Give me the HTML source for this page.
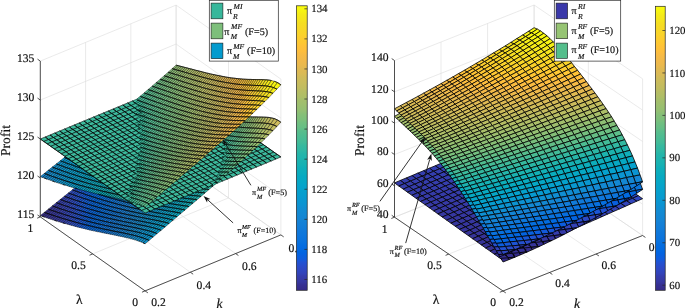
<!DOCTYPE html>
<html><head><meta charset="utf-8"><title>Profit surfaces</title>
<style>html,body{margin:0;padding:0;background:#fff}svg{display:block}text{stroke:#111;stroke-width:.18px;text-rendering:geometricPrecision}</style></head>
<body>
<svg width="685" height="308" viewBox="0 0 685 308" font-family="'Liberation Serif', serif" fill="#111">
<rect width="685" height="308" fill="#fff"/>
<g id="left">
<line x1="40.3" y1="216.9" x2="145.1" y2="290.9" stroke="#dcdcdc" stroke-width="0.6"/>
<line x1="85.57" y1="198.23" x2="190.37" y2="272.23" stroke="#dcdcdc" stroke-width="0.6"/>
<line x1="130.83" y1="179.57" x2="235.63" y2="253.57" stroke="#dcdcdc" stroke-width="0.6"/>
<line x1="176.1" y1="160.9" x2="280.9" y2="234.9" stroke="#dcdcdc" stroke-width="0.6"/>
<line x1="40.3" y1="216.9" x2="176.1" y2="160.9" stroke="#dcdcdc" stroke-width="0.6"/>
<line x1="92.7" y1="253.9" x2="228.5" y2="197.9" stroke="#dcdcdc" stroke-width="0.6"/>
<line x1="145.1" y1="290.9" x2="280.9" y2="234.9" stroke="#dcdcdc" stroke-width="0.6"/>
<line x1="40.3" y1="216.9" x2="40.3" y2="61.1" stroke="#dcdcdc" stroke-width="0.6"/>
<line x1="85.57" y1="198.23" x2="85.57" y2="42.43" stroke="#dcdcdc" stroke-width="0.6"/>
<line x1="130.83" y1="179.57" x2="130.83" y2="23.77" stroke="#dcdcdc" stroke-width="0.6"/>
<line x1="176.1" y1="160.9" x2="176.1" y2="5.1" stroke="#dcdcdc" stroke-width="0.6"/>
<line x1="40.3" y1="216.9" x2="176.1" y2="160.9" stroke="#dcdcdc" stroke-width="0.6"/>
<line x1="40.3" y1="177.95" x2="176.1" y2="121.95" stroke="#dcdcdc" stroke-width="0.6"/>
<line x1="40.3" y1="139" x2="176.1" y2="83" stroke="#dcdcdc" stroke-width="0.6"/>
<line x1="40.3" y1="100.05" x2="176.1" y2="44.05" stroke="#dcdcdc" stroke-width="0.6"/>
<line x1="40.3" y1="61.1" x2="176.1" y2="5.1" stroke="#dcdcdc" stroke-width="0.6"/>
<line x1="176.1" y1="160.9" x2="176.1" y2="5.1" stroke="#dcdcdc" stroke-width="0.6"/>
<line x1="228.5" y1="197.9" x2="228.5" y2="42.1" stroke="#dcdcdc" stroke-width="0.6"/>
<line x1="280.9" y1="234.9" x2="280.9" y2="79.1" stroke="#dcdcdc" stroke-width="0.6"/>
<line x1="176.1" y1="160.9" x2="280.9" y2="234.9" stroke="#dcdcdc" stroke-width="0.6"/>
<line x1="176.1" y1="121.95" x2="280.9" y2="195.95" stroke="#dcdcdc" stroke-width="0.6"/>
<line x1="176.1" y1="83" x2="280.9" y2="157" stroke="#dcdcdc" stroke-width="0.6"/>
<line x1="176.1" y1="44.05" x2="280.9" y2="118.05" stroke="#dcdcdc" stroke-width="0.6"/>
<line x1="176.1" y1="5.1" x2="280.9" y2="79.1" stroke="#dcdcdc" stroke-width="0.6"/>
<g stroke="#000" stroke-width="0.42" stroke-linejoin="round">
<path d="M172.1 68.7l1.9 .5 4-3.6-1.9-.5z" fill="#8fbf74"/>
<path d="M168.1 72.3l1.9 .5 4-3.6-1.9-.5z" fill="#87bf77"/>
<path d="M174 69.2l1.9 .6 4-3.7-1.9-.5z" fill="#93bf72"/>
<path d="M164.1 75.8l1.9 .6 4-3.6-1.9-.5z" fill="#7ebf7b"/>
<path d="M170 72.8l1.9 .6 4-3.6-1.9-.6z" fill="#8abf76"/>
<path d="M160.1 79.3l1.9 .6 4-3.5-1.9-.6z" fill="#74bf7f"/>
<path d="M175.9 69.8l1.9 .5 4-3.7-1.9-.5z" fill="#97bf71"/>
<path d="M166 76.4l2 .6 3.9-3.6-1.9-.6z" fill="#81bf79"/>
<path d="M156.1 82.7l2 .7 3.9-3.5-1.9-.6z" fill="#6bbf83"/>
<path d="M171.9 73.4l2 .6 3.9-3.7-1.9-.5z" fill="#8ebf74"/>
<path d="M162 79.9l2 .6 4-3.5-2-.6z" fill="#78bf7d"/>
<path d="M177.8 70.3l2 .5 3.9-3.7-1.9-.5z" fill="#9abf6f"/>
<path d="M152.1 86.2l2 .6 4-3.4-2-.7z" fill="#62be87"/>
<path d="M168 77l1.9 .6 4-3.6-2-.6z" fill="#85bf78"/>
<path d="M158.1 83.4l1.9 .6 4-3.5-2-.6z" fill="#6fbf81"/>
<path d="M173.9 74l1.9 .6 4-3.8-2-.5z" fill="#91bf73"/>
<path d="M148.1 89.6l2 .7 4-3.5-2-.6z" fill="#59bd8c"/>
<path d="M164 80.5l1.9 .7 4-3.6-1.9-.6z" fill="#7cbf7c"/>
<path d="M179.8 70.8l1.9 .6 3.9-3.8-1.9-.5z" fill="#9dbe6e"/>
<path d="M154.1 86.8l1.9 .7 4-3.5-1.9-.6z" fill="#66be85"/>
<path d="M169.9 77.6l1.9 .6 4-3.6-1.9-.6z" fill="#88bf76"/>
<path d="M144.1 93l2 .7 4-3.4-2-.7z" fill="#50bc90"/>
<path d="M160 84l1.9 .7 4-3.5-1.9-.7z" fill="#73bf80"/>
<path d="M175.8 74.6l1.9 .5 4-3.7-1.9-.6z" fill="#95bf71"/>
<path d="M150.1 90.3l1.9 .6 4-3.4-1.9-.7z" fill="#5cbe8a"/>
<path d="M165.9 81.2l1.9 .6 4-3.6-1.9-.6z" fill="#7fbf7a"/>
<path d="M181.7 71.4l1.9 .5 3.9-3.8-1.9-.5z" fill="#a1be6c"/>
<path d="M140.2 96.3l1.9 .7 4-3.3-2-.7z" fill="#48bb95"/>
<path d="M156 87.5l1.9 .7 4-3.5-1.9-.7z" fill="#69be84"/>
<path d="M171.8 78.2l1.9 .6 4-3.7-1.9-.5z" fill="#8cbf75"/>
<path d="M146.1 93.7l1.9 .6 4-3.4-1.9-.6z" fill="#53bd8e"/>
<path d="M161.9 84.7l1.9 .6 4-3.5-1.9-.6z" fill="#76bf7e"/>
<path d="M177.7 75.1l1.9 .6 4-3.8-1.9-.5z" fill="#98bf70"/>
<path d="M152 90.9l2 .7 3.9-3.4-1.9-.7z" fill="#60be88"/>
<path d="M136.7 99.9l1.4 .5 4-3.4-1.9-.7-3.6 3z" fill="#40ba99" stroke="#40ba99" stroke-width=".3"/>
<path d="M136.7 99.9l1.4 .5M138.1 100.4l4-3.4M142.1 97l-1.9-.7M140.2 96.3l-3.6 3" fill="none"/>
<path d="M167.8 81.8l1.9 .6 4-3.6-1.9-.6z" fill="#83bf79"/>
<path d="M183.6 71.9l1.9 .6 3.9-3.9-1.9-.5z" fill="#a4be6b"/>
<path d="M142.1 97l1.9 .7 4-3.4-1.9-.6z" fill="#4bbc93"/>
<path d="M157.9 88.2l2 .6 3.9-3.5-1.9-.6z" fill="#6dbf82"/>
<path d="M173.7 78.8l1.9 .6 4-3.7-1.9-.6z" fill="#8fbf74"/>
<path d="M137.3 102.9l3.5-1.4-3.5-2.5-.7 .3z" fill="#3bb99c" stroke="#3bb99c" stroke-width=".3"/>
<path d="M137.3 102.9l3.5-1.4M140.8 101.5l-3.5-2.5M137.3 99l-.7 .3" fill="none"/>
<path d="M148 94.3l2 .7 4-3.4-2-.7z" fill="#57bd8d"/>
<path d="M137 101.3l1.1-.9-1.4-.5z" fill="#38b99e" stroke="#38b99e" stroke-width=".3"/>
<path d="M137 101.3l1.1-.9M138.1 100.4l-1.4-.5" fill="none"/>
<path d="M163.8 85.3l2 .7 3.9-3.6-1.9-.6z" fill="#7abf7d"/>
<path d="M179.6 75.7l1.9 .6 4-3.8-1.9-.6z" fill="#9bbf6f"/>
<path d="M154 91.6l1.9 .7 4-3.5-2-.6z" fill="#64be86"/>
<path d="M138.1 100.4l2 .7 3.9-3.4-1.9-.7z" fill="#43bb97"/>
<path d="M169.7 82.4l2 .7 3.9-3.7-1.9-.6z" fill="#86bf77"/>
<path d="M185.5 72.5l1.9 .5 4-3.9-2-.5z" fill="#a7be6a"/>
<path d="M132.4 101l3.5 2.5 1.4-.6-.7-3.6z" fill="#3bb99c" stroke="#3bb99c" stroke-width=".3"/>
<path d="M132.4 101l3.5 2.5M135.9 103.5l1.4-.6M136.6 99.3l-4.2 1.7" fill="none"/>
<path d="M144 97.7l2 .7 4-3.4-2-.7z" fill="#4ebc91"/>
<path d="M159.9 88.8l1.9 .7 4-3.5-2-.7z" fill="#70bf80"/>
<path d="M175.6 79.4l2 .6 3.9-3.7-1.9-.6z" fill="#92bf72"/>
<path d="M137.3 103.4l2.8-2.3-2-.7-1.1 .9z" fill="#3bb99c" stroke="#3bb99c" stroke-width=".3"/>
<path d="M137.3 103.4l2.8-2.3M140.1 101.1l-2-.7M138.1 100.4l-1.1 .9" fill="none"/>
<path d="M150 95l1.9 .7 4-3.4-1.9-.7z" fill="#5abd8b"/>
<path d="M165.8 86l1.9 .6 4-3.5-2-.7z" fill="#7dbf7b"/>
<path d="M181.5 76.3l1.9 .6 4-3.9-1.9-.5z" fill="#9ebe6d"/>
<path d="M134.1 103.7l2 .7 1.2-1-.3-2.1z" fill="#3bb99c" stroke="#3bb99c" stroke-width=".3"/>
<path d="M134.1 103.7l2 .7M136.1 104.4l1.2-1M137 101.3l-2.9 2.4" fill="none"/>
<path d="M155.9 92.3l1.9 .7 4-3.5-1.9-.7z" fill="#67be85"/>
<path d="M140.1 101.1l1.9 .7 4-3.4-2-.7z" fill="#46bb96"/>
<path d="M171.7 83.1l1.9 .6 4-3.7-2-.6z" fill="#89bf76"/>
<path d="M127.6 103l3.5 2.5 4.8-2-3.5-2.5z" fill="#3bb99c" stroke-width=".56"/>
<path d="M187.4 73l1.9 .6 4-4-1.9-.5z" fill="#abbe69"/>
<path d="M146 98.4l1.9 .7 4-3.4-1.9-.7z" fill="#52bd8f"/>
<path d="M161.8 89.5l1.9 .7 4-3.6-1.9-.6z" fill="#74bf7f"/>
<path d="M130.1 107l2 .7 4-3.3-2-.7z" fill="#34b8a0"/>
<path d="M177.6 80l1.9 .6 3.9-3.7-1.9-.6z" fill="#96bf71"/>
<path d="M135.9 103.5l1.7 1.1-.3-1.7z" fill="#3bb99c" stroke="#3bb99c" stroke-width=".3"/>
<path d="M135.9 103.5l1.7 1.1M137.3 102.9l-1.4 .6" fill="none"/>
<path d="M137.6 104.6l1.8 1.3 4.9-2-3.5-2.4-3.5 1.4z" fill="#3bb99c" stroke="#3bb99c" stroke-width=".3"/>
<path d="M137.6 104.6l1.8 1.3M139.4 105.9l4.9-2M144.3 103.9l-3.5-2.4M140.8 101.5l-3.5 1.4" fill="none"/>
<path d="M151.9 95.7l2 .7 3.9-3.4-1.9-.7z" fill="#5ebe89"/>
<path d="M167.7 86.6l1.9 .7 4-3.6-1.9-.6z" fill="#80bf7a"/>
<path d="M136.1 104.4l1.5 .6-.3-1.6z" fill="#3eba9a" stroke="#3eba9a" stroke-width=".3"/>
<path d="M136.1 104.4l1.5 .6M137.3 103.4l-1.2 1" fill="none"/>
<path d="M137.6 105l.4 .1 4-3.3-1.9-.7-2.8 2.3z" fill="#3eba9a" stroke="#3eba9a" stroke-width=".3"/>
<path d="M137.6 105l.4 .1M138 105.1l4-3.3M142 101.8l-1.9-.7M140.1 101.1l-2.8 2.3" fill="none"/>
<path d="M183.4 76.9l2 .6 3.9-3.9-1.9-.6z" fill="#a2be6c"/>
<path d="M157.8 93l2 .6 3.9-3.4-1.9-.7z" fill="#6bbe83"/>
<path d="M142 101.8l2 .7 3.9-3.4-1.9-.7z" fill="#49bc94"/>
<path d="M173.6 83.7l1.9 .6 4-3.7-1.9-.6z" fill="#8dbf75"/>
<path d="M72.3 189.9l2 .7 4-3.2-2.1-.8z" fill="#264ecd"/>
<path d="M189.3 73.6l1.9 .5 4-4-1.9-.5z" fill="#aebe67"/>
<path d="M147.9 99.1l2 .7 4-3.4-2-.7z" fill="#55bd8e"/>
<path d="M163.7 90.2l2 .6 3.9-3.5-1.9-.7z" fill="#77bf7d"/>
<path d="M179.5 80.6l1.9 .7 4-3.8-2-.6z" fill="#99bf70"/>
<path d="M122.8 105l3.4 2.5 4.9-2-3.5-2.5z" fill="#3bb99c" stroke-width=".56"/>
<path d="M153.9 96.4l1.9 .7 4-3.5-2-.6z" fill="#61be87"/>
<path d="M169.6 87.3l2 .6 3.9-3.6-1.9-.6z" fill="#84bf78"/>
<path d="M138 105.1l2 .7 4-3.3-2-.7z" fill="#41ba98"/>
<path d="M131.1 105.5l3.5 2.4 3.3-1.3-.3-2-1.7-1.1z" fill="#3bb99c" stroke="#3bb99c" stroke-width=".3"/>
<path d="M131.1 105.5l3.5 2.4M134.6 107.9l3.3-1.3M137.6 104.6l-1.7-1.1M135.9 103.5l-4.8 2" fill="none"/>
<path d="M137.9 106.6l1.5-.7-1.8-1.3z" fill="#3bb99c" stroke="#3bb99c" stroke-width=".3"/>
<path d="M137.9 106.6l1.5-.7M139.4 105.9l-1.8-1.3" fill="none"/>
<path d="M185.4 77.5l1.9 .5 3.9-3.9-1.9-.5z" fill="#a5be6b"/>
<path d="M68.3 193.1l2 .7 4-3.2-2-.7z" fill="#2d49c4"/>
<path d="M159.8 93.6l1.9 .7 4-3.5-2-.6z" fill="#6ebf81"/>
<path d="M144 102.5l1.9 .7 4-3.4-2-.7z" fill="#4cbc92"/>
<path d="M175.5 84.3l1.9 .6 4-3.6-1.9-.7z" fill="#90bf73"/>
<path d="M138 107.4l2-1.6-2-.7-.3 .3z" fill="#3ab99d" stroke="#3ab99d" stroke-width=".3"/>
<path d="M138 107.4l2-1.6M140 105.8l-2-.7M138 105.1l-.3 .3" fill="none"/>
<path d="M74.3 190.6l2 .7 4-3.2-2-.7z" fill="#2351d1"/>
<path d="M191.2 74.1l1.9 .6 4-4.1-1.9-.5z" fill="#b1bd66"/>
<path d="M149.9 99.8l1.9 .7 4-3.4-1.9-.7z" fill="#58bd8c"/>
<path d="M165.7 90.8l1.9 .7 4-3.6-2-.6z" fill="#7bbf7c"/>
<path d="M181.4 81.3l1.9 .6 4-3.9-1.9-.5z" fill="#9cbf6e"/>
<path d="M134 108.4l2 .8 2-1.8-.3-2z" fill="#3ab99d" stroke="#3ab99d" stroke-width=".3"/>
<path d="M134 108.4l2 .8M136 109.2l2-1.8M137.7 105.4l-3.7 3" fill="none"/>
<path d="M64.3 196.3l2 .7 4-3.2-2-.7z" fill="#3144bb"/>
<path d="M155.8 97.1l1.9 .7 4-3.5-1.9-.7z" fill="#65be86"/>
<path d="M171.6 87.9l1.9 .7 3.9-3.7-1.9-.6z" fill="#87bf77"/>
<path d="M140 105.8l1.9 .7 4-3.3-1.9-.7z" fill="#44bb96"/>
<path d="M117.9 107l3.5 2.5 4.8-2-3.4-2.5z" fill="#3bb99c" stroke-width=".56"/>
<path d="M187.3 78l1.9 .6 3.9-3.9-1.9-.6z" fill="#a8be6a"/>
<path d="M70.3 193.8l2 .7 4-3.2-2-.7z" fill="#2a4bc8"/>
<path d="M161.7 94.3l1.9 .7 4-3.5-1.9-.7z" fill="#72bf80"/>
<path d="M145.9 103.2l2 .7 3.9-3.4-1.9-.7z" fill="#50bc90"/>
<path d="M126.2 107.5l3.5 2.4 4.9-2-3.5-2.4z" fill="#3bb99c" stroke-width=".56"/>
<path d="M177.4 84.9l2 .7 3.9-3.7-1.9-.6z" fill="#93bf72"/>
<path d="M138.5 110.2l4.4-1.8-3.5-2.5-1.5 .7z" fill="#3bb99c" stroke="#3bb99c" stroke-width=".3"/>
<path d="M138.5 110.2l4.4-1.8M142.9 108.4l-3.5-2.5M139.4 105.9l-1.5 .7" fill="none"/>
<path d="M76.3 191.3l2 .7 4-3.2-2-.7z" fill="#1f53d4"/>
<path d="M138.4 109.5l3.5-3-1.9-.7-2 1.6z" fill="#3dba9b" stroke="#3dba9b" stroke-width=".3"/>
<path d="M138.4 109.5l3.5-3M141.9 106.5l-1.9-.7M140 105.8l-2 1.6" fill="none"/>
<path d="M60.3 199.5l2 .7 4-3.2-2-.7z" fill="#3440b3"/>
<path d="M193.1 74.7l1.9 .5 4-4.2-1.9-.4z" fill="#b4bd65"/>
<path d="M151.8 100.5l2 .7 3.9-3.4-1.9-.7z" fill="#5cbe8a"/>
<path d="M167.6 91.5l1.9 .6 4-3.5-1.9-.7z" fill="#7ebf7b"/>
<path d="M183.3 81.9l1.9 .6 4-3.9-1.9-.6z" fill="#9fbe6d"/>
<path d="M66.3 197l2 .7 4-3.2-2-.7z" fill="#2f47bf"/>
<path d="M157.7 97.8l2 .6 3.9-3.4-1.9-.7z" fill="#69be84"/>
<path d="M173.5 88.6l1.9 .6 4-3.6-2-.7z" fill="#8abf76"/>
<path d="M141.9 106.5l2 .7 4-3.3-2-.7z" fill="#48bb95"/>
<path d="M134.6 107.9l3.5 2.5 .4-.2-.6-3.6z" fill="#3bb99c" stroke="#3bb99c" stroke-width=".3"/>
<path d="M134.6 107.9l3.5 2.5M138.1 110.4l.4-.2M137.9 106.6l-3.3 1.3" fill="none"/>
<path d="M189.2 78.6l1.9 .6 3.9-4-1.9-.5z" fill="#abbe68"/>
<path d="M72.3 194.5l2 .7 4-3.2-2-.7z" fill="#274ecc"/>
<path d="M113 109l3.5 2.5 4.9-2-3.5-2.5z" fill="#3bb99c" stroke-width=".56"/>
<path d="M163.6 95l2 .7 3.9-3.6-1.9-.6z" fill="#75bf7e"/>
<path d="M56.3 202.7l2 .8 4-3.3-2-.7z" fill="#353caa"/>
<path d="M147.9 103.9l1.9 .7 4-3.4-2-.7z" fill="#53bd8e"/>
<path d="M179.4 85.6l1.9 .6 3.9-3.7-1.9-.6z" fill="#96bf71"/>
<path d="M132 112.5l2 .7 4-3.3-2-.7z" fill="#36b89f"/>
<path d="M121.4 109.5l3.5 2.4 4.8-2-3.5-2.4z" fill="#3bb99c" stroke-width=".56"/>
<path d="M138 109.9l.5 .2-.1-.6z" fill="#40ba99" stroke="#40ba99" stroke-width=".3"/>
<path d="M138 109.9l.5 .2M138.4 109.5l-.4 .4" fill="none"/>
<path d="M78.3 192l2 .7 4-3.2-2-.7z" fill="#1956d7"/>
<path d="M195 75.2l2 .5 3.9-4.2-1.9-.5z" fill="#b7bd63"/>
<path d="M153.8 101.2l1.9 .7 4-3.5-2-.6z" fill="#60be88"/>
<path d="M169.5 92.1l2 .7 3.9-3.6-1.9-.6z" fill="#82bf79"/>
<path d="M62.3 200.2l2 .8 4-3.3-2-.7z" fill="#3342b7"/>
<path d="M138.5 110.1l1.4 .5 4-3.4-2-.7-3.5 3z" fill="#40ba99" stroke="#40ba99" stroke-width=".3"/>
<path d="M138.5 110.1l1.4 .5M139.9 110.6l4-3.4M143.9 107.2l-2-.7M141.9 106.5l-3.5 3" fill="none"/>
<path d="M185.2 82.5l2 .6 3.9-3.9-1.9-.6z" fill="#a2be6c"/>
<path d="M129.7 109.9l3.5 2.5 4.9-2-3.5-2.5z" fill="#3bb99c" stroke-width=".56"/>
<path d="M159.7 98.4l1.9 .7 4-3.4-2-.7z" fill="#6cbf82"/>
<path d="M68.3 197.7l2.1 .8 3.9-3.3-2-.7z" fill="#2d49c3"/>
<path d="M175.4 89.2l1.9 .6 4-3.6-1.9-.6z" fill="#8ebf74"/>
<path d="M143.9 107.2l1.9 .7 4-3.3-1.9-.7z" fill="#4bbc93"/>
<path d="M52.3 205.9l2 .8 4-3.2-2-.8z" fill="#3637a2"/>
<path d="M138.6 110.8l3 2.1 4.8-2-3.5-2.5-4.4 1.8z" fill="#3bb99c" stroke="#3bb99c" stroke-width=".3"/>
<path d="M138.6 110.8l3 2.1M141.6 112.9l4.8-2M146.4 110.9l-3.5-2.5M142.9 108.4l-4.4 1.8" fill="none"/>
<path d="M191.1 79.2l1.9 .6 4-4.1-2-.5z" fill="#aebe67"/>
<path d="M165.6 95.7l1.9 .6 4-3.5-2-.7z" fill="#79bf7d"/>
<path d="M74.3 195.2l2.1 .7 3.9-3.2-2-.7z" fill="#2350d0"/>
<path d="M134 113.2l2 .7 2.7-2.3-.2-1.5-.5-.2z" fill="#38b99d" stroke="#38b99d" stroke-width=".3"/>
<path d="M134 113.2l2 .7M136 113.9l2.7-2.3M138.5 110.1l-.5-.2M138 109.9l-4 3.3" fill="none"/>
<path d="M149.8 104.6l2 .7 3.9-3.4-1.9-.7z" fill="#57bd8d"/>
<path d="M58.3 203.5l2.1 .7 3.9-3.2-2-.8z" fill="#353eae"/>
<path d="M138.7 111.6l1.2-1-1.4-.5z" fill="#38b99d" stroke="#38b99d" stroke-width=".3"/>
<path d="M138.7 111.6l1.2-1M139.9 110.6l-1.4-.5" fill="none"/>
<path d="M181.3 86.2l1.9 .6 4-3.7-2-.6z" fill="#9abf6f"/>
<path d="M108.2 111l3.5 2.5 4.8-2-3.5-2.5z" fill="#3bb99c" stroke-width=".56"/>
<path d="M155.7 101.9l2 .7 3.9-3.5-1.9-.7z" fill="#63be87"/>
<path d="M80.3 192.7l2.1 .7 3.9-3.2-2-.7z" fill="#1459da"/>
<path d="M171.5 92.8l1.9 .6 3.9-3.6-1.9-.6z" fill="#85bf78"/>
<path d="M197 75.7l1.9 .6 3.9-4.3-1.9-.5z" fill="#bbbd62"/>
<path d="M64.3 201l2.1 .7 4-3.2-2.1-.8z" fill="#3144bb"/>
<path d="M139.9 110.6l2 .7 3.9-3.4-1.9-.7z" fill="#43bb97"/>
<path d="M48.3 209.2l2 .7 4-3.2-2-.8z" fill="#363399"/>
<path d="M187.2 83.1l1.9 .5 3.9-3.8-1.9-.6z" fill="#a5be6b"/>
<path d="M116.5 111.5l3.5 2.4 4.9-2-3.5-2.4z" fill="#3bb99c" stroke-width=".56"/>
<path d="M161.6 99.1l2 .7 3.9-3.5-1.9-.6z" fill="#70bf81"/>
<path d="M177.3 89.8l2 .7 3.9-3.7-1.9-.6z" fill="#91bf73"/>
<path d="M145.8 107.9l2 .7 4-3.3-2-.7z" fill="#4ebc91"/>
<path d="M70.4 198.5l2 .7 4-3.3-2.1-.7z" fill="#2b4bc7"/>
<path d="M54.3 206.7l2.1 .7 4-3.2-2.1-.7z" fill="#3639a5"/>
<path d="M124.9 111.9l3.5 2.5 4.8-2-3.5-2.5z" fill="#3bb99c" stroke-width=".56"/>
<path d="M193 79.8l1.9 .5 4-4-1.9-.6z" fill="#b1bd66"/>
<path d="M139.1 113.6l2.8-2.3-2-.7-1.2 1z" fill="#3bba9c" stroke="#3bba9c" stroke-width=".3"/>
<path d="M139.1 113.6l2.8-2.3M141.9 111.3l-2-.7M139.9 110.6l-1.2 1" fill="none"/>
<path d="M167.5 96.3l2 .7 3.9-3.6-1.9-.6z" fill="#7cbf7b"/>
<path d="M133.2 112.4l3.5 2.5 2.4-1-.5-3.1-.5-.4z" fill="#3bb99c" stroke="#3bb99c" stroke-width=".3"/>
<path d="M133.2 112.4l3.5 2.5M136.7 114.9l2.4-1M138.6 110.8l-.5-.4M138.1 110.4l-4.9 2" fill="none"/>
<path d="M151.8 105.3l1.9 .7 4-3.4-2-.7z" fill="#5abd8b"/>
<path d="M139.1 113.9l2.5-1-3-2.1z" fill="#3bb99c" stroke="#3bb99c" stroke-width=".3"/>
<path d="M139.1 113.9l2.5-1M141.6 112.9l-3-2.1" fill="none"/>
<path d="M76.4 195.9l2 .7 4-3.2-2.1-.7z" fill="#1f53d4"/>
<path d="M183.2 86.8l1.9 .6 4-3.8-1.9-.5z" fill="#9dbf6e"/>
<path d="M60.4 204.2l2 .7 4-3.2-2.1-.7z" fill="#3440b2"/>
<path d="M44.3 212.4l2 .7 4-3.2-2-.7z" fill="#362f91"/>
<path d="M136 113.9l1.9 .7 1.2-1-.4-2z" fill="#3bba9c" stroke="#3bba9c" stroke-width=".3"/>
<path d="M136 113.9l1.9 .7M137.9 114.6l1.2-1M138.7 111.6l-2.7 2.3" fill="none"/>
<path d="M157.7 102.6l1.9 .6 4-3.4-2-.7z" fill="#67be85"/>
<path d="M173.4 93.4l1.9 .7 4-3.6-2-.7z" fill="#88bf76"/>
<path d="M198.9 76.3l1.9 .5 3.9-4.3-1.9-.5z" fill="#bebc61"/>
<path d="M82.4 193.4l2 .7 3.9-3.2-2-.7z" fill="#0f5cdd"/>
<path d="M141.9 111.3l1.9 .7 4-3.4-2-.7z" fill="#46bb96"/>
<path d="M66.4 201.7l2 .7 4-3.2-2-.7z" fill="#2f46bf"/>
<path d="M50.3 209.9l2.1 .7 4-3.2-2.1-.7z" fill="#36359d"/>
<path d="M189.1 83.6l1.9 .6 3.9-3.9-1.9-.5z" fill="#a9be69"/>
<path d="M103.4 113l3.4 2.5 4.9-2-3.5-2.5z" fill="#3bb99c" stroke-width=".56"/>
<path d="M163.6 99.8l1.9 .7 4-3.5-2-.7z" fill="#73bf7f"/>
<path d="M179.3 90.5l1.9 .6 3.9-3.7-1.9-.6z" fill="#94bf72"/>
<path d="M147.8 108.6l2 .7 3.9-3.3-1.9-.7z" fill="#52bd8f"/>
<path d="M72.4 199.2l2 .7 4-3.3-2-.7z" fill="#274dcb"/>
<path d="M111.7 113.5l3.5 2.4 4.8-2-3.5-2.4z" fill="#3bb99c" stroke-width=".56"/>
<path d="M132 117.2l2 .7 3.9-3.3-1.9-.7z" fill="#34b8a0"/>
<path d="M56.4 207.4l2 .7 4-3.2-2-.7z" fill="#353ba9"/>
<path d="M40.3 215.6l2.1 .7 3.9-3.2-2-.7z" fill="#352b88"/>
<path d="M194.9 80.3l1.9 .6 4-4.1-1.9-.5z" fill="#b4bd65"/>
<path d="M169.5 97l1.9 .6 3.9-3.5-1.9-.7z" fill="#80bf7a"/>
<path d="M153.7 106l2 .6 3.9-3.4-1.9-.6z" fill="#5ebe89"/>
<path d="M120 113.9l3.5 2.5 4.9-2-3.5-2.5z" fill="#3bb99c" stroke-width=".56"/>
<path d="M185.1 87.4l2 .6 3.9-3.8-1.9-.6z" fill="#a0be6d"/>
<path d="M78.4 196.6l2 .7 4-3.2-2-.7z" fill="#1a56d7"/>
<path d="M137.9 114.6l1.4 .5-.2-1.5z" fill="#3eba9a" stroke="#3eba9a" stroke-width=".3"/>
<path d="M137.9 114.6l1.4 .5M139.1 113.6l-1.2 1" fill="none"/>
<path d="M62.4 204.9l2 .7 4-3.2-2-.7z" fill="#3342b6"/>
<path d="M139.3 115.1l.6 .2 3.9-3.3-1.9-.7-2.8 2.3z" fill="#3eba9a" stroke="#3eba9a" stroke-width=".3"/>
<path d="M139.3 115.1l.6 .2M139.9 115.3l3.9-3.3M143.8 112l-1.9-.7M141.9 111.3l-2.8 2.3" fill="none"/>
<path d="M46.3 213.1l2.1 .7 4-3.2-2.1-.7z" fill="#363195"/>
<path d="M159.6 103.2l2 .7 3.9-3.4-1.9-.7z" fill="#6abe83"/>
<path d="M175.3 94.1l2 .6 3.9-3.6-1.9-.6z" fill="#8cbf75"/>
<path d="M128.4 114.4l3.5 2.5 4.8-2-3.5-2.5z" fill="#3bb99c" stroke-width=".56"/>
<path d="M200.8 76.8l1.9 .5 3.9-4.3-1.9-.5z" fill="#c1bc60"/>
<path d="M143.8 112l2 .7 4-3.4-2-.7z" fill="#49bc94"/>
<path d="M84.4 194.1l2 .7 4-3.2-2.1-.7z" fill="#0b5edf"/>
<path d="M191 84.2l1.9 .6 3.9-3.9-1.9-.6z" fill="#acbe68"/>
<path d="M68.4 202.4l2 .7 4-3.2-2-.7z" fill="#2d48c3"/>
<path d="M52.4 210.6l2 .7 4-3.2-2-.7z" fill="#3637a1"/>
<path d="M165.5 100.5l1.9 .6 4-3.5-1.9-.6z" fill="#77bf7e"/>
<path d="M181.2 91.1l1.9 .6 4-3.7-2-.6z" fill="#97bf70"/>
<path d="M149.8 109.3l1.9 .7 4-3.4-2-.6z" fill="#55bd8e"/>
<path d="M136.7 114.9l2.8 2-.4-3z" fill="#3bb99c" stroke="#3bb99c" stroke-width=".3"/>
<path d="M136.7 114.9l2.8 2M139.1 113.9l-2.4 1" fill="none"/>
<path d="M98.5 115l3.5 2.5 4.8-2-3.4-2.5z" fill="#3bb99c" stroke-width=".56"/>
<path d="M139.5 116.9l.7 .4 4.9-2-3.5-2.4-2.5 1z" fill="#3bb99c" stroke="#3bb99c" stroke-width=".3"/>
<path d="M139.5 116.9l.7 .4M140.2 117.3l4.9-2M145.1 115.3l-3.5-2.4M141.6 112.9l-2.5 1" fill="none"/>
<path d="M134 117.9l1.9 .7 3.5-2.9-.1-.6-1.4-.5z" fill="#37b99e" stroke="#37b99e" stroke-width=".3"/>
<path d="M134 117.9l1.9 .7M135.9 118.6l3.5-2.9M139.3 115.1l-1.4-.5M137.9 114.6l-3.9 3.3" fill="none"/>
<path d="M74.4 199.9l2 .6 4-3.2-2-.7z" fill="#2450d0"/>
<path d="M58.4 208.1l2 .7 4-3.2-2-.7z" fill="#353dad"/>
<path d="M42.4 216.3l2 .7 4-3.2-2.1-.7z" fill="#352d8c"/>
<path d="M139.4 115.7l.5-.4-.6-.2z" fill="#37b99e" stroke="#37b99e" stroke-width=".3"/>
<path d="M139.4 115.7l.5-.4M139.9 115.3l-.6-.2" fill="none"/>
<path d="M196.8 80.9l2 .5 3.9-4.1-1.9-.5z" fill="#b8bd63"/>
<path d="M171.4 97.6l1.9 .7 4-3.6-2-.6z" fill="#83bf79"/>
<path d="M155.7 106.6l1.9 .7 4-3.4-2-.7z" fill="#61be87"/>
<path d="M106.8 115.5l3.5 2.4 4.9-2-3.5-2.4z" fill="#3bb99c" stroke-width=".56"/>
<path d="M187.1 88l1.9 .6 3.9-3.8-1.9-.6z" fill="#a3be6c"/>
<path d="M139.9 115.3l1.9 .7 4-3.3-2-.7z" fill="#41bb98"/>
<path d="M80.4 197.3l2 .7 4-3.2-2-.7z" fill="#1559da"/>
<path d="M64.4 205.6l2.1 .7 3.9-3.2-2-.7z" fill="#3244ba"/>
<path d="M48.4 213.8l2 .7 4-3.2-2-.7z" fill="#363399"/>
<path d="M115.2 115.9l3.5 2.5 4.8-2-3.5-2.5z" fill="#3bb99c" stroke-width=".56"/>
<path d="M161.6 103.9l1.9 .7 3.9-3.5-1.9-.6z" fill="#6ebf82"/>
<path d="M177.3 94.7l1.9 .7 3.9-3.7-1.9-.6z" fill="#8fbf74"/>
<path d="M202.7 77.3l1.9 .5 3.9-4.4-1.9-.4z" fill="#c4bc5e"/>
<path d="M145.8 112.7l2 .7 3.9-3.4-1.9-.7z" fill="#4dbc92"/>
<path d="M86.4 194.8l2 .7 4-3.2-2-.7z" fill="#0760e0"/>
<path d="M192.9 84.8l1.9 .6 4-4-2-.5z" fill="#afbe67"/>
<path d="M70.4 203.1l2.1 .6 3.9-3.2-2-.6z" fill="#2b4bc7"/>
<path d="M54.4 211.3l2.1 .7 3.9-3.2-2-.7z" fill="#3639a5"/>
<path d="M139.7 117.8l2.1-1.8-1.9-.7-.5 .4z" fill="#3ab99c" stroke="#3ab99c" stroke-width=".3"/>
<path d="M139.7 117.8l2.1-1.8M141.8 116l-1.9-.7M139.9 115.3l-.5 .4" fill="none"/>
<path d="M123.5 116.4l3.5 2.5 4.9-2-3.5-2.5z" fill="#3bb99c" stroke-width=".56"/>
<path d="M167.4 101.1l2 .7 3.9-3.5-1.9-.7z" fill="#7abf7c"/>
<path d="M183.1 91.7l2 .6 3.9-3.7-1.9-.6z" fill="#9bbf6f"/>
<path d="M151.7 110l2 .7 3.9-3.4-1.9-.7z" fill="#58bd8c"/>
<path d="M76.4 200.5l2.1 .7 3.9-3.2-2-.7z" fill="#2053d4"/>
<path d="M131.9 116.9l3.5 2.4 4.2-1.7-.1-.7-2.8-2z" fill="#3bb99c" stroke="#3bb99c" stroke-width=".3"/>
<path d="M131.9 116.9l3.5 2.4M135.4 119.3l4.2-1.7M139.5 116.9l-2.8-2M136.7 114.9l-4.8 2" fill="none"/>
<path d="M60.4 208.8l2.1 .7 4-3.2-2.1-.7z" fill="#343fb2"/>
<path d="M135.9 118.6l2 .7 1.8-1.5-.3-2.1z" fill="#3ab99c" stroke="#3ab99c" stroke-width=".3"/>
<path d="M135.9 118.6l2 .7M137.9 119.3l1.8-1.5M139.4 115.7l-3.5 2.9" fill="none"/>
<path d="M198.8 81.4l1.9 .5 3.9-4.1-1.9-.5z" fill="#bbbd62"/>
<path d="M44.4 217l2.1 .7 3.9-3.2-2-.7z" fill="#362f90"/>
<path d="M93.6 117l3.5 2.5 4.9-2-3.5-2.5z" fill="#3bb99c" stroke-width=".56"/>
<path d="M139.6 117.6l.6-.3-.7-.4z" fill="#3bb99c" stroke="#3bb99c" stroke-width=".3"/>
<path d="M139.6 117.6l.6-.3M140.2 117.3l-.7-.4" fill="none"/>
<path d="M173.3 98.3l2 .6 3.9-3.5-1.9-.7z" fill="#86bf77"/>
<path d="M157.6 107.3l2 .7 3.9-3.4-1.9-.7z" fill="#65be86"/>
<path d="M189 88.6l1.9 .6 3.9-3.8-1.9-.6z" fill="#a6be6a"/>
<path d="M141.8 116l2 .7 4-3.3-2-.7z" fill="#45bb96"/>
<path d="M82.4 198l2.1 .7 3.9-3.2-2-.7z" fill="#0f5cdd"/>
<path d="M140.2 117.3l3.5 2.5 4.9-2-3.5-2.5z" fill="#3bb99c" stroke-width=".56"/>
<path d="M66.5 206.3l2 .6 4-3.2-2.1-.6z" fill="#3046be"/>
<path d="M102 117.5l3.5 2.4 4.8-2-3.5-2.4z" fill="#3bb99c" stroke-width=".56"/>
<path d="M50.4 214.5l2.1 .7 4-3.2-2.1-.7z" fill="#36359d"/>
<path d="M163.5 104.6l2 .6 3.9-3.4-2-.7z" fill="#71bf80"/>
<path d="M179.2 95.4l1.9 .6 4-3.7-2-.6z" fill="#92bf72"/>
<path d="M147.8 113.4l1.9 .6 4-3.3-2-.7z" fill="#50bc90"/>
<path d="M204.6 77.8l1.9 .5 3.9-4.4-1.9-.5z" fill="#c7bc5d"/>
<path d="M194.8 85.4l2 .5 3.9-4-1.9-.5z" fill="#b2bd66"/>
<path d="M88.4 195.5l2 .6 4-3.2-2-.6z" fill="#0363e1"/>
<path d="M132 121.9l1.9 .7 4-3.3-2-.7z" fill="#33b8a0"/>
<path d="M110.3 117.9l3.5 2.5 4.9-2-3.5-2.5z" fill="#3bb99c" stroke-width=".56"/>
<path d="M72.5 203.7l2 .7 4-3.2-2.1-.7z" fill="#284dcb"/>
<path d="M56.5 212l2 .7 4-3.2-2.1-.7z" fill="#353ba9"/>
<path d="M169.4 101.8l1.9 .6 4-3.5-2-.6z" fill="#7ebf7b"/>
<path d="M185.1 92.3l1.9 .6 3.9-3.7-1.9-.6z" fill="#9ebe6e"/>
<path d="M153.7 110.7l1.9 .7 4-3.4-2-.7z" fill="#5cbe8a"/>
<path d="M139.9 119.9l3.9-3.2-2-.7-2.1 1.8z" fill="#3dba9b" stroke="#3dba9b" stroke-width=".3"/>
<path d="M139.9 119.9l3.9-3.2M143.8 116.7l-2-.7M141.8 116l-2.1 1.8" fill="none"/>
<path d="M118.7 118.4l3.5 2.5 4.8-2-3.5-2.5z" fill="#3bb99c" stroke-width=".56"/>
<path d="M78.5 201.2l2 .7 4-3.2-2.1-.7z" fill="#1a56d7"/>
<path d="M200.7 81.9l1.9 .6 3.9-4.2-1.9-.5z" fill="#bebc61"/>
<path d="M62.5 209.5l2 .6 4-3.2-2-.6z" fill="#3342b6"/>
<path d="M46.5 217.7l2 .7 4-3.2-2.1-.7z" fill="#363194"/>
<path d="M175.3 98.9l1.9 .7 3.9-3.6-1.9-.6z" fill="#8abf76"/>
<path d="M159.6 108l1.9 .7 4-3.5-2-.6z" fill="#68be84"/>
<path d="M140.1 121.3l3.6-1.5-3.5-2.5-.6 .3z" fill="#3bb99c" stroke="#3bb99c" stroke-width=".3"/>
<path d="M140.1 121.3l3.6-1.5M143.7 119.8l-3.5-2.5M140.2 117.3l-.6 .3" fill="none"/>
<path d="M190.9 89.2l1.9 .6 4-3.9-2-.5z" fill="#a9be69"/>
<path d="M143.8 116.7l2 .7 3.9-3.4-1.9-.6z" fill="#48bb94"/>
<path d="M127 118.9l3.5 2.4 4.9-2-3.5-2.4z" fill="#3bb99c" stroke-width=".56"/>
<path d="M88.8 119l3.5 2.5 4.8-2-3.5-2.5z" fill="#3bb99c" stroke-width=".56"/>
<path d="M84.5 198.7l2 .6 3.9-3.2-2-.6z" fill="#0b5ede"/>
<path d="M68.5 206.9l2 .7 4-3.2-2-.7z" fill="#2e48c3"/>
<path d="M52.5 215.2l2 .7 4-3.2-2-.7z" fill="#3637a1"/>
<path d="M165.5 105.2l1.9 .7 3.9-3.5-1.9-.6z" fill="#75bf7f"/>
<path d="M181.1 96l2 .6 3.9-3.7-1.9-.6z" fill="#95bf71"/>
<path d="M149.7 114l2 .7 3.9-3.3-1.9-.7z" fill="#54bd8e"/>
<path d="M206.5 78.3l1.9 .5 3.9-4.5-1.9-.4z" fill="#cabb5c"/>
<path d="M196.8 85.9l1.9 .6 3.9-4-1.9-.6z" fill="#b5bd65"/>
<path d="M97.1 119.5l3.5 2.4 4.9-2-3.5-2.4z" fill="#3bb99c" stroke-width=".56"/>
<path d="M90.4 196.1l2.1 .7 3.9-3.2-2-.7z" fill="#0364e1"/>
<path d="M64.3 157.6l2 .8 4-3.2-2-.7z" fill="#079bd0"/>
<path d="M74.5 204.4l2 .7 4-3.2-2-.7z" fill="#2450cf"/>
<path d="M171.3 102.4l2 .7 3.9-3.5-1.9-.7z" fill="#81bf79"/>
<path d="M58.5 212.7l2.1 .6 3.9-3.2-2-.6z" fill="#353dad"/>
<path d="M135.4 119.3l3.5 2.5 1.2-.5-.5-3.7z" fill="#3bb99c" stroke="#3bb99c" stroke-width=".3"/>
<path d="M135.4 119.3l3.5 2.5M138.9 121.8l1.2-.5M139.6 117.6l-4.2 1.7" fill="none"/>
<path d="M187 92.9l1.9 .6 3.9-3.7-1.9-.6z" fill="#a1be6d"/>
<path d="M155.6 111.4l2 .6 3.9-3.3-1.9-.7z" fill="#60be88"/>
<path d="M140 120l1.8 .7 4-3.3-2-.7-3.9 3.2z" fill="#40ba99" stroke="#40ba99" stroke-width=".3"/>
<path d="M140 120l1.8 .7M141.8 120.7l4-3.3M145.8 117.4l-2-.7M143.8 116.7l-3.9 3.2" fill="none"/>
<path d="M105.5 119.9l3.5 2.5 4.8-2-3.5-2.5z" fill="#3bb99c" stroke-width=".56"/>
<path d="M80.5 201.9l2 .6 4-3.2-2-.6z" fill="#1559da"/>
<path d="M202.6 82.5l1.9 .5 3.9-4.2-1.9-.5z" fill="#c1bc60"/>
<path d="M177.2 99.6l1.9 .6 4-3.6-2-.6z" fill="#8dbf75"/>
<path d="M64.5 210.1l2.1 .7 3.9-3.2-2-.7z" fill="#3244ba"/>
<path d="M161.5 108.7l2 .6 3.9-3.4-1.9-.7z" fill="#6cbf82"/>
<path d="M48.5 218.4l2.1 .7 3.9-3.2-2-.7z" fill="#363398"/>
<path d="M113.8 120.4l3.5 2.5 4.9-2-3.5-2.5z" fill="#3bb99c" stroke-width=".56"/>
<path d="M192.8 89.8l2 .6 3.9-3.9-1.9-.6z" fill="#acbe68"/>
<path d="M145.8 117.4l1.9 .7 4-3.4-2-.7z" fill="#4bbc93"/>
<path d="M86.5 199.3l2 .7 4-3.2-2.1-.7z" fill="#0760e0"/>
<path d="M60.3 160.8l2 .8 4-3.2-2-.8z" fill="#0998d1"/>
<path d="M70.5 207.6l2.1 .7 3.9-3.2-2-.7z" fill="#2b4bc7"/>
<path d="M167.4 105.9l1.9 .6 4-3.4-2-.7z" fill="#78bf7d"/>
<path d="M183.1 96.6l1.9 .6 3.9-3.7-1.9-.6z" fill="#98bf70"/>
<path d="M122.2 120.9l3.5 2.4 4.8-2-3.5-2.4z" fill="#3bb99c" stroke-width=".56"/>
<path d="M54.5 215.9l2.1 .6 4-3.2-2.1-.6z" fill="#3639a5"/>
<path d="M151.7 114.7l1.9 .7 4-3.4-2-.6z" fill="#57bd8c"/>
<path d="M135.9 123.3l2 .7 2.3-2-.2-2-.1 0z" fill="#39b99d" stroke="#39b99d" stroke-width=".3"/>
<path d="M135.9 123.3l2 .7M137.9 124l2.3-2M140 120l-.1 0M139.9 120l-4 3.3" fill="none"/>
<path d="M140.2 122l1.6-1.3-1.8-.7z" fill="#39b99d" stroke="#39b99d" stroke-width=".3"/>
<path d="M140.2 122l1.6-1.3M141.8 120.7l-1.8-.7" fill="none"/>
<path d="M208.4 78.8l1.9 .4 3.9-4.5-1.9-.4z" fill="#cebb5a"/>
<path d="M83.9 121l3.5 2.5 4.9-2-3.5-2.5z" fill="#3bb99c" stroke-width=".56"/>
<path d="M198.7 86.5l1.9 .5 3.9-4-1.9-.5z" fill="#b8bd63"/>
<path d="M92.5 196.8l2 .6 3.9-3.1-2-.7z" fill="#0266e1"/>
<path d="M66.3 158.4l2 .7 4-3.1-2-.8z" fill="#079cd0"/>
<path d="M173.3 103.1l1.9 .6 3.9-3.5-1.9-.6z" fill="#85bf78"/>
<path d="M130.5 121.3l3.5 2.5 4.9-2-3.5-2.5z" fill="#3bb99c" stroke-width=".56"/>
<path d="M76.5 205.1l2.1 .6 3.9-3.2-2-.6z" fill="#2053d4"/>
<path d="M188.9 93.5l1.9 .6 4-3.7-2-.6z" fill="#a4be6b"/>
<path d="M157.6 112l1.9 .7 4-3.4-2-.6z" fill="#63be86"/>
<path d="M60.6 213.3l2 .7 4-3.2-2.1-.7z" fill="#343fb2"/>
<path d="M92.3 121.5l3.5 2.4 4.8-2-3.5-2.4z" fill="#3bb99c" stroke-width=".56"/>
<path d="M141.8 120.7l2 .7 3.9-3.3-1.9-.7z" fill="#44bb97"/>
<path d="M98.4 194.3l2 .6 4-3.2-2-.7z" fill="#036be0"/>
<path d="M138.9 121.8l1.4 1-.2-1.5z" fill="#3bb99c" stroke="#3bb99c" stroke-width=".3"/>
<path d="M138.9 121.8l1.4 1M140.1 121.3l-1.2 .5" fill="none"/>
<path d="M204.5 83l1.9 .5 3.9-4.3-1.9-.4z" fill="#c4bc5e"/>
<path d="M140.3 122.8l2.1 1.5 4.8-2-3.5-2.5-3.6 1.5z" fill="#3bb99c" stroke="#3bb99c" stroke-width=".3"/>
<path d="M140.3 122.8l2.1 1.5M142.4 124.3l4.8-2M147.2 122.3l-3.5-2.5M143.7 119.8l-3.6 1.5" fill="none"/>
<path d="M82.5 202.5l2.1 .7 3.9-3.2-2-.7z" fill="#0f5cdd"/>
<path d="M179.1 100.2l2 .6 3.9-3.6-1.9-.6z" fill="#90bf73"/>
<path d="M163.5 109.3l1.9 .7 3.9-3.5-1.9-.6z" fill="#70bf81"/>
<path d="M56.3 164l2 .7 4-3.1-2-.8z" fill="#0b95d2"/>
<path d="M100.6 121.9l3.5 2.5 4.9-2-3.5-2.5z" fill="#3bb99c" stroke-width=".56"/>
<path d="M66.6 210.8l2 .7 4-3.2-2.1-.7z" fill="#3046be"/>
<path d="M50.6 219.1l2 .6 4-3.2-2.1-.6z" fill="#36359d"/>
<path d="M194.8 90.4l1.9 .5 3.9-3.9-1.9-.5z" fill="#afbe67"/>
<path d="M147.7 118.1l2 .6 3.9-3.3-1.9-.7z" fill="#4fbc91"/>
<path d="M88.5 200l2 .6 4-3.2-2-.6z" fill="#0363e1"/>
<path d="M109 122.4l3.5 2.5 4.8-2-3.5-2.5z" fill="#3bb99c" stroke-width=".56"/>
<path d="M169.3 106.5l2 .7 3.9-3.5-1.9-.6z" fill="#7cbf7b"/>
<path d="M185 97.2l1.9 .6 3.9-3.7-1.9-.6z" fill="#9cbf6f"/>
<path d="M62.3 161.6l2 .7 4-3.2-2-.7z" fill="#0899d1"/>
<path d="M72.6 208.3l2 .6 4-3.2-2.1-.6z" fill="#274dcb"/>
<path d="M140.4 124.2l3.4-2.8-2-.7-1.6 1.3z" fill="#3cba9b" stroke="#3cba9b" stroke-width=".3"/>
<path d="M140.4 124.2l3.4-2.8M143.8 121.4l-2-.7M141.8 120.7l-1.6 1.3" fill="none"/>
<path d="M153.6 115.4l2 .7 3.9-3.4-1.9-.7z" fill="#5bbd8b"/>
<path d="M56.6 216.5l2 .7 4-3.2-2-.7z" fill="#353ba9"/>
<path d="M210.3 79.2l1.9 .5 3.9-4.6-1.9-.4z" fill="#d1bb59"/>
<path d="M200.6 87l1.9 .6 3.9-4.1-1.9-.5z" fill="#bbbd62"/>
<path d="M117.3 122.9l3.5 2.4 4.9-2-3.5-2.4z" fill="#3bb99c" stroke-width=".56"/>
<path d="M94.5 197.4l2 .7 3.9-3.2-2-.6z" fill="#0268e1"/>
<path d="M175.2 103.7l2 .6 3.9-3.5-2-.6z" fill="#88bf77"/>
<path d="M68.3 159.1l2.1 .8 3.9-3.2-2-.7z" fill="#079dcf"/>
<path d="M79.1 123l3.5 2.5 4.8-2-3.5-2.5z" fill="#3bb99c" stroke-width=".56"/>
<path d="M190.8 94.1l2 .6 3.9-3.8-1.9-.5z" fill="#a7be6a"/>
<path d="M78.6 205.7l2 .7 4-3.2-2.1-.7z" fill="#1a56d7"/>
<path d="M159.5 112.7l2 .7 3.9-3.4-1.9-.7z" fill="#67be85"/>
<path d="M52.3 167.1l2 .8 4-3.2-2-.7z" fill="#0e92d2"/>
<path d="M137.9 124l2 .6 .5-.4-.2-2.2z" fill="#3cba9b" stroke="#3cba9b" stroke-width=".3"/>
<path d="M137.9 124l2 .6M139.9 124.6l.5-.4M140.2 122l-2.3 2" fill="none"/>
<path d="M62.6 214l2.1 .7 3.9-3.2-2-.7z" fill="#3342b6"/>
<path d="M143.8 121.4l2 .6 3.9-3.3-2-.6z" fill="#47bb95"/>
<path d="M125.7 123.3l3.5 2.5 4.8-2-3.5-2.5z" fill="#3bb99c" stroke-width=".56"/>
<path d="M100.4 194.9l2.1 .6 3.9-3.2-2-.6z" fill="#046ce0"/>
<path d="M206.4 83.5l1.9 .5 3.9-4.3-1.9-.5z" fill="#c7bc5d"/>
<path d="M87.4 123.5l3.5 2.4 4.9-2-3.5-2.4z" fill="#3bb99c" stroke-width=".56"/>
<path d="M181.1 100.8l1.9 .6 3.9-3.6-1.9-.6z" fill="#94bf72"/>
<path d="M165.4 110l2 .6 3.9-3.4-2-.7z" fill="#73bf7f"/>
<path d="M84.6 203.2l2 .6 3.9-3.2-2-.6z" fill="#0b5edf"/>
<path d="M58.3 164.7l2.1 .8 3.9-3.2-2-.7z" fill="#0a96d1"/>
<path d="M196.7 90.9l1.9 .6 3.9-3.9-1.9-.6z" fill="#b2bd65"/>
<path d="M68.6 211.5l2.1 .6 3.9-3.2-2-.6z" fill="#2d48c3"/>
<path d="M149.7 118.7l2 .7 3.9-3.3-2-.7z" fill="#52bd8f"/>
<path d="M134 123.8l3.5 2.5 3-1.3-.2-2.2-1.4-1z" fill="#3bb99c" stroke="#3bb99c" stroke-width=".3"/>
<path d="M134 123.8l3.5 2.5M137.5 126.3l3-1.3M140.3 122.8l-1.4-1M138.9 121.8l-4.9 2" fill="none"/>
<path d="M52.6 219.7l2.1 .7 3.9-3.2-2-.7z" fill="#3637a1"/>
<path d="M140.5 125l1.9-.7-2.1-1.5z" fill="#3bb99c" stroke="#3bb99c" stroke-width=".3"/>
<path d="M140.5 125l1.9-.7M142.4 124.3l-2.1-1.5" fill="none"/>
<path d="M133.9 127.2l2 .7 4-3.3-2-.6z" fill="#35b89f"/>
<path d="M95.8 123.9l3.5 2.5 4.8-2-3.5-2.5z" fill="#3bb99c" stroke-width=".56"/>
<path d="M171.3 107.2l1.9 .6 4-3.5-2-.6z" fill="#80bf7a"/>
<path d="M186.9 97.8l2 .6 3.9-3.7-2-.6z" fill="#9fbe6d"/>
<path d="M90.5 200.6l2.1 .7 3.9-3.2-2-.7z" fill="#0364e1"/>
<path d="M64.3 162.3l2.1 .8 4-3.2-2.1-.8z" fill="#089bd0"/>
<path d="M155.6 116.1l2 .6 3.9-3.3-2-.7z" fill="#5ebe89"/>
<path d="M74.6 208.9l2.1 .7 3.9-3.2-2-.7z" fill="#2450d0"/>
<path d="M48.3 170.3l2 .8 4-3.2-2-.8z" fill="#108ed2"/>
<path d="M139.9 124.6l.6 .3-.1-.7z" fill="#3fba99" stroke="#3fba99" stroke-width=".3"/>
<path d="M139.9 124.6l.6 .3M140.4 124.2l-.5 .4" fill="none"/>
<path d="M58.6 217.2l2.1 .6 4-3.1-2.1-.7z" fill="#353dae"/>
<path d="M212.2 79.7l2 .4 3.9-4.6-2-.4z" fill="#d4bb58"/>
<path d="M202.5 87.6l1.9 .5 3.9-4.1-1.9-.5z" fill="#bebc61"/>
<path d="M140.5 124.9l1.3 .4 4-3.3-2-.6-3.4 2.8z" fill="#3fba99" stroke="#3fba99" stroke-width=".3"/>
<path d="M140.5 124.9l1.3 .4M141.8 125.3l4-3.3M145.8 122l-2-.6M143.8 121.4l-3.4 2.8" fill="none"/>
<path d="M104.1 124.4l3.5 2.5 4.9-2-3.5-2.5z" fill="#3bb99c" stroke-width=".56"/>
<path d="M177.2 104.3l1.9 .6 3.9-3.5-1.9-.6z" fill="#8bbf75"/>
<path d="M96.5 198.1l2 .6 4-3.2-2.1-.6z" fill="#026ae1"/>
<path d="M192.8 94.7l1.9 .6 3.9-3.8-1.9-.6z" fill="#aabe69"/>
<path d="M161.5 113.4l1.9 .6 4-3.4-2-.6z" fill="#6bbe83"/>
<path d="M80.6 206.4l2 .6 4-3.2-2-.6z" fill="#1559da"/>
<path d="M54.3 167.9l2.1 .7 4-3.1-2.1-.8z" fill="#0c93d2"/>
<path d="M145.8 122l1.9 .7 4-3.3-2-.7z" fill="#4abc93"/>
<path d="M64.7 214.7l2 .6 4-3.2-2.1-.6z" fill="#3244ba"/>
<path d="M112.5 124.9l3.5 2.4 4.8-2-3.5-2.4z" fill="#3bb99c" stroke-width=".56"/>
<path d="M74.2 125l3.5 2.5 4.9-2-3.5-2.5z" fill="#3bb99c" stroke-width=".56"/>
<path d="M102.5 195.5l2 .7 3.9-3.2-2-.7z" fill="#056ee0"/>
<path d="M208.3 84l2 .5 3.9-4.4-2-.4z" fill="#cabb5c"/>
<path d="M183 101.4l2 .6 3.9-3.6-2-.6z" fill="#97bf71"/>
<path d="M167.4 110.6l1.9 .7 3.9-3.5-1.9-.6z" fill="#77bf7e"/>
<path d="M86.6 203.8l2 .7 4-3.2-2.1-.7z" fill="#0760e0"/>
<path d="M60.4 165.5l2 .7 4-3.1-2.1-.8z" fill="#0998d1"/>
<path d="M198.6 91.5l1.9 .5 3.9-3.9-1.9-.5z" fill="#b6bd64"/>
<path d="M151.7 119.4l1.9 .7 4-3.4-2-.6z" fill="#56bd8d"/>
<path d="M120.8 125.3l3.5 2.5 4.9-2-3.5-2.5z" fill="#3bb99c" stroke-width=".56"/>
<path d="M44.3 173.5l2 .7 4-3.1-2-.8z" fill="#128bd2"/>
<path d="M70.7 212.1l2 .6 4-3.1-2.1-.7z" fill="#2b4bc7"/>
<path d="M135.9 127.9l2 .7 2.7-2.3-.1-1.4-.6-.3z" fill="#38b99d" stroke="#38b99d" stroke-width=".3"/>
<path d="M135.9 127.9l2 .7M137.9 128.6l2.7-2.3M140.5 124.9l-.6-.3M139.9 124.6l-4 3.3" fill="none"/>
<path d="M54.7 220.4l2 .6 4-3.2-2.1-.6z" fill="#3639a5"/>
<path d="M82.6 125.5l3.5 2.4 4.8-2-3.5-2.4z" fill="#3bb99c" stroke-width=".56"/>
<path d="M140.6 126.3l1.2-1-1.3-.4z" fill="#38b99d" stroke="#38b99d" stroke-width=".3"/>
<path d="M140.6 126.3l1.2-1M141.8 125.3l-1.3-.4" fill="none"/>
<path d="M173.2 107.8l2 .6 3.9-3.5-1.9-.6z" fill="#83bf79"/>
<path d="M188.9 98.4l1.9 .6 3.9-3.7-1.9-.6z" fill="#a2be6c"/>
<path d="M92.6 201.3l2 .6 3.9-3.2-2-.6z" fill="#0266e1"/>
<path d="M66.4 163.1l2 .7 4-3.2-2-.7z" fill="#079cd0"/>
<path d="M157.6 116.7l1.9 .7 3.9-3.4-1.9-.6z" fill="#62be87"/>
<path d="M129.2 125.8l3.5 2.5 4.8-2-3.5-2.5z" fill="#3bb99c" stroke-width=".56"/>
<path d="M50.3 171.1l2.1 .7 4-3.2-2.1-.7z" fill="#0f90d2"/>
<path d="M76.7 209.6l2 .6 3.9-3.2-2-.6z" fill="#1f53d4"/>
<path d="M90.9 125.9l3.5 2.5 4.9-2-3.5-2.5z" fill="#3bb99c" stroke-width=".56"/>
<path d="M214.2 80.1l1.9 .5 3.9-4.7-1.9-.4z" fill="#d7ba56"/>
<path d="M141.8 125.3l2 .7 3.9-3.3-1.9-.7z" fill="#43bb97"/>
<path d="M204.4 88.1l2 .5 3.9-4.1-2-.5z" fill="#c1bc60"/>
<path d="M60.7 217.8l2 .7 4-3.2-2-.6z" fill="#3440b2"/>
<path d="M179.1 104.9l1.9 .7 4-3.6-2-.6z" fill="#8fbf74"/>
<path d="M98.5 198.7l2 .6 4-3.1-2-.7z" fill="#036be0"/>
<path d="M194.7 95.3l1.9 .5 3.9-3.8-1.9-.5z" fill="#adbe67"/>
<path d="M163.4 114l2 .7 3.9-3.4-1.9-.7z" fill="#6fbf81"/>
<path d="M137.5 126.3l3.3 2.3-.3-3.6z" fill="#3bb99c" stroke="#3bb99c" stroke-width=".3"/>
<path d="M137.5 126.3l3.3 2.3M140.5 125l-3 1.3" fill="none"/>
<path d="M99.3 126.4l3.5 2.5 4.8-2-3.5-2.5z" fill="#3bb99c" stroke-width=".56"/>
<path d="M56.4 168.6l2 .8 4-3.2-2-.7z" fill="#0b95d2"/>
<path d="M82.6 207l2.1 .6 3.9-3.1-2-.7z" fill="#0f5cdd"/>
<path d="M140.8 128.6l.2 .1 4.8-2-3.4-2.4-1.9 .7z" fill="#3bb99c" stroke="#3bb99c" stroke-width=".3"/>
<path d="M140.8 128.6l.2 .1M141 128.7l4.8-2M145.8 126.7l-3.4-2.4M142.4 124.3l-1.9 .7" fill="none"/>
<path d="M147.7 122.7l2 .7 3.9-3.3-1.9-.7z" fill="#4ebc91"/>
<path d="M40.3 176.6l2.1 .8 3.9-3.2-2-.7z" fill="#1388d3"/>
<path d="M66.7 215.3l2.1 .6 3.9-3.2-2-.6z" fill="#2f46bf"/>
<path d="M185 102l1.9 .6 3.9-3.6-1.9-.6z" fill="#9abf6f"/>
<path d="M210.3 84.5l1.9 .4 3.9-4.3-1.9-.5z" fill="#cebb5b"/>
<path d="M104.5 196.2l2 .6 3.9-3.2-2-.6z" fill="#076fdf"/>
<path d="M169.3 111.3l2 .6 3.9-3.5-2-.6z" fill="#7bbf7c"/>
<path d="M140.8 128.5l3-2.5-2-.7-1.2 1z" fill="#3cba9c" stroke="#3cba9c" stroke-width=".3"/>
<path d="M140.8 128.5l3-2.5M143.8 126l-2-.7M141.8 125.3l-1.2 1" fill="none"/>
<path d="M107.6 126.9l3.5 2.4 4.9-2-3.5-2.4z" fill="#3bb99c" stroke-width=".56"/>
<path d="M62.4 166.2l2 .8 4-3.2-2-.7z" fill="#0899d1"/>
<path d="M200.5 92l2 .6 3.9-4-2-.5z" fill="#b9bd63"/>
<path d="M153.6 120.1l2 .6 3.9-3.3-1.9-.7z" fill="#5abd8b"/>
<path d="M88.6 204.5l2 .6 4-3.2-2-.6z" fill="#0363e1"/>
<path d="M69.4 127l3.5 2.5 4.8-2-3.5-2.5z" fill="#3bb99c" stroke-width=".56"/>
<path d="M46.3 174.2l2.1 .8 4-3.2-2.1-.7z" fill="#118dd2"/>
<path d="M72.7 212.7l2 .7 4-3.2-2-.6z" fill="#274ecc"/>
<path d="M56.7 221l2.1 .7 3.9-3.2-2-.7z" fill="#353baa"/>
<path d="M175.2 108.4l1.9 .7 3.9-3.5-1.9-.7z" fill="#87bf77"/>
<path d="M190.8 99l1.9 .6 3.9-3.8-1.9-.5z" fill="#a5be6b"/>
<path d="M116 127.3l3.5 2.5 4.8-2-3.5-2.5z" fill="#3bb99c" stroke-width=".56"/>
<path d="M159.5 117.4l2 .6 3.9-3.3-2-.7z" fill="#66be85"/>
<path d="M68.4 163.8l2 .7 4-3.1-2-.8z" fill="#079dcf"/>
<path d="M137.9 128.6l2 .7 .9-.8-.2-2.2z" fill="#3cba9c" stroke="#3cba9c" stroke-width=".3"/>
<path d="M137.9 128.6l2 .7M139.9 129.3l.9-.8M140.6 126.3l-2.7 2.3" fill="none"/>
<path d="M94.6 201.9l2 .6 3.9-3.2-2-.6z" fill="#0268e1"/>
<path d="M77.7 127.5l3.5 2.4 4.9-2-3.5-2.4z" fill="#3bb99c" stroke-width=".56"/>
<path d="M52.4 171.8l2 .8 4-3.2-2-.8z" fill="#0e91d2"/>
<path d="M143.8 126l2 .7 3.9-3.3-2-.7z" fill="#46bb95"/>
<path d="M78.7 210.2l2 .6 4-3.2-2.1-.6z" fill="#1a56d7"/>
<path d="M206.4 88.6l1.9 .5 3.9-4.2-1.9-.4z" fill="#c4bc5e"/>
<path d="M216.1 80.6l1.9 .4 3.9-4.7-1.9-.4z" fill="#dbba55"/>
<path d="M62.7 218.5l2.1 .6 4-3.2-2.1-.6z" fill="#3342b6"/>
<path d="M124.3 127.8l3.5 2.5 4.9-2-3.5-2.5z" fill="#3bb99c" stroke-width=".56"/>
<path d="M181 105.6l2 .6 3.9-3.6-1.9-.6z" fill="#92bf72"/>
<path d="M165.4 114.7l2 .6 3.9-3.4-2-.6z" fill="#72bf80"/>
<path d="M196.6 95.8l2 .6 3.9-3.8-2-.6z" fill="#b0bd66"/>
<path d="M86.1 127.9l3.5 2.5 4.8-2-3.5-2.5z" fill="#3bb99c" stroke-width=".56"/>
<path d="M100.5 199.3l2.1 .7 3.9-3.2-2-.6z" fill="#046de0"/>
<path d="M58.4 169.4l2 .7 4-3.1-2-.8z" fill="#0a96d1"/>
<path d="M149.7 123.4l2 .6 3.9-3.3-2-.6z" fill="#51bd8f"/>
<path d="M84.7 207.6l2 .7 3.9-3.2-2-.6z" fill="#0b5edf"/>
<path d="M42.4 177.4l2 .7 4-3.1-2.1-.8z" fill="#1389d3"/>
<path d="M68.8 215.9l2 .7 3.9-3.2-2-.7z" fill="#2d49c3"/>
<path d="M132.7 128.3l3.4 2.4 4.7-1.9 0-.2-3.3-2.3z" fill="#3bb99c" stroke="#3bb99c" stroke-width=".3"/>
<path d="M132.7 128.3l3.4 2.4M136.1 130.7l4.7-1.9M140.8 128.6l-3.3-2.3M137.5 126.3l-4.8 2" fill="none"/>
<path d="M134 131.8l1.9 .7 4-3.2-2-.7z" fill="#35b8a0"/>
<path d="M186.9 102.6l1.9 .6 3.9-3.6-1.9-.6z" fill="#9dbe6e"/>
<path d="M94.4 128.4l3.5 2.5 4.9-2-3.5-2.5z" fill="#3bb99c" stroke-width=".56"/>
<path d="M212.2 84.9l1.9 .5 3.9-4.4-1.9-.4z" fill="#d1bb59"/>
<path d="M171.3 111.9l1.9 .6 3.9-3.4-1.9-.7z" fill="#7ebf7b"/>
<path d="M106.5 196.8l2 .6 3.9-3.2-2-.6z" fill="#0871de"/>
<path d="M202.5 92.6l1.9 .5 3.9-4-1.9-.5z" fill="#bcbd62"/>
<path d="M155.6 120.7l2 .7 3.9-3.4-2-.6z" fill="#5dbe89"/>
<path d="M64.4 167l2.1 .7 3.9-3.2-2-.7z" fill="#089ad0"/>
<path d="M90.6 205.1l2.1 .6 3.9-3.2-2-.6z" fill="#0265e1"/>
<path d="M48.4 175l2 .7 4-3.1-2-.8z" fill="#108ed2"/>
<path d="M139.9 129.3l1 .3-.1-1.1z" fill="#3fba9a" stroke="#3fba9a" stroke-width=".3"/>
<path d="M139.9 129.3l1 .3M140.8 128.5l-.9 .8" fill="none"/>
<path d="M74.7 213.4l2.1 .6 3.9-3.2-2-.6z" fill="#2351d0"/>
<path d="M140.9 129.6l.9 .3 4-3.2-2-.7-3 2.5z" fill="#3fba9a" stroke="#3fba9a" stroke-width=".3"/>
<path d="M140.9 129.6l.9 .3M141.8 129.9l4-3.2M145.8 126.7l-2-.7M143.8 126l-3 2.5" fill="none"/>
<path d="M102.8 128.9l3.5 2.4 4.8-2-3.5-2.4z" fill="#3bb99c" stroke-width=".56"/>
<path d="M58.8 221.7l2 .6 4-3.2-2.1-.6z" fill="#353eae"/>
<path d="M177.1 109.1l2 .6 3.9-3.5-2-.6z" fill="#8abf76"/>
<path d="M192.7 99.6l2 .5 3.9-3.7-2-.6z" fill="#a8be69"/>
<path d="M64.6 129l3.4 2.5 4.9-2-3.5-2.5z" fill="#3bb99c" stroke-width=".56"/>
<path d="M161.5 118l1.9 .7 4-3.4-2-.6z" fill="#6abe83"/>
<path d="M70.4 164.5l2.1 .7 3.9-3.1-2-.7z" fill="#069ece"/>
<path d="M96.6 202.5l2 .6 4-3.1-2.1-.7z" fill="#026ae1"/>
<path d="M54.4 172.6l2.1 .7 3.9-3.2-2-.7z" fill="#0d93d2"/>
<path d="M145.8 126.7l1.9 .6 4-3.3-2-.6z" fill="#4abc94"/>
<path d="M208.3 89.1l1.9 .5 3.9-4.2-1.9-.5z" fill="#c8bc5d"/>
<path d="M218 81l1.9 .4 3.9-4.8-1.9-.3z" fill="#deba53"/>
<path d="M80.7 210.8l2.1 .6 3.9-3.1-2-.7z" fill="#1459db"/>
<path d="M111.1 129.3l3.5 2.5 4.9-2-3.5-2.5z" fill="#3bb99c" stroke-width=".56"/>
<path d="M64.8 219.1l2.1 .6 3.9-3.1-2-.7z" fill="#3144bb"/>
<path d="M183 106.2l1.9 .5 3.9-3.5-1.9-.6z" fill="#95bf71"/>
<path d="M72.9 129.5l3.5 2.4 4.8-2-3.5-2.4z" fill="#3bb99c" stroke-width=".56"/>
<path d="M167.4 115.3l1.9 .6 3.9-3.4-1.9-.6z" fill="#76bf7e"/>
<path d="M198.6 96.4l1.9 .5 3.9-3.8-1.9-.5z" fill="#b4bd65"/>
<path d="M102.6 200l2 .6 3.9-3.2-2-.6z" fill="#066ee0"/>
<path d="M151.7 124l1.9 .7 4-3.3-2-.7z" fill="#55bd8d"/>
<path d="M60.4 170.1l2.1 .8 4-3.2-2.1-.7z" fill="#0998d1"/>
<path d="M119.5 129.8l3.5 2.5 4.8-2-3.5-2.5z" fill="#3bb99c" stroke-width=".56"/>
<path d="M86.7 208.3l2 .6 4-3.2-2.1-.6z" fill="#0661e0"/>
<path d="M44.4 178.1l2.1 .8 3.9-3.2-2-.7z" fill="#128bd3"/>
<path d="M81.2 129.9l3.5 2.5 4.9-2-3.5-2.5z" fill="#3bb99c" stroke-width=".56"/>
<path d="M70.8 216.6l2 .6 4-3.2-2.1-.6z" fill="#2a4bc8"/>
<path d="M188.8 103.2l2 .6 3.9-3.7-2-.5z" fill="#a1be6d"/>
<path d="M173.2 112.5l2 .6 3.9-3.4-2-.6z" fill="#82bf79"/>
<path d="M214.1 85.4l1.9 .4 3.9-4.4-1.9-.4z" fill="#d4bb58"/>
<path d="M141 132.6l3.5-1.4-3.5-2.5-.2 .1z" fill="#3bb99c" stroke="#3bb99c" stroke-width=".3"/>
<path d="M141 132.6l3.5-1.4M144.5 131.2l-3.5-2.5M141 128.7l-.2 .1" fill="none"/>
<path d="M108.5 197.4l2 .6 3.9-3.2-2-.6z" fill="#0a72de"/>
<path d="M157.6 121.4l1.9 .6 3.9-3.3-1.9-.7z" fill="#61be87"/>
<path d="M204.4 93.1l1.9 .5 3.9-4-1.9-.5z" fill="#bfbc60"/>
<path d="M66.5 167.7l2 .7 4-3.2-2.1-.7z" fill="#079cd0"/>
<path d="M127.8 130.3l3.5 2.4 4.8-2-3.4-2.4z" fill="#3bb99c" stroke-width=".56"/>
<path d="M92.7 205.7l2 .6 3.9-3.2-2-.6z" fill="#0267e1"/>
<path d="M50.4 175.7l2.1 .8 4-3.2-2.1-.7z" fill="#0f90d2"/>
<path d="M89.6 130.4l3.5 2.5 4.8-2-3.5-2.5z" fill="#3bb99c" stroke-width=".56"/>
<path d="M141.8 129.9l2 .7 3.9-3.3-1.9-.6z" fill="#42bb98"/>
<path d="M76.8 214l2 .6 4-3.2-2.1-.6z" fill="#1e53d5"/>
<path d="M179.1 109.7l1.9 .6 3.9-3.6-1.9-.5z" fill="#8dbf74"/>
<path d="M194.7 100.1l1.9 .6 3.9-3.8-1.9-.5z" fill="#acbe68"/>
<path d="M60.8 222.3l2.1 .6 4-3.2-2.1-.6z" fill="#3440b3"/>
<path d="M163.4 118.7l2 .6 3.9-3.4-1.9-.6z" fill="#6ebf82"/>
<path d="M72.5 165.2l2 .8 4-3.2-2.1-.7z" fill="#069fce"/>
<path d="M98.6 203.1l2 .6 4-3.1-2-.6z" fill="#036be0"/>
<path d="M97.9 130.9l3.5 2.4 4.9-2-3.5-2.4z" fill="#3bb99c" stroke-width=".56"/>
<path d="M147.7 127.3l2 .7 3.9-3.3-1.9-.7z" fill="#4dbc92"/>
<path d="M56.5 173.3l2 .7 4-3.1-2.1-.8z" fill="#0c94d2"/>
<path d="M210.2 89.6l1.9 .4 3.9-4.2-1.9-.4z" fill="#cbbb5c"/>
<path d="M219.9 81.4l1.9 .4 3.9-4.8-1.9-.4z" fill="#e1b952"/>
<path d="M59.7 131l3.5 2.5 4.8-2-3.4-2.5z" fill="#3bb99c" stroke-width=".56"/>
<path d="M82.8 211.4l2 .6 3.9-3.1-2-.6z" fill="#0e5cde"/>
<path d="M184.9 106.7l2 .6 3.9-3.5-2-.6z" fill="#99bf70"/>
<path d="M136.1 130.7l3.5 2.5 1.4-.6-.2-3.8z" fill="#3bb99c" stroke="#3bb99c" stroke-width=".3"/>
<path d="M136.1 130.7l3.5 2.5M139.6 133.2l1.4-.6M140.8 128.8l-4.7 1.9" fill="none"/>
<path d="M66.9 219.7l2 .6 3.9-3.1-2-.6z" fill="#2f47c0"/>
<path d="M169.3 115.9l2 .6 3.9-3.4-2-.6z" fill="#7abf7c"/>
<path d="M200.5 96.9l1.9 .5 3.9-3.8-1.9-.5z" fill="#b7bd64"/>
<path d="M141 132.9l2.8-2.3-2-.7-.9 .8z" fill="#3bb99c" stroke="#3bb99c" stroke-width=".3"/>
<path d="M141 132.9l2.8-2.3M143.8 130.6l-2-.7M141.8 129.9l-.9 .8" fill="none"/>
<path d="M106.3 131.3l3.5 2.5 4.8-2-3.5-2.5z" fill="#3bb99c" stroke-width=".56"/>
<path d="M153.6 124.7l2 .6 3.9-3.3-1.9-.6z" fill="#59bd8b"/>
<path d="M104.6 200.6l2 .5 3.9-3.1-2-.6z" fill="#0770df"/>
<path d="M62.5 170.9l2 .7 4-3.2-2-.7z" fill="#0899d1"/>
<path d="M68 131.5l3.5 2.4 4.9-2-3.5-2.4z" fill="#3bb99c" stroke-width=".56"/>
<path d="M46.5 178.9l2 .7 4-3.1-2.1-.8z" fill="#118cd2"/>
<path d="M88.7 208.9l2.1 .6 3.9-3.2-2-.6z" fill="#0363e1"/>
<path d="M190.8 103.8l1.9 .5 3.9-3.6-1.9-.6z" fill="#a4be6b"/>
<path d="M175.2 113.1l1.9 .6 3.9-3.4-1.9-.6z" fill="#86bf78"/>
<path d="M72.8 217.2l2.1 .6 3.9-3.2-2-.6z" fill="#264ecd"/>
<path d="M216 85.8l1.9 .5 3.9-4.5-1.9-.4z" fill="#d7ba56"/>
<path d="M114.6 131.8l3.5 2.5 4.9-2-3.5-2.5z" fill="#3bb99c" stroke-width=".56"/>
<path d="M159.5 122l2 .6 3.9-3.3-2-.6z" fill="#65be86"/>
<path d="M206.3 93.6l1.9 .5 3.9-4.1-1.9-.4z" fill="#c2bc5f"/>
<path d="M110.5 198l2 .6 3.9-3.2-2-.6z" fill="#0b74dd"/>
<path d="M137.9 133.2l2 .6 1.1-.9-.1-2.2z" fill="#3bb99c" stroke="#3bb99c" stroke-width=".3"/>
<path d="M137.9 133.2l2 .6M139.9 133.8l1.1-.9M140.9 130.7l-3 2.5" fill="none"/>
<path d="M76.4 131.9l3.5 2.5 4.8-2-3.5-2.5z" fill="#3bb99c" stroke-width=".56"/>
<path d="M68.5 168.4l2 .7 4-3.1-2-.8z" fill="#079dcf"/>
<path d="M143.8 130.6l2 .6 3.9-3.2-2-.7z" fill="#46bb96"/>
<path d="M94.7 206.3l2 .6 3.9-3.2-2-.6z" fill="#0268e1"/>
<path d="M52.5 176.5l2 .7 4-3.2-2-.7z" fill="#0e91d2"/>
<path d="M181 110.3l2 .5 3.9-3.5-2-.6z" fill="#91bf73"/>
<path d="M196.6 100.7l1.9 .5 3.9-3.8-1.9-.5z" fill="#afbe67"/>
<path d="M78.8 214.6l2.1 .6 3.9-3.2-2-.6z" fill="#1857d8"/>
<path d="M123 132.3l3.4 2.4 4.9-2-3.5-2.4z" fill="#3bb99c" stroke-width=".56"/>
<path d="M165.4 119.3l2 .6 3.9-3.4-2-.6z" fill="#71bf80"/>
<path d="M62.9 222.9l2.1 .6 3.9-3.2-2-.6z" fill="#3342b7"/>
<path d="M84.7 132.4l3.5 2.5 4.9-2-3.5-2.5z" fill="#3bb99c" stroke-width=".56"/>
<path d="M74.5 166l2 .7 4-3.2-2-.7z" fill="#06a1cd"/>
<path d="M149.7 128l2 .6 3.9-3.3-2-.6z" fill="#51bc90"/>
<path d="M100.6 203.7l2.1 .6 3.9-3.2-2-.5z" fill="#046de0"/>
<path d="M212.1 90l1.9 .5 3.9-4.2-1.9-.5z" fill="#cebb5a"/>
<path d="M58.5 174l2.1 .7 3.9-3.1-2-.7z" fill="#0a96d1"/>
<path d="M221.8 81.8l1.9 .3 3.9-4.8-1.9-.3z" fill="#e5b950"/>
<path d="M186.9 107.3l1.9 .6 3.9-3.6-1.9-.5z" fill="#9cbf6e"/>
<path d="M131.3 132.7l3.5 2.5 4.8-2-3.5-2.5z" fill="#3bb99c" stroke-width=".56"/>
<path d="M84.8 212l2 .6 4-3.1-2.1-.6z" fill="#0a5fdf"/>
<path d="M134 136.4l2 .7 3.9-3.3-2-.6z" fill="#35b8a0"/>
<path d="M171.3 116.5l1.9 .6 3.9-3.4-1.9-.6z" fill="#7dbf7b"/>
<path d="M202.4 97.4l1.9 .6 3.9-3.9-1.9-.5z" fill="#babd62"/>
<path d="M93.1 132.9l3.5 2.4 4.8-2-3.5-2.4z" fill="#3bb99c" stroke-width=".56"/>
<path d="M68.9 220.3l2.1 .6 3.9-3.1-2.1-.6z" fill="#2d49c4"/>
<path d="M155.6 125.3l2 .6 3.9-3.3-2-.6z" fill="#5dbe8a"/>
<path d="M54.8 133l3.5 2.5 4.9-2-3.5-2.5z" fill="#3bb99c" stroke-width=".56"/>
<path d="M106.6 201.1l2 .6 3.9-3.1-2-.6z" fill="#0971de"/>
<path d="M64.5 171.6l2.1 .7 3.9-3.2-2-.7z" fill="#089ad0"/>
<path d="M139.6 133.2l1.5 1-.1-1.6z" fill="#3bb99c" stroke="#3bb99c" stroke-width=".3"/>
<path d="M139.6 133.2l1.5 1M141 132.6l-1.4 .6" fill="none"/>
<path d="M139.9 133.8l1.2 .4-.1-1.3z" fill="#3eba9a" stroke="#3eba9a" stroke-width=".3"/>
<path d="M139.9 133.8l1.2 .4M141 132.9l-1.1 .9" fill="none"/>
<path d="M48.5 179.6l2.1 .7 3.9-3.1-2-.7z" fill="#108ed2"/>
<path d="M141.1 134.2l2 1.5 4.9-2-3.5-2.5-3.5 1.4z" fill="#3bb99c" stroke="#3bb99c" stroke-width=".3"/>
<path d="M141.1 134.2l2 1.5M143.1 135.7l4.9-2M148 133.7l-3.5-2.5M144.5 131.2l-3.5 1.4" fill="none"/>
<path d="M90.8 209.5l2 .5 3.9-3.1-2-.6z" fill="#0265e1"/>
<path d="M192.7 104.3l1.9 .6 3.9-3.7-1.9-.5z" fill="#a7be6a"/>
<path d="M177.1 113.7l2 .6 3.9-3.5-2-.5z" fill="#89bf76"/>
<path d="M141.1 134.2l.8 .3 3.9-3.3-2-.6-2.8 2.3z" fill="#3eba9a" stroke="#3eba9a" stroke-width=".3"/>
<path d="M141.1 134.2l.8 .3M141.9 134.5l3.9-3.3M145.8 131.2l-2-.6M143.8 130.6l-2.8 2.3" fill="none"/>
<path d="M101.4 133.3l3.5 2.5 4.9-2-3.5-2.5z" fill="#3bb99c" stroke-width=".56"/>
<path d="M217.9 86.3l1.9 .4 3.9-4.6-1.9-.3z" fill="#dbba55"/>
<path d="M74.9 217.8l2 .6 4-3.2-2.1-.6z" fill="#2251d1"/>
<path d="M63.2 133.5l3.5 2.4 4.8-2-3.5-2.4z" fill="#3bb99c" stroke-width=".56"/>
<path d="M161.5 122.6l1.9 .6 4-3.3-2-.6z" fill="#69be84"/>
<path d="M208.2 94.1l2 .5 3.8-4.1-1.9-.5z" fill="#c5bc5e"/>
<path d="M112.5 198.6l2 .5 4-3.1-2.1-.6z" fill="#0d75dc"/>
<path d="M70.5 169.1l2.1 .7 3.9-3.1-2-.7z" fill="#069ece"/>
<path d="M145.8 131.2l2 .7 3.9-3.3-2-.6z" fill="#49bc94"/>
<path d="M54.5 177.2l2.1 .7 4-3.2-2.1-.7z" fill="#0d93d2"/>
<path d="M96.7 206.9l2.1 .6 3.9-3.2-2.1-.6z" fill="#036ae1"/>
<path d="M109.8 133.8l3.5 2.5 4.8-2-3.5-2.5z" fill="#3bb99c" stroke-width=".56"/>
<path d="M183 110.8l1.9 .6 3.9-3.5-1.9-.6z" fill="#94bf71"/>
<path d="M198.5 101.2l2 .5 3.8-3.7-1.9-.6z" fill="#b2bd66"/>
<path d="M71.5 133.9l3.5 2.5 4.9-2-3.5-2.5z" fill="#3bb99c" stroke-width=".56"/>
<path d="M80.9 215.2l2 .6 3.9-3.2-2-.6z" fill="#125adc"/>
<path d="M167.4 119.9l1.9 .6 3.9-3.4-1.9-.6z" fill="#75bf7e"/>
<path d="M65 223.5l2 .6 4-3.2-2.1-.6z" fill="#3145bc"/>
<path d="M76.5 166.7l2.1 .7 3.9-3.2-2-.7z" fill="#06a2cc"/>
<path d="M151.7 128.6l2 .6 3.9-3.3-2-.6z" fill="#55bd8e"/>
<path d="M214 90.5l2 .4 3.8-4.2-1.9-.4z" fill="#d1bb59"/>
<path d="M118.1 134.3l3.5 2.4 4.8-2-3.4-2.4z" fill="#3bb99c" stroke-width=".56"/>
<path d="M102.7 204.3l2 .6 3.9-3.2-2-.6z" fill="#066edf"/>
<path d="M60.6 174.7l2 .7 4-3.1-2.1-.7z" fill="#0997d1"/>
<path d="M223.7 82.1l1.9 .4 3.9-4.9-1.9-.3z" fill="#e8b94f"/>
<path d="M188.8 107.9l1.9 .5 3.9-3.5-1.9-.6z" fill="#9fbe6d"/>
<path d="M79.9 134.4l3.5 2.5 4.8-2-3.5-2.5z" fill="#3bb99c" stroke-width=".56"/>
<path d="M173.2 117.1l2 .6 3.9-3.4-2-.6z" fill="#81bf79"/>
<path d="M86.8 212.6l2.1 .6 3.9-3.2-2-.5z" fill="#0561e0"/>
<path d="M204.3 98l2 .5 3.9-3.9-2-.5z" fill="#bdbd61"/>
<path d="M141.1 135.1l.8-.6-.8-.3z" fill="#38b99e" stroke="#38b99e" stroke-width=".3"/>
<path d="M141.1 135.1l.8-.6M141.9 134.5l-.8-.3" fill="none"/>
<path d="M71 220.9l2 .6 3.9-3.1-2-.6z" fill="#294cc9"/>
<path d="M157.6 125.9l1.9 .7 3.9-3.4-1.9-.6z" fill="#61be88"/>
<path d="M126.4 134.7l3.5 2.5 4.9-2-3.5-2.5z" fill="#3bb99c" stroke-width=".56"/>
<path d="M108.6 201.7l2 .6 3.9-3.2-2-.5z" fill="#0a73de"/>
<path d="M66.6 172.3l2 .7 4-3.2-2.1-.7z" fill="#079cd0"/>
<path d="M88.2 134.9l3.5 2.4 4.9-2-3.5-2.4z" fill="#3bb99c" stroke-width=".56"/>
<path d="M141.9 134.5l2 .6 3.9-3.2-2-.7z" fill="#42bb98"/>
<path d="M194.6 104.9l2 .5 3.9-3.7-2-.5z" fill="#aabe69"/>
<path d="M50.6 180.3l2 .8 4-3.2-2.1-.7z" fill="#0f8fd2"/>
<path d="M179.1 114.3l1.9 .6 3.9-3.5-1.9-.6z" fill="#8dbf75"/>
<path d="M92.8 210l2 .6 4-3.1-2.1-.6z" fill="#0267e1"/>
<path d="M50 135l3.5 2.5 4.8-2-3.5-2.5z" fill="#3bb99c" stroke-width=".56"/>
<path d="M219.8 86.7l2 .4 3.8-4.6-1.9-.4z" fill="#deba53"/>
<path d="M163.4 123.2l2 .6 3.9-3.3-1.9-.6z" fill="#6dbf82"/>
<path d="M134.8 135.2l3.5 2.5 2.8-1.2 0-2.3-1.5-1z" fill="#3bb99c" stroke="#3bb99c" stroke-width=".3"/>
<path d="M134.8 135.2l3.5 2.5M138.3 137.7l2.8-1.2M141.1 134.2l-1.5-1M139.6 133.2l-4.8 2" fill="none"/>
<path d="M76.9 218.4l2.1 .5 3.9-3.1-2-.6z" fill="#1d54d5"/>
<path d="M210.2 94.6l1.9 .4 3.9-4.1-2-.4z" fill="#c9bc5d"/>
<path d="M141.1 136.5l2-.8-2-1.5z" fill="#3bb99c" stroke="#3bb99c" stroke-width=".3"/>
<path d="M141.1 136.5l2-.8M143.1 135.7l-2-1.5" fill="none"/>
<path d="M114.5 199.1l2.1 .6 3.9-3.2-2-.5z" fill="#0e76dc"/>
<path d="M72.6 169.8l2 .7 4-3.1-2.1-.7z" fill="#069fce"/>
<path d="M96.6 135.3l3.5 2.5 4.8-2-3.5-2.5z" fill="#3bb99c" stroke-width=".56"/>
<path d="M147.8 131.9l1.9 .6 4-3.3-2-.6z" fill="#4dbc92"/>
<path d="M56.6 177.9l2 .7 4-3.2-2-.7z" fill="#0c94d2"/>
<path d="M184.9 111.4l2 .6 3.8-3.6-1.9-.5z" fill="#98bf70"/>
<path d="M58.3 135.5l3.5 2.4 4.9-2-3.5-2.4z" fill="#3bb99c" stroke-width=".56"/>
<path d="M98.8 207.5l2 .5 3.9-3.1-2-.6z" fill="#046ce0"/>
<path d="M200.5 101.7l1.9 .5 3.9-3.7-2-.5z" fill="#b5bd64"/>
<path d="M169.3 120.5l2 .6 3.9-3.4-2-.6z" fill="#79bf7d"/>
<path d="M82.9 215.8l2.1 .6 3.9-3.2-2.1-.6z" fill="#0d5dde"/>
<path d="M141.1 137.4l2.8-2.3-2-.6-.8 .6z" fill="#3bb99c" stroke="#3bb99c" stroke-width=".3"/>
<path d="M141.1 137.4l2.8-2.3M143.9 135.1l-2-.6M141.9 134.5l-.8 .6" fill="none"/>
<path d="M104.9 135.8l3.5 2.5 4.9-2-3.5-2.5z" fill="#3bb99c" stroke-width=".56"/>
<path d="M78.6 167.4l2 .6 4-3.1-2.1-.7z" fill="#06a3cb"/>
<path d="M153.7 129.2l1.9 .6 3.9-3.2-1.9-.7z" fill="#59bd8c"/>
<path d="M67 224.1l2.1 .6 3.9-3.2-2-.6z" fill="#2e47c1"/>
<path d="M216 90.9l1.9 .5 3.9-4.3-2-.4z" fill="#d5ba58"/>
<path d="M66.7 135.9l3.5 2.5 4.8-2-3.5-2.5z" fill="#3bb99c" stroke-width=".56"/>
<path d="M62.6 175.4l2.1 .7 3.9-3.1-2-.7z" fill="#0899d1"/>
<path d="M104.7 204.9l2 .6 3.9-3.2-2-.6z" fill="#0770df"/>
<path d="M190.7 108.4l2 .6 3.9-3.6-2-.5z" fill="#a3be6c"/>
<path d="M225.6 82.5l1.9 .3 3.9-4.9-1.9-.3z" fill="#ecb94d"/>
<path d="M175.2 117.7l1.9 .6 3.9-3.4-1.9-.6z" fill="#85bf78"/>
<path d="M206.3 98.5l1.9 .4 3.9-3.9-1.9-.4z" fill="#c0bc60"/>
<path d="M88.9 213.2l2 .6 3.9-3.2-2-.6z" fill="#0364e1"/>
<path d="M113.3 136.3l3.4 2.4 4.9-2-3.5-2.4z" fill="#3bb99c" stroke-width=".56"/>
<path d="M159.5 126.6l2 .6 3.9-3.4-2-.6z" fill="#65be86"/>
<path d="M138 137.7l1.9 .6 1.2-.9 0-2.3z" fill="#3bb99c" stroke="#3bb99c" stroke-width=".3"/>
<path d="M138 137.7l1.9 .6M139.9 138.3l1.2-.9M141.1 135.1l-3.1 2.6" fill="none"/>
<path d="M73 221.5l2.1 .6 3.9-3.2-2.1-.5z" fill="#254fce"/>
<path d="M75 136.4l3.5 2.5 4.9-2-3.5-2.5z" fill="#3bb99c" stroke-width=".56"/>
<path d="M110.6 202.3l2.1 .6 3.9-3.2-2.1-.6z" fill="#0c74dd"/>
<path d="M68.6 173l2.1 .7 3.9-3.2-2-.7z" fill="#079dcf"/>
<path d="M143.9 135.1l1.9 .6 3.9-3.2-1.9-.6z" fill="#45bb96"/>
<path d="M196.6 105.4l1.9 .5 3.9-3.7-1.9-.5z" fill="#aebe67"/>
<path d="M181 114.9l2 .5 3.9-3.4-2-.6z" fill="#90bf73"/>
<path d="M52.6 181.1l2.1 .7 3.9-3.2-2-.7z" fill="#0e91d2"/>
<path d="M94.8 210.6l2.1 .6 3.9-3.2-2-.5z" fill="#0269e1"/>
<path d="M121.6 136.7l3.5 2.5 4.8-2-3.5-2.5z" fill="#3bb99c" stroke-width=".56"/>
<path d="M221.8 87.1l1.9 .3 3.8-4.6-1.9-.3z" fill="#e1b952"/>
<path d="M165.4 123.8l2 .6 3.9-3.3-2-.6z" fill="#71bf80"/>
<path d="M212.1 95l1.9 .5 3.9-4.1-1.9-.5z" fill="#ccbb5b"/>
<path d="M83.4 136.9l3.5 2.4 4.8-2-3.5-2.4z" fill="#3bb99c" stroke-width=".56"/>
<path d="M79 218.9l2 .6 4-3.1-2.1-.6z" fill="#1758d9"/>
<path d="M116.6 199.7l2 .6 3.9-3.2-2-.6z" fill="#0f78db"/>
<path d="M74.6 170.5l2.1 .7 3.9-3.2-2-.6z" fill="#06a1cd"/>
<path d="M149.7 132.5l2 .6 3.9-3.3-1.9-.6z" fill="#51bc90"/>
<path d="M45.2 137l3.4 2.5 4.9-2-3.5-2.5z" fill="#3bb99c" stroke-width=".56"/>
<path d="M186.9 112l1.9 .5 3.9-3.5-2-.6z" fill="#9bbf6f"/>
<path d="M58.6 178.6l2.1 .7 4-3.2-2.1-.7z" fill="#0a96d1"/>
<path d="M202.4 102.2l1.9 .5 3.9-3.8-1.9-.4z" fill="#b9bd63"/>
<path d="M129.9 137.2l3.5 2.5 4.9-2-3.5-2.5z" fill="#3bb99c" stroke-width=".56"/>
<path d="M100.8 208l2 .6 3.9-3.1-2-.6z" fill="#056de0"/>
<path d="M171.3 121.1l1.9 .6 3.9-3.4-1.9-.6z" fill="#7dbf7b"/>
<path d="M134 140.9l2 .7 3.9-3.3-1.9-.6z" fill="#34b8a0"/>
<path d="M91.7 137.3l3.5 2.5 4.9-2-3.5-2.5z" fill="#3bb99c" stroke-width=".56"/>
<path d="M85 216.4l2 .5 3.9-3.1-2-.6z" fill="#0860df"/>
<path d="M155.6 129.8l2 .6 3.9-3.2-2-.6z" fill="#5dbe8a"/>
<path d="M53.5 137.5l3.5 2.4 4.8-2-3.5-2.4z" fill="#3bb99c" stroke-width=".56"/>
<path d="M80.6 168l2 .7 4-3.1-2-.7z" fill="#06a4ca"/>
<path d="M69.1 224.7l2 .6 4-3.2-2.1-.6z" fill="#2c4ac6"/>
<path d="M217.9 91.4l1.9 .4 3.9-4.4-1.9-.3z" fill="#d8ba56"/>
<path d="M192.7 109l1.9 .5 3.9-3.6-1.9-.5z" fill="#a6be6a"/>
<path d="M64.7 176.1l2 .7 4-3.1-2.1-.7z" fill="#089ad0"/>
<path d="M106.7 205.5l2 .5 4-3.1-2.1-.6z" fill="#0972de"/>
<path d="M138.3 137.7l2.8 2 0-3.2z" fill="#3bb99c" stroke="#3bb99c" stroke-width=".3"/>
<path d="M138.3 137.7l2.8 2M141.1 136.5l-2.8 1.2" fill="none"/>
<path d="M227.5 82.8l1.9 .3 3.9-5-1.9-.2z" fill="#efb94b"/>
<path d="M177.1 118.3l2 .6 3.9-3.5-2-.5z" fill="#89bf76"/>
<path d="M141.1 139.7l.7 .4 4.8-2-3.5-2.4-2 .8z" fill="#3bb99c" stroke="#3bb99c" stroke-width=".3"/>
<path d="M141.1 139.7l.7 .4M141.8 140.1l4.8-2M146.6 138.1l-3.5-2.4M143.1 135.7l-2 .8" fill="none"/>
<path d="M208.2 98.9l1.9 .5 3.9-3.9-1.9-.5z" fill="#c4bc5f"/>
<path d="M100.1 137.8l3.5 2.5 4.8-2-3.5-2.5z" fill="#3bb99c" stroke-width=".56"/>
<path d="M141.1 138.7l.8 .3 3.9-3.3-1.9-.6-2.8 2.3z" fill="#3eba9a" stroke="#3eba9a" stroke-width=".3"/>
<path d="M141.1 138.7l.8 .3M141.9 139l3.9-3.3M145.8 135.7l-1.9-.6M143.9 135.1l-2.8 2.3" fill="none"/>
<path d="M227.5 135.5l1.9 .3 3.8-4.3-1.9-.3z" fill="#4bbc93"/>
<path d="M90.9 213.8l2.1 .5 3.9-3.1-2.1-.6z" fill="#0266e1"/>
<path d="M61.8 137.9l3.5 2.5 4.9-2-3.5-2.5z" fill="#3bb99c" stroke-width=".56"/>
<path d="M161.5 127.2l2 .6 3.9-3.4-2-.6z" fill="#69be84"/>
<path d="M237.1 126.9l1.9 .2 3.8-5-1.9-.1z" fill="#6ebf82"/>
<path d="M75.1 222.1l2 .6 3.9-3.2-2-.6z" fill="#2152d3"/>
<path d="M70.7 173.7l2 .7 4-3.2-2.1-.7z" fill="#069ece"/>
<path d="M145.8 135.7l2 .7 3.9-3.3-2-.6z" fill="#49bc94"/>
<path d="M112.7 202.9l2 .5 3.9-3.1-2-.6z" fill="#0d75dc"/>
<path d="M198.5 105.9l2 .5 3.8-3.7-1.9-.5z" fill="#b1bd66"/>
<path d="M183 115.4l1.9 .6 3.9-3.5-1.9-.5z" fill="#94bf72"/>
<path d="M108.4 138.3l3.5 2.4 4.8-2-3.4-2.4z" fill="#3bb99c" stroke-width=".56"/>
<path d="M54.7 181.8l2 .7 4-3.2-2.1-.7z" fill="#0d93d2"/>
<path d="M70.2 138.4l3.5 2.5 4.8-2-3.5-2.5z" fill="#3bb99c" stroke-width=".56"/>
<path d="M167.4 124.4l1.9 .6 3.9-3.3-1.9-.6z" fill="#75bf7f"/>
<path d="M96.9 211.2l2 .5 3.9-3.1-2-.6z" fill="#036be1"/>
<path d="M223.7 87.4l1.9 .4 3.8-4.7-1.9-.3z" fill="#e5b950"/>
<path d="M214 95.5l1.9 .4 3.9-4.1-1.9-.4z" fill="#cfbb5a"/>
<path d="M81 219.5l2.1 .6 3.9-3.2-2-.5z" fill="#105bdd"/>
<path d="M151.7 133.1l2 .6 3.9-3.3-2-.6z" fill="#55bd8e"/>
<path d="M118.6 200.3l2 .5 3.9-3.1-2-.6z" fill="#1079da"/>
<path d="M76.7 171.2l2 .7 3.9-3.2-2-.7z" fill="#06a2cc"/>
<path d="M233.2 131.5l2 .2 3.8-4.6-1.9-.2z" fill="#5ebe89"/>
<path d="M116.7 138.7l3.5 2.5 4.9-2-3.5-2.5z" fill="#3bb99c" stroke-width=".56"/>
<path d="M188.8 112.5l2 .6 3.8-3.6-1.9-.5z" fill="#9fbe6d"/>
<path d="M204.3 102.7l2 .5 3.8-3.8-1.9-.5z" fill="#bcbd62"/>
<path d="M60.7 179.3l2 .7 4-3.2-2-.7z" fill="#0997d1"/>
<path d="M78.5 138.9l3.5 2.4 4.9-2-3.5-2.4z" fill="#3bb99c" stroke-width=".56"/>
<path d="M136 141.6l2 .6 3.1-2.6 0-.9-1.2-.4z" fill="#38b99e" stroke="#38b99e" stroke-width=".3"/>
<path d="M136 141.6l2 .6M138 142.2l3.1-2.6M141.1 138.7l-1.2-.4M139.9 138.3l-3.9 3.3" fill="none"/>
<path d="M173.2 121.7l2 .5 3.9-3.3-2-.6z" fill="#81bf7a"/>
<path d="M224.9 139.8l.7 .1 3.8-4.1-1.9-.3-2.7 2.9z" fill="#40ba99" stroke="#40ba99" stroke-width=".3"/>
<path d="M224.9 139.8l.7 .1M225.6 139.9l3.8-4.1M229.4 135.8l-1.9-.3M227.5 135.5l-2.7 2.9" fill="none"/>
<path d="M102.8 208.6l2 .6 3.9-3.2-2-.5z" fill="#066fdf"/>
<path d="M40.3 139l3.5 2.5 4.8-2-3.4-2.5z" fill="#3bb99c" stroke-width=".56"/>
<path d="M141.1 139.6l.8-.6-.8-.3z" fill="#38b99e" stroke="#38b99e" stroke-width=".3"/>
<path d="M141.1 139.6l.8-.6M141.9 139l-.8-.3" fill="none"/>
<path d="M242.8 122.1l1.9 .2 3.9-5.5-1.9-.1z" fill="#84bf78"/>
<path d="M157.6 130.4l2 .6 3.9-3.2-2-.6z" fill="#61be88"/>
<path d="M87 216.9l2 .6 4-3.2-2.1-.5z" fill="#0462e1"/>
<path d="M125.1 139.2l3.5 2.5 4.8-2-3.5-2.5z" fill="#3bb99c" stroke-width=".56"/>
<path d="M219.8 91.8l1.9 .4 3.9-4.4-1.9-.4z" fill="#dbba55"/>
<path d="M194.6 109.5l2 .5 3.9-3.6-2-.5z" fill="#aabe69"/>
<path d="M71.1 225.3l2.1 .5 3.9-3.1-2-.6z" fill="#284dcb"/>
<path d="M86.9 139.3l3.5 2.5 4.8-2-3.5-2.5z" fill="#3bb99c" stroke-width=".56"/>
<path d="M66.7 176.8l2.1 .7 3.9-3.1-2-.7z" fill="#079cd0"/>
<path d="M141.9 139l2 .6 3.9-3.2-2-.7z" fill="#42bb98"/>
<path d="M179.1 118.9l1.9 .5 3.9-3.4-1.9-.6z" fill="#8cbf75"/>
<path d="M108.7 206l2.1 .6 3.9-3.2-2-.5z" fill="#0b73dd"/>
<path d="M229.4 83.1l2 .3 3.8-5.1-1.9-.2z" fill="#f3b948"/>
<path d="M210.1 99.4l2 .4 3.8-3.9-1.9-.4z" fill="#c7bc5d"/>
<path d="M48.6 139.5l3.5 2.4 4.9-2-3.5-2.4z" fill="#3bb99c" stroke-width=".56"/>
<path d="M229.4 135.8l1.9 .3 3.9-4.4-2-.2z" fill="#51bc90"/>
<path d="M163.5 127.8l1.9 .5 3.9-3.3-1.9-.6z" fill="#6dbf82"/>
<path d="M93 214.3l2 .6 3.9-3.2-2-.5z" fill="#0268e1"/>
<path d="M133.4 139.7l3.5 2.4 4.2-1.7 0-.7-2.8-2z" fill="#3bb99c" stroke="#3bb99c" stroke-width=".3"/>
<path d="M133.4 139.7l3.5 2.4M136.9 142.1l4.2-1.7M141.1 139.7l-2.8-2M138.3 137.7l-4.9 2" fill="none"/>
<path d="M239 127.1l1.9 .2 3.8-5-1.9-.2z" fill="#74bf7f"/>
<path d="M95.2 139.8l3.5 2.5 4.9-2-3.5-2.5z" fill="#3bb99c" stroke-width=".56"/>
<path d="M218.2 139.9l3.5 2.4 3.2-1.3-.1-1.9-1.7-1.2z" fill="#3bb99c" stroke="#3bb99c" stroke-width=".3"/>
<path d="M218.2 139.9l3.5 2.4M221.7 142.3l3.2-1.3M224.8 139.1l-1.7-1.2M223.1 137.9l-4.9 2" fill="none"/>
<path d="M77.1 222.7l2.1 .5 3.9-3.1-2.1-.6z" fill="#1b55d7"/>
<path d="M147.8 136.4l2 .6 3.9-3.3-2-.6z" fill="#4dbc92"/>
<path d="M72.7 174.4l2 .6 4-3.1-2-.7z" fill="#06a0cd"/>
<path d="M200.5 106.4l1.9 .5 3.9-3.7-2-.5z" fill="#b4bd65"/>
<path d="M184.9 116l2 .5 3.9-3.4-2-.6z" fill="#97bf70"/>
<path d="M114.7 203.4l2 .6 3.9-3.2-2-.5z" fill="#0e77db"/>
<path d="M224.9 141l1.7-.7-1.8-1.2z" fill="#3bb99c" stroke="#3bb99c" stroke-width=".3"/>
<path d="M224.9 141l1.7-.7M226.6 140.3l-1.8-1.2" fill="none"/>
<path d="M57 139.9l3.5 2.5 4.8-2-3.5-2.5z" fill="#3bb99c" stroke-width=".56"/>
<path d="M224.9 140.6l.7-.7-.7-.1z" fill="#36b99f" stroke="#36b99f" stroke-width=".3"/>
<path d="M224.9 140.6l.7-.7M225.6 139.9l-.7-.1" fill="none"/>
<path d="M56.7 182.5l2.1 .6 3.9-3.1-2-.7z" fill="#0c94d2"/>
<path d="M169.3 125l2 .6 3.9-3.4-2-.5z" fill="#79bf7d"/>
<path d="M132.1 144.8l2 .6 3.9-3.2-2-.6z" fill="#31b8a2"/>
<path d="M225.6 87.8l1.9 .3 3.9-4.7-2-.3z" fill="#e8b94e"/>
<path d="M141.8 140.1l3.5 2.5 4.8-2-3.5-2.5z" fill="#3bb99c" stroke-width=".56"/>
<path d="M98.9 211.7l2 .6 3.9-3.1-2-.6z" fill="#046ce0"/>
<path d="M215.9 95.9l2 .4 3.8-4.1-1.9-.4z" fill="#d3bb58"/>
<path d="M141.1 141.9l2.8-2.3-2-.6-.8 .6z" fill="#3bb99c" stroke="#3bb99c" stroke-width=".3"/>
<path d="M141.1 141.9l2.8-2.3M143.9 139.6l-2-.6M141.9 139l-.8 .6" fill="none"/>
<path d="M103.6 140.3l3.4 2.4 4.9-2-3.5-2.4z" fill="#3bb99c" stroke-width=".56"/>
<path d="M153.7 133.7l2 .6 3.9-3.3-2-.6z" fill="#59bd8c"/>
<path d="M83.1 220.1l2 .5 3.9-3.1-2-.6z" fill="#0b5ede"/>
<path d="M78.7 171.9l2 .6 4-3.1-2.1-.7z" fill="#06a3cb"/>
<path d="M120.6 200.8l2 .5 3.9-3.1-2-.5z" fill="#117bd9"/>
<path d="M65.3 140.4l3.5 2.5 4.9-2-3.5-2.5z" fill="#3bb99c" stroke-width=".56"/>
<path d="M190.8 113.1l1.9 .5 3.9-3.6-2-.5z" fill="#a2be6c"/>
<path d="M235.2 131.7l1.9 .3 3.8-4.7-1.9-.2z" fill="#64be86"/>
<path d="M206.3 103.2l1.9 .5 3.9-3.9-2-.4z" fill="#bfbc60"/>
<path d="M225.6 139.9l1.9 .3 3.8-4.1-1.9-.3z" fill="#45bb96"/>
<path d="M62.7 180l2.1 .7 4-3.2-2.1-.7z" fill="#0899d1"/>
<path d="M175.2 122.2l1.9 .6 3.9-3.4-1.9-.5z" fill="#85bf78"/>
<path d="M104.8 209.2l2.1 .5 3.9-3.1-2.1-.6z" fill="#0871df"/>
<path d="M111.9 140.7l3.5 2.5 4.8-2-3.5-2.5z" fill="#3bb99c" stroke-width=".56"/>
<path d="M159.6 131l1.9 .6 3.9-3.3-1.9-.5z" fill="#65be86"/>
<path d="M138 142.2l2 .6 1.1-.9 0-2.3z" fill="#3bb99c" stroke="#3bb99c" stroke-width=".3"/>
<path d="M138 142.2l2 .6M140 142.8l1.1-.9M141.1 139.6l-3.1 2.6" fill="none"/>
<path d="M73.7 140.9l3.5 2.4 4.8-2-3.5-2.4z" fill="#3bb99c" stroke-width=".56"/>
<path d="M244.7 122.3l1.9 .1 3.9-5.6-1.9 0z" fill="#8abf76"/>
<path d="M89 217.5l2.1 .5 3.9-3.1-2-.6z" fill="#0364e1"/>
<path d="M221.7 92.2l1.9 .3 3.9-4.4-1.9-.3z" fill="#dfba53"/>
<path d="M196.6 110l1.9 .5 3.9-3.6-1.9-.5z" fill="#adbe68"/>
<path d="M181 119.4l2 .6 3.9-3.5-2-.5z" fill="#90bf73"/>
<path d="M143.9 139.6l2 .6 3.9-3.2-2-.6z" fill="#46bb96"/>
<path d="M73.2 225.8l2 .6 4-3.2-2.1-.5z" fill="#2450d0"/>
<path d="M68.8 177.5l2 .7 3.9-3.2-2-.6z" fill="#079dcf"/>
<path d="M212.1 99.8l1.9 .5 3.9-4-2-.4z" fill="#cabb5c"/>
<path d="M231.4 83.4l1.9 .3 3.8-5.1-1.9-.3z" fill="#f6ba46"/>
<path d="M110.8 206.6l2 .5 3.9-3.1-2-.6z" fill="#0c74dd"/>
<path d="M120.2 141.2l3.5 2.5 4.9-2-3.5-2.5z" fill="#3bb99c" stroke-width=".56"/>
<path d="M225 142.8l2.5-2.6-1.9-.3-.7 .7z" fill="#3ab99c" stroke="#3ab99c" stroke-width=".3"/>
<path d="M225 142.8l2.5-2.6M227.5 140.2l-1.9-.3M225.6 139.9l-.7 .7" fill="none"/>
<path d="M165.4 128.3l2 .6 3.9-3.3-2-.6z" fill="#71bf80"/>
<path d="M231.3 136.1l1.9 .2 3.9-4.3-1.9-.3z" fill="#56bd8d"/>
<path d="M82 141.3l3.5 2.5 4.9-2-3.5-2.5z" fill="#3bb99c" stroke-width=".56"/>
<path d="M95 214.9l2 .5 3.9-3.1-2-.6z" fill="#026ae1"/>
<path d="M240.9 127.3l1.9 .2 3.8-5.1-1.9-.1z" fill="#79bf7d"/>
<path d="M43.8 141.5l3.5 2.4 4.8-2-3.5-2.4z" fill="#3bb99c" stroke-width=".56"/>
<path d="M149.8 137l2 .6 3.9-3.3-2-.6z" fill="#51bc90"/>
<path d="M202.4 106.9l1.9 .5 3.9-3.7-1.9-.5z" fill="#b8bd63"/>
<path d="M186.9 116.5l1.9 .6 3.9-3.5-1.9-.5z" fill="#9bbf6f"/>
<path d="M74.7 175l2.1 .7 3.9-3.2-2-.6z" fill="#06a1cd"/>
<path d="M79.2 223.2l2 .6 3.9-3.2-2-.5z" fill="#1459da"/>
<path d="M116.7 204l2 .5 3.9-3.2-2-.5z" fill="#1078da"/>
<path d="M141 144.4l4.3-1.8-3.5-2.5-.7 .3z" fill="#3bb99c" stroke="#3bb99c" stroke-width=".3"/>
<path d="M141 144.4l4.3-1.8M145.3 142.6l-3.5-2.5M141.8 140.1l-.7 .3" fill="none"/>
<path d="M128.6 141.7l3.5 2.4 4.8-2-3.5-2.4z" fill="#3bb99c" stroke-width=".56"/>
<path d="M171.3 125.6l2 .6 3.8-3.4-1.9-.6z" fill="#7dbf7b"/>
<path d="M58.8 183.1l2 .7 4-3.1-2.1-.7z" fill="#0a96d1"/>
<path d="M221.7 143.8l2 .4 1.3-1.4-.1-2.2z" fill="#3ab99c" stroke="#3ab99c" stroke-width=".3"/>
<path d="M221.7 143.8l2 .4M223.7 144.2l1.3-1.4M224.9 140.6l-3.2 3.2" fill="none"/>
<path d="M90.4 141.8l3.5 2.5 4.8-2-3.5-2.5z" fill="#3bb99c" stroke-width=".56"/>
<path d="M227.5 88.1l1.9 .3 3.9-4.7-1.9-.3z" fill="#ecb94c"/>
<path d="M217.9 96.3l1.9 .4 3.8-4.2-1.9-.3z" fill="#d6ba57"/>
<path d="M213.4 141.9l3.5 2.4 4.8-2-3.5-2.4z" fill="#3bb99c" stroke-width=".56"/>
<path d="M100.9 212.3l2.1 .5 3.9-3.1-2.1-.5z" fill="#056ee0"/>
<path d="M52.1 141.9l3.5 2.5 4.9-2-3.5-2.5z" fill="#3bb99c" stroke-width=".56"/>
<path d="M155.7 134.3l2 .6 3.8-3.3-1.9-.6z" fill="#5dbe8a"/>
<path d="M80.7 172.5l2.1 .7 3.9-3.2-2-.6z" fill="#06a4c9"/>
<path d="M192.7 113.6l1.9 .5 3.9-3.6-1.9-.5z" fill="#a6be6b"/>
<path d="M85.1 220.6l2.1 .6 3.9-3.2-2.1-.5z" fill="#0761e0"/>
<path d="M122.6 201.3l2 .6 3.9-3.2-2-.5z" fill="#127cd8"/>
<path d="M208.2 103.7l1.9 .4 3.9-3.8-1.9-.5z" fill="#c3bc5f"/>
<path d="M237.1 132l1.9 .2 3.8-4.7-1.9-.2z" fill="#6abe83"/>
<path d="M177.1 122.8l2 .6 3.9-3.4-2-.6z" fill="#88bf76"/>
<path d="M227.5 140.2l1.9 .3 3.8-4.2-1.9-.2z" fill="#4abc93"/>
<path d="M64.8 180.7l2.1 .6 3.9-3.1-2-.7z" fill="#089ad0"/>
<path d="M98.7 142.3l3.5 2.4 4.8-2-3.4-2.4z" fill="#3bb99c" stroke-width=".56"/>
<path d="M141 143.1l1 .3 3.9-3.2-2-.6-2.8 2.3z" fill="#3fba9a" stroke="#3fba9a" stroke-width=".3"/>
<path d="M141 143.1l1 .3M142 143.4l3.9-3.2M145.9 140.2l-2-.6M143.9 139.6l-2.8 2.3" fill="none"/>
<path d="M106.9 209.7l2 .5 3.9-3.1-2-.5z" fill="#0a72de"/>
<path d="M60.5 142.4l3.5 2.5 4.8-2-3.5-2.5z" fill="#3bb99c" stroke-width=".56"/>
<path d="M161.5 131.6l2 .6 3.9-3.3-2-.6z" fill="#69be84"/>
<path d="M221.7 142.3l3.4 2.4-.2-3.7z" fill="#3bb99c" stroke="#3bb99c" stroke-width=".3"/>
<path d="M221.7 142.3l3.4 2.4M224.9 141l-3.2 1.3" fill="none"/>
<path d="M225.1 144.7l.1 .1 4.9-2-3.5-2.5-1.7 .7z" fill="#3bb99c" stroke="#3bb99c" stroke-width=".3"/>
<path d="M225.1 144.7l.1 .1M225.2 144.8l4.9-2M230.1 142.8l-3.5-2.5M226.6 140.3l-1.7 .7" fill="none"/>
<path d="M91.1 218l2 .6 3.9-3.2-2-.5z" fill="#0266e1"/>
<path d="M198.5 110.5l2 .5 3.8-3.6-1.9-.5z" fill="#b0bd66"/>
<path d="M223.6 92.5l2 .4 3.8-4.5-1.9-.3z" fill="#e2b951"/>
<path d="M246.6 122.4l2 .1 3.8-5.6-1.9-.1z" fill="#90bf73"/>
<path d="M136.9 142.1l3.5 2.5 .6-.2 .1-4z" fill="#3bb99c" stroke="#3bb99c" stroke-width=".3"/>
<path d="M136.9 142.1l3.5 2.5M140.4 144.6l.6-.2M141.1 140.4l-4.2 1.7" fill="none"/>
<path d="M183 120l1.9 .5 3.9-3.4-1.9-.6z" fill="#94bf72"/>
<path d="M145.9 140.2l2 .6 3.9-3.2-2-.6z" fill="#49bc94"/>
<path d="M107 142.7l3.5 2.5 4.9-2-3.5-2.5z" fill="#3bb99c" stroke-width=".56"/>
<path d="M70.8 178.2l2 .6 4-3.1-2.1-.7z" fill="#069ece"/>
<path d="M75.2 226.4l2.1 .5 3.9-3.1-2-.6z" fill="#1f53d4"/>
<path d="M214 100.3l1.9 .4 3.9-4-1.9-.4z" fill="#cebb5a"/>
<path d="M233.3 83.7l1.9 .3 3.8-5.2-1.9-.2z" fill="#f9bb43"/>
<path d="M68.8 142.9l3.5 2.4 4.9-2-3.5-2.4z" fill="#3bb99c" stroke-width=".56"/>
<path d="M112.8 207.1l2 .5 3.9-3.1-2-.5z" fill="#0e76dc"/>
<path d="M167.4 128.9l2 .6 3.9-3.3-2-.6z" fill="#75bf7f"/>
<path d="M233.2 136.3l2 .3 3.8-4.4-1.9-.2z" fill="#5cbe8a"/>
<path d="M97 215.4l2.1 .6 3.9-3.2-2.1-.5z" fill="#036be0"/>
<path d="M151.8 137.6l2 .5 3.9-3.2-2-.6z" fill="#55bd8e"/>
<path d="M223.7 144.2l1.4 .2-.1-1.6z" fill="#3fba99" stroke="#3fba99" stroke-width=".3"/>
<path d="M223.7 144.2l1.4 .2M225 142.8l-1.3 1.4" fill="none"/>
<path d="M115.4 143.2l3.5 2.5 4.8-2-3.5-2.5z" fill="#3bb99c" stroke-width=".56"/>
<path d="M204.3 107.4l2 .4 3.8-3.7-1.9-.4z" fill="#bbbd62"/>
<path d="M188.8 117.1l2 .5 3.8-3.5-1.9-.5z" fill="#9ebe6d"/>
<path d="M242.8 127.5l1.9 .1 3.9-5.1-2-.1z" fill="#7fbf7a"/>
<path d="M76.8 175.7l2 .6 4-3.1-2.1-.7z" fill="#06a2cc"/>
<path d="M81.2 223.8l2.1 .5 3.9-3.1-2.1-.6z" fill="#0e5cde"/>
<path d="M77.2 143.3l3.5 2.5 4.8-2-3.5-2.5z" fill="#3bb99c" stroke-width=".56"/>
<path d="M225.1 144.4l.5 .1 3.8-4-1.9-.3-2.5 2.6z" fill="#3fba99" stroke="#3fba99" stroke-width=".3"/>
<path d="M225.1 144.4l.5 .1M225.6 144.5l3.8-4M229.4 140.5l-1.9-.3M227.5 140.2l-2.5 2.6" fill="none"/>
<path d="M118.7 204.5l2 .5 3.9-3.1-2-.6z" fill="#117ada"/>
<path d="M173.3 126.2l1.9 .5 3.9-3.3-2-.6z" fill="#81bf7a"/>
<path d="M136.1 146l2 .6 2.9-2.4 0-1.1-1-.3z" fill="#38b99e" stroke="#38b99e" stroke-width=".3"/>
<path d="M136.1 146l2 .6M138.1 146.6l2.9-2.4M141 143.1l-1-.3M140 142.8l-3.9 3.2" fill="none"/>
<path d="M60.8 183.8l2.1 .7 4-3.2-2.1-.6z" fill="#0998d1"/>
<path d="M219.8 96.7l1.9 .4 3.9-4.2-2-.4z" fill="#d9ba55"/>
<path d="M141 144.2l1-.8-1-.3z" fill="#38b99e" stroke="#38b99e" stroke-width=".3"/>
<path d="M141 144.2l1-.8M142 143.4l-1-.3" fill="none"/>
<path d="M229.4 88.4l1.9 .3 3.9-4.7-1.9-.3z" fill="#f0b94a"/>
<path d="M103 212.8l2 .6 3.9-3.2-2-.5z" fill="#0770df"/>
<path d="M157.7 134.9l1.9 .6 3.9-3.3-2-.6z" fill="#61be88"/>
<path d="M123.7 143.7l3.5 2.4 4.9-2-3.5-2.4z" fill="#3bb99c" stroke-width=".56"/>
<path d="M194.6 114.1l2 .5 3.9-3.6-2-.5z" fill="#a9be69"/>
<path d="M82.8 173.2l2 .6 3.9-3.1-2-.7z" fill="#06a5c8"/>
<path d="M85.5 143.8l3.5 2.5 4.9-2-3.5-2.5z" fill="#3bb99c" stroke-width=".56"/>
<path d="M210.1 104.1l2 .4 3.8-3.8-1.9-.4z" fill="#c6bc5e"/>
<path d="M124.6 201.9l2 .5 3.9-3.2-2-.5z" fill="#137ed7"/>
<path d="M87.2 221.2l2 .5 3.9-3.1-2-.6z" fill="#0363e1"/>
<path d="M179.1 123.4l2 .5 3.8-3.4-1.9-.5z" fill="#8cbf75"/>
<path d="M142 143.4l2 .6 3.9-3.2-2-.6z" fill="#42bb98"/>
<path d="M47.3 143.9l3.5 2.5 4.8-2-3.5-2.5z" fill="#3bb99c" stroke-width=".56"/>
<path d="M239 132.2l1.9 .2 3.8-4.8-1.9-.1z" fill="#70bf81"/>
<path d="M66.9 181.3l2 .7 3.9-3.2-2-.6z" fill="#079cd0"/>
<path d="M229.4 140.5l1.9 .2 3.9-4.1-2-.3z" fill="#4fbc91"/>
<path d="M163.5 132.2l2 .6 3.9-3.3-2-.6z" fill="#6dbf82"/>
<path d="M108.9 210.2l2 .5 3.9-3.1-2-.5z" fill="#0b74dd"/>
<path d="M132.1 144.1l3.5 2.5 4.8-2-3.5-2.5z" fill="#3bb99c" stroke-width=".56"/>
<path d="M255.1 144.2l3.5 2.5 4.8-2-3.5-2.5z" fill="#3bb99c" stroke-width=".56"/>
<path d="M93.9 144.3l3.4 2.4 4.9-2-3.5-2.4z" fill="#3bb99c" stroke-width=".56"/>
<path d="M219.8 148l2 .3 3.3-3.3 0-.6-1.4-.2z" fill="#36b99f" stroke="#36b99f" stroke-width=".3"/>
<path d="M219.8 148l2 .3M221.8 148.3l3.3-3.3M225.1 144.4l-1.4-.2M223.7 144.2l-3.9 3.8" fill="none"/>
<path d="M200.5 111l1.9 .5 3.9-3.7-2-.4z" fill="#b4bd65"/>
<path d="M225.6 92.9l1.9 .3 3.8-4.5-1.9-.3z" fill="#e6b950"/>
<path d="M93.1 218.6l2.1 .5 3.9-3.1-2.1-.6z" fill="#0269e1"/>
<path d="M184.9 120.5l2 .5 3.9-3.4-2-.5z" fill="#97bf70"/>
<path d="M216.9 144.3l3.5 2.5 4.7-1.9 0-.2-3.4-2.4z" fill="#3bb99c" stroke="#3bb99c" stroke-width=".3"/>
<path d="M216.9 144.3l3.5 2.5M220.4 146.8l4.7-1.9M225.1 144.7l-3.4-2.4M221.7 142.3l-4.8 2" fill="none"/>
<path d="M147.9 140.8l2 .6 3.9-3.3-2-.5z" fill="#4dbc92"/>
<path d="M55.6 144.4l3.5 2.5 4.9-2-3.5-2.5z" fill="#3bb99c" stroke-width=".56"/>
<path d="M248.6 122.5l1.9 .1 3.8-5.7-1.9 0z" fill="#95bf71"/>
<path d="M72.8 178.8l2.1 .7 3.9-3.2-2-.6z" fill="#06a0cd"/>
<path d="M215.9 100.7l1.9 .4 3.9-4-1.9-.4z" fill="#d1bb59"/>
<path d="M225.1 145l.5-.5-.5-.1z" fill="#36b99f" stroke="#36b99f" stroke-width=".3"/>
<path d="M225.1 145l.5-.5M225.6 144.5l-.5-.1" fill="none"/>
<path d="M225.1 144.9l.1-.1-.1-.1z" fill="#3bb99c" stroke="#3bb99c" stroke-width=".3"/>
<path d="M225.1 144.9l.1-.1M225.2 144.8l-.1-.1" fill="none"/>
<path d="M77.3 226.9l2 .5 4-3.1-2.1-.5z" fill="#1857d8"/>
<path d="M169.4 129.5l1.9 .5 3.9-3.3-1.9-.5z" fill="#79bf7d"/>
<path d="M140.9 145l3 2.1 4.9-2-3.5-2.5-4.3 1.8z" fill="#3bb99c" stroke="#3bb99c" stroke-width=".3"/>
<path d="M140.9 145l3 2.1M143.9 147.1l4.9-2M148.8 145.1l-3.5-2.5M145.3 142.6l-4.3 1.8" fill="none"/>
<path d="M235.2 84l1.9 .2 3.8-5.3-1.9-.1z" fill="#fcbd3f"/>
<path d="M114.8 207.6l2 .5 3.9-3.1-2-.5z" fill="#0f77db"/>
<path d="M132.2 149.2l2 .6 3.9-3.2-2-.6z" fill="#32b8a1"/>
<path d="M102.2 144.7l3.5 2.5 4.8-2-3.5-2.5z" fill="#3bb99c" stroke-width=".56"/>
<path d="M235.2 136.6l1.9 .2 3.8-4.4-1.9-.2z" fill="#62be87"/>
<path d="M153.8 138.1l1.9 .6 3.9-3.2-1.9-.6z" fill="#59bd8b"/>
<path d="M140.8 146.6l3.2-2.6-2-.6-1 .8z" fill="#3cba9c" stroke="#3cba9c" stroke-width=".3"/>
<path d="M140.8 146.6l3.2-2.6M144 144l-2-.6M142 143.4l-1 .8" fill="none"/>
<path d="M99.1 216l2 .5 3.9-3.1-2-.6z" fill="#046de0"/>
<path d="M64 144.9l3.5 2.4 4.8-2-3.5-2.4z" fill="#3bb99c" stroke-width=".56"/>
<path d="M206.3 107.8l1.9 .5 3.9-3.8-2-.4z" fill="#bebc61"/>
<path d="M190.8 117.6l1.9 .5 3.9-3.5-2-.5z" fill="#a2be6c"/>
<path d="M225.6 144.5l1.9 .2 3.8-4-1.9-.2z" fill="#44bb97"/>
<path d="M244.7 127.6l2 .2 3.8-5.2-1.9-.1z" fill="#85bf78"/>
<path d="M78.8 176.3l2.1 .7 3.9-3.2-2-.6z" fill="#06a3ca"/>
<path d="M175.2 126.7l2 .5 3.9-3.3-2-.5z" fill="#85bf78"/>
<path d="M120.7 205l2.1 .5 3.8-3.1-2-.5z" fill="#127bd9"/>
<path d="M83.3 224.3l2 .5 3.9-3.1-2-.5z" fill="#095fdf"/>
<path d="M62.9 184.5l2.1 .6 3.9-3.1-2-.7z" fill="#0899d1"/>
<path d="M110.5 145.2l3.5 2.5 4.9-2-3.5-2.5z" fill="#3bb99c" stroke-width=".56"/>
<path d="M221.7 97.1l1.9 .3 3.9-4.2-1.9-.3z" fill="#ddba54"/>
<path d="M231.3 88.7l1.9 .3 3.9-4.8-1.9-.2z" fill="#f3ba48"/>
<path d="M159.6 135.5l2 .5 3.9-3.2-2-.6z" fill="#65be86"/>
<path d="M72.3 145.3l3.5 2.5 4.9-2-3.5-2.5z" fill="#3bb99c" stroke-width=".56"/>
<path d="M105 213.4l2 .5 3.9-3.2-2-.5z" fill="#0971de"/>
<path d="M196.6 114.6l1.9 .5 3.9-3.6-1.9-.5z" fill="#adbe68"/>
<path d="M138.1 146.6l2 .6 .7-.6 .2-2.4z" fill="#3cba9c" stroke="#3cba9c" stroke-width=".3"/>
<path d="M138.1 146.6l2 .6M140.1 147.2l.7-.6M141 144.2l-2.9 2.4" fill="none"/>
<path d="M84.8 173.8l2 .7 4-3.2-2.1-.6z" fill="#06a6c7"/>
<path d="M212.1 104.5l1.9 .5 3.8-3.9-1.9-.4z" fill="#c9bb5c"/>
<path d="M181.1 123.9l1.9 .5 3.9-3.4-2-.5z" fill="#90bf73"/>
<path d="M126.6 202.4l2.1 .5 3.8-3.1-2-.6z" fill="#137fd7"/>
<path d="M144 144l2 .6 3.9-3.2-2-.6z" fill="#46bb96"/>
<path d="M89.2 221.7l2.1 .5 3.9-3.1-2.1-.5z" fill="#0265e1"/>
<path d="M118.9 145.7l3.5 2.4 4.8-2-3.5-2.4z" fill="#3bb99c" stroke-width=".56"/>
<path d="M68.9 182l2.1 .6 3.9-3.1-2.1-.7z" fill="#079dcf"/>
<path d="M225 147.3l2.5-2.6-1.9-.2-.5 .5z" fill="#3ab99c" stroke="#3ab99c" stroke-width=".3"/>
<path d="M225 147.3l2.5-2.6M227.5 144.7l-1.9-.2M225.6 144.5l-.5 .5" fill="none"/>
<path d="M240.9 132.4l1.9 .1 3.9-4.7-2-.2z" fill="#76bf7e"/>
<path d="M231.3 140.7l2 .3 3.8-4.2-1.9-.2z" fill="#55bd8e"/>
<path d="M165.5 132.8l2 .5 3.8-3.3-1.9-.5z" fill="#71bf80"/>
<path d="M80.7 145.8l3.5 2.5 4.8-2-3.5-2.5z" fill="#3bb99c" stroke-width=".56"/>
<path d="M110.9 210.7l2.1 .6 3.8-3.2-2-.5z" fill="#0d75dc"/>
<path d="M202.4 111.5l1.9 .4 3.9-3.6-1.9-.5z" fill="#b7bd64"/>
<path d="M227.5 93.2l1.9 .3 3.8-4.5-1.9-.3z" fill="#e9b94e"/>
<path d="M186.9 121l2 .5 3.8-3.4-1.9-.5z" fill="#9bbf6f"/>
<path d="M149.9 141.4l2 .6 3.8-3.3-1.9-.6z" fill="#51bd8f"/>
<path d="M95.2 219.1l2 .5 3.9-3.1-2-.5z" fill="#036ae1"/>
<path d="M127.2 146.1l3.5 2.5 4.9-2-3.5-2.5z" fill="#3bb99c" stroke-width=".56"/>
<path d="M217.8 101.1l2 .4 3.8-4.1-1.9-.3z" fill="#d5ba58"/>
<path d="M74.9 179.5l2 .6 4-3.1-2.1-.7z" fill="#06a1cc"/>
<path d="M250.2 146.2l3.5 2.5 4.9-2-3.5-2.5z" fill="#3bb99c" stroke-width=".56"/>
<path d="M225 148.8l3.7-1.5-3.5-2.5-.1 .1z" fill="#3bb99c" stroke="#3bb99c" stroke-width=".3"/>
<path d="M225 148.8l3.7-1.5M228.7 147.3l-3.5-2.5M225.2 144.8l-.1 .1" fill="none"/>
<path d="M221.8 148.3l1.9 .3 1.3-1.3 .1-2.3z" fill="#3ab99c" stroke="#3ab99c" stroke-width=".3"/>
<path d="M221.8 148.3l1.9 .3M223.7 148.6l1.3-1.3M225.1 145l-3.3 3.3" fill="none"/>
<path d="M250.5 122.6l2 .1 3.8-5.8-2 0z" fill="#9bbf6f"/>
<path d="M171.3 130l2 .6 3.9-3.4-2-.5z" fill="#7dbf7b"/>
<path d="M89 146.3l3.5 2.4 4.8-2-3.4-2.4z" fill="#3bb99c" stroke-width=".56"/>
<path d="M79.3 227.4l2.1 .5 3.9-3.1-2-.5z" fill="#115adc"/>
<path d="M237.1 84.2l1.9 .2 3.8-5.3-1.9-.2z" fill="#febf3c"/>
<path d="M116.8 208.1l2.1 .5 3.9-3.1-2.1-.5z" fill="#1079da"/>
<path d="M212 146.3l3.5 2.5 4.9-2-3.5-2.5z" fill="#3bb99c" stroke-width=".56"/>
<path d="M50.8 146.4l3.5 2.5 4.8-2-3.5-2.5z" fill="#3bb99c" stroke-width=".56"/>
<path d="M135.6 146.6l3.5 2.5 1.6-.7 .2-3.4-.5-.4z" fill="#3bb99c" stroke="#3bb99c" stroke-width=".3"/>
<path d="M135.6 146.6l3.5 2.5M139.1 149.1l1.6-.7M140.9 145l-.5-.4M140.4 144.6l-4.8 2" fill="none"/>
<path d="M155.7 138.7l2 .6 3.9-3.3-2-.5z" fill="#5dbe89"/>
<path d="M237.1 136.8l1.9 .2 3.8-4.5-1.9-.1z" fill="#68be84"/>
<path d="M192.7 118.1l2 .5 3.8-3.5-1.9-.5z" fill="#a6be6b"/>
<path d="M208.2 108.3l1.9 .4 3.9-3.7-1.9-.5z" fill="#c2bc5f"/>
<path d="M140.7 148.4l3.2-1.3-3-2.1z" fill="#3bb99c" stroke="#3bb99c" stroke-width=".3"/>
<path d="M140.7 148.4l3.2-1.3M143.9 147.1l-3-2.1" fill="none"/>
<path d="M101.1 216.5l2 .5 3.9-3.1-2-.5z" fill="#066fdf"/>
<path d="M258.6 146.7l3.5 2.4 4.8-2-3.5-2.4z" fill="#3bb99c" stroke-width=".56"/>
<path d="M80.9 177l2 .6 3.9-3.1-2-.7z" fill="#06a4c9"/>
<path d="M227.5 144.7l2 .3 3.8-4-2-.3z" fill="#49bc94"/>
<path d="M140.1 147.2l.7 .2 0-.8z" fill="#3fba99" stroke="#3fba99" stroke-width=".3"/>
<path d="M140.1 147.2l.7 .2M140.8 146.6l-.7 .6" fill="none"/>
<path d="M177.2 127.2l2 .6 3.8-3.4-1.9-.5z" fill="#89bf76"/>
<path d="M97.3 146.7l3.5 2.5 4.9-2-3.5-2.5z" fill="#3bb99c" stroke-width=".56"/>
<path d="M246.7 127.8l2 .1 3.8-5.2-2-.1z" fill="#8bbf75"/>
<path d="M122.8 205.5l2 .5 3.9-3.1-2.1-.5z" fill="#127dd8"/>
<path d="M85.3 224.8l2.1 .5 3.9-3.1-2.1-.5z" fill="#0562e0"/>
<path d="M140.8 147.4l1.3 .4 3.9-3.2-2-.6-3.2 2.6z" fill="#3fba99" stroke="#3fba99" stroke-width=".3"/>
<path d="M140.8 147.4l1.3 .4M142.1 147.8l3.9-3.2M146 144.6l-2-.6M144 144l-3.2 2.6" fill="none"/>
<path d="M59.1 146.9l3.5 2.4 4.9-2-3.5-2.4z" fill="#3bb99c" stroke-width=".56"/>
<path d="M65 185.1l2 .6 4-3.1-2.1-.6z" fill="#089bd0"/>
<path d="M223.6 97.4l2 .4 3.8-4.3-1.9-.3z" fill="#e0ba52"/>
<path d="M233.2 89l2 .3 3.8-4.9-1.9-.2z" fill="#f7ba45"/>
<path d="M161.6 136l2 .6 3.9-3.3-2-.5z" fill="#69be84"/>
<path d="M198.5 115.1l2 .4 3.8-3.6-1.9-.4z" fill="#b0bd66"/>
<path d="M107 213.9l2.1 .5 3.9-3.1-2.1-.6z" fill="#0a73dd"/>
<path d="M214 105l1.9 .4 3.9-3.9-2-.4z" fill="#cdbb5b"/>
<path d="M86.8 174.5l2.1 .6 3.9-3.2-2-.6z" fill="#06a7c6"/>
<path d="M105.7 147.2l3.5 2.5 4.8-2-3.5-2.5z" fill="#3bb99c" stroke-width=".56"/>
<path d="M220.4 146.8l3.5 2.5 1.1-.5 .1-3.9z" fill="#3bb99c" stroke="#3bb99c" stroke-width=".3"/>
<path d="M220.4 146.8l3.5 2.5M223.9 149.3l1.1-.5M225.1 144.9l-4.7 1.9" fill="none"/>
<path d="M183 124.4l2 .5 3.9-3.4-2-.5z" fill="#94bf72"/>
<path d="M146 144.6l2 .6 3.9-3.2-2-.6z" fill="#4abc93"/>
<path d="M128.7 202.9l2 .5 3.8-3.1-2-.5z" fill="#1481d6"/>
<path d="M67.5 147.3l3.5 2.5 4.8-2-3.5-2.5z" fill="#3bb99c" stroke-width=".56"/>
<path d="M91.3 222.2l2 .5 3.9-3.1-2-.5z" fill="#0267e1"/>
<path d="M71 182.6l2 .6 3.9-3.1-2-.6z" fill="#069fce"/>
<path d="M167.5 133.3l1.9 .6 3.9-3.3-2-.6z" fill="#75bf7e"/>
<path d="M233.3 141l1.9 .2 3.8-4.2-1.9-.2z" fill="#5bbd8b"/>
<path d="M242.8 132.5l2.1 .2 3.8-4.8-2-.1z" fill="#7cbf7c"/>
<path d="M113 211.3l2 .5 3.9-3.2-2.1-.5z" fill="#0e77db"/>
<path d="M204.3 111.9l2 .5 3.8-3.7-1.9-.4z" fill="#bbbd62"/>
<path d="M114 147.7l3.5 2.4 4.9-2-3.5-2.4z" fill="#3bb99c" stroke-width=".56"/>
<path d="M223.7 148.6l1.3 .2 0-1.5z" fill="#3fba99" stroke="#3fba99" stroke-width=".3"/>
<path d="M223.7 148.6l1.3 .2M225 147.3l-1.3 1.3" fill="none"/>
<path d="M188.9 121.5l1.9 .5 3.9-3.4-2-.5z" fill="#9fbe6d"/>
<path d="M151.9 142l1.9 .5 3.9-3.2-2-.6z" fill="#56bd8d"/>
<path d="M229.4 93.5l1.9 .3 3.9-4.5-2-.3z" fill="#edb94c"/>
<path d="M75.8 147.8l3.5 2.5 4.9-2-3.5-2.5z" fill="#3bb99c" stroke-width=".56"/>
<path d="M225 148.8l.6 .1 3.9-3.9-2-.3-2.5 2.6z" fill="#3fba99" stroke="#3fba99" stroke-width=".3"/>
<path d="M225 148.8l.6 .1M225.6 148.9l3.9-3.9M229.5 145l-2-.3M227.5 144.7l-2.5 2.6" fill="none"/>
<path d="M97.2 219.6l2 .5 3.9-3.1-2-.5z" fill="#046ce0"/>
<path d="M219.8 101.5l1.9 .3 3.9-4-2-.4z" fill="#d8ba56"/>
<path d="M76.9 180.1l2.1 .6 3.9-3.1-2-.6z" fill="#06a2cb"/>
<path d="M173.3 130.6l2 .5 3.9-3.3-2-.6z" fill="#81bf79"/>
<path d="M136.2 150.4l2 .6 2.4-2 .2-1.6-.7-.2z" fill="#39b99d" stroke="#39b99d" stroke-width=".3"/>
<path d="M136.2 150.4l2 .6M138.2 151l2.4-2M140.8 147.4l-.7-.2M140.1 147.2l-3.9 3.2" fill="none"/>
<path d="M140.6 149l1.5-1.2-1.3-.4z" fill="#39b99d" stroke="#39b99d" stroke-width=".3"/>
<path d="M140.6 149l1.5-1.2M142.1 147.8l-1.3-.4" fill="none"/>
<path d="M239 84.4l1.9 .2 3.9-5.4-2-.1z" fill="#fec239"/>
<path d="M118.9 208.6l2 .5 3.9-3.1-2-.5z" fill="#117ad9"/>
<path d="M81.4 227.9l2.1 .5 3.9-3.1-2.1-.5z" fill="#0c5ede"/>
<path d="M122.4 148.1l3.5 2.5 4.8-2-3.5-2.5z" fill="#3bb99c" stroke-width=".56"/>
<path d="M252.5 122.7l2.1 .1 3.8-5.8-2.1-.1z" fill="#a1be6d"/>
<path d="M157.7 139.3l2 .5 3.9-3.2-2-.6z" fill="#62be87"/>
<path d="M194.7 118.6l1.9 .4 3.9-3.5-2-.4z" fill="#a9be69"/>
<path d="M210.1 108.7l2 .4 3.8-3.7-1.9-.4z" fill="#c5bc5e"/>
<path d="M84.2 148.3l3.4 2.4 4.9-2-3.5-2.4z" fill="#3bb99c" stroke-width=".56"/>
<path d="M239 137l2 .2 3.9-4.5-2.1-.2z" fill="#6ebf82"/>
<path d="M207.2 148.3l3.5 2.5 4.8-2-3.5-2.5z" fill="#3bb99c" stroke-width=".56"/>
<path d="M103.1 217l2.1 .5 3.9-3.1-2.1-.5z" fill="#0870df"/>
<path d="M179.2 127.8l1.9 .5 3.9-3.4-2-.5z" fill="#8cbf75"/>
<path d="M82.9 177.6l2.1 .6 3.9-3.1-2.1-.6z" fill="#06a5c8"/>
<path d="M229.5 145l1.9 .2 3.8-4-1.9-.2z" fill="#4fbc91"/>
<path d="M142.1 147.8l2 .6 3.9-3.2-2-.6z" fill="#43bb97"/>
<path d="M124.8 206l2 .5 3.9-3.1-2-.5z" fill="#137ed7"/>
<path d="M67 185.7l2.1 .7 3.9-3.2-2-.6z" fill="#079cd0"/>
<path d="M87.4 225.3l2 .5 3.9-3.1-2-.5z" fill="#0364e1"/>
<path d="M130.7 148.6l3.5 2.5 4.9-2-3.5-2.5z" fill="#3bb99c" stroke-width=".56"/>
<path d="M225.6 97.8l1.9 .3 3.8-4.3-1.9-.3z" fill="#e4b951"/>
<path d="M163.6 136.6l2 .5 3.8-3.2-1.9-.6z" fill="#6ebf82"/>
<path d="M253.7 148.7l3.5 2.4 4.9-2-3.5-2.4z" fill="#3bb99c" stroke-width=".56"/>
<path d="M235.2 89.3l1.9 .2 3.8-4.9-1.9-.2z" fill="#fabb42"/>
<path d="M248.7 127.9l2.1 .1 3.8-5.2-2.1-.1z" fill="#91bf73"/>
<path d="M92.5 148.7l3.5 2.5 4.8-2-3.5-2.5z" fill="#3bb99c" stroke-width=".56"/>
<path d="M200.5 115.5l1.9 .5 3.9-3.6-2-.5z" fill="#b4bd65"/>
<path d="M215.5 148.8l3.5 2.5 4.9-2-3.5-2.5z" fill="#3bb99c" stroke-width=".56"/>
<path d="M219.9 152.4l1.9 .2 3.1-3 .1-.8-1.3-.2z" fill="#36b99f" stroke="#36b99f" stroke-width=".3"/>
<path d="M219.9 152.4l1.9 .2M221.8 152.6l3.1-3M225 148.8l-1.3-.2M223.7 148.6l-3.8 3.8" fill="none"/>
<path d="M109.1 214.4l2 .5 3.9-3.1-2-.5z" fill="#0c74dd"/>
<path d="M54.3 148.9l3.5 2.4 4.8-2-3.5-2.4z" fill="#3bb99c" stroke-width=".56"/>
<path d="M215.9 105.4l2 .3 3.8-3.9-1.9-.3z" fill="#d0bb59"/>
<path d="M185 124.9l1.9 .5 3.9-3.4-1.9-.5z" fill="#97bf70"/>
<path d="M88.9 175.1l2 .6 3.9-3.1-2-.7z" fill="#06a8c4"/>
<path d="M139.1 149.1l1.4 1 .2-1.7z" fill="#3bb99c" stroke="#3bb99c" stroke-width=".3"/>
<path d="M139.1 149.1l1.4 1M140.7 148.4l-1.6 .7" fill="none"/>
<path d="M148 145.2l2 .5 3.8-3.2-1.9-.5z" fill="#4ebc91"/>
<path d="M130.7 203.4l2 .5 3.9-3.2-2.1-.4z" fill="#1482d5"/>
<path d="M140.5 150.1l2.1 1.4 4.8-2-3.5-2.4-3.2 1.3z" fill="#3bb99c" stroke="#3bb99c" stroke-width=".3"/>
<path d="M140.5 150.1l2.1 1.4M142.6 151.5l4.8-2M147.4 149.5l-3.5-2.4M143.9 147.1l-3.2 1.3" fill="none"/>
<path d="M93.3 222.7l2.1 .5 3.8-3.1-2-.5z" fill="#0269e1"/>
<path d="M73 183.2l2.1 .7 3.9-3.2-2.1-.6z" fill="#06a0cd"/>
<path d="M169.4 133.9l2 .5 3.9-3.3-2-.5z" fill="#7abf7d"/>
<path d="M223.9 149.3l1 .7 .1-1.2z" fill="#3bb99c" stroke="#3bb99c" stroke-width=".3"/>
<path d="M223.9 149.3l1 .7M225 148.8l-1.1 .5" fill="none"/>
<path d="M262.1 149.1l3.5 2.5 4.8-2-3.5-2.5z" fill="#3bb99c" stroke-width=".56"/>
<path d="M100.8 149.2l3.5 2.5 4.9-2-3.5-2.5z" fill="#3bb99c" stroke-width=".56"/>
<path d="M235.2 141.2l2 .2 3.8-4.2-2-.2z" fill="#61be88"/>
<path d="M224.9 150l2.4 1.7 4.9-2-3.5-2.4-3.7 1.5z" fill="#3bb99c" stroke="#3bb99c" stroke-width=".3"/>
<path d="M224.9 150l2.4 1.7M227.3 151.7l4.9-2M232.2 149.7l-3.5-2.4M228.7 147.3l-3.7 1.5" fill="none"/>
<path d="M115 211.8l2 .5 3.9-3.2-2-.5z" fill="#1078da"/>
<path d="M206.3 112.4l1.9 .4 3.9-3.7-2-.4z" fill="#bebc61"/>
<path d="M62.6 149.3l3.5 2.5 4.9-2-3.5-2.5z" fill="#3bb99c" stroke-width=".56"/>
<path d="M190.8 122l2 .5 3.8-3.5-1.9-.4z" fill="#a2be6c"/>
<path d="M244.9 132.7l2.1 .1 3.8-4.8-2.1-.1z" fill="#82bf79"/>
<path d="M153.8 142.5l2 .6 3.9-3.3-2-.5z" fill="#5abd8b"/>
<path d="M231.3 93.8l1.9 .3 3.9-4.6-1.9-.2z" fill="#f1b94a"/>
<path d="M225.6 148.9l2 .2 3.8-3.9-1.9-.2z" fill="#44bb96"/>
<path d="M140.4 151.4l3.7-3-2-.6-1.5 1.2z" fill="#3cba9b" stroke="#3cba9b" stroke-width=".3"/>
<path d="M140.4 151.4l3.7-3M144.1 148.4l-2-.6M142.1 147.8l-1.5 1.2" fill="none"/>
<path d="M221.7 101.8l1.9 .4 3.9-4.1-1.9-.3z" fill="#dcba54"/>
<path d="M175.3 131.1l2 .5 3.8-3.3-1.9-.5z" fill="#85bf78"/>
<path d="M99.2 220.1l2.1 .5 3.9-3.1-2.1-.5z" fill="#056ee0"/>
<path d="M79 180.7l2 .6 4-3.1-2.1-.6z" fill="#06a3ca"/>
<path d="M109.2 149.7l3.5 2.4 4.8-2-3.5-2.4z" fill="#3bb99c" stroke-width=".56"/>
<path d="M71 149.8l3.5 2.5 4.8-2-3.5-2.5z" fill="#3bb99c" stroke-width=".56"/>
<path d="M120.9 209.1l2 .5 3.9-3.1-2-.5z" fill="#127cd8"/>
<path d="M240.9 84.6l1.9 .2 3.9-5.5-1.9-.1z" fill="#ffc436"/>
<path d="M83.5 228.4l2 .5 3.9-3.1-2-.5z" fill="#0760e0"/>
<path d="M159.7 139.8l2 .6 3.9-3.3-2-.5z" fill="#66be85"/>
<path d="M196.6 119l2 .5 3.8-3.5-1.9-.5z" fill="#adbe68"/>
<path d="M212.1 109.1l1.9 .4 3.9-3.8-2-.3z" fill="#c9bc5c"/>
<path d="M181.1 128.3l2 .5 3.8-3.4-1.9-.5z" fill="#90bf73"/>
<path d="M105.2 217.5l2 .5 3.9-3.1-2-.5z" fill="#0a72de"/>
<path d="M85 178.2l2 .6 3.9-3.1-2-.6z" fill="#06a6c7"/>
<path d="M117.5 150.1l3.5 2.5 4.9-2-3.5-2.5z" fill="#3bb99c" stroke-width=".56"/>
<path d="M138.2 151l2 .5 .2-.1 .2-2.4z" fill="#3cba9b" stroke="#3cba9b" stroke-width=".3"/>
<path d="M138.2 151l2 .5M140.2 151.5l.2-.1M140.6 149l-2.4 2" fill="none"/>
<path d="M144.1 148.4l2 .5 3.9-3.2-2-.5z" fill="#47bb95"/>
<path d="M231.4 145.2l2 .3 3.8-4.1-2-.2z" fill="#55bd8e"/>
<path d="M241 137.2l2.2 .1 3.8-4.5-2.1-.1z" fill="#74bf7f"/>
<path d="M254.6 122.8l2.3 0 3.8-5.8-2.3 0z" fill="#a7be6a"/>
<path d="M79.3 150.3l3.5 2.4 4.8-2-3.4-2.4z" fill="#3bb99c" stroke-width=".56"/>
<path d="M224.7 151.9l2.9-2.8-2-.2-.7 .7z" fill="#3bb99c" stroke="#3bb99c" stroke-width=".3"/>
<path d="M224.7 151.9l2.9-2.8M227.6 149.1l-2-.2M225.6 148.9l-.7 .7" fill="none"/>
<path d="M126.8 206.5l2 .5 3.9-3.1-2-.5z" fill="#1480d6"/>
<path d="M69.1 186.4l2 .6 4-3.1-2.1-.7z" fill="#079ecf"/>
<path d="M227.5 98.1l1.9 .3 3.8-4.3-1.9-.3z" fill="#e8b94f"/>
<path d="M165.6 137.1l1.9 .6 3.9-3.3-2-.5z" fill="#72bf80"/>
<path d="M89.4 225.8l2.1 .5 3.9-3.1-2.1-.5z" fill="#0266e1"/>
<path d="M237.1 89.5l1.9 .2 3.8-4.9-1.9-.2z" fill="#fcbd3f"/>
<path d="M202.4 116l2 .4 3.8-3.6-1.9-.4z" fill="#b7bd64"/>
<path d="M186.9 125.4l2 .5 3.9-3.4-2-.5z" fill="#9bbf6f"/>
<path d="M217.9 105.7l1.9 .4 3.8-3.9-1.9-.4z" fill="#d4bb58"/>
<path d="M111.1 214.9l2 .5 3.9-3.1-2-.5z" fill="#0e76dc"/>
<path d="M125.9 150.6l3.5 2.5 4.8-2-3.5-2.5z" fill="#3bb99c" stroke-width=".56"/>
<path d="M90.9 175.7l2.1 .6 3.9-3.1-2.1-.6z" fill="#07a9c3"/>
<path d="M150 145.7l1.9 .6 3.9-3.2-2-.6z" fill="#52bd8f"/>
<path d="M248.9 150.7l3.5 2.4 4.8-2-3.5-2.4z" fill="#3bb99c" stroke-width=".56"/>
<path d="M87.6 150.7l3.5 2.5 4.9-2-3.5-2.5z" fill="#3bb99c" stroke-width=".56"/>
<path d="M250.8 128l2.3 .1 3.8-5.3-2.3 0z" fill="#97bf70"/>
<path d="M210.7 150.8l3.5 2.5 4.8-2-3.5-2.5z" fill="#3bb99c" stroke-width=".56"/>
<path d="M171.4 134.4l2 .5 3.9-3.3-2-.5z" fill="#7ebf7b"/>
<path d="M221.8 152.6l2 .3 .9-1 .2-2.3z" fill="#3bb99c" stroke="#3bb99c" stroke-width=".3"/>
<path d="M221.8 152.6l2 .3M223.8 152.9l.9-1M224.9 149.6l-3.1 3" fill="none"/>
<path d="M75.1 183.9l2 .6 3.9-3.2-2-.6z" fill="#06a1cc"/>
<path d="M95.4 223.2l2 .5 3.9-3.1-2.1-.5z" fill="#036be0"/>
<path d="M134.2 151.1l3.5 2.4 2.6-1 .2-2.4-1.4-1z" fill="#3bb99c" stroke="#3bb99c" stroke-width=".3"/>
<path d="M134.2 151.1l3.5 2.4M137.7 153.5l2.6-1M140.5 150.1l-1.4-1M139.1 149.1l-4.9 2" fill="none"/>
<path d="M208.2 112.8l2 .4 3.8-3.7-1.9-.4z" fill="#c2bc5f"/>
<path d="M192.8 122.5l1.9 .4 3.9-3.4-2-.5z" fill="#a6be6a"/>
<path d="M117 212.3l2 .4 3.9-3.1-2-.5z" fill="#117ada"/>
<path d="M155.8 143.1l2 .5 3.9-3.2-2-.6z" fill="#5ebe89"/>
<path d="M237.2 141.4l2.2 .2 3.8-4.3-2.2-.1z" fill="#67be85"/>
<path d="M257.2 151.1l3.5 2.5 4.9-2-3.5-2.5z" fill="#3bb99c" stroke-width=".56"/>
<path d="M140.3 152.5l2.3-1-2.1-1.4z" fill="#3bb99c" stroke="#3bb99c" stroke-width=".3"/>
<path d="M140.3 152.5l2.3-1M142.6 151.5l-2.1-1.4" fill="none"/>
<path d="M233.2 94.1l2 .2 3.8-4.6-1.9-.2z" fill="#f4ba47"/>
<path d="M219 151.3l3.5 2.4 2.1-.8 .3-2.9-1-.7z" fill="#3bb99c" stroke="#3bb99c" stroke-width=".3"/>
<path d="M219 151.3l3.5 2.4M222.5 153.7l2.1-.8M224.9 150l-1-.7M223.9 149.3l-4.9 2" fill="none"/>
<path d="M96 151.2l3.5 2.5 4.8-2-3.5-2.5z" fill="#3bb99c" stroke-width=".56"/>
<path d="M227.6 149.1l2 .3 3.8-3.9-2-.3z" fill="#4abc93"/>
<path d="M223.6 102.2l2 .3 3.8-4.1-1.9-.3z" fill="#dfba53"/>
<path d="M177.3 131.6l1.9 .5 3.9-3.3-2-.5z" fill="#89bf76"/>
<path d="M224.6 152.9l2.7-1.2-2.4-1.7z" fill="#3bb99c" stroke="#3bb99c" stroke-width=".3"/>
<path d="M224.6 152.9l2.7-1.2M227.3 151.7l-2.4-1.7" fill="none"/>
<path d="M57.8 151.3l3.5 2.5 4.8-2-3.5-2.5z" fill="#3bb99c" stroke-width=".56"/>
<path d="M81 181.3l2.1 .6 3.9-3.1-2-.6z" fill="#06a4c9"/>
<path d="M101.3 220.6l2 .5 3.9-3.1-2-.5z" fill="#0770df"/>
<path d="M140.4 151.6l1.8 .5 3.9-3.2-2-.5-3.7 3z" fill="#40ba99" stroke="#40ba99" stroke-width=".3"/>
<path d="M140.4 151.6l1.8 .5M142.2 152.1l3.9-3.2M146.1 148.9l-2-.5M144.1 148.4l-3.7 3" fill="none"/>
<path d="M247 132.8l2.3 .1 3.8-4.8-2.3-.1z" fill="#89bf76"/>
<path d="M122.9 209.6l2 .5 3.9-3.1-2-.5z" fill="#137ed7"/>
<path d="M161.7 140.4l2 .5 3.8-3.2-1.9-.6z" fill="#6abe83"/>
<path d="M242.8 84.8l1.9 .1 3.9-5.5-1.9-.1z" fill="#fec734"/>
<path d="M198.6 119.5l1.9 .4 3.9-3.5-2-.4z" fill="#b0bd66"/>
<path d="M265.6 151.6l3.5 2.5 4.8-2-3.5-2.5z" fill="#3bb99c" stroke-width=".56"/>
<path d="M85.5 228.9l2.1 .5 3.9-3.1-2.1-.5z" fill="#0363e1"/>
<path d="M214 109.5l2 .4 3.8-3.8-1.9-.4z" fill="#ccbb5b"/>
<path d="M104.3 151.7l3.5 2.4 4.9-2-3.5-2.4z" fill="#3bb99c" stroke-width=".56"/>
<path d="M218 156.3l1.9 .3 3.9-3.7-2-.3z" fill="#33b8a1"/>
<path d="M183.1 128.8l1.9 .5 3.9-3.4-2-.5z" fill="#94bf72"/>
<path d="M66.1 151.8l3.5 2.5 4.9-2-3.5-2.5z" fill="#3bb99c" stroke-width=".56"/>
<path d="M87 178.8l2 .6 4-3.1-2.1-.6z" fill="#06a7c5"/>
<path d="M107.2 218l2.1 .5 3.8-3.1-2-.5z" fill="#0b74dd"/>
<path d="M146.1 148.9l2 .6 3.8-3.2-1.9-.6z" fill="#4bbc93"/>
<path d="M167.5 137.7l2 .5 3.9-3.3-2-.5z" fill="#76bf7e"/>
<path d="M128.8 207l2 .5 3.9-3.2-2-.4z" fill="#1482d5"/>
<path d="M229.4 98.4l1.9 .3 3.9-4.4-2-.2z" fill="#ebb94d"/>
<path d="M71.1 187l2.1 .6 3.9-3.1-2-.6z" fill="#069fce"/>
<path d="M233.4 145.5l2.1 .2 3.9-4.1-2.2-.2z" fill="#5bbd8a"/>
<path d="M91.5 226.3l2 .5 3.9-3.1-2-.5z" fill="#0269e1"/>
<path d="M112.7 152.1l3.5 2.5 4.8-2-3.5-2.5z" fill="#3bb99c" stroke-width=".56"/>
<path d="M204.4 116.4l1.9 .4 3.9-3.6-2-.4z" fill="#bbbd62"/>
<path d="M223.8 152.9l.8 .1 .1-1.1z" fill="#40ba99" stroke="#40ba99" stroke-width=".3"/>
<path d="M223.8 152.9l.8 .1M224.7 151.9l-.9 1" fill="none"/>
<path d="M239 89.7l1.9 .2 3.8-5-1.9-.1z" fill="#febf3c"/>
<path d="M188.9 125.9l2 .5 3.8-3.5-1.9-.4z" fill="#9fbe6d"/>
<path d="M243.2 137.3l2.3 .2 3.8-4.6-2.3-.1z" fill="#7bbf7c"/>
<path d="M74.5 152.3l3.4 2.4 4.9-2-3.5-2.4z" fill="#3bb99c" stroke-width=".56"/>
<path d="M219.8 106.1l1.9 .3 3.9-3.9-2-.3z" fill="#d7ba56"/>
<path d="M151.9 146.3l2 .5 3.9-3.2-2-.5z" fill="#57bd8d"/>
<path d="M113.1 215.4l2.1 .4 3.8-3.1-2-.4z" fill="#0f77db"/>
<path d="M224.6 153l1.2 .1 3.8-3.7-2-.3-2.9 2.8z" fill="#40ba99" stroke="#40ba99" stroke-width=".3"/>
<path d="M224.6 153l1.2 .1M225.8 153.1l3.8-3.7M229.6 149.4l-2-.3M227.6 149.1l-2.9 2.8" fill="none"/>
<path d="M256.9 122.8l2.5 .1 3.8-5.8-2.5-.1z" fill="#adbe68"/>
<path d="M173.4 134.9l2 .5 3.8-3.3-1.9-.5z" fill="#82bf79"/>
<path d="M136.3 154.7l2 .6 1.8-1.5 .3-2.2-.2-.1z" fill="#3ab99d" stroke="#3ab99d" stroke-width=".3"/>
<path d="M136.3 154.7l2 .6M138.3 155.3l1.8-1.5M140.4 151.6l-.2-.1M140.2 151.5l-3.9 3.2" fill="none"/>
<path d="M77.1 184.5l2.1 .6 3.9-3.2-2.1-.6z" fill="#06a2cb"/>
<path d="M140.1 153.8l2.1-1.7-1.8-.5z" fill="#3ab99d" stroke="#3ab99d" stroke-width=".3"/>
<path d="M140.1 153.8l2.1-1.7M142.2 152.1l-1.8-.5" fill="none"/>
<path d="M121 152.6l3.5 2.5 4.9-2-3.5-2.5z" fill="#3bb99c" stroke-width=".56"/>
<path d="M97.4 223.7l2 .5 3.9-3.1-2-.5z" fill="#056de0"/>
<path d="M244 152.7l3.5 2.4 4.9-2-3.5-2.4z" fill="#3bb99c" stroke-width=".56"/>
<path d="M210.2 113.2l1.9 .4 3.9-3.7-2-.4z" fill="#c5bc5e"/>
<path d="M82.8 152.7l3.5 2.5 4.8-2-3.5-2.5z" fill="#3bb99c" stroke-width=".56"/>
<path d="M194.7 122.9l2 .5 3.8-3.5-1.9-.4z" fill="#aabe69"/>
<path d="M157.8 143.6l2 .5 3.9-3.2-2-.5z" fill="#63be87"/>
<path d="M205.8 152.8l3.5 2.5 4.9-2-3.5-2.5z" fill="#3bb99c" stroke-width=".56"/>
<path d="M119 212.7l2.1 .5 3.8-3.1-2-.5z" fill="#127bd9"/>
<path d="M235.2 94.3l1.9 .3 3.8-4.7-1.9-.2z" fill="#f8ba44"/>
<path d="M179.2 132.1l2 .5 3.8-3.3-1.9-.5z" fill="#8dbf74"/>
<path d="M253.1 128.1l2.4 .1 3.9-5.3-2.5-.1z" fill="#9ebe6e"/>
<path d="M225.6 102.5l1.9 .3 3.8-4.1-1.9-.3z" fill="#e3b951"/>
<path d="M83.1 181.9l2 .6 3.9-3.1-2-.6z" fill="#06a5c8"/>
<path d="M129.4 153.1l3.5 2.4 4.8-2-3.5-2.4z" fill="#3bb99c" stroke-width=".56"/>
<path d="M142.2 152.1l2 .5 3.9-3.1-2-.6z" fill="#44bb97"/>
<path d="M103.3 221.1l2.1 .5 3.9-3.1-2.1-.5z" fill="#0971de"/>
<path d="M252.4 153.1l3.5 2.5 4.8-2-3.5-2.5z" fill="#3bb99c" stroke-width=".56"/>
<path d="M229.6 149.4l2.1 .2 3.8-3.9-2.1-.2z" fill="#50bc90"/>
<path d="M239.4 141.6l2.2 .1 3.9-4.2-2.3-.2z" fill="#6ebf81"/>
<path d="M91.1 153.2l3.5 2.5 4.9-2-3.5-2.5z" fill="#3bb99c" stroke-width=".56"/>
<path d="M163.7 140.9l1.9 .5 3.9-3.2-2-.5z" fill="#6fbf81"/>
<path d="M214.2 153.3l3.4 2.4 4.9-2-3.5-2.4z" fill="#3bb99c" stroke-width=".56"/>
<path d="M200.5 119.9l2 .4 3.8-3.5-1.9-.4z" fill="#b4bd65"/>
<path d="M124.9 210.1l2.1 .5 3.8-3.1-2-.5z" fill="#137fd7"/>
<path d="M216 109.9l1.9 .4 3.8-3.9-1.9-.3z" fill="#d0bb59"/>
<path d="M244.7 84.9l1.9 .1 3.9-5.6-1.9 0z" fill="#fdca31"/>
<path d="M87.6 229.4l2 .5 3.9-3.1-2-.5z" fill="#0265e1"/>
<path d="M219.9 156.6l2.1 .2 2.4-2.4 .2-1.4-.8-.1z" fill="#37b99e" stroke="#37b99e" stroke-width=".3"/>
<path d="M219.9 156.6l2.1 .2M222 156.8l2.4-2.4M224.6 153l-.8-.1M223.8 152.9l-3.9 3.7" fill="none"/>
<path d="M185 129.3l2 .4 3.9-3.3-2-.5z" fill="#98bf70"/>
<path d="M137.7 153.5l2.2 1.6 .4-2.6z" fill="#3bb99c" stroke="#3bb99c" stroke-width=".3"/>
<path d="M137.7 153.5l2.2 1.6M140.3 152.5l-2.6 1" fill="none"/>
<path d="M89 179.4l2.1 .6 3.9-3.1-2-.6z" fill="#06a8c4"/>
<path d="M148.1 149.5l2 .5 3.8-3.2-2-.5z" fill="#4fbc91"/>
<path d="M139.9 155.1l1.3 .9 4.8-2-3.4-2.5-2.3 1z" fill="#3bb99c" stroke="#3bb99c" stroke-width=".3"/>
<path d="M139.9 155.1l1.3 .9M141.2 156l4.8-2M146 154l-3.4-2.5M142.6 151.5l-2.3 1" fill="none"/>
<path d="M260.7 153.6l3.5 2.5 4.9-2-3.5-2.5z" fill="#3bb99c" stroke-width=".56"/>
<path d="M109.3 218.5l2 .4 3.9-3.1-2.1-.4z" fill="#0d75dc"/>
<path d="M249.3 132.9l2.4 .2 3.8-4.9-2.4-.1z" fill="#90bf73"/>
<path d="M222.5 153.7l1.9 1.3 .2-2.1z" fill="#3bb99c" stroke="#3bb99c" stroke-width=".3"/>
<path d="M222.5 153.7l1.9 1.3M224.6 152.9l-2.1 .8" fill="none"/>
<path d="M99.5 153.7l3.5 2.4 4.8-2-3.5-2.4z" fill="#3bb99c" stroke-width=".56"/>
<path d="M169.5 138.2l2 .5 3.9-3.3-2-.5z" fill="#7bbf7c"/>
<path d="M130.8 207.5l2.1 .4 3.8-3.1-2-.5z" fill="#1483d5"/>
<path d="M231.3 98.7l1.9 .2 3.9-4.3-1.9-.3z" fill="#efb94b"/>
<path d="M224.4 155l1.6 1.2 4.8-2-3.5-2.5-2.7 1.2z" fill="#3bb99c" stroke="#3bb99c" stroke-width=".3"/>
<path d="M224.4 155l1.6 1.2M226 156.2l4.8-2M230.8 154.2l-3.5-2.5M227.3 151.7l-2.7 1.2" fill="none"/>
<path d="M73.2 187.6l2 .6 4-3.1-2.1-.6z" fill="#06a0cd"/>
<path d="M61.3 153.8l3.5 2.5 4.8-2-3.5-2.5z" fill="#3bb99c" stroke-width=".56"/>
<path d="M206.3 116.8l2 .4 3.8-3.6-1.9-.4z" fill="#bebc61"/>
<path d="M93.5 226.8l2.1 .5 3.8-3.1-2-.5z" fill="#036ae1"/>
<path d="M240.9 89.9l1.9 .2 3.8-5.1-1.9-.1z" fill="#fec239"/>
<path d="M190.9 126.4l1.9 .4 3.9-3.4-2-.5z" fill="#a3be6c"/>
<path d="M221.7 106.4l2 .4 3.8-4-1.9-.3z" fill="#dbba55"/>
<path d="M153.9 146.8l2 .5 3.9-3.2-2-.5z" fill="#5bbd8a"/>
<path d="M269.1 154.1l3.5 2.4 4.8-2-3.5-2.4z" fill="#3bb99c" stroke-width=".56"/>
<path d="M115.2 215.8l2 .5 3.9-3.1-2.1-.5z" fill="#1079da"/>
<path d="M235.5 145.7l2.3 .1 3.8-4.1-2.2-.1z" fill="#62be87"/>
<path d="M107.8 154.1l3.5 2.5 4.9-2-3.5-2.5z" fill="#3bb99c" stroke-width=".56"/>
<path d="M175.4 135.4l1.9 .5 3.9-3.3-2-.5z" fill="#86bf77"/>
<path d="M225.8 153.1l2.1 .3 3.8-3.8-2.1-.2z" fill="#46bb96"/>
<path d="M69.6 154.3l3.5 2.4 4.8-2-3.4-2.4z" fill="#3bb99c" stroke-width=".56"/>
<path d="M79.2 185.1l2 .6 3.9-3.2-2-.6z" fill="#06a4ca"/>
<path d="M138.3 155.3l1.5 .4 .3-1.9z" fill="#3eba9a" stroke="#3eba9a" stroke-width=".3"/>
<path d="M138.3 155.3l1.5 .4M140.1 153.8l-1.8 1.5" fill="none"/>
<path d="M99.4 224.2l2.1 .4 3.9-3-2.1-.5z" fill="#066fdf"/>
<path d="M245.5 137.5l2.3 .1 3.9-4.5-2.4-.2z" fill="#83bf79"/>
<path d="M212.1 113.6l2 .4 3.8-3.7-1.9-.4z" fill="#c9bc5c"/>
<path d="M196.7 123.4l1.9 .4 3.9-3.5-2-.4z" fill="#adbe68"/>
<path d="M139.8 155.7l.5 .1 3.9-3.2-2-.5-2.1 1.7z" fill="#3eba9a" stroke="#3eba9a" stroke-width=".3"/>
<path d="M139.8 155.7l.5 .1M140.3 155.8l3.9-3.2M144.2 152.6l-2-.5M142.2 152.1l-2.1 1.7" fill="none"/>
<path d="M159.8 144.1l2 .6 3.8-3.3-1.9-.5z" fill="#67be85"/>
<path d="M121.1 213.2l2 .5 3.9-3.1-2.1-.5z" fill="#137dd8"/>
<path d="M116.2 154.6l3.5 2.5 4.8-2-3.5-2.5z" fill="#3bb99c" stroke-width=".56"/>
<path d="M181.2 132.6l2 .5 3.8-3.4-2-.4z" fill="#91bf73"/>
<path d="M237.1 94.6l1.9 .2 3.8-4.7-1.9-.2z" fill="#fabc41"/>
<path d="M227.5 102.8l1.9 .3 3.8-4.2-1.9-.2z" fill="#e7b94f"/>
<path d="M77.9 154.7l3.5 2.5 4.9-2-3.5-2.5z" fill="#3bb99c" stroke-width=".56"/>
<path d="M85.1 182.5l2.1 .6 3.9-3.1-2.1-.6z" fill="#06a7c6"/>
<path d="M259.4 122.9l2.5 .1 3.9-5.8-2.6-.1z" fill="#b3bd65"/>
<path d="M201 154.8l3.5 2.5 4.8-2-3.5-2.5z" fill="#3bb99c" stroke-width=".56"/>
<path d="M144.2 152.6l2 .6 3.9-3.2-2-.5z" fill="#48bb94"/>
<path d="M105.4 221.6l2 .4 3.9-3.1-2-.4z" fill="#0b73dd"/>
<path d="M165.6 141.4l2 .5 3.9-3.2-2-.5z" fill="#73bf7f"/>
<path d="M202.5 120.3l1.9 .5 3.9-3.6-2-.4z" fill="#b8bd63"/>
<path d="M217.9 110.3l1.9 .3 3.9-3.8-2-.4z" fill="#d4bb58"/>
<path d="M127 210.6l2 .4 3.9-3.1-2.1-.4z" fill="#1481d6"/>
<path d="M124.5 155.1l3.5 2.4 4.9-2-3.5-2.4z" fill="#3bb99c" stroke-width=".56"/>
<path d="M246.6 85l2 .1 3.8-5.6-1.9-.1z" fill="#fccd2f"/>
<path d="M247.5 155.1l3.5 2.5 4.9-2-3.5-2.5z" fill="#3bb99c" stroke-width=".56"/>
<path d="M187 129.7l2 .5 3.8-3.4-1.9-.4z" fill="#9cbf6e"/>
<path d="M231.7 149.6l2.3 .2 3.8-4-2.3-.1z" fill="#57bd8d"/>
<path d="M89.6 229.9l2.1 .5 3.9-3.1-2.1-.5z" fill="#0268e1"/>
<path d="M86.3 155.2l3.5 2.5 4.8-2-3.5-2.5z" fill="#3bb99c" stroke-width=".56"/>
<path d="M209.3 155.3l3.5 2.4 4.8-2-3.4-2.4z" fill="#3bb99c" stroke-width=".56"/>
<path d="M150.1 150l1.9 .5 3.9-3.2-2-.5z" fill="#54bd8e"/>
<path d="M255.5 128.2l2.6 .1 3.8-5.3-2.5-.1z" fill="#a5be6b"/>
<path d="M91.1 180l2 .6 3.9-3.1-2-.6z" fill="#07a9c2"/>
<path d="M241.6 141.7l2.4 .2 3.8-4.3-2.3-.1z" fill="#76bf7e"/>
<path d="M222 156.8l2.1 .3 .3-2.7z" fill="#3dba9b" stroke="#3dba9b" stroke-width=".3"/>
<path d="M222 156.8l2.1 .3M224.4 154.4l-2.4 2.4" fill="none"/>
<path d="M111.3 218.9l2 .5 3.9-3.1-2-.5z" fill="#0e77db"/>
<path d="M171.5 138.7l2 .5 3.8-3.3-1.9-.5z" fill="#7fbf7a"/>
<path d="M224.1 157.1l0 0 3.8-3.7-2.1-.3-1.4 1.3z" fill="#3dba9b" stroke="#3dba9b" stroke-width=".3"/>
<path d="M224.1 157.1l0 0M224.1 157.1l3.8-3.7M227.9 153.4l-2.1-.3M225.8 153.1l-1.4 1.3" fill="none"/>
<path d="M233.2 98.9l2 .3 3.8-4.4-1.9-.2z" fill="#f3b948"/>
<path d="M132.9 207.9l2 .5 3.8-3.1-2-.5z" fill="#1485d4"/>
<path d="M75.2 188.2l2.1 .6 3.9-3.1-2-.6z" fill="#06a2cc"/>
<path d="M132.9 155.5l3.5 2.5 3.3-1.4 .2-1.5-2.2-1.6z" fill="#3bb99c" stroke="#3bb99c" stroke-width=".3"/>
<path d="M132.9 155.5l3.5 2.5M136.4 158l3.3-1.4M139.9 155.1l-2.2-1.6M137.7 153.5l-4.8 2" fill="none"/>
<path d="M208.3 117.2l1.9 .4 3.9-3.6-2-.4z" fill="#c2bc5f"/>
<path d="M255.9 155.6l3.5 2.5 4.8-2-3.5-2.5z" fill="#3bb99c" stroke-width=".56"/>
<path d="M134.4 158.4l2 .5 3.3-2.7 .1-.5-1.5-.4z" fill="#37b99e" stroke="#37b99e" stroke-width=".3"/>
<path d="M134.4 158.4l2 .5M136.4 158.9l3.3-2.7M139.8 155.7l-1.5-.4M138.3 155.3l-3.9 3.1" fill="none"/>
<path d="M192.8 126.8l2 .4 3.8-3.4-1.9-.4z" fill="#a7be6a"/>
<path d="M95.6 227.3l2 .4 3.9-3.1-2.1-.4z" fill="#046ce0"/>
<path d="M94.6 155.7l3.5 2.4 4.9-2-3.5-2.4z" fill="#3bb99c" stroke-width=".56"/>
<path d="M139.7 156.6l1.5-.6-1.3-.9z" fill="#3bb99c" stroke="#3bb99c" stroke-width=".3"/>
<path d="M139.7 156.6l1.5-.6M141.2 156l-1.3-.9" fill="none"/>
<path d="M242.8 90.1l1.9 .1 3.9-5.1-2-.1z" fill="#ffc536"/>
<path d="M223.7 106.8l1.9 .3 3.8-4-1.9-.3z" fill="#dfba53"/>
<path d="M217.6 155.7l3.5 2.5 2.9-1.2 .4-2-1.9-1.3z" fill="#3bb99c" stroke="#3bb99c" stroke-width=".3"/>
<path d="M217.6 155.7l3.5 2.5M221.1 158.2l2.9-1.2M224.4 155l-1.9-1.3M222.5 153.7l-4.9 2" fill="none"/>
<path d="M155.9 147.3l2 .6 3.9-3.2-2-.6z" fill="#60be88"/>
<path d="M139.7 156.2l.6-.4-.5-.1z" fill="#37b99e" stroke="#37b99e" stroke-width=".3"/>
<path d="M139.7 156.2l.6-.4M140.3 155.8l-.5-.1" fill="none"/>
<path d="M224 157l2-.8-1.6-1.2z" fill="#3bb99c" stroke="#3bb99c" stroke-width=".3"/>
<path d="M224 157l2-.8M226 156.2l-1.6-1.2" fill="none"/>
<path d="M117.2 216.3l2 .5 3.9-3.1-2-.5z" fill="#117bd9"/>
<path d="M177.3 135.9l2 .5 3.9-3.3-2-.5z" fill="#8abf76"/>
<path d="M251.7 133.1l2.5 .1 3.9-4.9-2.6-.1z" fill="#97bf70"/>
<path d="M81.2 185.7l2.1 .5 3.9-3.1-2.1-.6z" fill="#06a5c8"/>
<path d="M140.3 155.8l2 .5 3.9-3.1-2-.6z" fill="#41ba98"/>
<path d="M264.2 156.1l3.5 2.4 4.9-2-3.5-2.4z" fill="#3bb99c" stroke-width=".56"/>
<path d="M214.1 114l1.9 .3 3.8-3.7-1.9-.3z" fill="#ccbb5b"/>
<path d="M103 156.1l3.5 2.5 4.8-2-3.5-2.5z" fill="#3bb99c" stroke-width=".56"/>
<path d="M198.6 123.8l2 .4 3.8-3.4-1.9-.5z" fill="#b1bd66"/>
<path d="M101.5 224.6l2 .5 3.9-3.1-2-.4z" fill="#0871df"/>
<path d="M161.8 144.7l2 .5 3.8-3.3-2-.5z" fill="#6cbf83"/>
<path d="M227.9 153.4l2.3 .2 3.8-3.8-2.3-.2z" fill="#4cbc92"/>
<path d="M237.8 145.8l2.4 .2 3.8-4.1-2.4-.2z" fill="#6abe84"/>
<path d="M64.8 156.3l3.4 2.4 4.9-2-3.5-2.4z" fill="#3bb99c" stroke-width=".56"/>
<path d="M123.1 213.7l2 .4 3.9-3.1-2-.4z" fill="#137fd7"/>
<path d="M183.2 133.1l1.9 .4 3.9-3.3-2-.5z" fill="#95bf71"/>
<path d="M239 94.8l1.9 .2 3.8-4.8-1.9-.1z" fill="#fdbe3e"/>
<path d="M229.4 103.1l1.9 .3 3.9-4.2-2-.3z" fill="#eab94d"/>
<path d="M146.2 153.2l2 .5 3.8-3.2-1.9-.5z" fill="#4cbc92"/>
<path d="M87.2 183.1l2 .6 3.9-3.1-2-.6z" fill="#06a8c5"/>
<path d="M272.6 156.5l3.4 2.5 4.9-2-3.5-2.5z" fill="#3bb99c" stroke-width=".56"/>
<path d="M218.2 160.4l2.1 .3 3.7-3.6 .1 0-2.1-.3z" fill="#35b8a0" stroke="#35b8a0" stroke-width=".3"/>
<path d="M218.2 160.4l2.1 .3M220.3 160.7l3.7-3.6M224.1 157.1l-2.1-.3M222 156.8l-3.8 3.6" fill="none"/>
<path d="M111.3 156.6l3.5 2.5 4.9-2-3.5-2.5z" fill="#3bb99c" stroke-width=".56"/>
<path d="M167.6 141.9l2 .5 3.9-3.2-2-.5z" fill="#78bf7d"/>
<path d="M107.4 222l2.1 .5 3.8-3.1-2-.5z" fill="#0c75dd"/>
<path d="M204.4 120.8l2 .3 3.8-3.5-1.9-.4z" fill="#bbbd62"/>
<path d="M247.8 137.6l2.6 .1 3.8-4.5-2.5-.1z" fill="#8abf76"/>
<path d="M73.1 156.7l3.5 2.5 4.8-2-3.5-2.5z" fill="#3bb99c" stroke-width=".56"/>
<path d="M219.8 110.6l2 .3 3.8-3.8-1.9-.3z" fill="#d7ba56"/>
<path d="M196.1 156.8l3.5 2.5 4.9-2-3.5-2.5z" fill="#3bb99c" stroke-width=".56"/>
<path d="M129 211l2 .5 3.9-3.1-2-.5z" fill="#1482d5"/>
<path d="M189 130.2l1.9 .4 3.9-3.4-2-.4z" fill="#a0be6d"/>
<path d="M248.6 85.1l1.9 .1 3.8-5.7-1.9 0z" fill="#fbcf2c"/>
<path d="M91.7 230.4l2 .4 3.9-3.1-2-.4z" fill="#026ae1"/>
<path d="M152 150.5l2 .5 3.9-3.1-2-.6z" fill="#58bd8c"/>
<path d="M139.3 158.7l3-2.4-2-.5-.6 .4z" fill="#3bb99c" stroke="#3bb99c" stroke-width=".3"/>
<path d="M139.3 158.7l3-2.4M142.3 156.3l-2-.5M140.3 155.8l-.6 .4" fill="none"/>
<path d="M93.1 180.6l2.1 .5 3.9-3.1-2.1-.5z" fill="#08aac1"/>
<path d="M119.7 157.1l3.5 2.4 4.8-2-3.5-2.4z" fill="#3bb99c" stroke-width=".56"/>
<path d="M173.5 139.2l1.9 .4 3.9-3.2-2-.5z" fill="#83bf79"/>
<path d="M242.7 157.1l3.5 2.5 4.8-2-3.5-2.5z" fill="#3bb99c" stroke-width=".56"/>
<path d="M113.3 219.4l2.1 .4 3.8-3-2-.5z" fill="#1078da"/>
<path d="M81.4 157.2l3.5 2.5 4.9-2-3.5-2.5z" fill="#3bb99c" stroke-width=".56"/>
<path d="M261.9 123l2.7 .2 3.9-5.8-2.7-.2z" fill="#babd62"/>
<path d="M235.2 99.2l1.9 .2 3.8-4.4-1.9-.2z" fill="#f6ba46"/>
<path d="M210.2 117.6l2 .4 3.8-3.7-1.9-.3z" fill="#c6bc5e"/>
<path d="M77.3 188.8l2 .5 4-3.1-2.1-.5z" fill="#06a3cb"/>
<path d="M234 149.8l2.3 .1 3.9-3.9-2.4-.2z" fill="#5ebe89"/>
<path d="M134.9 208.4l2 .4 3.9-3.1-2.1-.4z" fill="#1487d3"/>
<path d="M204.5 157.3l3.4 2.4 4.9-2-3.5-2.4z" fill="#3bb99c" stroke-width=".56"/>
<path d="M224.1 157.1l2.2 .2 3.9-3.7-2.3-.2z" fill="#43bb97"/>
<path d="M194.8 127.2l1.9 .5 3.9-3.5-2-.4z" fill="#aabe69"/>
<path d="M225.6 107.1l1.9 .3 3.8-4-1.9-.3z" fill="#e2b951"/>
<path d="M157.9 147.9l2 .5 3.9-3.2-2-.5z" fill="#64be86"/>
<path d="M97.6 227.7l2.1 .5 3.8-3.1-2-.5z" fill="#066edf"/>
<path d="M244.7 90.2l2 .2 3.8-5.2-1.9-.1z" fill="#fec733"/>
<path d="M128 157.5l3.5 2.5 4.9-2-3.5-2.5z" fill="#3bb99c" stroke-width=".56"/>
<path d="M244 141.9l2.5 .1 3.9-4.3-2.6-.1z" fill="#7ebf7b"/>
<path d="M179.3 136.4l2 .4 3.8-3.3-1.9-.4z" fill="#8ebf74"/>
<path d="M251 157.6l3.5 2.5 4.9-2-3.5-2.5z" fill="#3bb99c" stroke-width=".56"/>
<path d="M136.4 158.9l2 .6 .9-.8 .4-2.5z" fill="#3bb99c" stroke="#3bb99c" stroke-width=".3"/>
<path d="M136.4 158.9l2 .6M138.4 159.5l.9-.8M139.7 156.2l-3.3 2.7" fill="none"/>
<path d="M119.2 216.8l2.1 .4 3.8-3.1-2-.4z" fill="#127cd8"/>
<path d="M89.8 157.7l3.5 2.4 4.8-2-3.5-2.4z" fill="#3bb99c" stroke-width=".56"/>
<path d="M258.1 128.3l2.7 .2 3.8-5.3-2.7-.2z" fill="#abbe68"/>
<path d="M212.8 157.7l3.5 2.5 4.8-2-3.5-2.5z" fill="#3bb99c" stroke-width=".56"/>
<path d="M83.3 186.2l2 .6 3.9-3.1-2-.6z" fill="#06a6c7"/>
<path d="M142.3 156.3l2 .6 3.9-3.2-2-.5z" fill="#46bb96"/>
<path d="M216 114.3l1.9 .4 3.9-3.8-2-.3z" fill="#d0bb59"/>
<path d="M200.6 124.2l1.9 .4 3.9-3.5-2-.3z" fill="#b5bd65"/>
<path d="M163.8 145.2l1.9 .4 3.9-3.2-2-.5z" fill="#70bf81"/>
<path d="M103.5 225.1l2.1 .5 3.9-3.1-2.1-.5z" fill="#0a72de"/>
<path d="M136.4 158l2.7 2 .6-3.4z" fill="#3bb99c" stroke="#3bb99c" stroke-width=".3"/>
<path d="M136.4 158l2.7 2M139.7 156.6l-3.3 1.4" fill="none"/>
<path d="M185.1 133.5l2 .5 3.8-3.4-1.9-.4z" fill="#99bf70"/>
<path d="M259.4 158.1l3.5 2.4 4.8-2-3.5-2.4z" fill="#3bb99c" stroke-width=".56"/>
<path d="M139.1 160l.7 .5 4.9-2-3.5-2.5-1.5 .6z" fill="#3bb99c" stroke="#3bb99c" stroke-width=".3"/>
<path d="M139.1 160l.7 .5M139.8 160.5l4.9-2M144.7 158.5l-3.5-2.5M141.2 156l-1.5 .6" fill="none"/>
<path d="M125.1 214.1l2.1 .5 3.8-3.1-2-.5z" fill="#1480d6"/>
<path d="M221.1 158.2l2.4 1.7 .5-2.9z" fill="#3bb99c" stroke="#3bb99c" stroke-width=".3"/>
<path d="M221.1 158.2l2.4 1.7M224 157l-2.9 1.2" fill="none"/>
<path d="M98.1 158.1l3.5 2.5 4.9-2-3.5-2.5z" fill="#3bb99c" stroke-width=".56"/>
<path d="M240.9 95l1.9 .1 3.9-4.7-2-.2z" fill="#fec03b"/>
<path d="M231.3 103.4l2 .2 3.8-4.2-1.9-.2z" fill="#eeb94b"/>
<path d="M148.2 153.7l2 .5 3.8-3.2-2-.5z" fill="#51bc90"/>
<path d="M223.5 159.9l1.1 .8 4.9-2-3.5-2.5-2 .8z" fill="#3bb99c" stroke="#3bb99c" stroke-width=".3"/>
<path d="M223.5 159.9l1.1 .8M224.6 160.7l4.9-2M229.5 158.7l-3.5-2.5M226 156.2l-2 .8" fill="none"/>
<path d="M89.2 183.7l2.1 .5 3.9-3.1-2.1-.5z" fill="#07a9c3"/>
<path d="M230.2 153.6l2.3 .1 3.8-3.8-2.3-.1z" fill="#53bd8e"/>
<path d="M169.6 142.4l2 .5 3.8-3.3-1.9-.4z" fill="#7cbf7b"/>
<path d="M254.2 133.2l2.7 .1 3.9-4.8-2.7-.2z" fill="#9ebe6e"/>
<path d="M206.4 121.1l1.9 .4 3.9-3.5-2-.4z" fill="#bfbc60"/>
<path d="M109.5 222.5l2 .4 3.9-3.1-2.1-.4z" fill="#0e76dc"/>
<path d="M221.8 110.9l1.9 .3 3.8-3.8-1.9-.3z" fill="#dbba55"/>
<path d="M240.2 146l2.5 .1 3.8-4.1-2.5-.1z" fill="#72bf80"/>
<path d="M267.7 158.5l3.5 2.5 4.8-2-3.4-2.5z" fill="#3bb99c" stroke-width=".56"/>
<path d="M190.9 130.6l2 .5 3.8-3.4-1.9-.5z" fill="#a4be6b"/>
<path d="M131 211.5l2 .4 3.9-3.1-2-.4z" fill="#1484d4"/>
<path d="M106.5 158.6l3.5 2.5 4.8-2-3.5-2.5z" fill="#3bb99c" stroke-width=".56"/>
<path d="M154 151l2 .5 3.9-3.1-2-.5z" fill="#5dbe8a"/>
<path d="M220.3 160.7l2.2 .2 1-.9 .5-2.9z" fill="#3ab99c" stroke="#3ab99c" stroke-width=".3"/>
<path d="M220.3 160.7l2.2 .2M222.5 160.9l1-.9M224 157.1l-3.7 3.6" fill="none"/>
<path d="M250.5 85.2l2 .1 3.8-5.7-2-.1z" fill="#fad22a"/>
<path d="M93.7 230.8l2.1 .5 3.9-3.1-2.1-.5z" fill="#046ce0"/>
<path d="M68.2 158.7l3.5 2.5 4.9-2-3.5-2.5z" fill="#3bb99c" stroke-width=".56"/>
<path d="M95.2 181.1l2 .6 3.9-3.1-2-.6z" fill="#09abbf"/>
<path d="M175.4 139.6l2 .5 3.9-3.3-2-.4z" fill="#87bf77"/>
<path d="M115.4 219.8l2 .5 3.9-3.1-2.1-.4z" fill="#117ad9"/>
<path d="M138.4 159.5l.8 .2 .1-1z" fill="#3fba9a" stroke="#3fba9a" stroke-width=".3"/>
<path d="M138.4 159.5l.8 .2M139.3 158.7l-.9 .8" fill="none"/>
<path d="M212.2 118l1.9 .3 3.8-3.6-1.9-.4z" fill="#c9bb5c"/>
<path d="M237.1 99.4l1.9 .2 3.8-4.5-1.9-.1z" fill="#f9bb42"/>
<path d="M79.3 189.3l2.1 .6 3.9-3.1-2-.6z" fill="#06a4c9"/>
<path d="M136.9 208.8l2 .4 3.9-3.1-2-.4z" fill="#1389d3"/>
<path d="M196.7 127.7l2 .4 3.8-3.5-1.9-.4z" fill="#aebe67"/>
<path d="M139.2 159.7l1.2 .3 3.9-3.1-2-.6-3 2.4z" fill="#3fba9a" stroke="#3fba9a" stroke-width=".3"/>
<path d="M139.2 159.7l1.2 .3M140.4 160l3.9-3.1M144.3 156.9l-2-.6M142.3 156.3l-3 2.4" fill="none"/>
<path d="M114.8 159.1l3.5 2.4 4.9-2-3.5-2.4z" fill="#3bb99c" stroke-width=".56"/>
<path d="M250.4 137.7l2.6 .1 3.9-4.5-2.7-.1z" fill="#92bf73"/>
<path d="M159.9 148.4l2 .5 3.8-3.3-1.9-.4z" fill="#69be84"/>
<path d="M237.8 159.1l3.5 2.5 4.9-2-3.5-2.5z" fill="#3bb99c" stroke-width=".56"/>
<path d="M227.5 107.4l2 .2 3.8-4-2-.2z" fill="#e6b950"/>
<path d="M76.6 159.2l3.5 2.5 4.8-2-3.5-2.5z" fill="#3bb99c" stroke-width=".56"/>
<path d="M99.7 228.2l2 .4 3.9-3-2.1-.5z" fill="#0770df"/>
<path d="M246.7 90.4l2 .1 3.8-5.2-2-.1z" fill="#fdca31"/>
<path d="M199.6 159.3l3.5 2.4 4.8-2-3.4-2.4z" fill="#3bb99c" stroke-width=".56"/>
<path d="M181.3 136.8l1.9 .5 3.9-3.3-2-.5z" fill="#92bf72"/>
<path d="M121.3 217.2l2 .4 3.9-3-2.1-.5z" fill="#137ed7"/>
<path d="M226.3 157.3l2.4 .2 3.8-3.8-2.3-.1z" fill="#4abc94"/>
<path d="M144.3 156.9l2 .5 3.9-3.2-2-.5z" fill="#4abc93"/>
<path d="M85.3 186.8l2.1 .6 3.9-3.2-2.1-.5z" fill="#06a7c6"/>
<path d="M236.3 149.9l2.5 .2 3.9-4-2.5-.1z" fill="#66be85"/>
<path d="M123.2 159.5l3.4 2.5 4.9-2-3.5-2.5z" fill="#3bb99c" stroke-width=".56"/>
<path d="M217.9 114.7l2 .3 3.8-3.8-1.9-.3z" fill="#d4bb58"/>
<path d="M202.5 124.6l2 .4 3.8-3.5-1.9-.4z" fill="#b8bd63"/>
<path d="M165.7 145.6l2 .5 3.9-3.2-2-.5z" fill="#75bf7f"/>
<path d="M246.2 159.6l3.5 2.5 4.8-2-3.5-2.5z" fill="#3bb99c" stroke-width=".56"/>
<path d="M84.9 159.7l3.5 2.4 4.9-2-3.5-2.4z" fill="#3bb99c" stroke-width=".56"/>
<path d="M105.6 225.6l2 .4 3.9-3.1-2-.4z" fill="#0c74dd"/>
<path d="M207.9 159.7l3.5 2.5 4.9-2-3.5-2.5z" fill="#3bb99c" stroke-width=".56"/>
<path d="M187.1 134l2 .4 3.8-3.3-2-.5z" fill="#9dbe6e"/>
<path d="M264.6 123.2l2.9 .3 3.9-5.6-2.9-.5z" fill="#c0bc60"/>
<path d="M127.2 214.6l2 .4 3.8-3.1-2-.4z" fill="#1482d5"/>
<path d="M233.3 103.6l1.9 .2 3.8-4.2-1.9-.2z" fill="#f2b949"/>
<path d="M150.2 154.2l2 .5 3.8-3.2-2-.5z" fill="#55bd8d"/>
<path d="M246.5 142l2.7 .1 3.8-4.3-2.6-.1z" fill="#86bf77"/>
<path d="M242.8 95.1l2.1 .2 3.8-4.8-2-.1z" fill="#ffc337"/>
<path d="M91.3 184.2l2 .6 3.9-3.1-2-.6z" fill="#07aac2"/>
<path d="M131.5 160l3.5 2.5 4-1.7 .1-.8-2.7-2z" fill="#3bb99c" stroke="#3bb99c" stroke-width=".3"/>
<path d="M131.5 160l3.5 2.5M135 162.5l4-1.7M139.1 160l-2.7-2M136.4 158l-4.9 2" fill="none"/>
<path d="M171.6 142.9l2 .5 3.8-3.3-2-.5z" fill="#80bf7a"/>
<path d="M254.5 160.1l3.5 2.4 4.9-2-3.5-2.4z" fill="#3bb99c" stroke-width=".56"/>
<path d="M208.3 121.5l2 .4 3.8-3.6-1.9-.3z" fill="#c3bc5f"/>
<path d="M93.3 160.1l3.5 2.5 4.8-2-3.5-2.5z" fill="#3bb99c" stroke-width=".56"/>
<path d="M223.7 111.2l1.9 .3 3.9-3.9-2-.2z" fill="#dfba53"/>
<path d="M111.5 222.9l2 .5 3.9-3.1-2-.5z" fill="#0f78db"/>
<path d="M216.3 160.2l3.5 2.5 3.3-1.4 .4-1.4-2.4-1.7z" fill="#3bb99c" stroke="#3bb99c" stroke-width=".3"/>
<path d="M216.3 160.2l3.5 2.5M219.8 162.7l3.3-1.4M223.5 159.9l-2.4-1.7M221.1 158.2l-4.8 2" fill="none"/>
<path d="M134.5 162.6l2.1 .5 2.3-1.8 .3-1.6-.8-.2z" fill="#39b99d" stroke="#39b99d" stroke-width=".3"/>
<path d="M134.5 162.6l2.1 .5M136.6 163.1l2.3-1.8M139.2 159.7l-.8-.2M138.4 159.5l-3.9 3.1" fill="none"/>
<path d="M192.9 131.1l2 .4 3.8-3.4-2-.4z" fill="#a8be6a"/>
<path d="M260.8 128.5l2.8 .2 3.9-5.2-2.9-.3z" fill="#b2bd66"/>
<path d="M133 211.9l2.1 .4 3.8-3.1-2-.4z" fill="#1486d4"/>
<path d="M138.9 161.3l1.5-1.3-1.2-.3z" fill="#39b99d" stroke="#39b99d" stroke-width=".3"/>
<path d="M138.9 161.3l1.5-1.3M140.4 160l-1.2-.3" fill="none"/>
<path d="M223.1 161.3l1.5-.6-1.1-.8z" fill="#3bb99c" stroke="#3bb99c" stroke-width=".3"/>
<path d="M223.1 161.3l1.5-.6M224.6 160.7l-1.1-.8" fill="none"/>
<path d="M156 151.5l2 .5 3.9-3.1-2-.5z" fill="#61be87"/>
<path d="M97.2 181.7l2 .5 3.9-3.1-2-.5z" fill="#0aacbd"/>
<path d="M95.8 231.3l2 .4 3.9-3.1-2-.4z" fill="#056ee0"/>
<path d="M177.4 140.1l2 .5 3.8-3.3-1.9-.5z" fill="#8cbf75"/>
<path d="M223.2 161l1.6 .1 3.9-3.6-2.4-.2-2.8 2.7z" fill="#41ba99" stroke="#41ba99" stroke-width=".3"/>
<path d="M223.2 161l1.6 .1M224.8 161.1l3.9-3.6M228.7 157.5l-2.4-.2M226.3 157.3l-2.8 2.7" fill="none"/>
<path d="M262.9 160.5l3.5 2.5 4.8-2-3.5-2.5z" fill="#3bb99c" stroke-width=".56"/>
<path d="M232.5 153.7l2.5 .2 3.8-3.8-2.5-.2z" fill="#5bbe8a"/>
<path d="M101.6 160.6l3.5 2.5 4.9-2-3.5-2.5z" fill="#3bb99c" stroke-width=".56"/>
<path d="M252.5 85.3l2.1 .1 3.8-5.8-2.1 0z" fill="#f8d628"/>
<path d="M224.6 160.7l3.5 2.4 4.9-2-3.5-2.4z" fill="#3bb99c" stroke-width=".56"/>
<path d="M117.4 220.3l2 .4 3.9-3.1-2-.4z" fill="#127cd8"/>
<path d="M214.1 118.3l2 .4 3.8-3.7-2-.3z" fill="#cdbb5b"/>
<path d="M140.4 160l2 .5 3.9-3.1-2-.5z" fill="#43bb97"/>
<path d="M81.4 189.9l2.1 .6 3.9-3.1-2.1-.6z" fill="#06a5c8"/>
<path d="M198.7 128.1l2 .4 3.8-3.5-2-.4z" fill="#b2bd66"/>
<path d="M138.9 209.2l2 .5 3.9-3.1-2-.5z" fill="#128bd3"/>
<path d="M239 99.6l2 .2 3.9-4.5-2.1-.2z" fill="#fcbd3f"/>
<path d="M161.9 148.9l2 .4 3.8-3.2-2-.5z" fill="#6dbf82"/>
<path d="M242.7 146.1l2.6 .1 3.9-4.1-2.7-.1z" fill="#7abf7c"/>
<path d="M256.9 133.3l2.8 .2 3.9-4.8-2.8-.2z" fill="#a5be6b"/>
<path d="M229.5 107.6l1.9 .3 3.8-4.1-1.9-.2z" fill="#eab94e"/>
<path d="M183.2 137.3l2 .4 3.9-3.3-2-.4z" fill="#97bf71"/>
<path d="M101.7 228.6l2.1 .5 3.8-3.1-2-.4z" fill="#0972de"/>
<path d="M110 161.1l3.5 2.4 4.8-2-3.5-2.4z" fill="#3bb99c" stroke-width=".56"/>
<path d="M233 161.1l3.5 2.5 4.8-2-3.5-2.5z" fill="#3bb99c" stroke-width=".56"/>
<path d="M123.3 217.6l2 .5 3.9-3.1-2-.4z" fill="#1480d6"/>
<path d="M248.7 90.5l2.1 .1 3.8-5.2-2.1-.1z" fill="#fccd2e"/>
<path d="M146.3 157.4l2 .5 3.9-3.2-2-.5z" fill="#4ebc91"/>
<path d="M71.7 161.2l3.5 2.5 4.9-2-3.5-2.5z" fill="#3bb99c" stroke-width=".56"/>
<path d="M87.4 187.4l2 .5 3.9-3.1-2-.6z" fill="#06a8c4"/>
<path d="M194.8 161.3l3.4 2.4 4.9-2-3.5-2.4z" fill="#3bb99c" stroke-width=".56"/>
<path d="M204.5 125l1.9 .4 3.9-3.5-2-.4z" fill="#bcbd62"/>
<path d="M219.9 115l1.9 .3 3.8-3.8-1.9-.3z" fill="#d8ba56"/>
<path d="M167.7 146.1l2 .5 3.9-3.2-2-.5z" fill="#79bf7d"/>
<path d="M189.1 134.4l1.9 .4 3.9-3.3-2-.4z" fill="#a1be6c"/>
<path d="M107.6 226l2.1 .4 3.8-3-2-.5z" fill="#0d76dc"/>
<path d="M118.3 161.5l3.5 2.5 4.8-2-3.4-2.5z" fill="#3bb99c" stroke-width=".56"/>
<path d="M241.3 161.6l3.5 2.5 4.9-2-3.5-2.5z" fill="#3bb99c" stroke-width=".56"/>
<path d="M129.2 215l2 .4 3.9-3.1-2.1-.4z" fill="#1484d4"/>
<path d="M228.7 157.5l2.4 .1 3.9-3.7-2.5-.2z" fill="#51bd90"/>
<path d="M253 137.8l2.8 .2 3.9-4.5-2.8-.2z" fill="#99bf70"/>
<path d="M218.7 164.5l2.3 .1 1.7-1.5 .5-2.1-.7-.1z" fill="#39b99d" stroke="#39b99d" stroke-width=".3"/>
<path d="M218.7 164.5l2.3 .1M221 164.6l1.7-1.5M223.2 161l-.7-.1M222.5 160.9l-3.8 3.6" fill="none"/>
<path d="M152.2 154.7l2 .5 3.8-3.2-2-.5z" fill="#5abd8b"/>
<path d="M80.1 161.7l3.5 2.4 4.8-2-3.5-2.4z" fill="#3bb99c" stroke-width=".56"/>
<path d="M235.2 103.8l2 .2 3.8-4.2-2-.2z" fill="#f6ba46"/>
<path d="M203.1 161.7l3.5 2.5 4.8-2-3.5-2.5z" fill="#3bb99c" stroke-width=".56"/>
<path d="M93.3 184.8l2.1 .5 3.8-3.1-2-.5z" fill="#08abc0"/>
<path d="M173.6 143.4l2 .4 3.8-3.2-2-.5z" fill="#85bf78"/>
<path d="M210.3 121.9l1.9 .3 3.9-3.5-2-.4z" fill="#c6bc5d"/>
<path d="M238.8 150.1l2.6 .1 3.9-4-2.6-.1z" fill="#6fbf81"/>
<path d="M244.9 95.3l2.1 .1 3.8-4.8-2.1-.1z" fill="#fec635"/>
<path d="M222.7 163.1l2.1-2-1.6-.1z" fill="#39b99d" stroke="#39b99d" stroke-width=".3"/>
<path d="M222.7 163.1l2.1-2M224.8 161.1l-1.6-.1" fill="none"/>
<path d="M225.6 111.5l2 .3 3.8-3.9-1.9-.3z" fill="#e2b951"/>
<path d="M194.9 131.5l1.9 .4 3.9-3.4-2-.4z" fill="#abbe68"/>
<path d="M113.5 223.4l2.1 .4 3.8-3.1-2-.4z" fill="#1079da"/>
<path d="M126.6 162l3.5 2.5 4.9-2-3.5-2.5z" fill="#3bb99c" stroke-width=".56"/>
<path d="M249.7 162.1l3.5 2.4 4.8-2-3.5-2.4z" fill="#3bb99c" stroke-width=".56"/>
<path d="M135.1 212.3l2 .5 3.8-3.1-2-.5z" fill="#1388d3"/>
<path d="M158 152l2 .5 3.9-3.2-2-.4z" fill="#66be85"/>
<path d="M138.4 163.6l.2 0 3.8-3.1-2-.5-1.5 1.3z" fill="#3dba9b" stroke="#3dba9b" stroke-width=".3"/>
<path d="M138.4 163.6l.2 0M138.6 163.6l3.8-3.1M142.4 160.5l-2-.5M140.4 160l-1.5 1.3" fill="none"/>
<path d="M88.4 162.1l3.5 2.5 4.9-2-3.5-2.5z" fill="#3bb99c" stroke-width=".56"/>
<path d="M211.4 162.2l3.5 2.5 4.9-2-3.5-2.5z" fill="#3bb99c" stroke-width=".56"/>
<path d="M99.2 182.2l2.1 .6 3.9-3.1-2.1-.6z" fill="#0cadbc"/>
<path d="M179.4 140.6l2 .4 3.8-3.3-2-.4z" fill="#90bf73"/>
<path d="M97.8 231.7l2.1 .4 3.9-3-2.1-.5z" fill="#076fdf"/>
<path d="M267.5 123.5l3 .6 3.9-5.5-3-.7z" fill="#c6bc5e"/>
<path d="M216.1 118.7l1.9 .3 3.8-3.7-1.9-.3z" fill="#d1bb59"/>
<path d="M135 162.5l3.2 2.2 .8-3.9z" fill="#3bb99c" stroke="#3bb99c" stroke-width=".3"/>
<path d="M135 162.5l3.2 2.2M139 160.8l-4 1.7" fill="none"/>
<path d="M119.4 220.7l2.1 .4 3.8-3-2-.5z" fill="#137dd8"/>
<path d="M142.4 160.5l2 .5 3.9-3.1-2-.5z" fill="#47bb95"/>
<path d="M200.7 128.5l1.9 .4 3.8-3.5-1.9-.4z" fill="#b6bd64"/>
<path d="M249.2 142.1l2.7 .1 3.9-4.2-2.8-.2z" fill="#8ebf74"/>
<path d="M83.5 190.5l2 .5 3.9-3.1-2-.5z" fill="#06a6c7"/>
<path d="M258 162.5l3.5 2.5 4.9-2-3.5-2.5z" fill="#3bb99c" stroke-width=".56"/>
<path d="M138.2 164.7l.3 .2 4.8-2-3.5-2.4-.8 .3z" fill="#3bb99c" stroke="#3bb99c" stroke-width=".3"/>
<path d="M138.2 164.7l.3 .2M138.5 164.9l4.8-2M143.3 162.9l-3.5-2.4M139.8 160.5l-.8 .3" fill="none"/>
<path d="M163.9 149.3l2 .5 3.8-3.2-2-.5z" fill="#72bf80"/>
<path d="M219.8 162.7l2.5 1.8 .8-3.2z" fill="#3bb99c" stroke="#3bb99c" stroke-width=".3"/>
<path d="M219.8 162.7l2.5 1.8M223.1 161.3l-3.3 1.4" fill="none"/>
<path d="M96.8 162.6l3.5 2.5 4.8-2-3.5-2.5z" fill="#3bb99c" stroke-width=".56"/>
<path d="M231.4 107.9l2 .2 3.8-4.1-2-.2z" fill="#eeb94b"/>
<path d="M241 99.8l2.2 .2 3.8-4.6-2.1-.1z" fill="#fec03b"/>
<path d="M185.2 137.7l2 .4 3.8-3.3-1.9-.4z" fill="#9bbf6f"/>
<path d="M222.3 164.5l1 .6 4.8-2-3.5-2.4-1.5 .6z" fill="#3bb99c" stroke="#3bb99c" stroke-width=".3"/>
<path d="M222.3 164.5l1 .6M223.3 165.1l4.8-2M228.1 163.1l-3.5-2.4M224.6 160.7l-1.5 .6" fill="none"/>
<path d="M254.6 85.4l2.3 .1 3.8-5.9-2.3 0z" fill="#f7d925"/>
<path d="M224.8 161.1l2.5 .1 3.8-3.6-2.4-.1z" fill="#48bb95"/>
<path d="M103.8 229.1l2 .4 3.9-3.1-2.1-.4z" fill="#0b73dd"/>
<path d="M263.6 128.7l3 .4 3.9-5-3-.6z" fill="#b9bd63"/>
<path d="M235 153.9l2.5 .1 3.9-3.8-2.6-.1z" fill="#64be86"/>
<path d="M148.3 157.9l2 .5 3.9-3.2-2-.5z" fill="#53bd8f"/>
<path d="M125.3 218.1l2.1 .4 3.8-3.1-2-.4z" fill="#1481d5"/>
<path d="M89.4 187.9l2.1 .5 3.9-3.1-2.1-.5z" fill="#07a9c3"/>
<path d="M206.4 125.4l2 .4 3.8-3.6-1.9-.3z" fill="#c0bc60"/>
<path d="M169.7 146.6l2 .5 3.9-3.3-2-.4z" fill="#7ebf7b"/>
<path d="M221.8 115.3l2 .3 3.8-3.8-2-.3z" fill="#dbba55"/>
<path d="M105.1 163.1l3.5 2.4 4.9-2-3.5-2.4z" fill="#3bb99c" stroke-width=".56"/>
<path d="M191 134.8l2 .4 3.8-3.3-1.9-.4z" fill="#a5be6b"/>
<path d="M250.8 90.6l2.3 .1 3.8-5.2-2.3-.1z" fill="#fbd12c"/>
<path d="M109.7 226.4l2 .5 3.9-3.1-2.1-.4z" fill="#0f77db"/>
<path d="M189.9 163.3l3.5 2.4 4.8-2-3.4-2.4z" fill="#3bb99c" stroke-width=".56"/>
<path d="M132.7 166.3l2 .5 3.7-3 0-.2-1.8-.5z" fill="#37b99e" stroke="#37b99e" stroke-width=".3"/>
<path d="M132.7 166.3l2 .5M134.7 166.8l3.7-3M138.4 163.6l-1.8-.5M136.6 163.1l-3.9 3.2" fill="none"/>
<path d="M154.2 155.2l2 .5 3.8-3.2-2-.5z" fill="#5fbe89"/>
<path d="M245.3 146.2l2.7 .1 3.9-4.1-2.7-.1z" fill="#83bf79"/>
<path d="M131.2 215.4l2 .4 3.9-3-2-.5z" fill="#1485d4"/>
<path d="M175.6 143.8l1.9 .5 3.9-3.3-2-.4z" fill="#89bf76"/>
<path d="M95.4 185.3l2 .6 3.9-3.1-2.1-.6z" fill="#09acbe"/>
<path d="M138.4 163.8l.2-.2-.2 0z" fill="#37b99e" stroke="#37b99e" stroke-width=".3"/>
<path d="M138.4 163.8l.2-.2M138.6 163.6l-.2 0" fill="none"/>
<path d="M259.7 133.5l2.9 .2 4-4.6-3-.4z" fill="#acbe68"/>
<path d="M113.5 163.5l3.5 2.5 4.8-2-3.5-2.5z" fill="#3bb99c" stroke-width=".56"/>
<path d="M212.2 122.2l2 .4 3.8-3.6-1.9-.3z" fill="#cabb5c"/>
<path d="M221 164.6l1.2 .1 .5-1.6z" fill="#3fba99" stroke="#3fba99" stroke-width=".3"/>
<path d="M221 164.6l1.2 .1M222.7 163.1l-1.7 1.5" fill="none"/>
<path d="M237.2 104l2.2 .2 3.8-4.2-2.2-.2z" fill="#f9bb43"/>
<path d="M236.5 163.6l3.5 2.5 4.8-2-3.5-2.5z" fill="#3bb99c" stroke-width=".56"/>
<path d="M75.2 163.7l3.5 2.4 4.9-2-3.5-2.4z" fill="#3bb99c" stroke-width=".56"/>
<path d="M196.8 131.9l2 .4 3.8-3.4-1.9-.4z" fill="#afbe67"/>
<path d="M227.6 111.8l2 .2 3.8-3.9-2-.2z" fill="#e6b94f"/>
<path d="M198.2 163.7l3.5 2.5 4.9-2-3.5-2.5z" fill="#3bb99c" stroke-width=".56"/>
<path d="M138.6 163.6l2 .5 3.8-3.1-2-.5z" fill="#41ba98"/>
<path d="M115.6 223.8l2 .4 3.9-3.1-2.1-.4z" fill="#127bd9"/>
<path d="M160 152.5l2 .5 3.9-3.2-2-.5z" fill="#6bbe83"/>
<path d="M137.1 212.8l2 .4 3.9-3.1-2.1-.4z" fill="#138ad3"/>
<path d="M222.2 164.7l1.2 .1 3.9-3.6-2.5-.1-2.1 2z" fill="#3fba99" stroke="#3fba99" stroke-width=".3"/>
<path d="M222.2 164.7l1.2 .1M223.4 164.8l3.9-3.6M227.3 161.2l-2.5-.1M224.8 161.1l-2.1 2" fill="none"/>
<path d="M247 95.4l2.3 .2 3.8-4.9-2.3-.1z" fill="#fec932"/>
<path d="M181.4 141l2 .4 3.8-3.3-2-.4z" fill="#94bf72"/>
<path d="M231.1 157.6l2.6 .1 3.8-3.7-2.5-.1z" fill="#59bd8b"/>
<path d="M101.3 182.8l2 .5 3.9-3.1-2-.5z" fill="#0eaeba"/>
<path d="M121.8 164l3.5 2.5 4.8-2-3.5-2.5z" fill="#3bb99c" stroke-width=".56"/>
<path d="M244.8 164.1l3.5 2.4 4.9-2-3.5-2.4z" fill="#3bb99c" stroke-width=".56"/>
<path d="M99.9 232.1l2 .5 3.9-3.1-2-.4z" fill="#0971de"/>
<path d="M83.6 164.1l3.5 2.5 4.8-2-3.5-2.5z" fill="#3bb99c" stroke-width=".56"/>
<path d="M218 119l1.9 .2 3.9-3.6-2-.3z" fill="#d5bb58"/>
<path d="M144.4 161l2.1 .5 3.8-3.1-2-.5z" fill="#4cbc92"/>
<path d="M202.6 128.9l2 .3 3.8-3.4-2-.4z" fill="#b9bd63"/>
<path d="M206.6 164.2l3.5 2.5 4.8-2-3.5-2.5z" fill="#3bb99c" stroke-width=".56"/>
<path d="M121.5 221.1l2 .5 3.9-3.1-2.1-.4z" fill="#137fd7"/>
<path d="M85.5 191l2.1 .5 3.9-3.1-2.1-.5z" fill="#06a7c5"/>
<path d="M255.8 138l2.9 .1 3.9-4.4-2.9-.2z" fill="#a1be6c"/>
<path d="M165.9 149.8l2 .5 3.8-3.2-2-.5z" fill="#77bf7e"/>
<path d="M241.4 150.2l2.7 0 3.9-3.9-2.7-.1z" fill="#78bf7d"/>
<path d="M187.2 138.1l2 .5 3.8-3.4-2-.4z" fill="#9fbe6d"/>
<path d="M130.1 164.5l3.5 2.4 4.5-1.8 .1-.4-3.2-2.2z" fill="#3bb99c" stroke="#3bb99c" stroke-width=".3"/>
<path d="M130.1 164.5l3.5 2.4M133.6 166.9l4.5-1.8M138.2 164.7l-3.2-2.2M135 162.5l-4.9 2" fill="none"/>
<path d="M253.2 164.5l3.4 2.5 4.9-2-3.5-2.5z" fill="#3bb99c" stroke-width=".56"/>
<path d="M128.8 169.4l2 .5 3.9-3.1-2-.5z" fill="#31b8a2"/>
<path d="M233.4 108.1l2.1 .2 3.9-4.1-2.2-.2z" fill="#f2b949"/>
<path d="M105.8 229.5l2.1 .4 3.8-3-2-.5z" fill="#0d75dc"/>
<path d="M91.9 164.6l3.5 2.5 4.9-2-3.5-2.5z" fill="#3bb99c" stroke-width=".56"/>
<path d="M137.8 166.4l2.8-2.3-2-.5-.2 .2z" fill="#3bb99c" stroke="#3bb99c" stroke-width=".3"/>
<path d="M137.8 166.4l2.8-2.3M140.6 164.1l-2-.5M138.6 163.6l-.2 .2" fill="none"/>
<path d="M150.3 158.4l2 .4 3.9-3.1-2-.5z" fill="#57bd8c"/>
<path d="M127.4 218.5l2 .4 3.8-3.1-2-.4z" fill="#1483d5"/>
<path d="M214.9 164.7l3.5 2.4 3.6-1.4 .3-1.2-2.5-1.8z" fill="#3bb99c" stroke="#3bb99c" stroke-width=".3"/>
<path d="M214.9 164.7l3.5 2.4M218.4 167.1l3.6-1.4M222.3 164.5l-2.5-1.8M219.8 162.7l-4.9 2" fill="none"/>
<path d="M243.2 100l2.3 .1 3.8-4.5-2.3-.2z" fill="#ffc338"/>
<path d="M208.4 125.8l2 .3 3.8-3.5-2-.4z" fill="#c4bc5f"/>
<path d="M171.7 147.1l2 .4 3.8-3.2-1.9-.5z" fill="#82bf79"/>
<path d="M91.5 188.4l2 .6 3.9-3.1-2-.6z" fill="#08aac1"/>
<path d="M223.8 115.6l2 .2 3.8-3.8-2-.2z" fill="#dfba53"/>
<path d="M222 165.7l1.3-.6-1-.6z" fill="#3bb99c" stroke="#3bb99c" stroke-width=".3"/>
<path d="M222 165.7l1.3-.6M223.3 165.1l-1-.6" fill="none"/>
<path d="M193 135.2l2 .4 3.8-3.3-2-.4z" fill="#a9be69"/>
<path d="M256.9 85.5l2.5 0 3.8-5.8-2.5-.1z" fill="#f6dd22"/>
<path d="M138.5 164.9l3.5 2.5 4.8-2-3.5-2.5z" fill="#3bb99c" stroke-width=".56"/>
<path d="M270.5 124.1l3.1 .9 4-5-3.2-1.4z" fill="#cabb5c"/>
<path d="M217.2 168.1l2.4 .2 2.2-2 .4-1.6-1.2-.1z" fill="#37b99e" stroke="#37b99e" stroke-width=".3"/>
<path d="M217.2 168.1l2.4 .2M219.6 168.3l2.2-2M222.2 164.7l-1.2-.1M221 164.6l-3.8 3.5" fill="none"/>
<path d="M227.3 161.2l2.5 .1 3.9-3.6-2.6-.1z" fill="#50bc90"/>
<path d="M111.7 226.9l2.1 .4 3.8-3.1-2-.4z" fill="#1079da"/>
<path d="M100.3 165.1l3.5 2.4 4.8-2-3.5-2.4z" fill="#3bb99c" stroke-width=".56"/>
<path d="M156.2 155.7l2 .5 3.8-3.2-2-.5z" fill="#63be86"/>
<path d="M251.9 142.2l2.9 .1 3.9-4.2-2.9-.1z" fill="#96bf71"/>
<path d="M133.2 215.8l2.1 .5 3.8-3.1-2-.4z" fill="#1487d3"/>
<path d="M177.5 144.3l2 .4 3.9-3.3-2-.4z" fill="#8dbf74"/>
<path d="M97.4 185.9l2 .5 3.9-3.1-2-.5z" fill="#0badbd"/>
<path d="M134.7 166.8l2 .5 1.1-.9 .6-2.6z" fill="#3bb99c" stroke="#3bb99c" stroke-width=".3"/>
<path d="M134.7 166.8l2 .5M136.7 167.3l1.1-.9M138.4 163.8l-3.7 3" fill="none"/>
<path d="M214.2 122.6l1.9 .3 3.8-3.7-1.9-.2z" fill="#cebb5a"/>
<path d="M237.5 154l2.7 0 3.9-3.8-2.7 0z" fill="#6dbf82"/>
<path d="M221.8 166.3l1.6-1.5-1.2-.1z" fill="#37b99e" stroke="#37b99e" stroke-width=".3"/>
<path d="M221.8 166.3l1.6-1.5M223.4 164.8l-1.2-.1" fill="none"/>
<path d="M198.8 132.3l2 .3 3.8-3.4-2-.3z" fill="#b3bd65"/>
<path d="M253.1 90.7l2.4 .1 3.9-5.3-2.5 0z" fill="#f9d429"/>
<path d="M140.6 164.1l2 .5 3.9-3.1-2.1-.5z" fill="#45bb96"/>
<path d="M117.6 224.2l2.1 .4 3.8-3-2-.5z" fill="#137dd8"/>
<path d="M108.6 165.5l3.5 2.5 4.9-2-3.5-2.5z" fill="#3bb99c" stroke-width=".56"/>
<path d="M162 153l2 .5 3.9-3.2-2-.5z" fill="#6fbf81"/>
<path d="M266.6 129.1l3.1 .6 3.9-4.7-3.1-.9z" fill="#bebc61"/>
<path d="M229.6 112l2.1 .2 3.8-3.9-2.1-.2z" fill="#ebb94d"/>
<path d="M231.6 165.6l3.5 2.5 4.9-2-3.5-2.5z" fill="#3bb99c" stroke-width=".56"/>
<path d="M239.4 104.2l2.2 .2 3.9-4.3-2.3-.1z" fill="#fcbd3f"/>
<path d="M139.1 213.2l2 .4 3.9-3.1-2-.4z" fill="#118cd2"/>
<path d="M183.4 141.4l1.9 .5 3.9-3.3-2-.5z" fill="#98bf70"/>
<path d="M193.4 165.7l3.5 2.5 4.8-2-3.5-2.5z" fill="#3bb99c" stroke-width=".56"/>
<path d="M101.9 232.6l2.1 .4 3.9-3.1-2.1-.4z" fill="#0a73dd"/>
<path d="M146.5 161.5l2 .5 3.8-3.2-2-.4z" fill="#50bc90"/>
<path d="M219.9 119.2l2.1 .3 3.8-3.7-2-.2z" fill="#d9ba56"/>
<path d="M204.6 129.2l1.9 .4 3.9-3.5-2-.3z" fill="#bdbc61"/>
<path d="M167.9 150.3l1.9 .4 3.9-3.2-2-.4z" fill="#7bbf7c"/>
<path d="M248 146.3l2.9 .1 3.9-4.1-2.9-.1z" fill="#8bbf75"/>
<path d="M123.5 221.6l2.1 .4 3.8-3.1-2-.4z" fill="#1481d6"/>
<path d="M117 166l3.4 2.5 4.9-2-3.5-2.5z" fill="#3bb99c" stroke-width=".56"/>
<path d="M87.6 191.5l2 .6 3.9-3.1-2-.6z" fill="#06a8c3"/>
<path d="M240 166.1l3.5 2.4 4.8-2-3.5-2.4z" fill="#3bb99c" stroke-width=".56"/>
<path d="M249.3 95.6l2.4 .1 3.8-4.9-2.4-.1z" fill="#fccd2f"/>
<path d="M189.2 138.6l1.9 .4 3.9-3.4-2-.4z" fill="#a3be6c"/>
<path d="M78.7 166.1l3.5 2.5 4.9-2-3.5-2.5z" fill="#3bb99c" stroke-width=".56"/>
<path d="M223.4 164.8l2.5 .1 3.9-3.6-2.5-.1z" fill="#47bb95"/>
<path d="M201.7 166.2l3.5 2.5 4.9-2-3.5-2.5z" fill="#3bb99c" stroke-width=".56"/>
<path d="M262.6 133.7l3.1 .4 4-4.4-3.1-.6z" fill="#b3bd65"/>
<path d="M107.9 229.9l2 .4 3.9-3-2.1-.4z" fill="#0e77db"/>
<path d="M152.3 158.8l2 .5 3.9-3.1-2-.5z" fill="#5cbe8a"/>
<path d="M233.7 157.7l2.6 .1 3.9-3.8-2.7 0z" fill="#63be87"/>
<path d="M173.7 147.5l2 .4 3.8-3.2-2-.4z" fill="#87bf77"/>
<path d="M210.4 126.1l1.9 .3 3.8-3.5-1.9-.3z" fill="#c8bc5d"/>
<path d="M129.4 218.9l2 .4 3.9-3-2.1-.5z" fill="#1485d4"/>
<path d="M125.3 166.5l3.5 2.4 4.8-2-3.5-2.4z" fill="#3bb99c" stroke-width=".56"/>
<path d="M93.5 189l2.1 .5 3.8-3.1-2-.5z" fill="#09abbf"/>
<path d="M248.3 166.5l3.5 2.5 4.8-2-3.4-2.5z" fill="#3bb99c" stroke-width=".56"/>
<path d="M235.5 108.3l2.3 .2 3.8-4.1-2.2-.2z" fill="#f6ba45"/>
<path d="M87.1 166.6l3.5 2.5 4.8-2-3.5-2.5z" fill="#3bb99c" stroke-width=".56"/>
<path d="M195 135.6l1.9 .4 3.9-3.4-2-.3z" fill="#adbe68"/>
<path d="M210.1 166.7l3.5 2.4 4.8-2-3.5-2.4z" fill="#3bb99c" stroke-width=".56"/>
<path d="M225.8 115.8l2.1 .3 3.8-3.9-2.1-.2z" fill="#e4b951"/>
<path d="M137.6 167.5l1.1 .2 3.9-3.1-2-.5-2.8 2.3z" fill="#3fba9a" stroke="#3fba9a" stroke-width=".3"/>
<path d="M137.6 167.5l1.1 .2M138.7 167.7l3.9-3.1M142.6 164.6l-2-.5M140.6 164.1l-2.8 2.3" fill="none"/>
<path d="M158.2 156.2l2 .4 3.8-3.1-2-.5z" fill="#68be84"/>
<path d="M113.8 227.3l2 .4 3.9-3.1-2.1-.4z" fill="#117bd9"/>
<path d="M245.5 100.1l2.3 .2 3.9-4.6-2.4-.1z" fill="#fec634"/>
<path d="M133.6 166.9l3.5 2.5 1-4.3z" fill="#3bb99c" stroke="#3bb99c" stroke-width=".3"/>
<path d="M133.6 166.9l3.5 2.5M138.1 165.1l-4.5 1.8" fill="none"/>
<path d="M179.5 144.7l2 .4 3.8-3.2-1.9-.5z" fill="#92bf73"/>
<path d="M135.3 216.3l2 .4 3.8-3.1-2-.4z" fill="#1389d3"/>
<path d="M244.1 150.2l2.8 .1 4-3.9-2.9-.1z" fill="#81bf7a"/>
<path d="M99.4 186.4l2.1 .5 3.9-3.1-2.1-.5z" fill="#0dadbb"/>
<path d="M258.7 138.1l3.1 .3 3.9-4.3-3.1-.4z" fill="#a8be6a"/>
<path d="M218.4 167.1l2.5 1.8 1.1-3.2z" fill="#3bb99c" stroke="#3bb99c" stroke-width=".3"/>
<path d="M218.4 167.1l2.5 1.8M222 165.7l-3.6 1.4" fill="none"/>
<path d="M137.1 169.4l0 0 4.9-2-3.5-2.5-.4 .2z" fill="#3bb99c" stroke="#3bb99c" stroke-width=".3"/>
<path d="M137.1 169.4l0 0M137.1 169.4l4.9-2M142 167.4l-3.5-2.5M138.5 164.9l-.4 .2" fill="none"/>
<path d="M216.1 122.9l2.1 .2 3.8-3.6-2.1-.3z" fill="#d2bb59"/>
<path d="M95.4 167.1l3.5 2.4 4.9-2-3.5-2.4z" fill="#3bb99c" stroke-width=".56"/>
<path d="M200.8 132.6l1.9 .4 3.8-3.4-1.9-.4z" fill="#b7bd64"/>
<path d="M220.9 168.9l1 .7 4.9-2-3.5-2.5-1.3 .6z" fill="#3bb99c" stroke="#3bb99c" stroke-width=".3"/>
<path d="M220.9 168.9l1 .7M221.9 169.6l4.9-2M226.8 167.6l-3.5-2.5M223.3 165.1l-1.3 .6" fill="none"/>
<path d="M142.6 164.6l2 .5 3.9-3.1-2-.5z" fill="#4abc94"/>
<path d="M164 153.5l2 .4 3.8-3.2-1.9-.4z" fill="#74bf7f"/>
<path d="M259.4 85.5l2.5 .2 3.9-5.9-2.6-.1z" fill="#f5e11f"/>
<path d="M119.7 224.6l2 .5 3.9-3.1-2.1-.4z" fill="#137fd7"/>
<path d="M221.1 168.4l1 0 3.8-3.5-2.5-.1-1.6 1.5z" fill="#3eba9a" stroke="#3eba9a" stroke-width=".3"/>
<path d="M221.1 168.4l1 0M222.1 168.4l3.8-3.5M225.9 164.9l-2.5-.1M223.4 164.8l-1.6 1.5" fill="none"/>
<path d="M141.1 213.6l2.1 .4 3.8-3.1-2-.4z" fill="#108ed2"/>
<path d="M185.3 141.9l2 .4 3.8-3.3-1.9-.4z" fill="#9cbf6e"/>
<path d="M229.8 161.3l2.6 .1 3.9-3.6-2.6-.1z" fill="#58bd8c"/>
<path d="M273.6 125l3.3 1.5 4-4.3-3.3-2.2z" fill="#cdbb5b"/>
<path d="M103.8 167.5l3.4 2.5 4.9-2-3.5-2.5z" fill="#3bb99c" stroke-width=".56"/>
<path d="M231.7 112.2l2.3 .2 3.8-3.9-2.3-.2z" fill="#efb94b"/>
<path d="M226.8 167.6l3.5 2.5 4.8-2-3.5-2.5z" fill="#3bb99c" stroke-width=".56"/>
<path d="M148.5 162l2 .5 3.8-3.2-2-.5z" fill="#55bd8e"/>
<path d="M206.5 129.6l2 .3 3.8-3.5-1.9-.3z" fill="#c1bc60"/>
<path d="M104 233l2.1 .4 3.8-3.1-2-.4z" fill="#0c75dd"/>
<path d="M169.8 150.7l2 .5 3.9-3.3-2-.4z" fill="#80bf7a"/>
<path d="M188.5 167.7l3.5 2.5 4.9-2-3.5-2.5z" fill="#3bb99c" stroke-width=".56"/>
<path d="M255.5 90.8l2.6 .2 3.8-5.3-2.5-.2z" fill="#f7d826"/>
<path d="M241.6 104.4l2.4 .2 3.8-4.3-2.3-.2z" fill="#fec03b"/>
<path d="M89.6 192.1l2.1 .5 3.9-3.1-2.1-.5z" fill="#07aac2"/>
<path d="M125.6 222l2 .4 3.8-3.1-2-.4z" fill="#1482d5"/>
<path d="M222 119.5l2.1 .3 3.8-3.7-2.1-.3z" fill="#ddba54"/>
<path d="M254.8 142.3l3 .2 4-4.1-3.1-.3z" fill="#9ebe6e"/>
<path d="M191.1 139l2 .3 3.8-3.3-1.9-.4z" fill="#a7be6a"/>
<path d="M240.2 154l2.8 .1 3.9-3.8-2.8-.1z" fill="#76bf7e"/>
<path d="M132.9 170.4l2 .5 2.3-1.9 .4-1.5-.9-.2z" fill="#39b99d" stroke="#39b99d" stroke-width=".3"/>
<path d="M132.9 170.4l2 .5M134.9 170.9l2.3-1.9M137.6 167.5l-.9-.2M136.7 167.3l-3.8 3.1" fill="none"/>
<path d="M112.1 168l3.5 2.5 4.8-2-3.4-2.5z" fill="#3bb99c" stroke-width=".56"/>
<path d="M235.1 168.1l3.5 2.4 4.9-2-3.5-2.4z" fill="#3bb99c" stroke-width=".56"/>
<path d="M137.2 169l1.5-1.3-1.1-.2z" fill="#39b99d" stroke="#39b99d" stroke-width=".3"/>
<path d="M137.2 169l1.5-1.3M138.7 167.7l-1.1-.2" fill="none"/>
<path d="M154.3 159.3l2 .5 3.9-3.2-2-.4z" fill="#61be88"/>
<path d="M109.9 230.3l2.1 .5 3.8-3.1-2-.4z" fill="#1078da"/>
<path d="M175.7 147.9l2 .5 3.8-3.3-2-.4z" fill="#8bbf75"/>
<path d="M196.9 168.2l3.5 2.5 4.8-2-3.5-2.5z" fill="#3bb99c" stroke-width=".56"/>
<path d="M269.7 129.7l3.2 1 4-4.2-3.3-1.5z" fill="#c3bc5f"/>
<path d="M212.3 126.4l2 .3 3.9-3.6-2.1-.2z" fill="#ccbb5b"/>
<path d="M131.4 219.3l2.1 .5 3.8-3.1-2-.4z" fill="#1487d3"/>
<path d="M95.6 189.5l2 .5 3.9-3.1-2.1-.5z" fill="#0aacbd"/>
<path d="M196.9 136l2 .4 3.8-3.4-1.9-.4z" fill="#b1bd66"/>
<path d="M251.7 95.7l2.5 .1 3.9-4.8-2.6-.2z" fill="#fbd02c"/>
<path d="M120.4 168.5l3.5 2.4 4.9-2-3.5-2.4z" fill="#3bb99c" stroke-width=".56"/>
<path d="M138.7 167.7l2.1 .5 3.8-3.1-2-.5z" fill="#43bb97"/>
<path d="M215.7 171.8l2.5 .1 2.5-2.2 .4-1.3-1.5-.1z" fill="#37b99e" stroke="#37b99e" stroke-width=".3"/>
<path d="M215.7 171.8l2.5 .1M218.2 171.9l2.5-2.2M221.1 168.4l-1.5-.1M219.6 168.3l-3.9 3.5" fill="none"/>
<path d="M243.5 168.5l3.5 2.5 4.8-2-3.5-2.5z" fill="#3bb99c" stroke-width=".56"/>
<path d="M160.2 156.6l2 .5 3.8-3.2-2-.4z" fill="#6dbf82"/>
<path d="M225.9 164.9l2.6 .1 3.9-3.6-2.6-.1z" fill="#4fbc91"/>
<path d="M82.2 168.6l3.5 2.5 4.9-2-3.5-2.5z" fill="#3bb99c" stroke-width=".56"/>
<path d="M115.8 227.7l2.1 .4 3.8-3-2-.5z" fill="#127cd8"/>
<path d="M181.5 145.1l2 .4 3.8-3.2-2-.4z" fill="#96bf71"/>
<path d="M227.9 116.1l2.3 .2 3.8-3.9-2.3-.2z" fill="#e8b94f"/>
<path d="M205.2 168.7l3.5 2.4 4.9-2-3.5-2.4z" fill="#3bb99c" stroke-width=".56"/>
<path d="M137.3 216.7l2 .4 3.9-3.1-2.1-.4z" fill="#128bd2"/>
<path d="M237.8 108.5l2.4 .2 3.8-4.1-2.4-.2z" fill="#fabc42"/>
<path d="M250.9 146.4l2.9 0 4-3.9-3-.2z" fill="#94bf72"/>
<path d="M101.5 186.9l2 .5 3.9-3.1-2-.5z" fill="#0faeb9"/>
<path d="M202.7 133l2 .3 3.8-3.4-2-.3z" fill="#bbbd62"/>
<path d="M220.7 169.7l1.4-1.3-1 0z" fill="#37b99e" stroke="#37b99e" stroke-width=".3"/>
<path d="M220.7 169.7l1.4-1.3M222.1 168.4l-1 0" fill="none"/>
<path d="M144.6 165.1l2 .5 3.9-3.1-2-.5z" fill="#4ebc91"/>
<path d="M218.2 123.1l2.1 .3 3.8-3.6-2.1-.3z" fill="#d6ba57"/>
<path d="M236.3 157.8l2.8 0 3.9-3.7-2.8-.1z" fill="#6cbf82"/>
<path d="M265.7 134.1l3.2 .7 4-4.1-3.2-1z" fill="#b9bd63"/>
<path d="M128.8 168.9l3.5 2.5 4.8-2 0 0-3.5-2.5z" fill="#3bb99c" stroke="#3bb99c" stroke-width=".3"/>
<path d="M128.8 168.9l3.5 2.5M132.3 171.4l4.8-2M137.1 169.4l-3.5-2.5M133.6 166.9l-4.8 2" fill="none"/>
<path d="M166 153.9l2 .4 3.8-3.1-2-.5z" fill="#79bf7d"/>
<path d="M90.6 169.1l3.5 2.4 4.8-2-3.5-2.4z" fill="#3bb99c" stroke-width=".56"/>
<path d="M121.7 225.1l2 .4 3.9-3.1-2-.4z" fill="#1480d6"/>
<path d="M187.3 142.3l2 .4 3.8-3.4-2-.3z" fill="#a0be6d"/>
<path d="M143.2 214l2 .4 3.8-3.1-2-.4z" fill="#0e91d2"/>
<path d="M247.8 100.3l2.6 .1 3.8-4.6-2.5-.1z" fill="#fdca31"/>
<path d="M213.6 169.1l3.5 2.5 3.4-1.4 .4-1.3-2.5-1.8z" fill="#3bb99c" stroke="#3bb99c" stroke-width=".3"/>
<path d="M213.6 169.1l3.5 2.5M217.1 171.6l3.4-1.4M220.9 168.9l-2.5-1.8M218.4 167.1l-4.8 2" fill="none"/>
<path d="M129 173.5l2 .5 3.9-3.1-2-.5z" fill="#33b8a1"/>
<path d="M220.5 170.2l1.4-.6-1-.7z" fill="#3bb99c" stroke="#3bb99c" stroke-width=".3"/>
<path d="M220.5 170.2l1.4-.6M221.9 169.6l-1-.7" fill="none"/>
<path d="M150.5 162.5l2 .4 3.8-3.1-2-.5z" fill="#5abd8b"/>
<path d="M137.1 169.4l3.5 2.5 4.9-2-3.5-2.5z" fill="#3bb99c" stroke-width=".56"/>
<path d="M208.5 129.9l2 .3 3.8-3.5-2-.3z" fill="#c5bc5e"/>
<path d="M171.8 151.2l2 .4 3.9-3.2-2-.5z" fill="#84bf78"/>
<path d="M106.1 233.4l2 .4 3.9-3-2.1-.5z" fill="#0e76dc"/>
<path d="M91.7 192.6l2 .5 3.9-3.1-2-.5z" fill="#08abc0"/>
<path d="M98.9 169.5l3.5 2.5 4.8-2-3.4-2.5z" fill="#3bb99c" stroke-width=".56"/>
<path d="M127.6 222.4l2 .4 3.9-3-2.1-.5z" fill="#1484d4"/>
<path d="M149 211.3l2 .4 3.9-3.1-2.1-.4z" fill="#0b96d1"/>
<path d="M193.1 139.3l2 .4 3.8-3.3-2-.4z" fill="#abbe69"/>
<path d="M246.9 150.3l3 0 3.9-3.9-2.9 0z" fill="#8abf76"/>
<path d="M222.1 168.4l2.5 .1 3.9-3.5-2.6-.1z" fill="#46bb95"/>
<path d="M261.9 85.7l2.7 .1 3.9-5.8-2.7-.2z" fill="#f5e61c"/>
<path d="M234 112.4l2.3 .2 3.9-3.9-2.4-.2z" fill="#f4ba47"/>
<path d="M183.7 169.7l3.5 2.5 4.8-2-3.5-2.5z" fill="#3bb99c" stroke-width=".56"/>
<path d="M224.1 119.8l2.2 .2 3.9-3.7-2.3-.2z" fill="#e1b952"/>
<path d="M134.9 170.9l1.7 .4 .6-2.3z" fill="#3dba9b" stroke="#3dba9b" stroke-width=".3"/>
<path d="M134.9 170.9l1.7 .4M137.2 169l-2.3 1.9" fill="none"/>
<path d="M261.8 138.4l3.1 .4 4-4-3.2-.7z" fill="#afbe67"/>
<path d="M156.3 159.8l2 .4 3.9-3.1-2-.5z" fill="#66be85"/>
<path d="M136.6 171.3l.3 0 3.9-3.1-2.1-.5-1.5 1.3z" fill="#3dba9b" stroke="#3dba9b" stroke-width=".3"/>
<path d="M136.6 171.3l.3 0M136.9 171.3l3.9-3.1M140.8 168.2l-2.1-.5M138.7 167.7l-1.5 1.3" fill="none"/>
<path d="M177.7 148.4l1.9 .4 3.9-3.3-2-.4z" fill="#8fbf73"/>
<path d="M112 230.8l2 .4 3.9-3.1-2.1-.4z" fill="#117ad9"/>
<path d="M232.4 161.4l2.8 .1 3.9-3.7-2.8 0z" fill="#62be87"/>
<path d="M107.2 170l3.5 2.5 4.9-2-3.5-2.5z" fill="#3bb99c" stroke-width=".56"/>
<path d="M133.5 219.8l2 .4 3.8-3.1-2-.4z" fill="#1389d3"/>
<path d="M244 104.6l2.5 .1 3.9-4.3-2.6-.1z" fill="#ffc437"/>
<path d="M97.6 190l2.1 .5 3.8-3.1-2-.5z" fill="#0cadbc"/>
<path d="M154.9 208.6l2 .4 3.8-3.1-2-.4z" fill="#089ad0"/>
<path d="M230.3 170.1l3.5 2.4 4.8-2-3.5-2.4z" fill="#3bb99c" stroke-width=".56"/>
<path d="M198.9 136.4l2 .3 3.8-3.4-2-.3z" fill="#b5bd64"/>
<path d="M214.3 126.7l2.2 .2 3.8-3.5-2.1-.3z" fill="#d0bb5a"/>
<path d="M258.1 91l2.7 .1 3.8-5.3-2.7-.1z" fill="#f6dc23"/>
<path d="M192 170.2l3.5 2.5 4.9-2-3.5-2.5z" fill="#3bb99c" stroke-width=".56"/>
<path d="M140.8 168.2l2 .5 3.8-3.1-2-.5z" fill="#48bb95"/>
<path d="M162.2 157.1l2 .4 3.8-3.2-2-.4z" fill="#72bf80"/>
<path d="M183.5 145.5l2 .4 3.8-3.2-2-.4z" fill="#9abf6f"/>
<path d="M117.9 228.1l2 .4 3.8-3-2-.4z" fill="#137ed7"/>
<path d="M139.3 217.1l2.1 .4 3.8-3.1-2-.4z" fill="#118ed2"/>
<path d="M218.2 171.9l1.7 .1 .8-2.3z" fill="#3eba9a" stroke="#3eba9a" stroke-width=".3"/>
<path d="M218.2 171.9l1.7 .1M220.7 169.7l-2.5 2.2" fill="none"/>
<path d="M115.6 170.5l3.5 2.4 4.8-2-3.5-2.4z" fill="#3bb99c" stroke-width=".56"/>
<path d="M160.7 205.9l2 .3 3.8-3.1-2-.3z" fill="#069fce"/>
<path d="M103.5 187.4l2.1 .5 3.9-3.1-2.1-.5z" fill="#12afb7"/>
<path d="M238.6 170.5l3.5 2.5 4.9-2-3.5-2.5z" fill="#3bb99c" stroke-width=".56"/>
<path d="M243 154.1l2.9 0 4-3.8-3 0z" fill="#80bf7a"/>
<path d="M204.7 133.3l2 .3 3.8-3.4-2-.3z" fill="#bfbc60"/>
<path d="M257.8 142.5l3.1 .2 4-3.9-3.1-.4z" fill="#a6be6b"/>
<path d="M146.6 165.6l2 .4 3.9-3.1-2-.4z" fill="#53bd8f"/>
<path d="M200.4 170.7l3.5 2.4 4.8-2-3.5-2.4z" fill="#3bb99c" stroke-width=".56"/>
<path d="M168 154.3l2 .5 3.8-3.2-2-.4z" fill="#7ebf7b"/>
<path d="M230.2 116.3l2.3 .1 3.8-3.8-2.3-.2z" fill="#edb94c"/>
<path d="M254.2 95.8l2.7 .2 3.9-4.9-2.7-.1z" fill="#f9d429"/>
<path d="M189.3 142.7l2 .3 3.8-3.3-2-.4z" fill="#a5be6b"/>
<path d="M219.9 172l.8 0 3.9-3.5-2.5-.1-1.4 1.3z" fill="#3eba9a" stroke="#3eba9a" stroke-width=".3"/>
<path d="M219.9 172l.8 0M220.7 172l3.9-3.5M224.6 168.5l-2.5-.1M222.1 168.4l-1.4 1.3" fill="none"/>
<path d="M123.7 225.5l2.1 .4 3.8-3.1-2-.4z" fill="#1482d5"/>
<path d="M135.9 173.8l4.7-1.9-3.5-2.5 0 0z" fill="#3bb99c" stroke="#3bb99c" stroke-width=".3"/>
<path d="M135.9 173.8l4.7-1.9M140.6 171.9l-3.5-2.5M137.1 169.4l0 0" fill="none"/>
<path d="M220.3 123.4l2.2 .2 3.8-3.6-2.2-.2z" fill="#dbba55"/>
<path d="M145.2 214.4l2 .4 3.8-3.1-2-.4z" fill="#0d93d2"/>
<path d="M123.9 170.9l3.5 2.5 4.9-2-3.5-2.5z" fill="#3bb99c" stroke-width=".56"/>
<path d="M240.2 108.7l2.5 .1 3.8-4.1-2.5-.1z" fill="#fdbe3d"/>
<path d="M228.5 165l2.7 .1 4-3.6-2.8-.1z" fill="#58bd8c"/>
<path d="M85.7 171.1l3.5 2.4 4.9-2-3.5-2.4z" fill="#3bb99c" stroke-width=".56"/>
<path d="M152.5 162.9l2 .5 3.8-3.2-2-.4z" fill="#5fbe89"/>
<path d="M208.7 171.1l3.5 2.5 4.9-2-3.5-2.5z" fill="#3bb99c" stroke-width=".56"/>
<path d="M173.8 151.6l2 .4 3.8-3.2-1.9-.4z" fill="#89bf76"/>
<path d="M108.1 233.8l2.1 .4 3.8-3-2-.4z" fill="#0f78db"/>
<path d="M210.5 130.2l2.1 .2 3.9-3.5-2.2-.2z" fill="#cabb5c"/>
<path d="M93.7 193.1l2.1 .5 3.9-3.1-2.1-.5z" fill="#09acbe"/>
<path d="M195.1 139.7l2 .3 3.8-3.3-2-.3z" fill="#afbe67"/>
<path d="M129.6 222.8l2.1 .4 3.8-3-2-.4z" fill="#1486d4"/>
<path d="M151 211.7l2.1 .4 3.8-3.1-2-.4z" fill="#0998d1"/>
<path d="M217.1 171.6l2.3 1.6 1.1-3z" fill="#3bb99c" stroke="#3bb99c" stroke-width=".3"/>
<path d="M217.1 171.6l2.3 1.6M220.5 170.2l-3.4 1.4" fill="none"/>
<path d="M136.9 171.3l2 .5 3.9-3.1-2-.5z" fill="#41ba98"/>
<path d="M253.8 146.4l3.1 .2 4-3.9-3.1-.2z" fill="#9cbf6e"/>
<path d="M94.1 171.5l3.4 2.5 4.9-2-3.5-2.5z" fill="#3bb99c" stroke-width=".56"/>
<path d="M158.3 160.2l2 .5 3.9-3.2-2-.4z" fill="#6bbe83"/>
<path d="M250.4 100.4l2.6 .1 3.9-4.5-2.7-.2z" fill="#fcce2e"/>
<path d="M239.1 157.8l2.9 0 3.9-3.7-2.9 0z" fill="#76bf7e"/>
<path d="M219.4 173.2l1.2 .9 4.8-2-3.5-2.5-1.4 .6z" fill="#3bb99c" stroke="#3bb99c" stroke-width=".3"/>
<path d="M219.4 173.2l1.2 .9M220.6 174.1l4.8-2M225.4 172.1l-3.5-2.5M221.9 169.6l-1.4 .6" fill="none"/>
<path d="M179.6 148.8l2 .4 3.9-3.3-2-.4z" fill="#94bf72"/>
<path d="M114 231.2l2.1 .4 3.8-3.1-2-.4z" fill="#127cd8"/>
<path d="M178.8 171.7l3.5 2.5 4.9-2-3.5-2.5z" fill="#3bb99c" stroke-width=".56"/>
<path d="M99.7 190.5l2 .5 3.9-3.1-2.1-.5z" fill="#0eaeba"/>
<path d="M135.5 220.2l2 .4 3.9-3.1-2.1-.4z" fill="#128bd2"/>
<path d="M156.9 209l2 .4 3.8-3.2-2-.3z" fill="#079cd0"/>
<path d="M226.3 120l2.4 .2 3.8-3.8-2.3-.1z" fill="#e6b950"/>
<path d="M200.9 136.7l2 .3 3.8-3.4-2-.3z" fill="#b9bd63"/>
<path d="M132.3 171.4l3.5 2.5 .1-.1 1.2-4.4z" fill="#3bb99c" stroke="#3bb99c" stroke-width=".3"/>
<path d="M132.3 171.4l3.5 2.5M135.8 173.9l.1-.1M137.1 169.4l-4.8 2" fill="none"/>
<path d="M236.3 112.6l2.5 .2 3.9-4-2.5-.1z" fill="#f9bb44"/>
<path d="M142.8 168.7l2 .5 3.8-3.2-2-.4z" fill="#4cbc92"/>
<path d="M214.3 175.3l2.6 .2 2.5-2.3 .5-1.2-1.7-.1z" fill="#36b99f" stroke="#36b99f" stroke-width=".3"/>
<path d="M214.3 175.3l2.6 .2M216.9 175.5l2.5-2.3M219.9 172l-1.7-.1M218.2 171.9l-3.9 3.4" fill="none"/>
<path d="M164.2 157.5l2 .5 3.8-3.2-2-.5z" fill="#77bf7e"/>
<path d="M102.4 172l3.5 2.5 4.8-2-3.5-2.5z" fill="#3bb99c" stroke-width=".56"/>
<path d="M216.5 126.9l2.2 .3 3.8-3.6-2.2-.2z" fill="#d4bb58"/>
<path d="M225.4 172.1l3.5 2.4 4.9-2-3.5-2.4z" fill="#3bb99c" stroke-width=".56"/>
<path d="M185.5 145.9l1.9 .4 3.9-3.3-2-.3z" fill="#9ebe6d"/>
<path d="M224.6 168.5l2.7 .1 3.9-3.5-2.7-.1z" fill="#4fbc91"/>
<path d="M119.9 228.5l2.1 .4 3.8-3-2.1-.4z" fill="#1480d6"/>
<path d="M187.2 172.2l3.5 2.5 4.8-2-3.5-2.5z" fill="#3bb99c" stroke-width=".56"/>
<path d="M141.4 217.5l2 .4 3.8-3.1-2-.4z" fill="#0f90d2"/>
<path d="M264.6 85.8l2.9 .4 3.9-5.7-2.9-.5z" fill="#f5eb18"/>
<path d="M105.6 187.9l2 .5 3.9-3.1-2-.5z" fill="#14b0b5"/>
<path d="M162.7 206.2l2.1 .4 3.8-3.1-2.1-.4z" fill="#06a0cd"/>
<path d="M148.6 166l2 .5 3.9-3.1-2-.5z" fill="#58bd8c"/>
<path d="M246.5 104.7l2.7 .1 3.8-4.3-2.6-.1z" fill="#fec833"/>
<path d="M219.4 173.2l1.3-1.2-.8 0z" fill="#36b99f" stroke="#36b99f" stroke-width=".3"/>
<path d="M219.4 173.2l1.3-1.2M220.7 172l-.8 0" fill="none"/>
<path d="M170 154.8l2 .4 3.8-3.2-2-.4z" fill="#82bf79"/>
<path d="M249.9 150.3l3 .1 4-3.8-3.1-.2z" fill="#93bf72"/>
<path d="M135.8 174.3l3.1-2.5-2-.5-.4 .3z" fill="#3bb99c" stroke="#3bb99c" stroke-width=".3"/>
<path d="M135.8 174.3l3.1-2.5M138.9 171.8l-2-.5M136.9 171.3l-.4 .3" fill="none"/>
<path d="M110.7 172.5l3.5 2.4 4.9-2-3.5-2.4z" fill="#3bb99c" stroke-width=".56"/>
<path d="M206.7 133.6l2.1 .3 3.8-3.5-2.1-.2z" fill="#c3bc5f"/>
<path d="M233.8 172.5l3.4 2.5 4.9-2-3.5-2.5z" fill="#3bb99c" stroke-width=".56"/>
<path d="M191.3 143l1.9 .4 3.9-3.4-2-.3z" fill="#a9be69"/>
<path d="M235.2 161.5l2.8 0 4-3.7-2.9 0z" fill="#6cbf82"/>
<path d="M125.8 225.9l2 .4 3.9-3.1-2.1-.4z" fill="#1484d4"/>
<path d="M195.5 172.7l3.5 2.4 4.9-2-3.5-2.4z" fill="#3bb99c" stroke-width=".56"/>
<path d="M147.2 214.8l2 .4 3.9-3.1-2.1-.4z" fill="#0b95d2"/>
<path d="M260.8 91.1l2.8 .2 3.9-5.1-2.9-.4z" fill="#f5e020"/>
<path d="M168.6 203.5l2.1 .3 3.8-3.2-2.1-.3z" fill="#06a4ca"/>
<path d="M154.5 163.4l2 .4 3.8-3.1-2-.5z" fill="#64be86"/>
<path d="M175.8 152l2 .4 3.8-3.2-2-.4z" fill="#8dbf74"/>
<path d="M119.1 172.9l3.5 2.5 4.8-2-3.5-2.5z" fill="#3bb99c" stroke-width=".56"/>
<path d="M222.5 123.6l2.3 .2 3.9-3.6-2.4-.2z" fill="#e0ba53"/>
<path d="M232.5 116.4l2.5 .2 3.8-3.8-2.5-.2z" fill="#f2b949"/>
<path d="M110.2 234.2l2 .4 3.9-3-2.1-.4z" fill="#117ada"/>
<path d="M95.8 193.6l2 .4 3.9-3-2-.5z" fill="#0badbc"/>
<path d="M133 174.4l2.1 .5 .7-.6 .7-2.7z" fill="#3bb99c" stroke="#3bb99c" stroke-width=".3"/>
<path d="M133 174.4l2.1 .5M135.1 174.9l.7-.6M136.5 171.6l-3.5 2.8" fill="none"/>
<path d="M197.1 140l2 .4 3.8-3.4-2-.3z" fill="#b3bd65"/>
<path d="M131.7 223.2l2 .4 3.8-3-2-.4z" fill="#1388d3"/>
<path d="M153.1 212.1l2 .4 3.8-3.1-2-.4z" fill="#089ad0"/>
<path d="M203.9 173.1l3.5 2.5 4.8-2-3.5-2.5z" fill="#3bb99c" stroke-width=".56"/>
<path d="M212.6 130.4l2.3 .3 3.8-3.5-2.2-.3z" fill="#cebb5a"/>
<path d="M220.7 172l2.7 .1 3.9-3.5-2.7-.1z" fill="#46bb95"/>
<path d="M138.9 171.8l2 .5 3.9-3.1-2-.5z" fill="#46bb96"/>
<path d="M160.3 160.7l2 .4 3.9-3.1-2-.5z" fill="#70bf81"/>
<path d="M242.7 108.8l2.6 .1 3.9-4.1-2.7-.1z" fill="#fec239"/>
<path d="M256.9 96l2.8 .1 3.9-4.8-2.8-.2z" fill="#f7d826"/>
<path d="M181.6 149.2l2 .4 3.8-3.3-1.9-.4z" fill="#98bf70"/>
<path d="M174.5 200.6l2.1 .3 3.8-3.2-2.1-.3z" fill="#06a7c5"/>
<path d="M245.9 154.1l3 0 4-3.7-3-.1z" fill="#89bf76"/>
<path d="M127.4 173.4l3.5 2.5 4.9-2-3.5-2.5z" fill="#3bb99c" stroke-width=".56"/>
<path d="M116.1 231.6l2 .4 3.9-3.1-2.1-.4z" fill="#137ed7"/>
<path d="M89.2 173.5l3.5 2.5 4.8-2-3.4-2.5z" fill="#3bb99c" stroke-width=".56"/>
<path d="M101.7 191l2.1 .5 3.8-3.1-2-.5z" fill="#11afb8"/>
<path d="M137.5 220.6l2.1 .4 3.8-3.1-2-.4z" fill="#118dd2"/>
<path d="M158.9 209.4l2 .3 3.9-3.1-2.1-.4z" fill="#069ece"/>
<path d="M212.2 173.6l3.5 2.5 3.1-1.3 .6-1.6-2.3-1.6z" fill="#3bb99c" stroke="#3bb99c" stroke-width=".3"/>
<path d="M212.2 173.6l3.5 2.5M215.7 176.1l3.1-1.3M219.4 173.2l-2.3-1.6M217.1 171.6l-4.9 2" fill="none"/>
<path d="M231.2 165.1l2.9 0 3.9-3.6-2.8 0z" fill="#62be87"/>
<path d="M144.8 169.2l2 .4 3.8-3.1-2-.5z" fill="#51bc90"/>
<path d="M202.9 137l2.1 .3 3.8-3.4-2.1-.3z" fill="#bdbc61"/>
<path d="M166.2 158l2 .4 3.8-3.2-2-.4z" fill="#7cbf7c"/>
<path d="M135.9 173.9l3.4 2.4 4.8-2-3.5-2.4-4.7 1.9z" fill="#3bb99c" stroke="#3bb99c" stroke-width=".3"/>
<path d="M135.9 173.9l3.4 2.4M139.3 176.3l4.8-2M144.1 174.3l-3.5-2.4M140.6 171.9l-4.7 1.9" fill="none"/>
<path d="M187.4 146.3l2 .3 3.8-3.2-1.9-.4z" fill="#a3be6c"/>
<path d="M216.9 175.5l1.7 0 .8-2.3z" fill="#3eba9a" stroke="#3eba9a" stroke-width=".3"/>
<path d="M216.9 175.5l1.7 0M219.4 173.2l-2.5 2.3" fill="none"/>
<path d="M122 228.9l2 .4 3.8-3-2-.4z" fill="#1482d5"/>
<path d="M97.5 174l3.5 2.5 4.9-2-3.5-2.5z" fill="#3bb99c" stroke-width=".56"/>
<path d="M143.4 217.9l2 .4 3.8-3.1-2-.4z" fill="#0d92d2"/>
<path d="M107.6 188.4l2.1 .5 3.8-3.1-2-.5z" fill="#17b1b3"/>
<path d="M180.4 197.7l2.2 .3 3.9-3.2-2.2-.3z" fill="#08aac1"/>
<path d="M228.7 120.2l2.4 .1 3.9-3.7-2.5-.2z" fill="#ebb94d"/>
<path d="M220.6 174.1l3.5 2.4 4.8-2-3.5-2.4z" fill="#3bb99c" stroke-width=".56"/>
<path d="M253 100.5l2.8 .1 3.9-4.5-2.8-.1z" fill="#fad22b"/>
<path d="M129.2 177.5l2 .5 3.9-3.1-2.1-.5z" fill="#35b89f"/>
<path d="M164.8 206.6l2 .3 3.9-3.1-2.1-.3z" fill="#06a2cb"/>
<path d="M218.7 127.2l2.3 .2 3.8-3.6-2.3-.2z" fill="#d9ba56"/>
<path d="M150.6 166.5l2.1 .4 3.8-3.1-2-.4z" fill="#5dbe8a"/>
<path d="M172 155.2l2 .4 3.8-3.2-2-.4z" fill="#87bf77"/>
<path d="M182.3 174.2l3.5 2.5 4.9-2-3.5-2.5z" fill="#3bb99c" stroke-width=".56"/>
<path d="M238.8 112.8l2.6 .1 3.9-4-2.6-.1z" fill="#fcbd3f"/>
<path d="M193.2 143.4l2.1 .3 3.8-3.3-2-.4z" fill="#adbe68"/>
<path d="M242 157.8l3 0 3.9-3.7-3 0z" fill="#80bf7a"/>
<path d="M218.6 175.5l.9 .1 3.9-3.5-2.7-.1-1.3 1.2z" fill="#3eba9a" stroke="#3eba9a" stroke-width=".3"/>
<path d="M218.6 175.5l.9 .1M219.5 175.6l3.9-3.5M223.4 172.1l-2.7-.1M220.7 172l-1.3 1.2" fill="none"/>
<path d="M127.8 226.3l2.1 .4 3.8-3.1-2-.4z" fill="#1486d4"/>
<path d="M208.8 133.9l2.2 .2 3.9-3.4-2.3-.3z" fill="#c8bc5d"/>
<path d="M149.2 215.2l2.1 .4 3.8-3.1-2-.4z" fill="#0997d1"/>
<path d="M105.9 174.5l3.5 2.4 4.8-2-3.5-2.4z" fill="#3bb99c" stroke-width=".56"/>
<path d="M228.9 174.5l3.5 2.5 4.8-2-3.4-2.5z" fill="#3bb99c" stroke-width=".56"/>
<path d="M135.6 175l1.5 .4 3.8-3.1-2-.5-3.1 2.5z" fill="#3fba99" stroke="#3fba99" stroke-width=".3"/>
<path d="M135.6 175l1.5 .4M137.1 175.4l3.8-3.1M140.9 172.3l-2-.5M138.9 171.8l-3.1 2.5" fill="none"/>
<path d="M156.5 163.8l2 .5 3.8-3.2-2-.4z" fill="#69be84"/>
<path d="M177.8 152.4l2 .4 3.8-3.2-2-.4z" fill="#92bf72"/>
<path d="M190.7 174.7l3.5 2.4 4.8-2-3.5-2.4z" fill="#3bb99c" stroke-width=".56"/>
<path d="M170.7 203.8l2.1 .3 3.8-3.2-2.1-.3z" fill="#06a5c8"/>
<path d="M227.3 168.6l2.8 0 4-3.5-2.9 0z" fill="#58bd8c"/>
<path d="M267.5 86.2l3 .5 3.9-5.4-3-.8z" fill="#f6f015"/>
<path d="M97.8 194l2.1 .5 3.9-3-2.1-.5z" fill="#0daeba"/>
<path d="M112.2 234.6l2.1 .4 3.8-3-2-.4z" fill="#127bd9"/>
<path d="M133.7 223.6l2 .4 3.9-3-2.1-.4z" fill="#128ad3"/>
<path d="M249.2 104.8l2.7 .1 3.9-4.3-2.8-.1z" fill="#fdcc30"/>
<path d="M155.1 212.5l2 .4 3.8-3.2-2-.3z" fill="#079cd0"/>
<path d="M114.2 174.9l3.5 2.5 4.9-2-3.5-2.5z" fill="#3bb99c" stroke-width=".56"/>
<path d="M199.1 140.4l2.1 .3 3.8-3.4-2.1-.3z" fill="#b7bd63"/>
<path d="M140.9 172.3l2.1 .4 3.8-3.1-2-.4z" fill="#4abc93"/>
<path d="M162.3 161.1l2 .4 3.9-3.1-2-.4z" fill="#75bf7f"/>
<path d="M183.6 149.6l2 .3 3.8-3.3-2-.3z" fill="#9cbf6e"/>
<path d="M199 175.1l3.5 2.5 4.9-2-3.5-2.5z" fill="#3bb99c" stroke-width=".56"/>
<path d="M224.8 123.8l2.5 .2 3.8-3.7-2.4-.1z" fill="#e5b950"/>
<path d="M214.9 130.7l2.3 .2 3.8-3.5-2.3-.2z" fill="#d3bb58"/>
<path d="M118.1 232l2.1 .4 3.8-3.1-2-.4z" fill="#137fd6"/>
<path d="M103.8 191.5l2 .4 3.9-3-2.1-.5z" fill="#13b0b6"/>
<path d="M235 116.6l2.5 .1 3.9-3.8-2.6-.1z" fill="#f7ba45"/>
<path d="M176.6 200.9l2.2 .3 3.8-3.2-2.2-.3z" fill="#07a9c3"/>
<path d="M263.6 91.3l3 .4 3.9-5-3-.5z" fill="#f5e51c"/>
<path d="M139.6 221l2 .4 3.8-3.1-2-.4z" fill="#0f8fd2"/>
<path d="M238 161.5l3 0 4-3.7-3 0z" fill="#76bf7e"/>
<path d="M122.6 175.4l3.5 2.5 4.8-2-3.5-2.5z" fill="#3bb99c" stroke-width=".56"/>
<path d="M160.9 209.7l2.1 .4 3.8-3.2-2-.3z" fill="#06a0cd"/>
<path d="M146.8 169.6l2 .5 3.9-3.2-2.1-.4z" fill="#56bd8d"/>
<path d="M168.2 158.4l2 .4 3.8-3.2-2-.4z" fill="#80bf7a"/>
<path d="M213 178.9l2.6 .1 2.5-2.2 .5-1.3-1.7 0z" fill="#36b99f" stroke="#36b99f" stroke-width=".3"/>
<path d="M213 178.9l2.6 .1M215.6 179l2.5-2.2M218.6 175.5l-1.7 0M216.9 175.5l-3.9 3.4" fill="none"/>
<path d="M207.4 175.6l3.5 2.5 4.8-2-3.5-2.5z" fill="#3bb99c" stroke-width=".56"/>
<path d="M189.4 146.6l2.1 .4 3.8-3.3-2.1-.3z" fill="#a7be6a"/>
<path d="M205 137.3l2.2 .2 3.8-3.4-2.2-.2z" fill="#c2bc5f"/>
<path d="M124 229.3l2 .5 3.9-3.1-2.1-.4z" fill="#1483d5"/>
<path d="M223.4 172.1l2.7 0 4-3.5-2.8 0z" fill="#4fbc91"/>
<path d="M109.7 188.9l2 .4 3.9-3-2.1-.5z" fill="#1ab2b1"/>
<path d="M145.4 218.3l2 .4 3.9-3.1-2.1-.4z" fill="#0c94d2"/>
<path d="M245.3 108.9l2.7 .1 3.9-4.1-2.7-.1z" fill="#fec635"/>
<path d="M130.9 175.9l3.5 2.4 .3-.1 1.2-4.3-.1 0z" fill="#3bb99c" stroke="#3bb99c" stroke-width=".3"/>
<path d="M130.9 175.9l3.5 2.4M134.4 178.3l.3-.1M135.9 173.9l-.1 0M135.8 173.9l-4.9 2" fill="none"/>
<path d="M152.7 166.9l2 .5 3.8-3.1-2-.5z" fill="#62be87"/>
<path d="M215.7 176.1l2.1 1.4 1-2.7z" fill="#3bb99c" stroke="#3bb99c" stroke-width=".3"/>
<path d="M215.7 176.1l2.1 1.4M218.8 174.8l-3.1 1.3" fill="none"/>
<path d="M174 155.6l2 .4 3.8-3.2-2-.4z" fill="#8bbf75"/>
<path d="M134.7 178.2l4.6-1.9-3.4-2.4z" fill="#3bb99c" stroke="#3bb99c" stroke-width=".3"/>
<path d="M134.7 178.2l4.6-1.9M139.3 176.3l-3.4-2.4" fill="none"/>
<path d="M259.7 96.1l2.9 .3 4-4.7-3-.4z" fill="#f6dd22"/>
<path d="M166.8 206.9l2.2 .4 3.8-3.2-2.1-.3z" fill="#06a4ca"/>
<path d="M92.7 176l3.5 2.5 4.8-2-3.5-2.5z" fill="#3bb99c" stroke-width=".56"/>
<path d="M182.6 198l2.3 .3 3.8-3.2-2.2-.3z" fill="#09acbe"/>
<path d="M217.8 177.5l1.4 1 4.9-2-3.5-2.4-1.8 .7z" fill="#3bb99c" stroke="#3bb99c" stroke-width=".3"/>
<path d="M217.8 177.5l1.4 1M219.2 178.5l4.9-2M224.1 176.5l-3.5-2.4M220.6 174.1l-1.8 .7" fill="none"/>
<path d="M177.5 176.2l3.5 2.5 4.8-2-3.5-2.5z" fill="#3bb99c" stroke-width=".56"/>
<path d="M195.3 143.7l2.1 .3 3.8-3.3-2.1-.3z" fill="#b1bd66"/>
<path d="M129.9 226.7l2 .4 3.8-3.1-2-.4z" fill="#1388d3"/>
<path d="M151.3 215.6l2 .4 3.8-3.1-2-.4z" fill="#0899d1"/>
<path d="M221 127.4l2.4 .2 3.9-3.6-2.5-.2z" fill="#deba53"/>
<path d="M137.1 175.4l2 .4 3.9-3.1-2.1-.4z" fill="#44bb97"/>
<path d="M158.5 164.3l2 .4 3.8-3.2-2-.4z" fill="#6ebf82"/>
<path d="M234.1 165.1l2.9 0 4-3.6-3 0z" fill="#6cbf82"/>
<path d="M231.1 120.3l2.6 .2 3.8-3.8-2.5-.1z" fill="#f1b94a"/>
<path d="M179.8 152.8l2 .3 3.8-3.2-2-.3z" fill="#96bf71"/>
<path d="M101 176.5l3.5 2.4 4.9-2-3.5-2.4z" fill="#3bb99c" stroke-width=".56"/>
<path d="M211 134.1l2.3 .3 3.9-3.5-2.3-.2z" fill="#cdbb5b"/>
<path d="M224.1 176.5l3.5 2.5 4.8-2-3.5-2.5z" fill="#3bb99c" stroke-width=".56"/>
<path d="M172.8 204.1l2.2 .3 3.8-3.2-2.2-.3z" fill="#06a7c6"/>
<path d="M99.9 194.5l2 .5 3.9-3.1-2-.4z" fill="#10afb8"/>
<path d="M114.3 235l2 .4 3.9-3-2.1-.4z" fill="#137dd8"/>
<path d="M185.8 176.7l3.5 2.4 4.9-2-3.5-2.4z" fill="#3bb99c" stroke-width=".56"/>
<path d="M135.7 224l2.1 .5 3.8-3.1-2-.4z" fill="#118cd2"/>
<path d="M255.8 100.6l2.9 .2 3.9-4.4-2.9-.3z" fill="#f8d628"/>
<path d="M157.1 212.9l2.1 .3 3.8-3.1-2.1-.4z" fill="#079ecf"/>
<path d="M143 172.7l2 .5 3.8-3.1-2-.5z" fill="#4fbc91"/>
<path d="M241.4 112.9l2.7 .1 3.9-4-2.7-.1z" fill="#fec13a"/>
<path d="M164.3 161.5l2 .5 3.9-3.2-2-.4z" fill="#79bf7d"/>
<path d="M219.5 175.6l2.7 0 3.9-3.5-2.7 0z" fill="#46bb95"/>
<path d="M201.2 140.7l2.2 .2 3.8-3.4-2.2-.2z" fill="#bcbd62"/>
<path d="M188.7 195.1l2.4 .2 3.9-3.3-2.4-.2z" fill="#10afb9"/>
<path d="M185.6 149.9l2 .3 3.9-3.2-2.1-.4z" fill="#a1be6c"/>
<path d="M109.4 176.9l3.5 2.5 4.8-2-3.5-2.5z" fill="#3bb99c" stroke-width=".56"/>
<path d="M105.8 191.9l2.1 .5 3.8-3.1-2-.4z" fill="#16b1b4"/>
<path d="M120.2 232.4l2 .4 3.8-3-2-.5z" fill="#1481d6"/>
<path d="M141.6 221.4l2 .4 3.8-3.1-2-.4z" fill="#0e92d2"/>
<path d="M194.2 177.1l3.5 2.5 4.8-2-3.5-2.5z" fill="#3bb99c" stroke-width=".56"/>
<path d="M148.8 170.1l2 .4 3.9-3.1-2-.5z" fill="#5bbd8b"/>
<path d="M170.2 158.8l2 .4 3.8-3.2-2-.4z" fill="#85bf78"/>
<path d="M163 210.1l2.1 .3 3.9-3.1-2.2-.4z" fill="#06a2cc"/>
<path d="M178.8 201.2l2.2 .3 3.9-3.2-2.3-.3z" fill="#08aac1"/>
<path d="M230.1 168.6l2.9 0 4-3.5-2.9 0z" fill="#63be87"/>
<path d="M117.7 177.4l3.5 2.5 4.9-2-3.5-2.5z" fill="#3bb99c" stroke-width=".56"/>
<path d="M270.5 86.7l3.1 .9 4-5-3.2-1.3z" fill="#f7f412"/>
<path d="M217.2 130.9l2.4 .2 3.8-3.5-2.4-.2z" fill="#d8ba56"/>
<path d="M191.5 147l2.1 .3 3.8-3.3-2.1-.3z" fill="#abbe68"/>
<path d="M227.3 124l2.5 .1 3.9-3.6-2.6-.2z" fill="#eab94d"/>
<path d="M251.9 104.9l2.9 .1 3.9-4.2-2.9-.2z" fill="#fbd02c"/>
<path d="M215.6 179l1.6 .1 .9-2.3z" fill="#3eba9a" stroke="#3eba9a" stroke-width=".3"/>
<path d="M215.6 179l1.6 .1M218.1 176.8l-2.5 2.2" fill="none"/>
<path d="M133.2 178.4l1.3 .3 .5-1.7z" fill="#3eba9a" stroke="#3eba9a" stroke-width=".3"/>
<path d="M133.2 178.4l1.3 .3M135 177l-1.8 1.4" fill="none"/>
<path d="M126 229.8l2.1 .4 3.8-3.1-2-.4z" fill="#1485d4"/>
<path d="M147.4 218.7l2.1 .4 3.8-3.1-2-.4z" fill="#0a97d1"/>
<path d="M202.5 177.6l3.5 2.5 4.9-2-3.5-2.5z" fill="#3bb99c" stroke-width=".56"/>
<path d="M154.7 167.4l2 .4 3.8-3.1-2-.4z" fill="#67be85"/>
<path d="M134.5 178.7l.8 .2 3.8-3.1-2-.4-2.1 1.6z" fill="#3eba9a" stroke="#3eba9a" stroke-width=".3"/>
<path d="M134.5 178.7l.8 .2M135.3 178.9l3.8-3.1M139.1 175.8l-2-.4M137.1 175.4l-2.1 1.6" fill="none"/>
<path d="M176 156l2 .4 3.8-3.3-2-.3z" fill="#90bf73"/>
<path d="M207.2 137.5l2.3 .3 3.8-3.4-2.3-.3z" fill="#c7bc5d"/>
<path d="M237.5 116.7l2.7 .1 3.9-3.8-2.7-.1z" fill="#fbbd40"/>
<path d="M195 192l2.4 .3 3.9-3.3-2.5-.2z" fill="#18b2b2"/>
<path d="M126.1 177.9l3.5 2.4 4.8-2-3.5-2.4z" fill="#3bb99c" stroke-width=".56"/>
<path d="M169 207.3l2.1 .3 3.9-3.2-2.2-.3z" fill="#06a5c8"/>
<path d="M217.2 179.1l1 0 4-3.5-2.7 0-1.4 1.2z" fill="#3eba9a" stroke="#3eba9a" stroke-width=".3"/>
<path d="M217.2 179.1l1 0M218.2 179.1l4-3.5M222.2 175.6l-2.7 0M219.5 175.6l-1.4 1.2" fill="none"/>
<path d="M266.6 91.7l3.1 .6 3.9-4.7-3.1-.9z" fill="#f5ea19"/>
<path d="M131.9 227.1l2.1 .4 3.8-3-2.1-.5z" fill="#138ad3"/>
<path d="M139.1 175.8l2 .5 3.9-3.1-2-.5z" fill="#48bb94"/>
<path d="M153.3 216l2.1 .4 3.8-3.2-2.1-.3z" fill="#079bd0"/>
<path d="M160.5 164.7l2 .4 3.8-3.1-2-.5z" fill="#73bf80"/>
<path d="M210.9 178.1l3.5 2.4 2.7-1.1 .7-1.9-2.1-1.4z" fill="#3bb99c" stroke="#3bb99c" stroke-width=".3"/>
<path d="M210.9 178.1l3.5 2.4M214.4 180.5l2.7-1.1M217.8 177.5l-2.1-1.4M215.7 176.1l-4.8 2" fill="none"/>
<path d="M184.9 198.3l2.3 .3 3.9-3.3-2.4-.2z" fill="#0cadbc"/>
<path d="M197.4 144l2.2 .3 3.8-3.4-2.2-.2z" fill="#b6bd64"/>
<path d="M181.8 153.1l2 .4 3.8-3.3-2-.3z" fill="#9bbf6f"/>
<path d="M172.6 178.2l3.5 2.5 4.9-2-3.5-2.5z" fill="#3bb99c" stroke-width=".56"/>
<path d="M217.1 179.4l2.1-.9-1.4-1z" fill="#3bb99c" stroke="#3bb99c" stroke-width=".3"/>
<path d="M217.1 179.4l2.1-.9M219.2 178.5l-1.4-1" fill="none"/>
<path d="M134.6 178.5l3.3 2.3 4.9-2-3.5-2.5-4.6 1.9z" fill="#3bb99c" stroke="#3bb99c" stroke-width=".3"/>
<path d="M134.6 178.5l3.3 2.3M137.9 180.8l4.9-2M142.8 178.8l-3.5-2.5M139.3 176.3l-4.6 1.9" fill="none"/>
<path d="M101.9 195l2.1 .5 3.9-3.1-2.1-.5z" fill="#12b0b6"/>
<path d="M226.1 172.1l2.9 .1 4-3.6-2.9 0z" fill="#59bd8b"/>
<path d="M248 109l2.9 .1 3.9-4.1-2.9-.1z" fill="#fdca31"/>
<path d="M116.3 235.4l2.1 .5 3.8-3.1-2-.4z" fill="#137fd7"/>
<path d="M137.8 224.5l2 .4 3.8-3.1-2-.4z" fill="#108fd2"/>
<path d="M96.2 178.5l3.5 2.4 4.8-2-3.5-2.4z" fill="#3bb99c" stroke-width=".56"/>
<path d="M145 173.2l2 .4 3.8-3.1-2-.4z" fill="#54bd8e"/>
<path d="M166.3 162l2 .4 3.9-3.2-2-.4z" fill="#7ebf7b"/>
<path d="M219.2 178.5l3.5 2.5 4.9-2-3.5-2.5z" fill="#3bb99c" stroke-width=".56"/>
<path d="M223.4 127.6l2.5 .1 3.9-3.6-2.5-.1z" fill="#e4b951"/>
<path d="M175 204.4l2.2 .4 3.8-3.3-2.2-.3z" fill="#06a8c4"/>
<path d="M159.2 213.2l2.1 .4 3.8-3.2-2.1-.3z" fill="#069fce"/>
<path d="M213.3 134.4l2.4 .2 3.9-3.5-2.4-.2z" fill="#d2bb59"/>
<path d="M181 178.7l3.5 2.4 4.8-2-3.5-2.4z" fill="#3bb99c" stroke-width=".56"/>
<path d="M262.6 96.4l3.1 .4 4-4.5-3.1-.6z" fill="#f5e11f"/>
<path d="M187.6 150.2l2.1 .4 3.9-3.3-2.1-.3z" fill="#a5be6b"/>
<path d="M233.7 120.5l2.6 0 3.9-3.7-2.7-.1z" fill="#f6ba45"/>
<path d="M107.9 192.4l2 .5 3.9-3.1-2.1-.5z" fill="#19b2b1"/>
<path d="M122.2 232.8l2.1 .4 3.8-3-2.1-.4z" fill="#1483d5"/>
<path d="M143.6 221.8l2.1 .4 3.8-3.1-2.1-.4z" fill="#0c94d2"/>
<path d="M203.4 140.9l2.3 .3 3.8-3.4-2.3-.3z" fill="#c1bc60"/>
<path d="M129.4 181.5l2 .5 2.8-2.3 .3-1-1.3-.3z" fill="#38b99e" stroke="#38b99e" stroke-width=".3"/>
<path d="M129.4 181.5l2 .5M131.4 182l2.8-2.3M134.5 178.7l-1.3-.3M133.2 178.4l-3.8 3.1" fill="none"/>
<path d="M201.3 189l2.5 .1 3.9-3.3-2.5-.2z" fill="#23b4ab"/>
<path d="M104.5 178.9l3.5 2.5 4.9-2-3.5-2.5z" fill="#3bb99c" stroke-width=".56"/>
<path d="M150.8 170.5l2 .4 3.9-3.1-2-.4z" fill="#60be88"/>
<path d="M172.2 159.2l2 .4 3.8-3.2-2-.4z" fill="#8abf76"/>
<path d="M191.1 195.3l2.4 .3 3.9-3.3-2.4-.3z" fill="#14b0b6"/>
<path d="M211.6 182.4l2.7 .1 2.4-2.1 .5-1.3-1.6-.1z" fill="#37b99f" stroke="#37b99f" stroke-width=".3"/>
<path d="M211.6 182.4l2.7 .1M214.3 182.5l2.4-2.1M217.2 179.1l-1.6-.1M215.6 179l-4 3.4" fill="none"/>
<path d="M189.3 179.1l3.5 2.5 4.9-2-3.5-2.5z" fill="#3bb99c" stroke-width=".56"/>
<path d="M165.1 210.4l2.2 .4 3.8-3.2-2.1-.3z" fill="#06a3ca"/>
<path d="M128.1 230.2l2 .4 3.9-3.1-2.1-.4z" fill="#1487d3"/>
<path d="M244.1 113l2.8 0 4-3.9-2.9-.1z" fill="#fec535"/>
<path d="M181 201.5l2.3 .3 3.9-3.2-2.3-.3z" fill="#09abbe"/>
<path d="M135.3 178.9l2 .4 3.8-3-2-.5z" fill="#42bb98"/>
<path d="M156.7 167.8l2 .5 3.8-3.2-2-.4z" fill="#6cbf83"/>
<path d="M193.6 147.3l2.1 .3 3.9-3.3-2.2-.3z" fill="#b0bd66"/>
<path d="M149.5 219.1l2.1 .4 3.8-3.1-2.1-.4z" fill="#0899d1"/>
<path d="M112.9 179.4l3.5 2.5 4.8-2-3.5-2.5z" fill="#3bb99c" stroke-width=".56"/>
<path d="M258.7 100.8l3.1 .3 3.9-4.3-3.1-.4z" fill="#f7da24"/>
<path d="M222.2 175.6l2.8 .1 4-3.5-2.9-.1z" fill="#50bc90"/>
<path d="M178 156.4l2 .3 3.8-3.2-2-.4z" fill="#95bf71"/>
<path d="M216.7 180.4l1.5-1.3-1 0z" fill="#37b99f" stroke="#37b99f" stroke-width=".3"/>
<path d="M216.7 180.4l1.5-1.3M218.2 179.1l-1 0" fill="none"/>
<path d="M197.7 179.6l3.5 2.5 4.8-2-3.5-2.5z" fill="#3bb99c" stroke-width=".56"/>
<path d="M219.6 131.1l2.5 .1 3.8-3.5-2.5-.1z" fill="#deba54"/>
<path d="M134 227.5l2 .4 3.8-3-2-.4z" fill="#128cd2"/>
<path d="M141.1 176.3l2.1 .4 3.8-3.1-2-.4z" fill="#4dbc92"/>
<path d="M209.5 137.8l2.4 .2 3.8-3.4-2.4-.2z" fill="#ccbb5b"/>
<path d="M162.5 165.1l2 .4 3.8-3.1-2-.4z" fill="#78bf7d"/>
<path d="M171.1 207.6l2.2 .4 3.9-3.2-2.2-.4z" fill="#06a7c6"/>
<path d="M121.2 179.9l3.5 2.4 4.9-2-3.5-2.4z" fill="#3bb99c" stroke-width=".56"/>
<path d="M229.8 124.1l2.6 .1 3.9-3.7-2.6 0z" fill="#f0b94a"/>
<path d="M155.4 216.4l2.1 .3 3.8-3.1-2.1-.4z" fill="#079dcf"/>
<path d="M273.6 87.6l3.3 1.5 4-4.3-3.3-2.2z" fill="#f8f710"/>
<path d="M183.8 153.5l2.1 .3 3.8-3.2-2.1-.4z" fill="#9fbe6d"/>
<path d="M206 180.1l3.5 2.4 4.9-2-3.5-2.4z" fill="#3bb99c" stroke-width=".56"/>
<path d="M197.4 192.3l2.5 .2 3.9-3.4-2.5-.1z" fill="#1db3af"/>
<path d="M199.6 144.3l2.2 .2 3.9-3.3-2.3-.3z" fill="#bbbd62"/>
<path d="M104 195.5l2.1 .4 3.8-3-2-.5z" fill="#15b1b4"/>
<path d="M118.4 235.9l2 .4 3.9-3.1-2.1-.4z" fill="#1481d6"/>
<path d="M139.8 224.9l2.1 .4 3.8-3.1-2.1-.4z" fill="#0e91d2"/>
<path d="M187.2 198.6l2.4 .3 3.9-3.3-2.4-.3z" fill="#0faeb9"/>
<path d="M147 173.6l2 .5 3.8-3.2-2-.4z" fill="#59bd8c"/>
<path d="M254.8 105l3 .2 4-4.1-3.1-.3z" fill="#f9d429"/>
<path d="M168.3 162.4l2 .3 3.9-3.1-2-.4z" fill="#83bf79"/>
<path d="M129.6 180.3l3.5 2.5 .2-.1 1.3-4.2-.2-.2z" fill="#3bb99c" stroke="#3bb99c" stroke-width=".3"/>
<path d="M129.6 180.3l3.5 2.5M133.1 182.8l.2-.1M134.6 178.5l-.2-.2M134.4 178.3l-4.8 2" fill="none"/>
<path d="M240.2 116.8l2.8 0 3.9-3.8-2.8 0z" fill="#fec03b"/>
<path d="M214.4 180.5l1.8 1.3 .9-2.4z" fill="#3bb99c" stroke="#3bb99c" stroke-width=".3"/>
<path d="M214.4 180.5l1.8 1.3M217.1 179.4l-2.7 1.1" fill="none"/>
<path d="M133.3 182.7l4.6-1.9-3.3-2.3z" fill="#3bb99c" stroke="#3bb99c" stroke-width=".3"/>
<path d="M133.3 182.7l4.6-1.9M137.9 180.8l-3.3-2.3" fill="none"/>
<path d="M161.3 213.6l2.2 .4 3.8-3.2-2.2-.4z" fill="#06a1cc"/>
<path d="M218.2 179.1l2.8 .1 4-3.5-2.8-.1z" fill="#47bb95"/>
<path d="M216.2 181.8l1.6 1.2 4.9-2-3.5-2.5-2.1 .9z" fill="#3bb99c" stroke="#3bb99c" stroke-width=".3"/>
<path d="M216.2 181.8l1.6 1.2M217.8 183l4.9-2M222.7 181l-3.5-2.5M219.2 178.5l-2.1 .9" fill="none"/>
<path d="M177.2 204.8l2.3 .3 3.8-3.3-2.3-.3z" fill="#07aac1"/>
<path d="M109.9 192.9l2.1 .4 3.8-3-2-.5z" fill="#1cb3af"/>
<path d="M189.7 150.6l2.2 .3 3.8-3.3-2.1-.3z" fill="#aabe69"/>
<path d="M269.7 92.3l3.2 1 4-4.2-3.3-1.5z" fill="#f5ed17"/>
<path d="M176.1 180.7l3.5 2.4 4.9-2-3.5-2.4z" fill="#3bb99c" stroke-width=".56"/>
<path d="M124.3 233.2l2 .5 3.8-3.1-2-.4z" fill="#1485d4"/>
<path d="M152.8 170.9l2.1 .5 3.8-3.1-2-.5z" fill="#65be86"/>
<path d="M145.7 222.2l2 .4 3.9-3.1-2.1-.4z" fill="#0a96d1"/>
<path d="M131.4 182l2 .4 .8-2.7z" fill="#3cba9b" stroke="#3cba9b" stroke-width=".3"/>
<path d="M131.4 182l2 .4M134.2 179.7l-2.8 2.3" fill="none"/>
<path d="M174.2 159.6l2 .3 3.8-3.2-2-.3z" fill="#8ebf74"/>
<path d="M133.4 182.4l.1 0 3.8-3.1-2-.4-1.1 .8z" fill="#3cba9b" stroke="#3cba9b" stroke-width=".3"/>
<path d="M133.4 182.4l.1 0M133.5 182.4l3.8-3.1M137.3 179.3l-2-.4M135.3 178.9l-1.1 .8" fill="none"/>
<path d="M215.7 134.6l2.5 .1 3.9-3.5-2.5-.1z" fill="#d7ba56"/>
<path d="M99.7 180.9l3.5 2.5 4.8-2-3.5-2.5z" fill="#3bb99c" stroke-width=".56"/>
<path d="M225.9 127.7l2.6 .1 3.9-3.6-2.6-.1z" fill="#eab94e"/>
<path d="M205.7 141.2l2.3 .2 3.9-3.4-2.4-.2z" fill="#c6bc5e"/>
<path d="M214.3 182.5l1.6 .1 .8-2.2z" fill="#3fba9a" stroke="#3fba9a" stroke-width=".3"/>
<path d="M214.3 182.5l1.6 .1M216.7 180.4l-2.4 2.1" fill="none"/>
<path d="M167.3 210.8l2.2 .4 3.8-3.2-2.2-.4z" fill="#06a5c8"/>
<path d="M130.1 230.6l2.1 .4 3.8-3.1-2-.4z" fill="#1389d3"/>
<path d="M137.3 179.3l2 .5 3.9-3.1-2.1-.4z" fill="#47bb95"/>
<path d="M158.7 168.3l2 .4 3.8-3.2-2-.4z" fill="#71bf80"/>
<path d="M184.5 181.1l3.5 2.5 4.8-2-3.5-2.5z" fill="#3bb99c" stroke-width=".56"/>
<path d="M250.9 109.1l2.9 .1 4-4-3-.2z" fill="#fccf2d"/>
<path d="M151.6 219.5l2.1 .4 3.8-3.2-2.1-.3z" fill="#089bd0"/>
<path d="M193.5 195.6l2.4 .2 4-3.3-2.5-.2z" fill="#18b1b2"/>
<path d="M203.8 189.1l2.6 .2 3.9-3.4-2.6-.1z" fill="#29b6a7"/>
<path d="M180 156.7l2.1 .3 3.8-3.2-2.1-.3z" fill="#99bf6f"/>
<path d="M236.3 120.5l2.8 .1 3.9-3.8-2.8 0z" fill="#fbbc40"/>
<path d="M195.7 147.6l2.3 .2 3.8-3.3-2.2-.2z" fill="#b5bd64"/>
<path d="M108 181.4l3.5 2.5 4.9-2-3.5-2.5z" fill="#3bb99c" stroke-width=".56"/>
<path d="M265.7 96.8l3.2 .7 4-4.2-3.2-1z" fill="#f5e51c"/>
<path d="M183.3 201.8l2.4 .3 3.9-3.2-2.4-.3z" fill="#0cadbc"/>
<path d="M143.2 176.7l2 .5 3.8-3.1-2-.5z" fill="#52bd8f"/>
<path d="M136 227.9l2 .5 3.9-3.1-2.1-.4z" fill="#108ed2"/>
<path d="M164.5 165.5l2 .4 3.8-3.2-2-.3z" fill="#7dbf7b"/>
<path d="M215.9 182.6l1.1 0 4-3.4-2.8-.1-1.5 1.3z" fill="#3fba9a" stroke="#3fba9a" stroke-width=".3"/>
<path d="M215.9 182.6l1.1 0M217 182.6l4-3.4M221 179.2l-2.8-.1M218.2 179.1l-1.5 1.3" fill="none"/>
<path d="M192.8 181.6l3.5 2.5 4.9-2-3.5-2.5z" fill="#3bb99c" stroke-width=".56"/>
<path d="M157.5 216.7l2.1 .4 3.9-3.1-2.2-.4z" fill="#069fce"/>
<path d="M173.3 208l2.3 .3 3.9-3.2-2.3-.3z" fill="#06a8c4"/>
<path d="M116.4 181.9l3.5 2.4 4.8-2-3.5-2.4z" fill="#3bb99c" stroke-width=".56"/>
<path d="M185.9 153.8l2.2 .3 3.8-3.2-2.2-.3z" fill="#a4be6b"/>
<path d="M106.1 195.9l2 .5 3.9-3.1-2.1-.4z" fill="#18b1b2"/>
<path d="M149 174.1l2 .4 3.9-3.1-2.1-.5z" fill="#5ebe89"/>
<path d="M120.4 236.3l2.1 .4 3.8-3-2-.5z" fill="#1482d5"/>
<path d="M211.9 138l2.4 .2 3.9-3.5-2.5-.1z" fill="#d1bb59"/>
<path d="M141.9 225.3l2 .4 3.8-3.1-2-.4z" fill="#0c93d2"/>
<path d="M127.6 185l2 .5 3.8-3 0-.1-2-.4z" fill="#36b99f" stroke="#36b99f" stroke-width=".3"/>
<path d="M127.6 185l2 .5M129.6 185.5l3.8-3M133.4 182.4l-2-.4M131.4 182l-3.8 3" fill="none"/>
<path d="M170.3 162.7l2.1 .4 3.8-3.2-2-.3z" fill="#88bf76"/>
<path d="M246.9 113l3 .1 3.9-3.9-2.9-.1z" fill="#fdc931"/>
<path d="M201.2 182.1l3.5 2.4 4.8-2-3.5-2.4z" fill="#3bb99c" stroke-width=".56"/>
<path d="M222.1 131.2l2.5 .2 3.9-3.6-2.6-.1z" fill="#e3b951"/>
<path d="M261.8 101.1l3.1 .4 4-4-3.2-.7z" fill="#f5de21"/>
<path d="M201.8 144.5l2.4 .3 3.8-3.4-2.3-.2z" fill="#c0bc60"/>
<path d="M124.7 182.3l3.5 2.5 4.9-2-3.5-2.5z" fill="#3bb99c" stroke-width=".56"/>
<path d="M232.4 124.2l2.8 .1 3.9-3.7-2.8-.1z" fill="#f6ba46"/>
<path d="M163.5 214l2.1 .4 3.9-3.2-2.2-.4z" fill="#06a3cb"/>
<path d="M112 193.3l2 .5 3.9-3.1-2.1-.4z" fill="#20b4ad"/>
<path d="M199.9 192.5l2.5 .2 4-3.4-2.6-.2z" fill="#23b4ab"/>
<path d="M189.6 198.9l2.4 .2 3.9-3.3-2.4-.2z" fill="#13b0b6"/>
<path d="M133.5 182.4l2 .5 3.8-3.1-2-.5z" fill="#41ba99"/>
<path d="M154.9 171.4l2 .4 3.8-3.1-2-.4z" fill="#6abe83"/>
<path d="M126.3 233.7l2.1 .4 3.8-3.1-2.1-.4z" fill="#1487d3"/>
<path d="M147.7 222.6l2.1 .4 3.9-3.1-2.1-.4z" fill="#0998d1"/>
<path d="M209.5 182.5l3.5 2.5 2.4-1 .8-2.2-1.8-1.3z" fill="#3bb99c" stroke="#3bb99c" stroke-width=".3"/>
<path d="M209.5 182.5l3.5 2.5M213 185l2.4-1M216.2 181.8l-1.8-1.3M214.4 180.5l-4.9 2" fill="none"/>
<path d="M176.2 159.9l2.1 .4 3.8-3.3-2.1-.3z" fill="#93bf72"/>
<path d="M191.9 150.9l2.2 .2 3.9-3.3-2.3-.2z" fill="#afbe67"/>
<path d="M210.3 185.9l2.7 .2 2.4-2.1 .5-1.4-1.6-.1z" fill="#37b99e" stroke="#37b99e" stroke-width=".3"/>
<path d="M210.3 185.9l2.7 .2M213 186.1l2.4-2.1M215.9 182.6l-1.6-.1M214.3 182.5l-4 3.4" fill="none"/>
<path d="M171.3 182.7l3.5 2.4 4.8-2-3.5-2.4z" fill="#3bb99c" stroke-width=".56"/>
<path d="M179.5 205.1l2.3 .3 3.9-3.3-2.4-.3z" fill="#09abbf"/>
<path d="M215.4 184l2.4-1-1.6-1.2z" fill="#3bb99c" stroke="#3bb99c" stroke-width=".3"/>
<path d="M215.4 184l2.4-1M217.8 183l-1.6-1.2" fill="none"/>
<path d="M133.3 182.9l3.3 2.4 4.8-2-3.5-2.5-4.6 1.9z" fill="#3bb99c" stroke="#3bb99c" stroke-width=".3"/>
<path d="M133.3 182.9l3.3 2.4M136.6 185.3l4.8-2M141.4 183.3l-3.5-2.5M137.9 180.8l-4.6 1.9" fill="none"/>
<path d="M139.3 179.8l2.1 .4 3.8-3-2-.5z" fill="#4bbc93"/>
<path d="M160.7 168.7l2 .4 3.8-3.2-2-.4z" fill="#76bf7e"/>
<path d="M132.2 231l2 .5 3.8-3.1-2-.5z" fill="#128bd2"/>
<path d="M243 116.8l2.9 .1 4-3.8-3-.1z" fill="#ffc536"/>
<path d="M257.8 105.2l3.1 .2 4-3.9-3.1-.4z" fill="#f7d826"/>
<path d="M153.7 219.9l2.1 .4 3.8-3.2-2.1-.4z" fill="#079dcf"/>
<path d="M169.5 211.2l2.2 .3 3.9-3.2-2.3-.3z" fill="#06a6c6"/>
<path d="M179.6 183.1l3.5 2.5 4.9-2-3.5-2.5z" fill="#3bb99c" stroke-width=".56"/>
<path d="M215.4 184l1.6-1.4-1.1 0z" fill="#37b99e" stroke="#37b99e" stroke-width=".3"/>
<path d="M215.4 184l1.6-1.4M217 182.6l-1.1 0" fill="none"/>
<path d="M182.1 157l2.2 .4 3.8-3.3-2.2-.3z" fill="#9ebe6e"/>
<path d="M218.2 134.7l2.5 .2 3.9-3.5-2.5-.2z" fill="#ddba54"/>
<path d="M208 141.4l2.4 .2 3.9-3.4-2.4-.2z" fill="#cbbb5b"/>
<path d="M145.2 177.2l2 .4 3.8-3.1-2-.4z" fill="#57bd8c"/>
<path d="M166.5 165.9l2.1 .4 3.8-3.2-2.1-.4z" fill="#82bf79"/>
<path d="M132.5 185.2l3-2.3-2-.5-.1 .1z" fill="#3bb99c" stroke="#3bb99c" stroke-width=".3"/>
<path d="M132.5 185.2l3-2.3M135.5 182.9l-2-.5M133.5 182.4l-.1 .1" fill="none"/>
<path d="M138 228.4l2.1 .4 3.8-3.1-2-.4z" fill="#0f90d2"/>
<path d="M103.2 183.4l3.5 2.5 4.8-2-3.5-2.5z" fill="#3bb99c" stroke-width=".56"/>
<path d="M228.5 127.8l2.7 .1 4-3.6-2.8-.1z" fill="#f0b94a"/>
<path d="M198 147.8l2.3 .3 3.9-3.3-2.4-.3z" fill="#babd62"/>
<path d="M195.9 195.8l2.5 .3 4-3.4-2.5-.2z" fill="#1db3af"/>
<path d="M188 183.6l3.5 2.5 4.8-2-3.5-2.5z" fill="#3bb99c" stroke-width=".56"/>
<path d="M185.7 202.1l2.4 .4 3.9-3.4-2.4-.2z" fill="#0faeb9"/>
<path d="M159.6 217.1l2.2 .4 3.8-3.1-2.1-.4z" fill="#06a1cc"/>
<path d="M206.4 189.3l2.6 .2 4-3.4-2.7-.2z" fill="#2fb7a3"/>
<path d="M108.1 196.4l2.1 .4 3.8-3-2-.5z" fill="#1bb2b0"/>
<path d="M151 174.5l2.1 .4 3.8-3.1-2-.4z" fill="#63be87"/>
<path d="M122.5 236.7l2.1 .5 3.8-3.1-2.1-.4z" fill="#1484d4"/>
<path d="M143.9 225.7l2.1 .4 3.8-3.1-2.1-.4z" fill="#0b95d1"/>
<path d="M111.5 183.9l3.5 2.4 4.9-2-3.5-2.4z" fill="#3bb99c" stroke-width=".56"/>
<path d="M172.4 163.1l2.1 .4 3.8-3.2-2.1-.4z" fill="#8dbf74"/>
<path d="M188.1 154.1l2.2 .3 3.8-3.3-2.2-.2z" fill="#a9be69"/>
<path d="M175.6 208.3l2.3 .4 3.9-3.3-2.3-.3z" fill="#07aac2"/>
<path d="M253.8 109.2l3.1 .1 4-3.9-3.1-.2z" fill="#fad32a"/>
<path d="M239.1 120.6l2.9 0 3.9-3.7-2.9-.1z" fill="#fec03b"/>
<path d="M129.6 185.5l2.1 .4 .8-.7 .9-2.7z" fill="#3bb99c" stroke="#3bb99c" stroke-width=".3"/>
<path d="M129.6 185.5l2.1 .4M131.7 185.9l.8-.7M133.4 182.5l-3.8 3" fill="none"/>
<path d="M196.3 184.1l3.5 2.4 4.9-2-3.5-2.4z" fill="#3bb99c" stroke-width=".56"/>
<path d="M114 193.8l2.1 .4 3.8-3-2-.5z" fill="#23b5ab"/>
<path d="M135.5 182.9l2 .4 3.9-3.1-2.1-.4z" fill="#45bb96"/>
<path d="M156.9 171.8l2 .4 3.8-3.1-2-.4z" fill="#6fbf81"/>
<path d="M128.4 234.1l2 .5 3.8-3.1-2-.5z" fill="#1389d3"/>
<path d="M119.9 184.3l3.5 2.5 4.8-2-3.5-2.5z" fill="#3bb99c" stroke-width=".56"/>
<path d="M214.3 138.2l2.6 .1 3.8-3.4-2.5-.2z" fill="#d7ba56"/>
<path d="M165.6 214.4l2.3 .4 3.8-3.3-2.2-.3z" fill="#06a4c9"/>
<path d="M149.8 223l2.2 .5 3.8-3.2-2.1-.4z" fill="#089ad0"/>
<path d="M204.2 144.8l2.4 .2 3.8-3.4-2.4-.2z" fill="#c5bc5e"/>
<path d="M178.3 160.3l2.1 .3 3.9-3.2-2.2-.4z" fill="#98bf70"/>
<path d="M224.6 131.4l2.7 0 3.9-3.5-2.7-.1z" fill="#e9b94e"/>
<path d="M204.7 184.5l3.5 2.5 4.8-2-3.5-2.5z" fill="#3bb99c" stroke-width=".56"/>
<path d="M141.4 180.2l2 .5 3.8-3.1-2-.4z" fill="#50bc90"/>
<path d="M192 199.1l2.5 .3 3.9-3.3-2.5-.3z" fill="#18b1b3"/>
<path d="M166.4 184.7l3.5 2.4 4.9-2-3.5-2.4z" fill="#3bb99c" stroke-width=".56"/>
<path d="M162.7 169.1l2.1 .3 3.8-3.1-2.1-.4z" fill="#7bbf7c"/>
<path d="M194.1 151.1l2.4 .3 3.8-3.3-2.3-.3z" fill="#b4bd65"/>
<path d="M134.2 231.5l2.1 .4 3.8-3.1-2.1-.4z" fill="#118dd2"/>
<path d="M128.2 184.8l3.5 2.5 .3-.1 1.3-4.3-.2-.1z" fill="#3bb99c" stroke="#3bb99c" stroke-width=".3"/>
<path d="M128.2 184.8l3.5 2.5M131.7 187.3l.3-.1M133.3 182.9l-.2-.1M133.1 182.8l-4.9 2" fill="none"/>
<path d="M202.4 192.7l2.6 .2 4-3.4-2.6-.2z" fill="#29b6a7"/>
<path d="M181.8 205.4l2.4 .4 3.9-3.3-2.4-.4z" fill="#0badbc"/>
<path d="M249.9 113.1l3 .1 4-3.9-3.1-.1z" fill="#fcce2d"/>
<path d="M132 187.2l4.6-1.9-3.3-2.4z" fill="#3bb99c" stroke="#3bb99c" stroke-width=".3"/>
<path d="M132 187.2l4.6-1.9M136.6 185.3l-3.3-2.4" fill="none"/>
<path d="M155.8 220.3l2.1 .4 3.9-3.2-2.2-.4z" fill="#069fce"/>
<path d="M235.2 124.3l2.8 0 4-3.7-2.9 0z" fill="#fbbc41"/>
<path d="M147.2 177.6l2 .4 3.9-3.1-2.1-.4z" fill="#5cbe8a"/>
<path d="M125.8 188.6l2 .4 3.9-3.1-2.1-.4z" fill="#35b89f"/>
<path d="M171.7 211.5l2.3 .4 3.9-3.2-2.3-.4z" fill="#06a8c4"/>
<path d="M174.8 185.1l3.5 2.5 4.8-2-3.5-2.5z" fill="#3bb99c" stroke-width=".56"/>
<path d="M184.3 157.4l2.2 .3 3.8-3.3-2.2-.3z" fill="#a3be6b"/>
<path d="M140.1 228.8l2.1 .5 3.8-3.2-2.1-.4z" fill="#0d93d2"/>
<path d="M168.6 166.3l2.1 .3 3.8-3.1-2.1-.4z" fill="#87bf77"/>
<path d="M131.7 185.9l.6 .2 .2-.9z" fill="#3fba99" stroke="#3fba99" stroke-width=".3"/>
<path d="M131.7 185.9l.6 .2M132.5 185.2l-.8 .7" fill="none"/>
<path d="M210.4 141.6l2.6 .1 3.9-3.4-2.6-.1z" fill="#d1bb59"/>
<path d="M110.2 196.8l2 .5 3.9-3.1-2.1-.4z" fill="#1fb3ae"/>
<path d="M153.1 174.9l2 .4 3.8-3.1-2-.4z" fill="#68be84"/>
<path d="M132.3 186.1l1.4 .3 3.8-3.1-2-.4-3 2.3z" fill="#3fba99" stroke="#3fba99" stroke-width=".3"/>
<path d="M132.3 186.1l1.4 .3M133.7 186.4l3.8-3.1M137.5 183.3l-2-.4M135.5 182.9l-3 2.3" fill="none"/>
<path d="M124.6 237.2l2 .5 3.8-3.1-2-.5z" fill="#1486d4"/>
<path d="M183.1 185.6l3.5 2.5 4.9-2-3.5-2.5z" fill="#3bb99c" stroke-width=".56"/>
<path d="M161.8 217.5l2.2 .5 3.9-3.2-2.3-.4z" fill="#06a2cb"/>
<path d="M200.3 148.1l2.4 .2 3.9-3.3-2.4-.2z" fill="#c0bc60"/>
<path d="M220.7 134.9l2.7 .1 3.9-3.6-2.7 0z" fill="#e3b951"/>
<path d="M146 226.1l2.1 .5 3.9-3.1-2.2-.5z" fill="#0998d1"/>
<path d="M174.5 163.5l2.1 .3 3.8-3.2-2.1-.3z" fill="#92bf72"/>
<path d="M188.1 202.5l2.4 .3 4-3.4-2.5-.3z" fill="#13b0b6"/>
<path d="M245.9 116.9l3 0 4-3.7-3-.1z" fill="#fec932"/>
<path d="M198.4 196.1l2.6 .3 4-3.5-2.6-.2z" fill="#22b4ab"/>
<path d="M106.7 185.9l3.5 2.4 4.8-2-3.5-2.4z" fill="#3bb99c" stroke-width=".56"/>
<path d="M190.3 154.4l2.3 .3 3.9-3.3-2.4-.3z" fill="#aebe67"/>
<path d="M116.1 194.2l2 .5 3.9-3.1-2.1-.4z" fill="#27b5a8"/>
<path d="M177.9 208.7l2.3 .4 4-3.3-2.4-.4z" fill="#09abbf"/>
<path d="M137.5 183.3l2.1 .5 3.8-3.1-2-.5z" fill="#4abc93"/>
<path d="M158.9 172.2l2 .4 3.9-3.2-2.1-.3z" fill="#74bf7f"/>
<path d="M130.4 234.6l2.1 .4 3.8-3.1-2.1-.4z" fill="#128bd3"/>
<path d="M231.2 127.9l2.9 0 3.9-3.6-2.8 0z" fill="#f6ba46"/>
<path d="M191.5 186.1l3.5 2.4 4.8-2-3.5-2.4z" fill="#3bb99c" stroke-width=".56"/>
<path d="M152 223.5l2.1 .4 3.8-3.2-2.1-.4z" fill="#079cd0"/>
<path d="M167.9 214.8l2.2 .4 3.9-3.3-2.3-.4z" fill="#06a6c7"/>
<path d="M115 186.3l3.5 2.5 4.9-2-3.5-2.5z" fill="#3bb99c" stroke-width=".56"/>
<path d="M143.4 180.7l2 .4 3.8-3.1-2-.4z" fill="#55bd8d"/>
<path d="M180.4 160.6l2.2 .3 3.9-3.2-2.2-.3z" fill="#9dbe6e"/>
<path d="M164.8 169.4l2 .4 3.9-3.2-2.1-.3z" fill="#80bf7a"/>
<path d="M136.3 231.9l2.1 .5 3.8-3.1-2.1-.5z" fill="#0f90d2"/>
<path d="M199.8 186.5l3.5 2.5 4.9-2-3.5-2.5z" fill="#3bb99c" stroke-width=".56"/>
<path d="M206.6 145l2.5 .1 3.9-3.4-2.6-.1z" fill="#cbbb5c"/>
<path d="M161.6 186.7l3.5 2.4 4.8-2-3.5-2.4z" fill="#3bb99c" stroke-width=".56"/>
<path d="M216.9 138.3l2.6 .1 3.9-3.4-2.7-.1z" fill="#ddba54"/>
<path d="M242 120.6l3 0 3.9-3.7-3 0z" fill="#ffc436"/>
<path d="M127.8 189l2.1 .5 1.8-1.5 .6-1.9-.6-.2z" fill="#39b99d" stroke="#39b99d" stroke-width=".3"/>
<path d="M127.8 189l2.1 .5M129.9 189.5l1.8-1.5M132.3 186.1l-.6-.2M131.7 185.9l-3.9 3.1" fill="none"/>
<path d="M123.4 186.8l3.5 2.5 4.8-2-3.5-2.5z" fill="#3bb99c" stroke-width=".56"/>
<path d="M196.5 151.4l2.3 .3 3.9-3.4-2.4-.2z" fill="#babd63"/>
<path d="M149.2 178l2.1 .4 3.8-3.1-2-.4z" fill="#61be87"/>
<path d="M157.9 220.7l2.2 .5 3.9-3.2-2.2-.5z" fill="#06a0cd"/>
<path d="M131.7 188l2-1.6-1.4-.3z" fill="#39b99d" stroke="#39b99d" stroke-width=".3"/>
<path d="M131.7 188l2-1.6M133.7 186.4l-1.4-.3" fill="none"/>
<path d="M184.2 205.8l2.4 .3 3.9-3.3-2.4-.3z" fill="#0eaeba"/>
<path d="M194.5 199.4l2.5 .4 4-3.4-2.6-.3z" fill="#1cb3af"/>
<path d="M142.2 229.3l2.1 .5 3.8-3.2-2.1-.5z" fill="#0b95d2"/>
<path d="M170.7 166.6l2.1 .4 3.8-3.2-2.1-.3z" fill="#8cbf75"/>
<path d="M227.3 131.4l2.8 .1 4-3.6-2.9 0z" fill="#f0b94a"/>
<path d="M169.9 187.1l3.5 2.5 4.9-2-3.5-2.5z" fill="#3bb99c" stroke-width=".56"/>
<path d="M174 211.9l2.3 .5 3.9-3.3-2.3-.4z" fill="#07a9c2"/>
<path d="M186.5 157.7l2.2 .3 3.9-3.3-2.3-.3z" fill="#a8be69"/>
<path d="M131.9 187.4l3.3 2.3 4.8-2-3.4-2.4-4.6 1.9z" fill="#3bb99c" stroke="#3bb99c" stroke-width=".3"/>
<path d="M131.9 187.4l3.3 2.3M135.2 189.7l4.8-2M140 187.7l-3.4-2.4M136.6 185.3l-4.6 1.9" fill="none"/>
<path d="M112.2 197.3l2.1 .4 3.8-3-2-.5z" fill="#22b4ab"/>
<path d="M133.7 186.4l2 .4 3.9-3-2.1-.5z" fill="#44bb97"/>
<path d="M155.1 175.3l2 .4 3.8-3.1-2-.4z" fill="#6dbf82"/>
<path d="M126.6 237.7l2.1 .4 3.8-3.1-2.1-.4z" fill="#1388d3"/>
<path d="M148.1 226.6l2.1 .5 3.9-3.2-2.1-.4z" fill="#089ad1"/>
<path d="M164 218l2.2 .4 3.9-3.2-2.2-.4z" fill="#06a4c9"/>
<path d="M178.3 187.6l3.5 2.5 4.8-2-3.5-2.5z" fill="#3bb99c" stroke-width=".56"/>
<path d="M176.6 163.8l2.2 .3 3.8-3.2-2.2-.3z" fill="#97bf70"/>
<path d="M139.6 183.8l2 .4 3.8-3.1-2-.4z" fill="#4fbc91"/>
<path d="M118.1 194.7l2.1 .4 3.8-3-2-.5z" fill="#2bb6a6"/>
<path d="M238 124.3l3 0 4-3.7-3 0z" fill="#fec03b"/>
<path d="M160.9 172.6l2.1 .4 3.8-3.2-2-.4z" fill="#79bf7d"/>
<path d="M132.5 235l2 .5 3.9-3.1-2.1-.5z" fill="#118dd2"/>
<path d="M202.7 148.3l2.5 .2 3.9-3.4-2.5-.1z" fill="#c5bc5e"/>
<path d="M213 141.7l2.6 .2 3.9-3.5-2.6-.1z" fill="#d7ba57"/>
<path d="M192.6 154.7l2.4 .3 3.8-3.3-2.3-.3z" fill="#b4bd65"/>
<path d="M190.5 202.8l2.5 .4 4-3.4-2.5-.4z" fill="#17b1b3"/>
<path d="M186.6 188.1l3.5 2.4 4.9-2-3.5-2.4z" fill="#3bb99c" stroke-width=".56"/>
<path d="M180.2 209.1l2.4 .4 4-3.4-2.4-.3z" fill="#0bacbd"/>
<path d="M154.1 223.9l2.1 .5 3.9-3.2-2.2-.5z" fill="#069ece"/>
<path d="M223.4 135l2.7 0 4-3.5-2.8-.1z" fill="#e9b94e"/>
<path d="M145.4 181.1l2 .4 3.9-3.1-2.1-.4z" fill="#5abd8b"/>
<path d="M138.4 232.4l2 .5 3.9-3.1-2.1-.5z" fill="#0e92d2"/>
<path d="M170.1 215.2l2.3 .5 3.9-3.3-2.3-.5z" fill="#06a7c5"/>
<path d="M110.2 188.3l3.5 2.5 4.8-2-3.5-2.5z" fill="#3bb99c" stroke-width=".56"/>
<path d="M166.8 169.8l2.2 .4 3.8-3.2-2.1-.4z" fill="#85bf78"/>
<path d="M182.6 160.9l2.3 .3 3.8-3.2-2.2-.3z" fill="#a2be6c"/>
<path d="M195 188.5l3.4 2.5 4.9-2-3.5-2.5z" fill="#3bb99c" stroke-width=".56"/>
<path d="M151.3 178.4l2 .4 3.8-3.1-2-.4z" fill="#67be85"/>
<path d="M131.2 189.7l.7 .2 3.8-3.1-2-.4-2 1.6z" fill="#3eba9a" stroke="#3eba9a" stroke-width=".3"/>
<path d="M131.2 189.7l.7 .2M131.9 189.9l3.8-3.1M135.7 186.8l-2-.4M133.7 186.4l-2 1.6" fill="none"/>
<path d="M234.1 127.9l2.9 0 4-3.6-3 0z" fill="#fbbc40"/>
<path d="M160.1 221.2l2.2 .5 3.9-3.3-2.2-.4z" fill="#06a2cb"/>
<path d="M144.3 229.8l2.1 .5 3.8-3.2-2.1-.5z" fill="#0a97d1"/>
<path d="M118.5 188.8l3.5 2.5 4.9-2-3.5-2.5z" fill="#3bb99c" stroke-width=".56"/>
<path d="M172.8 167l2.2 .4 3.8-3.3-2.2-.3z" fill="#91bf73"/>
<path d="M209.1 145.1l2.5 .2 4-3.4-2.6-.2z" fill="#d1bb59"/>
<path d="M198.8 151.7l2.5 .2 3.9-3.4-2.5-.2z" fill="#bfbc60"/>
<path d="M114.3 197.7l2 .5 3.9-3.1-2.1-.4z" fill="#26b5a9"/>
<path d="M135.7 186.8l2.1 .5 3.8-3.1-2-.4z" fill="#48bb94"/>
<path d="M157.1 175.7l2.1 .4 3.8-3.1-2.1-.4z" fill="#73bf7f"/>
<path d="M186.6 206.1l2.4 .5 4-3.4-2.5-.4z" fill="#12afb7"/>
<path d="M128.7 238.1l2 .6 3.8-3.2-2-.5z" fill="#138ad3"/>
<path d="M165.1 189.1l3.5 2.5 4.8-2-3.5-2.5z" fill="#3bb99c" stroke-width=".56"/>
<path d="M176.3 212.4l2.4 .4 3.9-3.3-2.4-.4z" fill="#08abc0"/>
<path d="M126.9 189.3l3.4 2.4 .3-.1 1.3-4.2-.2-.1z" fill="#3bb99c" stroke="#3bb99c" stroke-width=".3"/>
<path d="M126.9 189.3l3.4 2.4M130.3 191.7l.3-.1M131.9 187.4l-.2-.1M131.7 187.3l-4.8 2" fill="none"/>
<path d="M219.5 138.4l2.7 .1 3.9-3.5-2.7 0z" fill="#e3b951"/>
<path d="M188.7 158l2.4 .3 3.9-3.3-2.4-.3z" fill="#aebe67"/>
<path d="M130.6 191.6l4.6-1.9-3.3-2.3z" fill="#3bb99c" stroke="#3bb99c" stroke-width=".3"/>
<path d="M130.6 191.6l4.6-1.9M135.2 189.7l-3.3-2.3" fill="none"/>
<path d="M150.2 227.1l2.2 .5 3.8-3.2-2.1-.5z" fill="#079cd0"/>
<path d="M141.6 184.2l2 .4 3.8-3.1-2-.4z" fill="#54bd8e"/>
<path d="M166.2 218.4l2.3 .5 3.9-3.2-2.3-.5z" fill="#06a5c8"/>
<path d="M134.5 235.5l2.1 .6 3.8-3.2-2-.5z" fill="#108fd2"/>
<path d="M173.4 189.6l3.5 2.5 4.9-2-3.5-2.5z" fill="#3bb99c" stroke-width=".56"/>
<path d="M163 173l2.1 .4 3.9-3.2-2.2-.4z" fill="#7fbf7a"/>
<path d="M178.8 164.1l2.2 .4 3.9-3.3-2.3-.3z" fill="#9cbf6e"/>
<path d="M230.1 131.5l2.9 0 4-3.6-2.9 0z" fill="#f6ba46"/>
<path d="M126 192.5l2.1 .5 2.7-2.2 .4-1.1-1.3-.2z" fill="#38b99e" stroke="#38b99e" stroke-width=".3"/>
<path d="M126 192.5l2.1 .5M128.1 193l2.7-2.2M131.2 189.7l-1.3-.2M129.9 189.5l-3.9 3" fill="none"/>
<path d="M147.4 181.5l2.1 .5 3.8-3.2-2-.4z" fill="#60be88"/>
<path d="M156.2 224.4l2.2 .5 3.9-3.2-2.2-.5z" fill="#06a0cd"/>
<path d="M181.8 190.1l3.5 2.4 4.8-2-3.5-2.4z" fill="#3bb99c" stroke-width=".56"/>
<path d="M140.4 232.9l2.1 .6 3.9-3.2-2.1-.5z" fill="#0c94d2"/>
<path d="M130.8 190.8l1.1-.9-.7-.2z" fill="#38b99e" stroke="#38b99e" stroke-width=".3"/>
<path d="M130.8 190.8l1.1-.9M131.9 189.9l-.7-.2" fill="none"/>
<path d="M205.2 148.5l2.5 .2 3.9-3.4-2.5-.2z" fill="#cbbb5c"/>
<path d="M195 155l2.4 .2 3.9-3.3-2.5-.2z" fill="#b9bd63"/>
<path d="M182.6 209.5l2.4 .5 4-3.4-2.4-.5z" fill="#0eaeba"/>
<path d="M169 170.2l2.1 .4 3.9-3.2-2.2-.4z" fill="#8bbf75"/>
<path d="M215.6 141.9l2.6 .1 4-3.5-2.7-.1z" fill="#ddba54"/>
<path d="M172.4 215.7l2.3 .5 4-3.4-2.4-.4z" fill="#07a9c3"/>
<path d="M131.9 189.9l2.1 .5 3.8-3.1-2.1-.5z" fill="#42bb98"/>
<path d="M153.3 178.8l2.1 .5 3.8-3.2-2.1-.4z" fill="#6cbf83"/>
<path d="M184.9 161.2l2.3 .3 3.9-3.2-2.4-.3z" fill="#a8be6a"/>
<path d="M190.1 190.5l3.5 2.5 4.8-2-3.4-2.5z" fill="#3bb99c" stroke-width=".56"/>
<path d="M146.4 230.3l2.1 .5 3.9-3.2-2.2-.5z" fill="#0899d1"/>
<path d="M162.3 221.7l2.2 .5 4-3.3-2.3-.5z" fill="#06a3ca"/>
<path d="M226.1 135l2.9 .1 4-3.6-2.9 0z" fill="#f0b94a"/>
<path d="M113.7 190.8l3.5 2.5 4.8-2-3.5-2.5z" fill="#3bb99c" stroke-width=".56"/>
<path d="M137.8 187.3l2 .4 3.8-3.1-2-.4z" fill="#4dbc92"/>
<path d="M116.3 198.2l2.1 .5 3.8-3.1-2-.5z" fill="#29b6a7"/>
<path d="M130.7 238.7l2.1 .5 3.8-3.1-2.1-.6z" fill="#128cd2"/>
<path d="M175 167.4l2.2 .3 3.8-3.2-2.2-.4z" fill="#96bf71"/>
<path d="M159.2 176.1l2.1 .4 3.8-3.1-2.1-.4z" fill="#78bf7d"/>
<path d="M160.2 191.1l3.5 2.5 4.9-2-3.5-2.5z" fill="#3bb99c" stroke-width=".56"/>
<path d="M152.4 227.6l2.1 .6 3.9-3.3-2.2-.5z" fill="#079dcf"/>
<path d="M122 191.3l3.5 2.4 4.8-2-3.4-2.4z" fill="#3bb99c" stroke-width=".56"/>
<path d="M143.6 184.6l2.1 .5 3.8-3.1-2.1-.5z" fill="#59bd8c"/>
<path d="M201.3 151.9l2.5 .2 3.9-3.4-2.5-.2z" fill="#c5bc5e"/>
<path d="M122.2 195.6l2.1 .5 3.8-3.1-2.1-.5z" fill="#33b8a1"/>
<path d="M178.7 212.8l2.3 .5 4-3.3-2.4-.5z" fill="#0aacbe"/>
<path d="M136.6 236.1l2.1 .5 3.8-3.1-2.1-.6z" fill="#0e91d2"/>
<path d="M191.1 158.3l2.4 .2 3.9-3.3-2.4-.2z" fill="#b3bd65"/>
<path d="M211.6 145.3l2.7 .2 3.9-3.5-2.6-.1z" fill="#d7ba57"/>
<path d="M168.5 218.9l2.2 .6 4-3.3-2.3-.5z" fill="#06a7c6"/>
<path d="M165.1 173.4l2.2 .4 3.8-3.2-2.1-.4z" fill="#84bf78"/>
<path d="M168.6 191.6l3.5 2.5 4.8-2-3.5-2.5z" fill="#3bb99c" stroke-width=".56"/>
<path d="M181 164.5l2.3 .3 3.9-3.3-2.3-.3z" fill="#a2be6c"/>
<path d="M149.5 182l2.1 .4 3.8-3.1-2.1-.5z" fill="#65be86"/>
<path d="M128.1 193l1.9 .4 .8-2.6z" fill="#3cba9b" stroke="#3cba9b" stroke-width=".3"/>
<path d="M128.1 193l1.9 .4M130.8 190.8l-2.7 2.2" fill="none"/>
<path d="M222.2 138.5l2.8 .1 4-3.5-2.9-.1z" fill="#eab94e"/>
<path d="M130 193.4l.1 .1 3.9-3.1-2.1-.5-1.1 .9z" fill="#3cba9b" stroke="#3cba9b" stroke-width=".3"/>
<path d="M130 193.4l.1 .1M130.1 193.5l3.9-3.1M134 190.4l-2.1-.5M131.9 189.9l-1.1 .9" fill="none"/>
<path d="M142.5 233.5l2.1 .6 3.9-3.3-2.1-.5z" fill="#0a96d1"/>
<path d="M158.4 224.9l2.2 .6 3.9-3.3-2.2-.5z" fill="#06a1cc"/>
<path d="M176.9 192.1l3.5 2.4 4.9-2-3.5-2.4z" fill="#3bb99c" stroke-width=".56"/>
<path d="M134 190.4l2 .4 3.8-3.1-2-.4z" fill="#47bb95"/>
<path d="M171.1 170.6l2.2 .3 3.9-3.2-2.2-.3z" fill="#90bf73"/>
<path d="M155.4 179.3l2.1 .4 3.8-3.2-2.1-.4z" fill="#71bf80"/>
<path d="M174.7 216.2l2.4 .5 3.9-3.4-2.3-.5z" fill="#08aac1"/>
<path d="M148.5 230.8l2.1 .6 3.9-3.2-2.1-.6z" fill="#089bd0"/>
<path d="M197.4 155.2l2.5 .3 3.9-3.4-2.5-.2z" fill="#bfbc61"/>
<path d="M207.7 148.7l2.6 .2 4-3.4-2.7-.2z" fill="#d1bb59"/>
<path d="M185.3 192.5l3.5 2.5 4.8-2-3.5-2.5z" fill="#3bb99c" stroke-width=".56"/>
<path d="M187.2 161.5l2.4 .4 3.9-3.4-2.4-.2z" fill="#adbe68"/>
<path d="M139.8 187.7l2.1 .5 3.8-3.1-2.1-.5z" fill="#52bd8f"/>
<path d="M118.4 198.7l2 .4 3.9-3-2.1-.5z" fill="#2db7a4"/>
<path d="M164.5 222.2l2.3 .6 3.9-3.3-2.2-.6z" fill="#06a5c8"/>
<path d="M132.8 239.2l2 .6 3.9-3.2-2.1-.5z" fill="#118ed2"/>
<path d="M161.3 176.5l2.2 .4 3.8-3.1-2.2-.4z" fill="#7dbf7b"/>
<path d="M218.2 142l2.8 .1 4-3.5-2.8-.1z" fill="#e3b951"/>
<path d="M177.2 167.7l2.3 .4 3.8-3.3-2.3-.3z" fill="#9bbf6f"/>
<path d="M154.5 228.2l2.2 .6 3.9-3.3-2.2-.6z" fill="#069fce"/>
<path d="M145.7 185.1l2 .4 3.9-3.1-2.1-.4z" fill="#5ebe89"/>
<path d="M138.7 236.6l2.1 .7 3.8-3.2-2.1-.6z" fill="#0d93d2"/>
<path d="M155.4 193.1l3.5 2.5 4.8-2-3.5-2.5z" fill="#3bb99c" stroke-width=".56"/>
<path d="M117.2 193.3l3.4 2.4 4.9-2-3.5-2.4z" fill="#3bb99c" stroke-width=".56"/>
<path d="M167.3 173.8l2.2 .4 3.8-3.3-2.2-.3z" fill="#89bf76"/>
<path d="M170.7 219.5l2.4 .6 4-3.4-2.4-.5z" fill="#06a8c4"/>
<path d="M130.1 193.5l2.1 .4 3.8-3.1-2-.4z" fill="#41ba99"/>
<path d="M151.6 182.4l2.1 .4 3.8-3.1-2.1-.4z" fill="#6abe83"/>
<path d="M163.7 193.6l3.5 2.5 4.9-2-3.5-2.5z" fill="#3bb99c" stroke-width=".56"/>
<path d="M193.5 158.5l2.4 .3 4-3.3-2.5-.3z" fill="#b9bd63"/>
<path d="M203.8 152.1l2.6 .2 3.9-3.4-2.6-.2z" fill="#cbbb5c"/>
<path d="M144.6 234.1l2.1 .6 3.9-3.3-2.1-.6z" fill="#0998d1"/>
<path d="M125.5 193.7l3.5 2.5 .3-.1 1.2-4.3-.2-.1z" fill="#3bb99c" stroke="#3bb99c" stroke-width=".3"/>
<path d="M125.5 193.7l3.5 2.5M129 196.2l.3-.1M130.5 191.8l-.2-.1M130.3 191.7l-4.8 2" fill="none"/>
<path d="M160.6 225.5l2.2 .7 4-3.4-2.3-.6z" fill="#06a3cb"/>
<path d="M183.3 164.8l2.4 .4 3.9-3.3-2.4-.4z" fill="#a7be6a"/>
<path d="M129.3 196.1l4.5-1.9-3.3-2.4z" fill="#3bb99c" stroke="#3bb99c" stroke-width=".3"/>
<path d="M129.3 196.1l4.5-1.9M133.8 194.2l-3.3-2.4" fill="none"/>
<path d="M214.3 145.5l2.7 .1 4-3.5-2.8-.1z" fill="#ddba54"/>
<path d="M136 190.8l2 .5 3.9-3.1-2.1-.5z" fill="#4bbc93"/>
<path d="M172.1 194.1l3.5 2.4 4.8-2-3.5-2.4z" fill="#3bb99c" stroke-width=".56"/>
<path d="M157.5 179.7l2.1 .4 3.9-3.2-2.2-.4z" fill="#77bf7e"/>
<path d="M173.3 170.9l2.3 .4 3.9-3.2-2.3-.4z" fill="#95bf71"/>
<path d="M150.6 231.4l2.2 .7 3.9-3.3-2.2-.6z" fill="#079cd0"/>
<path d="M134.8 239.8l2.1 .7 3.9-3.2-2.1-.7z" fill="#0f8fd2"/>
<path d="M120.4 199.1l2.1 .5 3.8-3.1-2-.4z" fill="#31b8a2"/>
<path d="M141.9 188.2l2 .5 3.8-3.2-2-.4z" fill="#57bd8c"/>
<path d="M129.2 196.3l3-2.4-2.1-.4-.1 .1z" fill="#3bb99c" stroke="#3bb99c" stroke-width=".3"/>
<path d="M129.2 196.3l3-2.4M132.2 193.9l-2.1-.4M130.1 193.5l-.1 .1" fill="none"/>
<path d="M180.4 194.5l3.5 2.5 4.9-2-3.5-2.5z" fill="#3bb99c" stroke-width=".56"/>
<path d="M166.8 222.8l2.3 .7 4-3.4-2.4-.6z" fill="#06a6c7"/>
<path d="M163.5 176.9l2.1 .5 3.9-3.2-2.2-.4z" fill="#83bf79"/>
<path d="M199.9 155.5l2.5 .2 4-3.4-2.6-.2z" fill="#c4bc5e"/>
<path d="M189.6 161.9l2.4 .3 3.9-3.4-2.4-.3z" fill="#b3bd65"/>
<path d="M140.8 237.3l2 .6 3.9-3.2-2.1-.6z" fill="#0b94d2"/>
<path d="M147.7 185.5l2.1 .5 3.9-3.2-2.1-.4z" fill="#63be86"/>
<path d="M156.7 228.8l2.2 .7 3.9-3.3-2.2-.7z" fill="#06a0cd"/>
<path d="M210.3 148.9l2.7 .2 4-3.5-2.7-.1z" fill="#d7ba57"/>
<path d="M179.5 168.1l2.3 .3 3.9-3.2-2.4-.4z" fill="#a1be6d"/>
<path d="M126.3 196.5l2.1 .5 .8-.7 .8-2.7z" fill="#3bb99c" stroke="#3bb99c" stroke-width=".3"/>
<path d="M126.3 196.5l2.1 .5M128.4 197l.8-.7M130 193.6l-3.7 2.9" fill="none"/>
<path d="M132.2 193.9l2 .5 3.8-3.1-2-.5z" fill="#45bb96"/>
<path d="M153.7 182.8l2.1 .5 3.8-3.2-2.1-.4z" fill="#70bf81"/>
<path d="M169.5 174.2l2.2 .4 3.9-3.3-2.3-.4z" fill="#8fbf74"/>
<path d="M146.7 234.7l2.1 .7 4-3.3-2.2-.7z" fill="#0899d1"/>
<path d="M158.9 195.6l3.5 2.5 4.8-2-3.5-2.5z" fill="#3bb99c" stroke-width=".56"/>
<path d="M162.8 226.2l2.3 .7 4-3.4-2.3-.7z" fill="#06a4c9"/>
<path d="M138 191.3l2.1 .5 3.8-3.1-2-.5z" fill="#50bc90"/>
<path d="M120.6 195.7l3.5 2.5 4.9-2-3.5-2.5z" fill="#3bb99c" stroke-width=".56"/>
<path d="M195.9 158.8l2.5 .3 4-3.4-2.5-.2z" fill="#bebc61"/>
<path d="M185.7 165.2l2.4 .3 3.9-3.3-2.4-.3z" fill="#acbe68"/>
<path d="M129 196.2l.2 .2 .1-.3z" fill="#3bb99c" stroke="#3bb99c" stroke-width=".3"/>
<path d="M129 196.2l.2 .2M129.3 196.1l-.3 .1" fill="none"/>
<path d="M159.6 180.1l2.2 .5 3.8-3.2-2.1-.5z" fill="#7cbf7c"/>
<path d="M206.4 152.3l2.6 .2 4-3.4-2.7-.2z" fill="#d0bb59"/>
<path d="M167.2 196.1l3.5 2.4 4.9-2-3.5-2.4z" fill="#3bb99c" stroke-width=".56"/>
<path d="M152.8 232.1l2.1 .7 4-3.3-2.2-.7z" fill="#079ecf"/>
<path d="M136.9 240.5l2 .7 3.9-3.3-2-.6z" fill="#0e91d2"/>
<path d="M129.2 196.4l3.3 2.3 4.8-2-3.5-2.5-4.5 1.9z" fill="#3bb99c" stroke="#3bb99c" stroke-width=".3"/>
<path d="M129.2 196.4l3.3 2.3M132.5 198.7l4.8-2M137.3 196.7l-3.5-2.5M133.8 194.2l-4.5 1.9" fill="none"/>
<path d="M122.5 199.6l2.1 .5 3.8-3.1-2.1-.5z" fill="#35b89f"/>
<path d="M143.9 188.7l2.1 .4 3.8-3.1-2.1-.5z" fill="#5cbe8a"/>
<path d="M175.6 171.3l2.3 .4 3.9-3.3-2.3-.3z" fill="#9abf6f"/>
<path d="M175.6 196.5l3.4 2.5 4.9-2-3.5-2.5z" fill="#3bb99c" stroke-width=".56"/>
<path d="M129 197.2l1.4 .3 3.8-3.1-2-.5-3 2.4z" fill="#3fba9a" stroke="#3fba9a" stroke-width=".3"/>
<path d="M129 197.2l1.4 .3M130.4 197.5l3.8-3.1M134.2 194.4l-2-.5M132.2 193.9l-3 2.4" fill="none"/>
<path d="M142.8 237.9l2.1 .8 3.9-3.3-2.1-.7z" fill="#0a96d1"/>
<path d="M165.6 177.4l2.3 .4 3.8-3.2-2.2-.4z" fill="#88bf77"/>
<path d="M149.8 186l2.2 .5 3.8-3.2-2.1-.5z" fill="#68be84"/>
<path d="M158.9 229.5l2.2 .8 4-3.4-2.3-.7z" fill="#06a2cc"/>
<path d="M192 162.2l2.5 .3 3.9-3.4-2.5-.3z" fill="#b8bd63"/>
<path d="M134.2 194.4l2.1 .5 3.8-3.1-2.1-.5z" fill="#4abc93"/>
<path d="M181.8 168.4l2.4 .4 3.9-3.3-2.4-.3z" fill="#a6be6a"/>
<path d="M202.4 155.7l2.6 .3 4-3.5-2.6-.2z" fill="#cabb5c"/>
<path d="M148.8 235.4l2.2 .8 3.9-3.4-2.1-.7z" fill="#089bd0"/>
<path d="M155.8 183.3l2.1 .5 3.9-3.2-2.2-.5z" fill="#75bf7f"/>
<path d="M171.7 174.6l2.3 .4 3.9-3.3-2.3-.4z" fill="#94bf72"/>
<path d="M140.1 191.8l2.1 .5 3.8-3.2-2.1-.4z" fill="#55bd8d"/>
<path d="M154 197.6l3.5 2.5 4.9-2-3.5-2.5z" fill="#3bb99c" stroke-width=".56"/>
<path d="M138.9 241.2l2.1 .8 3.9-3.3-2.1-.8z" fill="#0d93d2"/>
<path d="M124.6 200.1l2 .5 2-1.6 .4-1.8-.6-.2z" fill="#39b99d" stroke="#39b99d" stroke-width=".3"/>
<path d="M124.6 200.1l2 .5M126.6 200.6l2-1.6M129 197.2l-.6-.2M128.4 197l-3.8 3.1" fill="none"/>
<path d="M154.9 232.8l2.2 .8 4-3.3-2.2-.8z" fill="#069fce"/>
<path d="M161.8 180.6l2.2 .4 3.9-3.2-2.3-.4z" fill="#81bf79"/>
<path d="M146 189.1l2.1 .5 3.9-3.1-2.2-.5z" fill="#61be87"/>
<path d="M162.4 198.1l3.5 2.4 4.8-2-3.5-2.4z" fill="#3bb99c" stroke-width=".56"/>
<path d="M188.1 165.5l2.4 .4 4-3.4-2.5-.3z" fill="#b2bd66"/>
<path d="M124.1 198.2l3.5 2.5 .7-.3 .9-4-.2-.2z" fill="#3bb99c" stroke="#3bb99c" stroke-width=".3"/>
<path d="M124.1 198.2l3.5 2.5M127.6 200.7l.7-.3M129.2 196.4l-.2-.2M129 196.2l-4.9 2" fill="none"/>
<path d="M198.4 159.1l2.6 .3 4-3.4-2.6-.3z" fill="#c4bc5e"/>
<path d="M128.3 200.4l4.2-1.7-3.3-2.3z" fill="#3bb99c" stroke="#3bb99c" stroke-width=".3"/>
<path d="M128.3 200.4l4.2-1.7M132.5 198.7l-3.3-2.3" fill="none"/>
<path d="M177.9 171.7l2.3 .4 4-3.3-2.4-.4z" fill="#9fbe6d"/>
<path d="M144.9 238.7l2.1 .8 4-3.3-2.2-.8z" fill="#0998d1"/>
<path d="M130.4 197.5l2.1 .5 3.8-3.1-2.1-.5z" fill="#43bb97"/>
<path d="M170.7 198.5l3.5 2.5 4.8-2-3.4-2.5z" fill="#3bb99c" stroke-width=".56"/>
<path d="M152 186.5l2.1 .5 3.8-3.2-2.1-.5z" fill="#6ebf82"/>
<path d="M167.9 177.8l2.2 .5 3.9-3.3-2.3-.4z" fill="#8dbf74"/>
<path d="M136.3 194.9l2.1 .5 3.8-3.1-2.1-.5z" fill="#4ebc91"/>
<path d="M151 236.2l2.1 .8 4-3.4-2.2-.8z" fill="#079cd0"/>
<path d="M157.9 183.8l2.2 .5 3.9-3.3-2.2-.4z" fill="#7abf7c"/>
<path d="M184.2 168.8l2.4 .4 3.9-3.3-2.4-.4z" fill="#abbe68"/>
<path d="M194.5 162.5l2.5 .4 4-3.5-2.6-.3z" fill="#bdbc61"/>
<path d="M142.2 192.3l2.1 .5 3.8-3.2-2.1-.5z" fill="#5abd8b"/>
<path d="M174 175l2.3 .5 3.9-3.4-2.3-.4z" fill="#99bf70"/>
<path d="M141 242l2 .8 4-3.3-2.1-.8z" fill="#0c94d2"/>
<path d="M149.2 199.6l3.5 2.5 4.8-2-3.5-2.5z" fill="#3bb99c" stroke-width=".56"/>
<path d="M126.6 200.6l1.6 .4 .4-2z" fill="#3dba9b" stroke="#3dba9b" stroke-width=".3"/>
<path d="M126.6 200.6l1.6 .4M128.6 199l-2 1.6" fill="none"/>
<path d="M128.2 201l.5 .2 3.8-3.2-2.1-.5-1.8 1.5z" fill="#3dba9b" stroke="#3dba9b" stroke-width=".3"/>
<path d="M128.2 201l.5 .2M128.7 201.2l3.8-3.2M132.5 198l-2.1-.5M130.4 197.5l-1.8 1.5" fill="none"/>
<path d="M148.1 189.6l2.1 .6 3.9-3.2-2.1-.5z" fill="#66be85"/>
<path d="M164 181l2.2 .5 3.9-3.2-2.2-.5z" fill="#86bf77"/>
<path d="M147 239.5l2.1 .9 4-3.4-2.1-.8z" fill="#0899d1"/>
<path d="M157.5 200.1l3.5 2.4 4.9-2-3.5-2.4z" fill="#3bb99c" stroke-width=".56"/>
<path d="M132.5 198l2 .6 3.9-3.2-2.1-.5z" fill="#48bb95"/>
<path d="M190.5 165.9l2.5 .4 4-3.4-2.5-.4z" fill="#b7bd64"/>
<path d="M180.2 172.1l2.4 .5 4-3.4-2.4-.4z" fill="#a5be6b"/>
<path d="M154.1 187l2.1 .5 3.9-3.2-2.2-.5z" fill="#73bf7f"/>
<path d="M127.6 200.7l.6 .3 .1-.6z" fill="#3bb99c" stroke="#3bb99c" stroke-width=".3"/>
<path d="M127.6 200.7l.6 .3M128.3 200.4l-.7 .3" fill="none"/>
<path d="M165.9 200.5l3.5 2.5 4.8-2-3.5-2.5z" fill="#3bb99c" stroke-width=".56"/>
<path d="M138.4 195.4l2 .6 3.9-3.2-2.1-.5z" fill="#53bd8f"/>
<path d="M170.1 178.3l2.3 .5 3.9-3.3-2.3-.5z" fill="#92bf72"/>
<path d="M128.2 201l2.9 2.1 4.9-2-3.5-2.4-4.2 1.7z" fill="#3bb99c" stroke="#3bb99c" stroke-width=".3"/>
<path d="M128.2 201l2.9 2.1M131.1 203.1l4.9-2M136 201.1l-3.5-2.4M132.5 198.7l-4.2 1.7" fill="none"/>
<path d="M160.1 184.3l2.2 .5 3.9-3.3-2.2-.5z" fill="#7fbf7a"/>
<path d="M144.3 192.8l2.1 .6 3.8-3.2-2.1-.6z" fill="#5fbe89"/>
<path d="M143 242.8l2.1 1 4-3.4-2.1-.9z" fill="#0b95d1"/>
<path d="M186.6 169.2l2.4 .5 4-3.4-2.5-.4z" fill="#b0bd66"/>
<path d="M128.7 201.2l2 .5 3.8-3.1-2-.6z" fill="#41ba98"/>
<path d="M176.3 175.5l2.4 .5 3.9-3.4-2.4-.5z" fill="#9ebe6e"/>
<path d="M144.3 201.6l3.5 2.5 4.9-2-3.5-2.5z" fill="#3bb99c" stroke-width=".56"/>
<path d="M150.2 190.2l2.2 .5 3.8-3.2-2.1-.5z" fill="#6bbf83"/>
<path d="M166.2 181.5l2.3 .6 3.9-3.3-2.3-.5z" fill="#8bbf75"/>
<path d="M134.5 198.6l2.1 .6 3.8-3.2-2-.6z" fill="#4cbc92"/>
<path d="M152.7 202.1l3.5 2.4 4.8-2-3.5-2.4z" fill="#3bb99c" stroke-width=".56"/>
<path d="M156.2 187.5l2.2 .6 3.9-3.3-2.2-.5z" fill="#78bf7d"/>
<path d="M140.4 196l2.1 .6 3.9-3.2-2.1-.6z" fill="#58bd8c"/>
<path d="M182.6 172.6l2.4 .5 4-3.4-2.4-.5z" fill="#aabe69"/>
<path d="M161 202.5l3.5 2.5 4.9-2-3.5-2.5z" fill="#3bb99c" stroke-width=".56"/>
<path d="M172.4 178.8l2.3 .5 4-3.3-2.4-.5z" fill="#97bf70"/>
<path d="M146.4 193.4l2.1 .6 3.9-3.3-2.2-.5z" fill="#64be86"/>
<path d="M162.3 184.8l2.2 .6 4-3.3-2.3-.6z" fill="#84bf78"/>
<path d="M131.1 203.1l3.5 2.5 4.9-2-3.5-2.5z" fill="#3bb99c" stroke-width=".56"/>
<path d="M130.7 201.7l2.1 .6 3.8-3.1-2.1-.6z" fill="#45bb96"/>
<path d="M152.4 190.7l2.1 .7 3.9-3.3-2.2-.6z" fill="#70bf81"/>
<path d="M178.7 176l2.3 .5 4-3.4-2.4-.5z" fill="#a3be6c"/>
<path d="M136.6 199.2l2.1 .6 3.8-3.2-2.1-.6z" fill="#50bc90"/>
<path d="M168.5 182.1l2.2 .6 4-3.4-2.3-.5z" fill="#90bf73"/>
<path d="M147.8 204.1l3.5 2.4 4.9-2-3.5-2.4z" fill="#3bb99c" stroke-width=".56"/>
<path d="M142.5 196.6l2.1 .6 3.9-3.2-2.1-.6z" fill="#5cbe8a"/>
<path d="M158.4 188.1l2.2 .6 3.9-3.3-2.2-.6z" fill="#7cbf7b"/>
<path d="M156.2 204.5l3.4 2.5 4.9-2-3.5-2.5z" fill="#3bb99c" stroke-width=".56"/>
<path d="M174.7 179.3l2.4 .6 3.9-3.4-2.3-.5z" fill="#9cbf6f"/>
<path d="M148.5 194l2.1 .6 3.9-3.2-2.1-.7z" fill="#68be84"/>
<path d="M164.5 185.4l2.3 .6 3.9-3.3-2.2-.6z" fill="#88bf76"/>
<path d="M132.8 202.3l2 .7 3.9-3.2-2.1-.6z" fill="#49bc94"/>
<path d="M154.5 191.4l2.2 .6 3.9-3.3-2.2-.6z" fill="#75bf7f"/>
<path d="M138.7 199.8l2.1 .7 3.8-3.3-2.1-.6z" fill="#55bd8e"/>
<path d="M134.6 205.6l3.5 2.5 4.9-2-3.5-2.5z" fill="#3bb99c" stroke-width=".56"/>
<path d="M170.7 182.7l2.4 .6 4-3.4-2.4-.6z" fill="#94bf71"/>
<path d="M144.6 197.2l2.1 .7 3.9-3.3-2.1-.6z" fill="#61be88"/>
<path d="M160.6 188.7l2.2 .7 4-3.4-2.3-.6z" fill="#81bf79"/>
<path d="M143 206.1l3.5 2.4 4.8-2-3.5-2.4z" fill="#3bb99c" stroke-width=".56"/>
<path d="M150.6 194.6l2.2 .7 3.9-3.3-2.2-.6z" fill="#6dbf82"/>
<path d="M151.3 206.5l3.5 2.5 4.8-2-3.4-2.5z" fill="#3bb99c" stroke-width=".56"/>
<path d="M134.8 203l2.1 .7 3.9-3.2-2.1-.7z" fill="#4dbc92"/>
<path d="M166.8 186l2.3 .7 4-3.4-2.4-.6z" fill="#8dbf75"/>
<path d="M140.8 200.5l2 .7 3.9-3.3-2.1-.7z" fill="#59bd8c"/>
<path d="M156.7 192l2.2 .7 3.9-3.3-2.2-.7z" fill="#79bf7d"/>
<path d="M146.7 197.9l2.1 .7 4-3.3-2.2-.7z" fill="#65be86"/>
<path d="M162.8 189.4l2.3 .7 4-3.4-2.3-.7z" fill="#85bf78"/>
<path d="M138.1 208.1l3.5 2.4 4.9-2-3.5-2.4z" fill="#3bb99c" stroke-width=".56"/>
<path d="M152.8 195.3l2.1 .8 4-3.4-2.2-.7z" fill="#71bf80"/>
<path d="M136.9 203.7l2 .8 3.9-3.3-2-.7z" fill="#51bd90"/>
<path d="M146.5 208.5l3.5 2.5 4.8-2-3.5-2.5z" fill="#3bb99c" stroke-width=".56"/>
<path d="M142.8 201.2l2.1 .8 3.9-3.4-2.1-.7z" fill="#5dbe8a"/>
<path d="M158.9 192.7l2.2 .9 4-3.5-2.3-.7z" fill="#7dbf7b"/>
<path d="M148.8 198.6l2.2 .9 3.9-3.4-2.1-.8z" fill="#68be84"/>
<path d="M138.9 204.5l2.1 .8 3.9-3.3-2.1-.8z" fill="#54bd8e"/>
<path d="M154.9 196.1l2.2 .9 4-3.4-2.2-.9z" fill="#75bf7f"/>
<path d="M141.6 210.5l3.5 2.5 4.9-2-3.5-2.5z" fill="#3bb99c" stroke-width=".56"/>
<path d="M144.9 202l2.1 .8 4-3.3-2.2-.9z" fill="#60be88"/>
<path d="M151 199.5l2.1 .9 4-3.4-2.2-.9z" fill="#6cbf82"/>
<path d="M141 205.3l2 .9 4-3.4-2.1-.8z" fill="#58bd8c"/>
<path d="M147 202.8l2.1 1 4-3.4-2.1-.9z" fill="#63be87"/>
<path d="M143 206.2l2.1 1 4-3.4-2.1-1z" fill="#5abd8b"/>
</g>
<path d="M172.1 68.7l1.9 .5 1.9 .6 1.9 .5 2 .5 1.9 .6 1.9 .5 1.9 .6 1.9 .5 1.9 .6 1.9 .5 1.9 .6 1.9 .5 2 .5 1.9 .6 1.9 .5 1.9 .5 1.9 .5 1.9 .5 1.9 .5 1.9 .4 1.9 .5 2 .4 1.9 .5 1.9 .4 1.9 .4 1.9 .4 1.9 .3 1.9 .4 1.9 .3 1.9 .3 2 .3 1.9 .3 1.9 .3 1.9 .2 1.9 .2 1.9 .2 1.9 .2 1.9 .1 1.9 .1 2 .1 1.9 .1 2 .1 2.1 .1 2.3 .1 2.5 0 2.5 .2 2.7 .1 2.9 .4 3 .5 3.1 .9 3.3 1.5M271.4 80.5l-2.9-.5-2.7-.2-2.6-.1-2.5-.1-2.3 0-2.1 0-2-.1-1.9 0-1.9-.1-1.9 0-1.9-.1-1.9-.1-2-.1-1.9-.2-1.9-.1-1.9-.2-1.9-.3-1.9-.2-1.9-.2-1.9-.3-1.9-.3-1.9-.3-1.9-.4-1.9-.3-1.9-.4-1.9-.4-2-.4-1.9-.4-1.9-.4-1.9-.4-1.9-.5-1.9-.4-1.9-.5-1.9-.5-1.9-.5-1.9-.5-1.9-.4-1.9-.5-1.9-.5-1.9-.5-2-.5-1.9-.5-1.9-.5-1.9-.5-1.9-.5-1.9-.5-1.9-.5-1.9-.5M168.1 72.3l1.9 .5 1.9 .6 2 .6 1.9 .6 1.9 .5 1.9 .6 1.9 .6 1.9 .6 2 .6 1.9 .5 1.9 .6 1.9 .6 1.9 .6 1.9 .5 1.9 .6 2 .5 1.9 .5 1.9 .6 1.9 .5 1.9 .5 1.9 .5 2 .5 1.9 .4 1.9 .5 1.9 .4 1.9 .5 1.9 .4 2 .4 1.9 .3 1.9 .4 1.9 .3 1.9 .3 1.9 .3 1.9 .3 2 .3 1.9 .2 1.9 .2 1.9 .2 1.9 .2 1.9 .1 2 .2 2 .1 2.1 .1 2.3 .1 2.4 .1 2.6 .2 2.7 .1 2.8 .2 3 .4 3.1 .6 3.2 1M164.1 75.8l1.9 .6 2 .6 1.9 .6 1.9 .6 1.9 .6 1.9 .6 2 .6 1.9 .6 1.9 .7 1.9 .6 1.9 .6 2 .6 1.9 .5 1.9 .6 1.9 .6 1.9 .6 2 .5 1.9 .6 1.9 .5 1.9 .6 1.9 .5 2 .5 1.9 .5 1.9 .5 1.9 .4 1.9 .5 2 .4 1.9 .5 1.9 .4 1.9 .4 1.9 .3 2 .4 1.9 .3 1.9 .3 1.9 .3 1.9 .3 2 .2 1.9 .3 1.9 .2 1.9 .2 1.9 .1 2.1 .2 2.1 .1 2.3 .2 2.4 .1 2.5 .1 2.7 .2 2.8 .1 2.9 .3 3.1 .4 3.2 .7M160.1 79.3l1.9 .6 2 .6 1.9 .7 1.9 .6 1.9 .6 2 .7 1.9 .6 1.9 .6 1.9 .6 2 .7 1.9 .6 1.9 .6 1.9 .6 2 .6 1.9 .6 1.9 .6 1.9 .6 2 .6 1.9 .5 1.9 .6 1.9 .5 2 .6 1.9 .5 1.9 .5 1.9 .5 2 .5 1.9 .4 1.9 .5 1.9 .4 2 .4 1.9 .4 1.9 .4 1.9 .3 2 .4 1.9 .3 1.9 .3 1.9 .3 1.9 .2 2 .3 1.9 .2 1.9 .2 2 .2 2.2 .2 2.3 .1 2.3 .2 2.6 .1 2.6 .1 2.8 .1 2.9 .2 3.1 .3 3.1 .4M156.1 82.7l2 .7 1.9 .6 1.9 .7 1.9 .6 2 .7 1.9 .6 1.9 .7 2 .6 1.9 .7 1.9 .6 1.9 .6 2 .7 1.9 .6 1.9 .6 2 .6 1.9 .6 1.9 .6 1.9 .6 2 .6 1.9 .6 1.9 .5 2 .6 1.9 .5 1.9 .5 1.9 .6 2 .5 1.9 .4 1.9 .5 2 .4 1.9 .5 1.9 .4 1.9 .4 2 .4 1.9 .3 1.9 .4 2 .3 1.9 .3 1.9 .3 1.9 .3 2 .2 1.9 .2 2 .2 2.2 .2 2.2 .2 2.4 .2 2.5 .1 2.7 .1 2.7 .1 2.9 .1 3 .2 3.1 .2M152.1 86.2l2 .6 1.9 .7 1.9 .7 2 .6 1.9 .7 1.9 .7 2 .6 1.9 .7 1.9 .6 2 .7 1.9 .6 1.9 .7 2 .6 1.9 .7 1.9 .6 2 .6 1.9 .6 1.9 .6 2 .6 1.9 .6 1.9 .6 2 .5 1.9 .6 1.9 .5 2 .5 1.9 .5 1.9 .5 2 .5 1.9 .5 1.9 .4 2 .4 1.9 .5 1.9 .4 2 .3 1.9 .4 1.9 .3 2 .4 1.9 .3 1.9 .3 2 .2 1.9 .3 2 .2 2.1 .2 2.3 .2 2.4 .2 2.5 .1 2.6 .1 2.7 .1 2.9 .1 2.9 .1 3.1 .1M148.1 89.6l2 .7 1.9 .6 2 .7 1.9 .7 1.9 .7 2 .6 1.9 .7 1.9 .7 2 .7 1.9 .6 2 .7 1.9 .6 1.9 .7 2 .6 1.9 .7 1.9 .6 2 .6 1.9 .6 2 .6 1.9 .6 1.9 .6 2 .6 1.9 .5 1.9 .6 2 .5 1.9 .5 2 .5 1.9 .5 1.9 .5 2 .4 1.9 .5 1.9 .4 2 .4 1.9 .4 2 .4 1.9 .4 1.9 .3 2 .3 1.9 .3 1.9 .3 2 .3 2 .2 2.1 .2 2.3 .2 2.3 .2 2.5 .2 2.6 .1 2.7 .1 2.8 0 3 .1 3 .1M144.1 93l2 .7 1.9 .6 2 .7 1.9 .7 2 .7 1.9 .7 1.9 .7 2 .6 1.9 .7 2 .7 1.9 .7 1.9 .6 2 .7 1.9 .6 2 .7 1.9 .6 2 .6 1.9 .6 1.9 .7 2 .6 1.9 .5 2 .6 1.9 .6 1.9 .5 2 .6 1.9 .5 2 .5 1.9 .5 2 .5 1.9 .5 1.9 .4 2 .5 1.9 .4 2 .4 1.9 .4 2 .4 1.9 .3 1.9 .4 2 .3 1.9 .3 2 .3 2 .2 2.1 .3 2.3 .2 2.3 .1 2.5 .2 2.5 .1 2.7 .1 2.8 0 2.9 .1 3 0M140.2 96.3l1.9 .7 1.9 .7 2 .7 1.9 .7 2 .7 1.9 .7 2 .7 1.9 .7 2 .7 1.9 .6 2 .7 1.9 .7 2 .6 1.9 .7 1.9 .6 2 .7 1.9 .6 2 .6 1.9 .7 2 .6 1.9 .6 2 .5 1.9 .6 2 .6 1.9 .5 2 .6 1.9 .5 1.9 .5 2 .5 1.9 .5 2 .4 1.9 .5 2 .4 1.9 .4 2 .4 1.9 .4 2 .4 1.9 .3 2 .4 1.9 .3 1.9 .2 2.1 .3 2.1 .3 2.2 .2 2.4 .2 2.4 .1 2.6 .2 2.6 0 2.8 .1 2.9 0 3 0M136.7 99.9l1.4 .5 2 .7 1.9 .7 2 .7 1.9 .7 2 .7 1.9 .7 2 .7 1.9 .7 2 .6 1.9 .7 2 .7 1.9 .7 2 .6 1.9 .7 2 .6 1.9 .7 2 .6 1.9 .6 2 .6 1.9 .6 2 .6 1.9 .6 2 .5 1.9 .6 2 .5 1.9 .6 2 .5 1.9 .5 2 .5 1.9 .4 2 .5 1.9 .4 2 .4 1.9 .5 2 .3 1.9 .4 2 .4 1.9 .3 2 .4 1.9 .3 2.1 .2 2.1 .3 2.2 .2 2.3 .2 2.5 .2 2.5 .1 2.6 .1 2.8 .1 2.8 0 3 0M132.4 101l3.5 2.5 1.7 1.1M127.6 103l3.5 2.5 3.5 2.4 3.5 2.5 .5 .4 3 2.1M72.3 189.9l2 .7 2 .7 2 .7 2 .7 2.1 .7 2 .7 2 .7 2 .7 2 .6 2.1 .7 2 .6 2 .7 2 .6 2 .6 2.1 .7 2 .6 2 .5 2 .6 2 .6 2.1 .6 2 .5 2 .6 2 .5 2 .5 2.1 .5 2 .5 2 .5 2 .5 2 .5 2.1 .4 2 .5 2 .4 2 .4M122.8 105l3.4 2.5 3.5 2.4 3.5 2.5 3.5 2.5M138 105.1l2 .7 1.9 .7 2 .7 1.9 .7 2 .7 2 .7 1.9 .7 2 .7 1.9 .7 2 .6 1.9 .7 2 .7 1.9 .6 2 .7 2 .6 1.9 .6 2 .6 1.9 .6 2 .6 1.9 .6 2 .6 1.9 .5 2 .6 1.9 .5 2 .5 2 .5 1.9 .5 2 .5 1.9 .4 2 .5 1.9 .4 2 .4 1.9 .4 2 .4 1.9 .4 2 .4 2 .3 1.9 .3 2 .3 2.2 .2 2.2 .3 2.3 .2 2.4 .2 2.5 .1 2.6 .1 2.7 .1 2.9 0 2.9 0M68.3 193.1l2 .7 2 .7 2 .7 2.1 .7 2 .7 2 .7 2 .7 2.1 .7 2 .6 2 .7 2 .6 2.1 .7 2 .6 2 .6 2 .6 2 .6 2.1 .6 2 .6 2 .6 2 .5 2.1 .6 2 .5 2 .5 2 .5 2.1 .5 2 .5 2 .5 2 .5 2.1 .5 2 .4 2 .5 2 .4 2.1 .4 2 .5 2 .4 2 .4 2.1 .4 2 .4 2 .4 2 .4 2.1 .4 2 .4 2.1 .4 2.1 .3 2.1 .4 2.2 .4 2.2 .5 2.2 .4 2.3 .5 2.2 .6 2.4 .6M64.3 196.3l2 .7 2 .7 2.1 .8 2 .7 2 .7 2 .6 2.1 .7 2 .7 2 .6 2.1 .7 2 .6 2 .7 2 .6 2.1 .6 2 .6 2 .6 2.1 .6 2 .5 2 .6 2 .6 2.1 .5 2 .5 2 .5 2.1 .6 2 .5 2 .5 2 .4 2.1 .5 2 .5 2 .4 2.1 .5 2 .4 2 .4 2 .4 2.1 .5 2 .4 2 .4 2.1 .4 2 .4 2 .4 2 .4 2.1 .4 2.1 .4 2.1 .4 2.1 .4 2.1 .4 2.2 .5 2.2 .5 2.2 .5 2.3 .6 2.3 .7M117.9 107l3.5 2.5 3.5 2.4 3.5 2.5 3.5 2.5 3.5 2.4 3.5 2.5 1.4 1M60.3 199.5l2 .7 2 .8 2.1 .7 2 .7 2 .7 2.1 .6 2 .7 2 .7 2.1 .6 2 .7 2 .6 2.1 .6 2 .7 2 .6 2.1 .6 2 .5 2 .6 2.1 .6 2 .5 2 .6 2.1 .5 2 .6 2 .5 2.1 .5 2 .5 2 .5 2.1 .4 2 .5 2 .5 2.1 .4 2 .4 2 .5 2.1 .4 2 .4 2 .4 2.1 .5 2 .4 2 .4 2.1 .4 2 .4 2 .4 2.1 .4 2 .4 2.1 .4 2.2 .5 2.1 .4 2.1 .5 2.2 .5 2.2 .6 2.2 .7 2.3 .7M113 109l3.5 2.5 3.5 2.4 3.5 2.5 3.5 2.5 3.5 2.4 3.5 2.5 3.5 2.5 3.3 2.3 .2 .1M56.3 202.7l2 .8 2.1 .7 2 .7 2 .7 2.1 .7 2 .6 2 .7 2.1 .7 2 .6 2.1 .7 2 .6 2 .6 2.1 .6 2 .6 2 .6 2.1 .6 2 .6 2.1 .5 2 .6 2 .5 2.1 .6 2 .5 2 .5 2.1 .5 2 .5 2.1 .5 2 .4 2 .5 2.1 .4 2 .5 2 .4 2.1 .4 2 .5 2.1 .4 2 .4 2 .4 2.1 .4 2 .4 2 .4 2.1 .5 2 .4 2.1 .4 2 .4 2.1 .4 2.1 .5 2.1 .5 2.2 .5 2.1 .6 2.2 .6 2.2 .7 2.2 .8M138 109.9l.5 .2 1.4 .5 2 .7 1.9 .7 2 .7 2 .7 1.9 .6 2 .7 1.9 .7 2 .7 2 .6 1.9 .7 2 .6 1.9 .7 2 .6 2 .6 1.9 .6 2 .6 1.9 .6 2 .5 1.9 .6 2 .6 2 .5 1.9 .5 2 .5 1.9 .5 2 .5 2 .5 1.9 .4 2 .4 1.9 .5 2 .4 2 .4 1.9 .4 2 .3 1.9 .4 2 .3 2 .3 2.1 .2 2.3 .3 2.3 .2 2.4 .2 2.5 .1 2.5 .2 2.7 0 2.8 .1 2.9 0M52.3 205.9l2 .8 2.1 .7 2 .7 2 .7 2.1 .7 2 .6 2.1 .7 2 .7 2.1 .6 2 .6 2 .7 2.1 .6 2 .6 2.1 .6 2 .6 2.1 .6 2 .5 2 .6 2.1 .5 2 .6 2.1 .5 2 .5 2 .5 2.1 .5 2 .5 2.1 .5 2 .4 2.1 .5 2 .4 2 .5 2.1 .4 2 .4 2.1 .4 2 .5 2 .4 2.1 .4 2 .4 2.1 .4 2 .4 2.1 .4 2 .4 2 .5 2.1 .4 2.1 .5 2.1 .5 2.1 .5 2.1 .5 2.1 .6 2.2 .7 2.1 .7 2.2 .8M108.2 111l3.5 2.5 3.5 2.4 3.5 2.5 3.5 2.5 3.5 2.4 3.5 2.5 3.5 2.5 3.4 2.4 3.5 2.5 1.5 1 .8 .3 2 .6 1.9 .6 2 .7 2 .6 2 .6 2 .5 1.9 .6 2 .6 2 .5 2 .6 2 .5 1.9 .5 2 .5 2 .5 2 .5 2 .5 2 .4 1.9 .5 2 .4 2 .4 2 .4 2 .4 1.9 .4 2 .3 2.1 .4 2.1 .3 2.1 .3 2.3 .2 2.3 .3 2.4 .2 2.5 .2 2.5 .2 2.6 .2 2.7 .2M48.3 209.2l2 .7 2.1 .7 2 .7 2.1 .7 2 .7 2.1 .6 2 .7 2.1 .7 2 .6 2.1 .6 2 .7 2 .6 2.1 .6 2 .6 2.1 .5 2 .6 2.1 .6 2 .5 2.1 .6 2 .5 2.1 .5 2 .5 2.1 .5 2 .5 2 .5 2.1 .4 2 .5 2.1 .5 2 .4 2.1 .4 2 .5 2.1 .4 2 .4 2.1 .4 2 .4 2.1 .4 2 .4 2 .5 2.1 .4 2 .4 2.1 .4 2 .5 2.1 .4 2.1 .5 2 .5 2.1 .6 2.1 .6 2.1 .6 2.1 .7 2.2 .8 2.1 .8M44.3 212.4l2 .7 2.1 .7 2 .7 2.1 .7 2 .7 2.1 .6 2 .7 2.1 .6 2 .7 2.1 .6 2.1 .6 2 .6 2.1 .6 2 .6 2.1 .6 2 .6 2.1 .5 2 .6 2.1 .5 2 .5 2.1 .5 2 .5 2.1 .5 2 .5 2.1 .5 2 .4 2.1 .5 2 .4 2.1 .5 2 .4 2.1 .4 2 .4 2.1 .5 2 .4 2.1 .4 2 .4 2.1 .4 2 .4 2.1 .4 2 .5 2.1 .4 2 .5 2.1 .4 2 .5 2.1 .6 2.1 .5 2.1 .7 2 .6 2.1 .8 2.1 .8 2.1 .9M136 113.9l1.9 .7 1.4 .5 .6 .2 1.9 .7 2 .7 2 .7 1.9 .7 2 .6 2 .7 1.9 .7 2 .6 2 .7 1.9 .6 2 .6 1.9 .6 2 .6 2 .6 1.9 .6 2 .6 2 .6 1.9 .5 2 .5 2 .6 1.9 .5 2 .5 1.9 .5 2 .4 2 .5 1.9 .4 2 .5 2 .4 1.9 .4 2 .4 2 .3 1.9 .4 2 .3 2 .3 2.1 .3 2.2 .2 2.3 .3 2.4 .2 2.5 .1 2.5 .2 2.7 .1 2.7 0 2.9 .1M103.4 113l3.4 2.5 3.5 2.4 3.5 2.5 3.5 2.5 3.5 2.4 3.5 2.5 3.5 2.5 3.5 2.4 3.5 2.5 3.5 2.5 2.8 2M98.5 115l3.5 2.5 3.5 2.4 3.5 2.5 3.5 2.5 3.5 2.4 3.5 2.5 3.5 2.5 3.4 2.4 3.5 2.5 3.5 2.5 3.5 2.4 3.5 2.5 .5 .4M139.5 116.9l.7 .4M42.4 216.3l2 .7M93.6 117l3.5 2.5 3.5 2.4 3.5 2.5 3.5 2.5 3.5 2.4 3.5 2.5 3.5 2.5 3.5 2.4 3.5 2.5 3.5 2.5 3.5 2.4 3.5 2.5 3.5 2.5 1.4 1M88.8 119l3.5 2.5 3.5 2.4 3.5 2.5 3.5 2.5 3.5 2.4 3.5 2.5 3.5 2.5 3.4 2.4 3.5 2.5 3.5 2.5 3.5 2.4 3.5 2.5 3.5 2.5 3.5 2.4 2.2 1.6M64.3 157.6l2 .8 2 .7 2.1 .8M139.9 120l.1 0 1.8 .7 2 .7 2 .6 1.9 .7 2 .7 2 .6 1.9 .7 2 .6 2 .6 1.9 .7 2 .6 2 .6 1.9 .5 2 .6 2 .6 1.9 .5 2 .6 2 .5 2 .5 1.9 .5 2 .5 2 .5 1.9 .4 2 .5 2 .4 1.9 .4 2 .4 2 .4 1.9 .4 2 .4 2 .3 2 .3 2.1 .3 2.2 .2 2.3 .3 2.4 .2 2.4 .2 2.6 .1 2.6 .1 2.7 .1 2.8 .1M60.3 160.8l2 .8 2 .7 2.1 .8 2 .7 2 .7 2.1 .7 2 .8 2 .7 2.1 .7 2 .6 2 .7M83.9 121l3.5 2.5 3.5 2.4 3.5 2.5 3.5 2.5 3.5 2.4 3.5 2.5 3.5 2.5 3.5 2.4 3.5 2.5 3.5 2.5 3.5 2.4 3.5 2.5 3.5 2.5 3.5 2.4 3.5 2.5 2.7 2M98.4 194.3l2 .6 2.1 .6 2 .7 2 .6 2 .6 2 .6 2 .6 2 .5 2.1 .6 2 .6 2 .5 2 .5 2 .6 2 .5 2.1 .5 2 .5 2 .5M56.3 164l2 .7 2.1 .8 2 .7 2 .8 2.1 .7 2 .7 2 .7 2.1 .7 2 .7 2.1 .7 2 .7 2 .6 2.1 .7 2 .6 2 .7 2.1 .6 2 .6 2.1 .6M79.1 123l3.5 2.5 3.5 2.4 3.5 2.5 3.5 2.5 3.5 2.4 3.5 2.5 3.5 2.5 3.4 2.4 3.5 2.5 3.5 2.5 3.5 2.4 3.5 2.5 3.5 2.5 3.5 2.4 3.5 2.5 3.5 2.5 3.2 2.2 .3 .2M52.3 167.1l2 .8 2.1 .7 2 .8 2 .7 2.1 .8 2 .7 2.1 .7 2 .7 2.1 .7 2 .7 2 .6 2.1 .7 2 .6 2.1 .7 2 .6 2.1 .6 2 .6 2 .6 2.1 .6 2 .6 2.1 .5 2 .6 2 .5 2.1 .6 2 .5M137.9 124l2 .6 .6 .3M48.3 170.3l2 .8 2.1 .7 2 .8 2.1 .7 2 .7 2.1 .7 2 .7 2.1 .7 2 .7 2.1 .7 2 .7 2 .6 2.1 .7 2 .6 2.1 .6 2 .6 2.1 .6 2 .6 2.1 .6 2 .6 2.1 .5 2 .6 2.1 .5 2 .6 2 .5 2.1 .5 2 .5 2.1 .5 2 .5 2.1 .5 2 .4M74.2 125l3.5 2.5 3.5 2.4 3.5 2.5 3.5 2.5 3.5 2.4 3.5 2.5 3.5 2.5 3.5 2.4 3.5 2.5 3.5 2.5 3.5 2.4 3.5 2.5 3.5 2.5 3.5 2.4 3.4 2.5 3.5 2.5 3.5 2.4 3.5 2.5 0 0M44.3 173.5l2 .7 2.1 .8 2 .7 2.1 .8 2 .7 2.1 .7 2 .7 2.1 .7 2 .7 2.1 .7 2.1 .6 2 .7 2.1 .6 2 .6 2.1 .7 2 .6 2.1 .6 2 .6 2.1 .5 2 .6 2.1 .6 2 .5 2.1 .5 2 .6 2.1 .5 2 .5 2.1 .5 2 .5 2.1 .5 2 .4 2.1 .5 2 .5 2.1 .4 2 .5 2.1 .4 2 .5 2.1 .4M54.7 220.4l2 .6M141.8 125.3l2 .7 2 .7 1.9 .6 2 .7 2 .6 2 .6 1.9 .6 2 .6 2 .6 1.9 .6 2 .6 2 .6 2 .5 1.9 .6 2 .5 2 .5 2 .5 1.9 .5 2 .5 2 .4 1.9 .5 2 .4 2 .4 2 .5 1.9 .4 2 .3 2 .4 2 .3 2 .4 2.1 .3 2.2 .2 2.3 .3 2.3 .2 2.4 .2 2.6 .1 2.6 .2 2.6 .1 2.8 .1M69.4 127l3.5 2.5 3.5 2.4 3.5 2.5 3.5 2.5 3.5 2.4 3.5 2.5 3.5 2.5 3.4 2.4 3.5 2.5 3.5 2.5 3.5 2.4 3.5 2.5 3.5 2.5 3.5 2.4 3.5 2.5 3.5 2.5 3.5 2.4 3.5 2.5 3.5 2.5 .1 0M137.9 128.6l2 .7M64.6 129l3.4 2.5 3.5 2.4 3.5 2.5 3.5 2.5 3.5 2.4 3.5 2.5 3.5 2.5 3.5 2.4 3.5 2.5 3.5 2.5 3.5 2.4 3.5 2.5 3.5 2.5 3.5 2.4 3.5 2.5 3.4 2.5 3.5 2.4 3.5 2.5 3.5 2.5 3.5 2.4 .2 .2M44.4 178.1l2.1 .8M141.8 129.9l2 .7 2 .6 2 .7 1.9 .6 2 .6 2 .6 2 .6 2 .6 1.9 .6 2 .5 2 .6 2 .5 1.9 .6 2 .5 2 .5 2 .5 1.9 .4 2 .5 2 .5 2 .4 2 .4 1.9 .5 2 .4 2 .4 2 .3 1.9 .4 2.1 .3 2.1 .3 2.2 .3 2.2 .2 2.4 .3 2.4 .2 2.5 .1 2.5 .2 2.7 .2 2.7 .1M59.7 131l3.5 2.5 3.5 2.4 3.5 2.5 3.5 2.5 3.5 2.4 3.5 2.5 3.5 2.5 3.4 2.4 3.5 2.5 3.5 2.5 3.5 2.4 3.5 2.5 3.5 2.5 3.5 2.4 3.5 2.5 3.5 2.5 3.5 2.4 3.5 2.5 3.5 2.5 3.5 2.4 3.5 2.5 .2 .1M62.9 222.9l2.1 .6M54.8 133l3.5 2.5 3.5 2.4 3.5 2.5 3.5 2.5 3.5 2.4 3.5 2.5 3.5 2.5 3.5 2.4 3.5 2.5 3.5 2.5 3.5 2.4 3.5 2.5 3.5 2.5 3.5 2.4 3.4 2.5 3.5 2.5 3.5 2.4 3.5 2.5 3.5 2.5 3.5 2.4 3.5 2.5 3.5 2.5 .2 .1M50 135l3.5 2.5 3.5 2.4 3.5 2.5 3.5 2.5 3.5 2.4 3.5 2.5 3.5 2.5 3.4 2.4 3.5 2.5 3.5 2.5 3.5 2.4 3.5 2.5 3.5 2.5 3.5 2.4 3.5 2.5 3.5 2.5 3.5 2.4 3.5 2.5 3.5 2.5 3.5 2.4 3.5 2.5 3.5 2.5 3.4 2.4 .2 .1 3.3 2.4M52.6 181.1l2.1 .7M45.2 137l3.4 2.5 3.5 2.4 3.5 2.5 3.5 2.5 3.5 2.4 3.5 2.5 3.5 2.5 3.5 2.4 3.5 2.5 3.5 2.5 3.5 2.4 3.5 2.5 3.5 2.5 3.5 2.4 3.4 2.5 3.5 2.5 3.5 2.4 3.5 2.5 3.5 2.5 3.5 2.4 3.5 2.5 3.5 2.5 3.5 2.4 3.5 2.5 .2 .2M139.9 138.3l1.2 .4 .8 .3 2 .6 2 .6 2 .6 2 .6 2 .6 1.9 .5 2 .6 2 .5 2 .5 2 .6 2 .5 1.9 .4 2 .5 2 .5 2 .5 2 .4 2 .4 2 .5 1.9 .4 2 .4 2 .4 2 .3 2 .3 2.1 .4 2.2 .3 2.2 .2 2.4 .3 2.3 .3 2.5 .2 2.5 .2 2.6 .2 2.6 .2M227.5 135.5l1.9 .3 1.9 .3 1.9 .2 2 .3 1.9 .2 1.9 .2 2 .2 2.2 .1 2.3 .2 2.3 .1 2.6 .1 2.6 .1 2.8 .2 2.9 .1 3.1 .3 3.1 .4M237.1 126.9l1.9 .2 1.9 .2 1.9 .2 1.9 .1 2 .2 2 .1 2.1 .1 2.3 .1 2.4 .1 2.6 .1 2.7 .2 2.8 .2 3 .4 3.1 .6 3.2 1M233.2 131.5l2 .2 1.9 .3 1.9 .2 1.9 .2 1.9 .1 2.1 .2 2.1 .1 2.3 .1 2.4 .2 2.5 .1 2.7 .1 2.8 .2 2.9 .2 3.1 .4 3.2 .7M224.9 139.8l.7 .1 1.9 .3 1.9 .3 1.9 .2 2 .3 1.9 .2 2 .2 2.2 .2 2.2 .1 2.4 .2 2.5 .1 2.7 .1 2.7 .1 2.9 .1 3 .2 3.1 .2M40.3 139l3.5 2.5 3.5 2.4 3.5 2.5 3.5 2.5 3.5 2.4 3.5 2.5 3.5 2.5 3.4 2.4 3.5 2.5 3.5 2.5 3.5 2.4 3.5 2.5 3.5 2.5 3.5 2.4 3.5 2.5 3.5 2.5 3.5 2.4 3.5 2.5 3.5 2.5 3.5 2.4 3.5 2.5 3.5 2.5 3.4 2.4 3.5 2.5 3.5 2.5 .6 .3 2.9 2.1 3.5 2.5 3.5 2.5 3.5 2.4M242.8 122.1l1.9 .2 1.9 .1 2 .1 1.9 .1 2 .1 2.1 .1 2.3 0 2.5 .1 2.5 .1 2.7 .2 2.9 .3 3 .6 3.1 .9 3.3 1.5M280.9 122.2l-3.3-2.2-3.2-1.4-3-.7-2.9-.5-2.7-.2-2.6-.1-2.5-.1-2.3 0-2.1-.1-2 0-1.9 0-1.9-.1-1.9 0M140 142.8l1 .3 1 .3 2 .6 2 .6 2 .6 2 .5 1.9 .6 2 .5 2 .5 2 .6 2 .5 2 .5 2 .4 2 .5 2 .5 1.9 .4 2 .5 2 .4 2 .4 2 .4 2 .4 2 .3 2 .4 2.1 .3 2.2 .3 2.2 .3 2.3 .3 2.4 .3 2.4 .2 2.5 .3 2.5 .2 2.6 .3M221.7 142.3l3.4 2.4M225.1 144.4l.5 .1 1.9 .2 2 .3 1.9 .2 2 .3 2.1 .2 2.3 .1 2.4 .2 2.5 .1 2.6 .1 2.7 .1 2.9 .1 2.9 0 3.1 .2M280.9 157l-3.5-2.5-3.5-2.4-3.5-2.5-3.5-2.5-3.5-2.4-3.5-2.5M216.9 144.3l3.5 2.5 3.5 2.5 1 .7M62.9 184.5l2.1 .6M258.6 146.7l3.5 2.4 3.5 2.5 3.5 2.5 3.5 2.4 3.4 2.5M140.1 147.2l.7 .2 1.3 .4 2 .6 2 .5 2 .6 2 .5 1.9 .5 2 .5 2 .5 2 .5 2 .5 2 .5 2 .5 2 .4 2 .4 2 .5 2 .4 2 .4 2 .4 2 .4 2 .3 2.1 .3 2.2 .4 2.2 .3 2.2 .3 2.4 .3 2.4 .2 2.4 .3 2.5 .3 2.6 .3M223.7 148.6l1.3 .2M253.7 148.7l3.5 2.4 3.5 2.5 3.5 2.5 3.5 2.4 3.5 2.5M215.5 148.8l3.5 2.5 3.5 2.4 1.9 1.3M225.6 148.9l2 .2 2 .3 2.1 .2 2.3 .2 2.3 .1 2.5 .2 2.6 .1 2.7 0 2.8 .1 3 0 3 .1M210.7 150.8l3.5 2.5 3.4 2.4 3.5 2.5 2.4 1.7M221.8 152.6l2 .3M140.2 151.5l.2 .1 1.8 .5 2 .5 2 .6 2 .5 2 .5 2 .5 2 .5 2 .5 2 .5 2 .4 2 .5 2 .4 2 .5 2 .4 2 .4 2 .4 2 .4 2 .3 2.1 .4 2.1 .3 2.2 .3 2.3 .3 2.3 .3 2.4 .4 2.4 .3 2.5 .3 2.5 .4M205.8 152.8l3.5 2.5 3.5 2.4 3.5 2.5 3.5 2.5 2.5 1.8M252.4 153.1l3.5 2.5 3.5 2.5 3.5 2.4 3.5 2.5M225.8 153.1l2.1 .3 2.3 .2 2.3 .1 2.5 .2 2.5 .1 2.7 0 2.8 .1 2.9 0 3 0M138.3 155.3l1.5 .4 .5 .1 2 .5 2 .6 2 .5 2 .5 2 .5 2 .4 2 .5 2 .5 2 .4 2 .5 2 .4 2 .4 2 .5 2 .4 2 .3 2.1 .4 2.1 .4 2.1 .3 2.2 .3 2.2 .4 2.3 .3 2.4 .4 2.4 .3 2.4 .4 2.5 .4M247.5 155.1l3.5 2.5 3.5 2.5 3.5 2.4 3.5 2.5M222 156.8l2.1 .3 0 0M75.2 188.2l2.1 .6M242.7 157.1l3.5 2.5 3.5 2.5 3.5 2.4 3.4 2.5M204.5 157.3l3.4 2.4 3.5 2.5 3.5 2.5 3.5 2.4 2.5 1.8M138.4 159.5l.8 .2 1.2 .3 2 .5 2 .5 2.1 .5 2 .5 2 .5 2 .4 2 .5 2 .4 2 .5 2 .4 2 .4 2 .4 2 .4 2.1 .4 2.1 .3 2.1 .4 2.2 .4 2.2 .3 2.3 .4 2.3 .3 2.4 .4 2.4 .4 2.4 .5M199.6 159.3l3.5 2.4 3.5 2.5 3.5 2.5 3.5 2.4 3.5 2.5 2.3 1.6M226.3 157.3l2.4 .2 2.4 .1 2.6 .1 2.6 .1 2.8 0 2.9 0 3 0M241.3 161.6l3.5 2.5 3.5 2.4 3.5 2.5M223.2 161l-.7-.1M136.6 163.1l1.8 .5 .2 0 2 .5 2 .5 2 .5 2 .5 2 .4 2 .5 2.1 .4 2 .5 2 .4 2 .5 2 .4 2 .4 2.1 .3 2 .4 2.2 .4 2.1 .4 2.2 .3 2.3 .4 2.3 .4 2.3 .4 2.4 .5 2.4 .5M224.8 161.1l2.5 .1 2.5 .1 2.6 .1 2.8 .1 2.8 0 3 0M221 164.6l1.2 .1 1.2 .1 2.5 .1 2.6 .1 2.7 .1 2.9 0 2.9 0M236.5 163.6l3.5 2.5 3.5 2.4 3.5 2.5M198.2 163.7l3.5 2.5 3.5 2.5 3.5 2.4 3.5 2.5 3.5 2.5 2.1 1.4M193.4 165.7l3.5 2.5 3.5 2.5 3.5 2.4 3.5 2.5 3.5 2.5 3.5 2.4 1.8 1.3 1.6 1.2M136.7 167.3l.9 .2 1.1 .2 2.1 .5 2 .5 2 .5 2 .4 2 .5 2 .4 2 .4 2.1 .5 2 .4 2 .4 2 .4 2.1 .4 2.1 .4 2.2 .4 2.2 .4 2.2 .4 2.3 .4 2.3 .5 2.4 .5 2.3 .5M219.6 168.3l1.5 .1 1 0 2.5 .1 2.7 .1 2.8 0 2.9 0M188.5 167.7l3.5 2.5 3.5 2.5 3.5 2.4 3.5 2.5 3.5 2.5 3.5 2.4 3.5 2.5M132.9 170.4l2 .5M235.1 168.1l3.5 2.4 3.5 2.5M149 211.3l2 .4 2.1 .4 2 .4 2 .4 2.1 .3 2.1 .4 2.2 .4 2.1 .4 2.3 .4 2.2 .4 2.3 .5 2.3 .5 2.4 .5M136.6 171.3l.3 0 2 .5 2 .5 2.1 .4 2 .5 2 .4 2 .5 2 .4 2.1 .4 2 .4 2 .4 2.1 .4 2.1 .4 2.2 .4 2.1 .5 2.3 .4 2.2 .5 2.3 .5 2.3 .5 2.4 .6M154.9 208.6l2 .4 2 .4 2 .3 2.1 .4 2.1 .3 2.2 .4 2.2 .4 2.2 .3 2.3 .4 2.3 .5 2.4 .4 2.3 .5M230.3 170.1l3.5 2.4 3.4 2.5M218.2 171.9l1.7 .1 .8 0 2.7 .1 2.7 0 2.9 .1M160.7 205.9l2 .3 2.1 .4 2 .3 2.2 .4 2.1 .3 2.2 .4 2.3 .3 2.3 .4 2.3 .4 2.4 .4 2.4 .5M187.2 172.2l3.5 2.5 3.5 2.4 3.5 2.5 3.5 2.5 3.5 2.4 3.5 2.5M168.6 203.5l2.1 .3 2.1 .3 2.2 .3 2.2 .4 2.3 .3 2.3 .3 2.4 .4 2.4 .3 2.4 .5M174.5 200.6l2.1 .3 2.2 .3 2.2 .3 2.3 .3 2.4 .3 2.4 .4 2.4 .3 2.5 .4M180.4 197.7l2.2 .3 2.3 .3 2.3 .3 2.4 .3 2.4 .2 2.5 .3 2.5 .4M182.3 174.2l3.5 2.5 3.5 2.4 3.5 2.5 3.5 2.5 3.5 2.4 3.5 2.5M228.9 174.5l3.5 2.5M137.1 175.4l2 .4 2 .5 2.1 .4 2 .5 2 .4 2 .4 2.1 .4 2 .4 2.1 .5 2.1 .4 2.1 .4 2.2 .5 2.2 .4 2.2 .5 2.3 .6 2.2 .6 2.4 .6M224.1 176.5l3.5 2.5M219.5 175.6l2.7 0 2.8 .1M188.7 195.1l2.4 .2 2.4 .3 2.4 .2 2.5 .3 2.6 .3M280.9 84.8l-3.3-2.2-3.2-1.3M215.6 179l1.6 .1 1 0 2.8 .1M195 192l2.4 .3 2.5 .2 2.5 .2 2.6 .2M219.2 178.5l3.5 2.5M181 178.7l3.5 2.4 3.5 2.5 3.5 2.5 3.5 2.4 3.4 2.5M135.3 178.9l2 .4 2 .5 2.1 .4 2 .5 2 .4 2 .4 2.1 .5 2.1 .4 2.1 .4 2.1 .5 2.1 .5 2.2 .5 2.2 .5 2.2 .6 2.3 .6 2.3 .7M176.1 180.7l3.5 2.4 3.5 2.5 3.5 2.5 3.5 2.4 3.5 2.5M131.4 182l2 .4 .1 0 2 .5 2 .4 2.1 .5 2 .4 2 .4 2.1 .5 2 .4 2.1 .5 2.2 .5 2.1 .5 2.1 .5 2.2 .6 2.2 .6 2.2 .7 2.3 .7M214.3 182.5l1.6 .1 1.1 0M203.8 189.1l2.6 .2 2.6 .2M210.3 185.9l2.7 .2M171.3 182.7l3.5 2.4 3.5 2.5 3.5 2.5 3.5 2.4 3.5 2.5M129.6 185.5l2.1 .4 .6 .2 1.4 .3 2 .4 2.1 .5 2 .4 2.1 .5 2 .5 2.1 .4 2.1 .5 2.1 .6 2.2 .5 2.1 .7 2.2 .6 2.2 .7 2.2 .9M169.9 187.1l3.5 2.5 3.5 2.5 3.5 2.4 3.5 2.5M129.9 189.5l1.3 .2 .7 .2 2.1 .5 2 .4 2 .5 2.1 .5 2.1 .5 2.1 .5 2.1 .6 2.1 .6 2.1 .6 2.2 .7 2.1 .8 2.2 .9M165.1 189.1l3.5 2.5 3.5 2.5 3.5 2.4 3.4 2.5M126 192.5l2.1 .5M130 193.4l.1 .1 2.1 .4 2 .5 2.1 .5 2.1 .5 2 .6 2.1 .6 2.1 .6 2.1 .7 2.1 .7 2.2 .9 2.1 .9M163.7 193.6l3.5 2.5 3.5 2.4 3.5 2.5M158.9 195.6l3.5 2.5 3.5 2.4 3.5 2.5M154 197.6l3.5 2.5 3.5 2.4 3.5 2.5M130.4 197.5l2.1 .5 2 .6 2.1 .6 2.1 .6 2.1 .7 2 .7 2.1 .8 2.1 .8 2.1 1M143 242.8l2.1 1M152.7 202.1l3.5 2.4 3.4 2.5M147.8 204.1l3.5 2.4 3.5 2.5M143 206.1l3.5 2.4 3.5 2.5M138.9 204.5l2.1 .8" fill="none" stroke="#000" stroke-width="0.7" stroke-linejoin="round"/>
<line x1="40.3" y1="216.9" x2="40.3" y2="61.1" stroke="#262626" stroke-width="0.8"/>
<line x1="40.3" y1="216.9" x2="145.1" y2="290.9" stroke="#262626" stroke-width="0.8"/>
<line x1="145.1" y1="290.9" x2="280.9" y2="234.9" stroke="#262626" stroke-width="0.8"/>
<line x1="40.3" y1="216.9" x2="37.52" y2="214.94" stroke="#262626" stroke-width="0.8"/>
<text x="34.32" y="217.54" font-size="11.6" text-anchor="end">115</text>
<line x1="40.3" y1="177.95" x2="37.52" y2="175.99" stroke="#262626" stroke-width="0.8"/>
<text x="34.32" y="178.59" font-size="11.6" text-anchor="end">120</text>
<line x1="40.3" y1="139" x2="37.52" y2="137.04" stroke="#262626" stroke-width="0.8"/>
<text x="34.32" y="139.64" font-size="11.6" text-anchor="end">125</text>
<line x1="40.3" y1="100.05" x2="37.52" y2="98.09" stroke="#262626" stroke-width="0.8"/>
<text x="34.32" y="100.69" font-size="11.6" text-anchor="end">130</text>
<line x1="40.3" y1="61.1" x2="37.52" y2="59.14" stroke="#262626" stroke-width="0.8"/>
<text x="34.32" y="61.74" font-size="11.6" text-anchor="end">135</text>
<line x1="40.3" y1="216.9" x2="37.16" y2="218.2" stroke="#262626" stroke-width="0.8"/>
<text x="33.36" y="232.3" font-size="11.6" text-anchor="end">1</text>
<line x1="92.7" y1="253.9" x2="89.56" y2="255.2" stroke="#262626" stroke-width="0.8"/>
<text x="85.76" y="269.3" font-size="11.6" text-anchor="end">0.5</text>
<line x1="145.1" y1="290.9" x2="141.96" y2="292.2" stroke="#262626" stroke-width="0.8"/>
<text x="138.16" y="306.3" font-size="11.6" text-anchor="end">0</text>
<line x1="145.1" y1="290.9" x2="147.88" y2="292.86" stroke="#262626" stroke-width="0.8"/>
<text x="151.28" y="305.96" font-size="11.6" text-anchor="start">0.2</text>
<line x1="190.37" y1="272.23" x2="193.14" y2="274.19" stroke="#262626" stroke-width="0.8"/>
<text x="196.59" y="288.59" font-size="11.6" text-anchor="start">0.4</text>
<line x1="235.63" y1="253.57" x2="238.41" y2="255.53" stroke="#262626" stroke-width="0.8"/>
<text x="242.11" y="270.23" font-size="11.6" text-anchor="start">0.6</text>
<line x1="280.9" y1="234.9" x2="283.68" y2="236.86" stroke="#262626" stroke-width="0.8"/>
<text x="288.58" y="251.86" font-size="11.6" text-anchor="start">0.</text>
<text transform="translate(9.8,140.5) rotate(-90)" font-size="13.6" text-anchor="middle">Profit</text>
<text x="79.4" y="304" font-size="13.6" text-anchor="middle">λ</text>
<text x="219.6" y="307.8" font-size="13.6" text-anchor="middle" font-style="italic">k</text>
<line x1="250.9" y1="185.3" x2="225.64" y2="144.11" stroke="#111" stroke-width="0.85"/>
<polygon points="222.5,139 228.21,143.71 225.32,143.6 224.11,146.22" fill="#111"/>
<text x="251.9" y="195.3" font-size="8.2" text-anchor="start">π</text>
<text x="256.9" y="191.4" font-size="6.3" text-anchor="start" font-style="italic">MF</text>
<text x="256.9" y="198.9" font-size="6.3" text-anchor="start" font-style="italic">M</text>
<text x="268.3" y="195.3" font-size="8.2" text-anchor="start">(F=5)</text>
<line x1="233.1" y1="222.9" x2="207.94" y2="200.04" stroke="#111" stroke-width="0.85"/>
<polygon points="203.5,196 210.29,198.93 207.5,199.63 207.07,202.48" fill="#111"/>
<text x="237.4" y="232.9" font-size="8.0" text-anchor="start">π</text>
<text x="242.1" y="229.1" font-size="6.0" text-anchor="start" font-style="italic">MF</text>
<text x="242.1" y="236.7" font-size="6.0" text-anchor="start" font-style="italic">M</text>
<text x="253.6" y="232.9" font-size="8.0" text-anchor="start">(F=10)</text>
<rect x="209.3" y="0.3" width="69" height="60.8" fill="#fff" stroke="#262626" stroke-width="0.7"/>
<rect x="211.1" y="3.1" width="11.8" height="15.7" fill="#37b79b" stroke="#1a1a1a" stroke-width="0.6"/>
<text x="227" y="14.3" font-size="10.1" text-anchor="start">π</text>
<text x="233.6" y="8.9" font-size="7.6" text-anchor="start" font-style="italic">MI</text>
<text x="233.1" y="19.3" font-size="7.6" text-anchor="start" font-style="italic">R</text>
<rect x="211.1" y="23.1" width="11.8" height="15.7" fill="#7dbf7b" stroke="#1a1a1a" stroke-width="0.6"/>
<text x="224.3" y="35" font-size="10.1" text-anchor="start">π</text>
<text x="231.1" y="29.3" font-size="7.6" text-anchor="start" font-style="italic">MF</text>
<text x="230.7" y="38.9" font-size="7.6" text-anchor="start" font-style="italic">M</text>
<text x="245" y="35" font-size="10.1" text-anchor="start">(F=5)</text>
<rect x="211.1" y="43.1" width="11.8" height="15.6" fill="#039bce" stroke="#1a1a1a" stroke-width="0.6"/>
<text x="227.1" y="53.6" font-size="10.1" text-anchor="start">π</text>
<text x="233.3" y="48.6" font-size="7.6" text-anchor="start" font-style="italic">MF</text>
<text x="233.1" y="58.6" font-size="7.6" text-anchor="start" font-style="italic">M</text>
<text x="247.1" y="53.6" font-size="10.1" text-anchor="start">(F=10)</text>
<defs><linearGradient id="cbL" x1="0" y1="0" x2="0" y2="1"><stop offset="0" stop-color="#f9fb0e"/><stop offset="0.02" stop-color="#f6f313"/><stop offset="0.03" stop-color="#f5eb18"/><stop offset="0.05" stop-color="#f5e41d"/><stop offset="0.06" stop-color="#f5de21"/><stop offset="0.08" stop-color="#f7d826"/><stop offset="0.1" stop-color="#fad32a"/><stop offset="0.11" stop-color="#fcce2e"/><stop offset="0.13" stop-color="#fec832"/><stop offset="0.14" stop-color="#ffc337"/><stop offset="0.16" stop-color="#fdbe3d"/><stop offset="0.17" stop-color="#f8bb44"/><stop offset="0.19" stop-color="#f1b94a"/><stop offset="0.21" stop-color="#e9b94e"/><stop offset="0.22" stop-color="#e1b952"/><stop offset="0.24" stop-color="#d9ba56"/><stop offset="0.25" stop-color="#d1bb59"/><stop offset="0.27" stop-color="#c8bc5d"/><stop offset="0.29" stop-color="#c0bc60"/><stop offset="0.3" stop-color="#b7bd64"/><stop offset="0.32" stop-color="#aebe67"/><stop offset="0.33" stop-color="#a5be6b"/><stop offset="0.35" stop-color="#9cbf6f"/><stop offset="0.37" stop-color="#92bf73"/><stop offset="0.38" stop-color="#87bf77"/><stop offset="0.4" stop-color="#7cbf7b"/><stop offset="0.41" stop-color="#71bf80"/><stop offset="0.43" stop-color="#65be86"/><stop offset="0.44" stop-color="#59bd8c"/><stop offset="0.46" stop-color="#4dbc92"/><stop offset="0.48" stop-color="#42bb98"/><stop offset="0.49" stop-color="#38b99e"/><stop offset="0.51" stop-color="#2eb7a4"/><stop offset="0.52" stop-color="#25b5a9"/><stop offset="0.54" stop-color="#1db3af"/><stop offset="0.56" stop-color="#15b1b4"/><stop offset="0.57" stop-color="#0faeb9"/><stop offset="0.59" stop-color="#0aacbe"/><stop offset="0.6" stop-color="#07a9c2"/><stop offset="0.62" stop-color="#06a7c6"/><stop offset="0.63" stop-color="#06a4ca"/><stop offset="0.65" stop-color="#06a0cd"/><stop offset="0.67" stop-color="#079ccf"/><stop offset="0.68" stop-color="#0998d1"/><stop offset="0.7" stop-color="#0c93d2"/><stop offset="0.71" stop-color="#108ed2"/><stop offset="0.73" stop-color="#1389d3"/><stop offset="0.75" stop-color="#1485d4"/><stop offset="0.76" stop-color="#1481d6"/><stop offset="0.78" stop-color="#127dd8"/><stop offset="0.79" stop-color="#1079da"/><stop offset="0.81" stop-color="#0d75dc"/><stop offset="0.83" stop-color="#0871de"/><stop offset="0.84" stop-color="#046de0"/><stop offset="0.86" stop-color="#0268e1"/><stop offset="0.87" stop-color="#0363e1"/><stop offset="0.89" stop-color="#0f5cdd"/><stop offset="0.9" stop-color="#2053d4"/><stop offset="0.92" stop-color="#2c4ac7"/><stop offset="0.94" stop-color="#3243ba"/><stop offset="0.95" stop-color="#353dad"/><stop offset="0.97" stop-color="#3637a0"/><stop offset="0.98" stop-color="#363093"/><stop offset="1" stop-color="#352a87"/></linearGradient></defs>
<rect x="296.4" y="5.8" width="10.8" height="284.5" fill="url(#cbL)" stroke="#262626" stroke-width="0.7"/>
<line x1="304.4" y1="279.47" x2="307.2" y2="279.47" stroke="#262626" stroke-width="0.7"/>
<text x="311.2" y="283.07" font-size="10.9" text-anchor="start">116</text>
<line x1="304.4" y1="249.4" x2="307.2" y2="249.4" stroke="#262626" stroke-width="0.7"/>
<text x="311.2" y="253" font-size="10.9" text-anchor="start">118</text>
<line x1="304.4" y1="219.33" x2="307.2" y2="219.33" stroke="#262626" stroke-width="0.7"/>
<text x="311.2" y="222.93" font-size="10.9" text-anchor="start">120</text>
<line x1="304.4" y1="189.25" x2="307.2" y2="189.25" stroke="#262626" stroke-width="0.7"/>
<text x="311.2" y="192.85" font-size="10.9" text-anchor="start">122</text>
<line x1="304.4" y1="159.18" x2="307.2" y2="159.18" stroke="#262626" stroke-width="0.7"/>
<text x="311.2" y="162.78" font-size="10.9" text-anchor="start">124</text>
<line x1="304.4" y1="129.1" x2="307.2" y2="129.1" stroke="#262626" stroke-width="0.7"/>
<text x="311.2" y="132.7" font-size="10.9" text-anchor="start">126</text>
<line x1="304.4" y1="99.03" x2="307.2" y2="99.03" stroke="#262626" stroke-width="0.7"/>
<text x="311.2" y="102.63" font-size="10.9" text-anchor="start">128</text>
<line x1="304.4" y1="68.96" x2="307.2" y2="68.96" stroke="#262626" stroke-width="0.7"/>
<text x="311.2" y="72.56" font-size="10.9" text-anchor="start">130</text>
<line x1="304.4" y1="38.88" x2="307.2" y2="38.88" stroke="#262626" stroke-width="0.7"/>
<text x="311.2" y="42.48" font-size="10.9" text-anchor="start">132</text>
<line x1="304.4" y1="8.81" x2="307.2" y2="8.81" stroke="#262626" stroke-width="0.7"/>
<text x="311.2" y="12.41" font-size="10.9" text-anchor="start">134</text>
</g>
<g id="right">
<line x1="394.5" y1="217.2" x2="503" y2="291" stroke="#dcdcdc" stroke-width="0.6"/>
<line x1="441.03" y1="198.7" x2="549.53" y2="272.5" stroke="#dcdcdc" stroke-width="0.6"/>
<line x1="487.57" y1="180.2" x2="596.07" y2="254" stroke="#dcdcdc" stroke-width="0.6"/>
<line x1="534.1" y1="161.7" x2="642.6" y2="235.5" stroke="#dcdcdc" stroke-width="0.6"/>
<line x1="394.5" y1="217.2" x2="534.1" y2="161.7" stroke="#dcdcdc" stroke-width="0.6"/>
<line x1="448.75" y1="254.1" x2="588.35" y2="198.6" stroke="#dcdcdc" stroke-width="0.6"/>
<line x1="503" y1="291" x2="642.6" y2="235.5" stroke="#dcdcdc" stroke-width="0.6"/>
<line x1="394.5" y1="217.2" x2="394.5" y2="60.5" stroke="#dcdcdc" stroke-width="0.6"/>
<line x1="441.03" y1="198.7" x2="441.03" y2="42" stroke="#dcdcdc" stroke-width="0.6"/>
<line x1="487.57" y1="180.2" x2="487.57" y2="23.5" stroke="#dcdcdc" stroke-width="0.6"/>
<line x1="534.1" y1="161.7" x2="534.1" y2="5" stroke="#dcdcdc" stroke-width="0.6"/>
<line x1="394.5" y1="217.2" x2="534.1" y2="161.7" stroke="#dcdcdc" stroke-width="0.6"/>
<line x1="394.5" y1="185.86" x2="534.1" y2="130.36" stroke="#dcdcdc" stroke-width="0.6"/>
<line x1="394.5" y1="154.52" x2="534.1" y2="99.02" stroke="#dcdcdc" stroke-width="0.6"/>
<line x1="394.5" y1="123.18" x2="534.1" y2="67.68" stroke="#dcdcdc" stroke-width="0.6"/>
<line x1="394.5" y1="91.84" x2="534.1" y2="36.34" stroke="#dcdcdc" stroke-width="0.6"/>
<line x1="394.5" y1="60.5" x2="534.1" y2="5" stroke="#dcdcdc" stroke-width="0.6"/>
<line x1="534.1" y1="161.7" x2="534.1" y2="5" stroke="#dcdcdc" stroke-width="0.6"/>
<line x1="588.35" y1="198.6" x2="588.35" y2="41.9" stroke="#dcdcdc" stroke-width="0.6"/>
<line x1="642.6" y1="235.5" x2="642.6" y2="78.8" stroke="#dcdcdc" stroke-width="0.6"/>
<line x1="534.1" y1="161.7" x2="642.6" y2="235.5" stroke="#dcdcdc" stroke-width="0.6"/>
<line x1="534.1" y1="130.36" x2="642.6" y2="204.16" stroke="#dcdcdc" stroke-width="0.6"/>
<line x1="534.1" y1="99.02" x2="642.6" y2="172.82" stroke="#dcdcdc" stroke-width="0.6"/>
<line x1="534.1" y1="67.68" x2="642.6" y2="141.48" stroke="#dcdcdc" stroke-width="0.6"/>
<line x1="534.1" y1="36.34" x2="642.6" y2="110.14" stroke="#dcdcdc" stroke-width="0.6"/>
<line x1="534.1" y1="5" x2="642.6" y2="78.8" stroke="#dcdcdc" stroke-width="0.6"/>
<g stroke="#000" stroke-width="0.8" stroke-linejoin="round">
<path d="M528.3 31.4l3.2 1.5 5.8-3.8-3.2-1.4z" fill="#f8f810"/>
<path d="M522.5 35.1l3.1 1.5 5.9-3.7-3.2-1.5z" fill="#f6f114"/>
<path d="M531.5 32.9l3.2 1.8 5.9-3.7-3.3-1.9z" fill="#f9fa0e"/>
<path d="M516.6 38.7l3.2 1.5 5.8-3.6-3.1-1.5z" fill="#f5eb18"/>
<path d="M525.6 36.6l3.2 1.8 5.9-3.7-3.2-1.8z" fill="#f7f313"/>
<path d="M435.2 165.8l4.4 3 5.8-2.4-4.4-3.1z" fill="#3440b3"/>
<path d="M534.7 34.7l3.1 2.3 6-3.7-3.2-2.3z" fill="#f9fb0e"/>
<path d="M510.8 42.4l3.1 1.5 5.9-3.7-3.2-1.5z" fill="#f5e51c"/>
<path d="M519.8 40.2l3.1 1.9 5.9-3.7-3.2-1.8z" fill="#f5ed17"/>
<path d="M528.8 38.4l3.1 2.2 5.9-3.6-3.1-2.3z" fill="#f7f412"/>
<path d="M537.8 37l3.2 2.5 6-3.7-3.2-2.5z" fill="#f9fa0e"/>
<path d="M429.4 168.2l4.3 3.1 5.9-2.5-4.4-3z" fill="#343fb2"/>
<path d="M505 46l3 1.5 5.9-3.6-3.1-1.5z" fill="#f5e020"/>
<path d="M439.6 168.8l4.3 3.1 5.8-2.4-4.3-3.1z" fill="#3440b2"/>
<path d="M513.9 43.9l3.1 1.8 5.9-3.6-3.1-1.9z" fill="#f5e71b"/>
<path d="M522.9 42.1l3 2.2 6-3.7-3.1-2.2z" fill="#f5ed17"/>
<path d="M531.9 40.6l3.1 2.5 6-3.6-3.2-2.5z" fill="#f6f313"/>
<path d="M541 39.5l3.1 2.8 6-3.6-3.1-2.9z" fill="#f8f710"/>
<path d="M423.6 170.7l4.3 3 5.8-2.4-4.3-3.1z" fill="#343fb1"/>
<path d="M499.2 49.5l3 1.6 5.8-3.6-3-1.5z" fill="#f6dc23"/>
<path d="M508 47.5l3.1 1.8 5.9-3.6-3.1-1.8z" fill="#f5e21f"/>
<path d="M433.7 171.3l4.4 3.1 5.8-2.5-4.3-3.1z" fill="#343fb1"/>
<path d="M517 45.7l3 2.2 5.9-3.6-3-2.2z" fill="#f5e71b"/>
<path d="M525.9 44.3l3.1 2.5 6-3.7-3.1-2.5z" fill="#f5ec18"/>
<path d="M535 43.1l3.1 2.8 6-3.6-3.1-2.8z" fill="#f6f015"/>
<path d="M443.9 171.9l4.3 3.1 5.9-2.5-4.4-3z" fill="#343fb1"/>
<path d="M544.1 42.3l3.1 3 6-3.5-3.1-3.1z" fill="#f7f313"/>
<path d="M493.4 53l2.9 1.6 5.9-3.5-3-1.6z" fill="#f8d726"/>
<path d="M417.8 173.1l4.3 3.1 5.8-2.5-4.3-3z" fill="#343eb0"/>
<path d="M502.2 51.1l3 1.8 5.9-3.6-3.1-1.8z" fill="#f6dd22"/>
<path d="M511.1 49.3l3 2.2 5.9-3.6-3-2.2z" fill="#f5e21f"/>
<path d="M520 47.9l3 2.5 6-3.6-3.1-2.5z" fill="#f5e61c"/>
<path d="M427.9 173.7l4.4 3.1 5.8-2.4-4.4-3.1z" fill="#343eb0"/>
<path d="M529 46.8l3 2.7 6.1-3.6-3.1-2.8z" fill="#f5ea19"/>
<path d="M538.1 45.9l3 3 6.1-3.6-3.1-3z" fill="#f5ed17"/>
<path d="M547.2 45.3l3.1 3.2 6.1-3.5-3.2-3.2z" fill="#f5ee16"/>
<path d="M438.1 174.4l4.3 3 5.8-2.4-4.3-3.1z" fill="#343fb0"/>
<path d="M487.6 56.5l2.9 1.6 5.8-3.5-2.9-1.6z" fill="#f9d329"/>
<path d="M496.3 54.6l3 1.9 5.9-3.6-3-1.8z" fill="#f7d826"/>
<path d="M448.2 175l4.4 3 5.8-2.4-4.3-3.1z" fill="#343fb0"/>
<path d="M505.2 52.9l2.9 2.2 6-3.6-3-2.2z" fill="#f6dd22"/>
<path d="M514.1 51.5l2.9 2.4 6-3.5-3-2.5z" fill="#f5e11f"/>
<path d="M412 175.6l4.3 3 5.8-2.4-4.3-3.1z" fill="#353eaf"/>
<path d="M523 50.4l3 2.6 6-3.5-3-2.7z" fill="#f5e41d"/>
<path d="M532 49.5l3.1 2.9 6-3.5-3-3z" fill="#f5e71b"/>
<path d="M541.1 48.9l3.1 3.1 6.1-3.5-3.1-3.2z" fill="#f5e81a"/>
<path d="M550.3 48.5l3 3.3 6.2-3.4-3.1-3.4z" fill="#f5e919"/>
<path d="M422.1 176.2l4.3 3.1 5.9-2.5-4.4-3.1z" fill="#353eaf"/>
<path d="M481.8 60l2.8 1.6 5.9-3.5-2.9-1.6z" fill="#fbd02c"/>
<path d="M432.3 176.8l4.3 3.1 5.8-2.5-4.3-3z" fill="#353eaf"/>
<path d="M490.5 58.1l2.9 1.9 5.9-3.5-3-1.9z" fill="#f9d429"/>
<path d="M499.3 56.5l2.9 2.1 5.9-3.5-2.9-2.2z" fill="#f7d826"/>
<path d="M508.1 55.1l3 2.4 5.9-3.6-2.9-2.4z" fill="#f6dc23"/>
<path d="M517 53.9l3 2.7 6-3.6-3-2.6z" fill="#f5df21"/>
<path d="M526 53l3 2.9 6.1-3.5-3.1-2.9z" fill="#f5e11f"/>
<path d="M442.4 177.4l4.4 3.1 5.8-2.5-4.4-3z" fill="#343eaf"/>
<path d="M535.1 52.4l3 3.1 6.1-3.5-3.1-3.1z" fill="#f5e31e"/>
<path d="M553.3 51.8l3.1 3.5 6.1-3.4-3-3.5z" fill="#f5e41d"/>
<path d="M544.2 52l3 3.3 6.1-3.5-3-3.3z" fill="#f5e41d"/>
<path d="M406.1 178l4.4 3.1 5.8-2.5-4.3-3z" fill="#353dae"/>
<path d="M416.3 178.6l4.3 3.1 5.8-2.4-4.3-3.1z" fill="#353dae"/>
<path d="M475.9 63.5l2.8 1.6 5.9-3.5-2.8-1.6z" fill="#fdcc2f"/>
<path d="M484.6 61.6l2.9 1.9 5.9-3.5-2.9-1.9z" fill="#fbd02c"/>
<path d="M493.4 60l2.8 2.2 6-3.6-2.9-2.1z" fill="#f9d429"/>
<path d="M502.2 58.6l2.9 2.4 6-3.5-3-2.4z" fill="#f8d726"/>
<path d="M556.4 55.3l3 3.5 6.2-3.3-3.1-3.6z" fill="#f5de21"/>
<path d="M426.4 179.3l4.4 3.1 5.8-2.5-4.3-3.1z" fill="#353dae"/>
<path d="M511.1 57.5l2.9 2.6 6-3.5-3-2.7z" fill="#f7da24"/>
<path d="M547.2 55.3l3 3.3 6.2-3.3-3.1-3.5z" fill="#f5df21"/>
<path d="M520 56.6l2.9 2.8 6.1-3.5-3-2.9z" fill="#f6dc23"/>
<path d="M538.1 55.5l3 3.2 6.1-3.4-3-3.3z" fill="#f5df21"/>
<path d="M529 55.9l3 3 6.1-3.4-3-3.1z" fill="#f6de21"/>
<path d="M436.6 179.9l4.3 3.1 5.9-2.5-4.4-3.1z" fill="#353dae"/>
<path d="M400.3 180.4l4.4 3.1 5.8-2.4-4.4-3.1z" fill="#353dad"/>
<path d="M446.8 180.5l4.3 3.1 5.8-2.5-4.3-3.1z" fill="#353eae"/>
<path d="M470.1 66.9l2.8 1.7 5.8-3.5-2.8-1.6z" fill="#fec832"/>
<path d="M559.4 58.8l3 3.6 6.2-3.3-3-3.6z" fill="#f7d925"/>
<path d="M478.7 65.1l2.9 1.9 5.9-3.5-2.9-1.9z" fill="#fccc2f"/>
<path d="M410.5 181.1l4.3 3.1 5.8-2.5-4.3-3.1z" fill="#353dad"/>
<path d="M550.2 58.6l3 3.5 6.2-3.3-3-3.5z" fill="#f7da24"/>
<path d="M487.5 63.5l2.8 2.2 5.9-3.5-2.8-2.2z" fill="#fbd02c"/>
<path d="M541.1 58.7l2.9 3.3 6.2-3.4-3-3.3z" fill="#f7da24"/>
<path d="M496.2 62.2l2.9 2.3 6-3.5-2.9-2.4z" fill="#fad329"/>
<path d="M532 58.9l2.9 3.1 6.2-3.3-3-3.2z" fill="#f7da24"/>
<path d="M505.1 61l2.9 2.6 6-3.5-2.9-2.6z" fill="#f8d627"/>
<path d="M522.9 59.4l3 2.9 6.1-3.4-3-3z" fill="#f7d925"/>
<path d="M514 60.1l2.9 2.7 6-3.4-2.9-2.8z" fill="#f7d826"/>
<path d="M420.6 181.7l4.4 3.1 5.8-2.4-4.4-3.1z" fill="#353dad"/>
<path d="M430.8 182.4l4.3 3 5.8-2.4-4.3-3.1z" fill="#353dad"/>
<path d="M562.4 62.4l3 3.6 6.2-3.2-3-3.7z" fill="#f9d429"/>
<path d="M553.2 62.1l2.9 3.5 6.3-3.2-3-3.6z" fill="#f9d528"/>
<path d="M394.5 182.9l4.3 3.1 5.9-2.5-4.4-3.1z" fill="#353cac"/>
<path d="M544 62l3 3.3 6.2-3.2-3-3.5z" fill="#f8d627"/>
<path d="M534.9 62l3 3.3 6.1-3.3-2.9-3.3z" fill="#f8d627"/>
<path d="M525.9 62.3l2.9 3.1 6.1-3.4-2.9-3.1z" fill="#f8d627"/>
<path d="M464.3 70.3l2.7 1.7 5.9-3.4-2.8-1.7z" fill="#fec536"/>
<path d="M516.9 62.8l2.9 2.9 6.1-3.4-3-2.9z" fill="#f9d528"/>
<path d="M472.9 68.6l2.7 1.9 6-3.5-2.9-1.9z" fill="#fec932"/>
<path d="M481.6 67l2.7 2.1 6-3.4-2.8-2.2z" fill="#fdcc2f"/>
<path d="M508 63.6l2.8 2.7 6.1-3.5-2.9-2.7z" fill="#f9d429"/>
<path d="M490.3 65.7l2.8 2.3 6-3.5-2.9-2.3z" fill="#fbcf2d"/>
<path d="M499.1 64.5l2.8 2.5 6.1-3.4-2.9-2.6z" fill="#fad22b"/>
<path d="M440.9 183l4.4 3 5.8-2.4-4.3-3.1z" fill="#353dad"/>
<path d="M404.7 183.5l4.3 3.1 5.8-2.4-4.3-3.1z" fill="#353cab"/>
<path d="M451.1 183.6l4.3 3.1 5.9-2.5-4.4-3.1z" fill="#353dad"/>
<path d="M414.8 184.2l4.4 3.1 5.8-2.5-4.4-3.1z" fill="#353cab"/>
<path d="M565.4 66l2.9 3.6 6.3-3-3-3.8z" fill="#fbcf2d"/>
<path d="M556.1 65.6l3 3.5 6.3-3.1-3-3.6z" fill="#fbd02c"/>
<path d="M547 65.3l2.9 3.5 6.2-3.2-2.9-3.5z" fill="#fad12b"/>
<path d="M537.9 65.3l2.9 3.3 6.2-3.3-3-3.3z" fill="#fad22a"/>
<path d="M528.8 65.4l2.9 3.2 6.2-3.3-3-3.3z" fill="#fad22a"/>
<path d="M519.8 65.7l2.8 3 6.2-3.3-2.9-3.1z" fill="#fad22b"/>
<path d="M510.8 66.3l2.9 2.8 6.1-3.4-2.9-2.9z" fill="#fbd12b"/>
<path d="M425 184.8l4.3 3.1 5.8-2.5-4.3-3z" fill="#353cac"/>
<path d="M501.9 67l2.9 2.7 6-3.4-2.8-2.7z" fill="#fbd02c"/>
<path d="M493.1 68l2.8 2.5 6-3.5-2.8-2.5z" fill="#fcce2e"/>
<path d="M484.3 69.1l2.8 2.3 6-3.4-2.8-2.3z" fill="#fdcb30"/>
<path d="M475.6 70.5l2.8 2.1 5.9-3.5-2.7-2.1z" fill="#fec832"/>
<path d="M467 72l2.7 1.9 5.9-3.4-2.7-1.9z" fill="#fec536"/>
<path d="M458.5 73.6l2.7 1.8 5.8-3.4-2.7-1.7z" fill="#fec139"/>
<path d="M435.1 185.4l4.4 3.1 5.8-2.5-4.4-3z" fill="#353cac"/>
<path d="M568.3 69.6l3 3.7 6.3-3-3-3.7z" fill="#fdc931"/>
<path d="M559.1 69.1l2.9 3.6 6.3-3.1-2.9-3.6z" fill="#fdcb30"/>
<path d="M398.8 186l4.4 3.1 5.8-2.5-4.3-3.1z" fill="#353caa"/>
<path d="M549.9 68.8l2.9 3.5 6.3-3.2-3-3.5z" fill="#fccd2f"/>
<path d="M540.8 68.6l2.9 3.4 6.2-3.2-2.9-3.5z" fill="#fcce2e"/>
<path d="M445.3 186l4.3 3.1 5.8-2.4-4.3-3.1z" fill="#353dac"/>
<path d="M531.7 68.6l2.9 3.2 6.2-3.2-2.9-3.3z" fill="#fcce2d"/>
<path d="M522.6 68.7l2.9 3.1 6.2-3.2-2.9-3.2z" fill="#fcce2d"/>
<path d="M513.7 69.1l2.8 3 6.1-3.4-2.8-3z" fill="#fcce2e"/>
<path d="M409 186.6l4.3 3.1 5.9-2.4-4.4-3.1z" fill="#353caa"/>
<path d="M504.8 69.7l2.8 2.8 6.1-3.4-2.9-2.8z" fill="#fccd2e"/>
<path d="M495.9 70.5l2.8 2.6 6.1-3.4-2.9-2.7z" fill="#fdcc30"/>
<path d="M487.1 71.4l2.8 2.5 6-3.4-2.8-2.5z" fill="#fdca31"/>
<path d="M478.4 72.6l2.7 2.2 6-3.4-2.8-2.3z" fill="#fec733"/>
<path d="M455.4 186.7l4.4 3 5.8-2.5-4.3-3z" fill="#353dac"/>
<path d="M469.7 73.9l2.8 2.1 5.9-3.4-2.8-2.1z" fill="#ffc436"/>
<path d="M461.2 75.4l2.6 1.9 5.9-3.4-2.7-1.9z" fill="#fec139"/>
<path d="M452.7 77l2.6 1.8 5.9-3.4-2.7-1.8z" fill="#fdbe3d"/>
<path d="M571.3 73.3l2.9 3.7 6.3-2.9-2.9-3.8z" fill="#ffc436"/>
<path d="M419.2 187.3l4.3 3.1 5.8-2.5-4.3-3.1z" fill="#353caa"/>
<path d="M562 72.7l2.9 3.6 6.4-3-3-3.7z" fill="#fec634"/>
<path d="M552.8 72.3l2.9 3.5 6.3-3.1-2.9-3.6z" fill="#fec833"/>
<path d="M543.7 72l2.8 3.4 6.3-3.1-2.9-3.5z" fill="#fec932"/>
<path d="M429.3 187.9l4.3 3.1 5.9-2.5-4.4-3.1z" fill="#353cab"/>
<path d="M534.6 71.8l2.8 3.3 6.3-3.1-2.9-3.4z" fill="#fdca31"/>
<path d="M525.5 71.8l2.9 3.2 6.2-3.2-2.9-3.2z" fill="#fdca31"/>
<path d="M516.5 72.1l2.8 3 6.2-3.3-2.9-3.1z" fill="#fdca31"/>
<path d="M507.6 72.5l2.8 2.9 6.1-3.3-2.8-3z" fill="#fdca31"/>
<path d="M498.7 73.1l2.8 2.7 6.1-3.3-2.8-2.8z" fill="#fec932"/>
<path d="M489.9 73.9l2.7 2.5 6.1-3.3-2.8-2.6z" fill="#fec833"/>
<path d="M439.5 188.5l4.3 3.1 5.8-2.5-4.3-3.1z" fill="#353cab"/>
<path d="M481.1 74.8l2.8 2.5 6-3.4-2.8-2.5z" fill="#fec635"/>
<path d="M574.2 77l2.9 3.7 6.4-2.9-3-3.7z" fill="#febf3d"/>
<path d="M472.5 76l2.7 2.2 5.9-3.4-2.7-2.2z" fill="#ffc337"/>
<path d="M463.8 77.3l2.7 2.1 6-3.4-2.8-2.1z" fill="#fec13a"/>
<path d="M564.9 76.3l2.9 3.6 6.4-2.9-2.9-3.7z" fill="#fec13a"/>
<path d="M403.2 189.1l4.3 3.1 5.8-2.5-4.3-3.1z" fill="#353ba9"/>
<path d="M455.3 78.8l2.6 1.9 5.9-3.4-2.6-1.9z" fill="#fdbe3d"/>
<path d="M555.7 75.8l2.9 3.5 6.3-3-2.9-3.6z" fill="#ffc338"/>
<path d="M446.8 80.3l2.7 1.8 5.8-3.3-2.6-1.8z" fill="#fabc42"/>
<path d="M449.6 189.1l4.4 3.1 5.8-2.5-4.4-3z" fill="#353cab"/>
<path d="M546.5 75.4l2.9 3.4 6.3-3-2.9-3.5z" fill="#ffc436"/>
<path d="M537.4 75.1l2.9 3.4 6.2-3.1-2.8-3.4z" fill="#fec535"/>
<path d="M413.3 189.7l4.4 3.1 5.8-2.4-4.3-3.1z" fill="#353ba9"/>
<path d="M528.4 75l2.8 3.3 6.2-3.2-2.8-3.3z" fill="#fec634"/>
<path d="M519.3 75.1l2.8 3.1 6.3-3.2-2.9-3.2z" fill="#fec734"/>
<path d="M510.4 75.4l2.8 2.9 6.1-3.2-2.8-3z" fill="#fec734"/>
<path d="M501.5 75.8l2.7 2.9 6.2-3.3-2.8-2.9z" fill="#fec634"/>
<path d="M577.1 80.7l2.8 3.7 6.5-2.8-2.9-3.8z" fill="#f9bb44"/>
<path d="M492.6 76.4l2.8 2.7 6.1-3.3-2.8-2.7z" fill="#fec535"/>
<path d="M423.5 190.4l4.3 3.1 5.8-2.5-4.3-3.1z" fill="#353ba9"/>
<path d="M567.8 79.9l2.9 3.7 6.4-2.9-2.9-3.7z" fill="#fbbc40"/>
<path d="M483.9 77.3l2.7 2.5 6-3.4-2.7-2.5z" fill="#ffc437"/>
<path d="M475.2 78.2l2.6 2.4 6.1-3.3-2.8-2.5z" fill="#fec239"/>
<path d="M558.6 79.3l2.8 3.6 6.4-3-2.9-3.6z" fill="#fdbe3e"/>
<path d="M466.5 79.4l2.7 2.2 6-3.4-2.7-2.2z" fill="#fec03b"/>
<path d="M549.4 78.8l2.8 3.5 6.4-3-2.9-3.5z" fill="#fec03c"/>
<path d="M457.9 80.7l2.7 2.1 5.9-3.4-2.7-2.1z" fill="#fdbe3e"/>
<path d="M433.6 191l4.4 3.1 5.8-2.5-4.3-3.1z" fill="#353baa"/>
<path d="M540.3 78.5l2.8 3.3 6.3-3-2.9-3.4z" fill="#fec13a"/>
<path d="M449.5 82.1l2.5 1.9 5.9-3.3-2.6-1.9z" fill="#fabc42"/>
<path d="M531.2 78.3l2.8 3.2 6.3-3-2.9-3.4z" fill="#fec239"/>
<path d="M441 83.6l2.6 1.8 5.9-3.3-2.7-1.8z" fill="#f7ba45"/>
<path d="M522.1 78.2l2.8 3.2 6.3-3.1-2.8-3.3z" fill="#ffc338"/>
<path d="M579.9 84.4l2.9 3.7 6.4-2.7-2.8-3.8z" fill="#f1b94a"/>
<path d="M513.2 78.3l2.7 3.1 6.2-3.2-2.8-3.1z" fill="#ffc337"/>
<path d="M443.8 191.6l4.3 3.1 5.9-2.5-4.4-3.1z" fill="#353baa"/>
<path d="M504.2 78.7l2.8 2.9 6.2-3.3-2.8-2.9z" fill="#ffc338"/>
<path d="M570.7 83.6l2.8 3.6 6.4-2.8-2.8-3.7z" fill="#f5ba47"/>
<path d="M495.4 79.1l2.7 2.8 6.1-3.2-2.7-2.9z" fill="#ffc238"/>
<path d="M407.5 192.2l4.4 3.1 5.8-2.5-4.4-3.1z" fill="#353ba8"/>
<path d="M561.4 82.9l2.9 3.5 6.4-2.8-2.9-3.7z" fill="#f8ba44"/>
<path d="M486.6 79.8l2.7 2.6 6.1-3.3-2.8-2.7z" fill="#fec139"/>
<path d="M477.8 80.6l2.7 2.5 6.1-3.3-2.7-2.5z" fill="#fec03b"/>
<path d="M552.2 82.3l2.9 3.5 6.3-2.9-2.8-3.6z" fill="#fabc42"/>
<path d="M454 192.2l4.3 3.1 5.8-2.5-4.3-3.1z" fill="#353caa"/>
<path d="M469.2 81.6l2.6 2.4 6-3.4-2.6-2.4z" fill="#fdbe3d"/>
<path d="M543.1 81.8l2.8 3.4 6.3-2.9-2.8-3.5z" fill="#fcbd40"/>
<path d="M460.6 82.8l2.6 2.2 6-3.4-2.7-2.2z" fill="#fcbd40"/>
<path d="M417.7 192.8l4.3 3.1 5.8-2.4-4.3-3.1z" fill="#353ba8"/>
<path d="M534 81.5l2.8 3.3 6.3-3-2.8-3.3z" fill="#fdbe3e"/>
<path d="M452 84l2.6 2.1 6-3.3-2.7-2.1z" fill="#f9bb43"/>
<path d="M524.9 81.4l2.8 3.2 6.3-3.1-2.8-3.2z" fill="#febf3d"/>
<path d="M582.8 88.1l2.8 3.8 6.5-2.7-2.9-3.8z" fill="#e8b94f"/>
<path d="M443.6 85.4l2.5 2 5.9-3.4-2.5-1.9z" fill="#f6ba46"/>
<path d="M515.9 81.4l2.8 3.1 6.2-3.1-2.8-3.2z" fill="#febf3c"/>
<path d="M573.5 87.2l2.8 3.7 6.5-2.8-2.9-3.7z" fill="#edb94c"/>
<path d="M435.2 86.8l2.5 1.9 5.9-3.3-2.6-1.8z" fill="#f2b949"/>
<path d="M427.8 193.5l4.4 3 5.8-2.4-4.4-3.1z" fill="#353ba8"/>
<path d="M507 81.6l2.7 3 6.2-3.2-2.7-3.1z" fill="#fec03c"/>
<path d="M564.3 86.4l2.8 3.6 6.4-2.8-2.8-3.6z" fill="#f0b94a"/>
<path d="M498.1 81.9l2.7 2.9 6.2-3.2-2.8-2.9z" fill="#febf3c"/>
<path d="M489.3 82.4l2.7 2.8 6.1-3.3-2.7-2.8z" fill="#febf3c"/>
<path d="M555.1 85.8l2.8 3.5 6.4-2.9-2.9-3.5z" fill="#f4ba48"/>
<path d="M480.5 83.1l2.7 2.6 6.1-3.3-2.7-2.6z" fill="#fdbe3e"/>
<path d="M545.9 85.2l2.8 3.5 6.4-2.9-2.9-3.5z" fill="#f6ba45"/>
<path d="M438 194.1l4.3 3.1 5.8-2.5-4.3-3.1z" fill="#353ba9"/>
<path d="M471.8 84l2.7 2.4 6-3.3-2.7-2.5z" fill="#fcbd3f"/>
<path d="M536.8 84.8l2.8 3.4 6.3-3-2.8-3.4z" fill="#f9bb44"/>
<path d="M463.2 85l2.6 2.3 6-3.3-2.6-2.4z" fill="#fabc42"/>
<path d="M585.6 91.9l2.8 3.7 6.6-2.6-2.9-3.8z" fill="#dfba53"/>
<path d="M527.7 84.6l2.8 3.2 6.3-3-2.8-3.3z" fill="#fabc42"/>
<path d="M454.6 86.1l2.6 2.2 6-3.3-2.6-2.2z" fill="#f8ba44"/>
<path d="M576.3 90.9l2.8 3.7 6.5-2.7-2.8-3.8z" fill="#e4b951"/>
<path d="M518.7 84.5l2.7 3.1 6.3-3-2.8-3.2z" fill="#fbbc41"/>
<path d="M448.1 194.7l4.4 3.1 5.8-2.5-4.3-3.1z" fill="#353ba9"/>
<path d="M446.1 87.4l2.6 2 5.9-3.3-2.6-2.1z" fill="#f5ba47"/>
<path d="M509.7 84.6l2.8 3 6.2-3.1-2.8-3.1z" fill="#fbbd40"/>
<path d="M567.1 90l2.8 3.6 6.4-2.7-2.8-3.7z" fill="#e8b94e"/>
<path d="M411.9 195.3l4.3 3.1 5.8-2.5-4.3-3.1z" fill="#363aa7"/>
<path d="M437.7 88.7l2.5 2 5.9-3.3-2.5-2z" fill="#f1b949"/>
<path d="M500.8 84.8l2.7 2.9 6.2-3.1-2.7-3z" fill="#fbbd40"/>
<path d="M557.9 89.3l2.8 3.5 6.4-2.8-2.8-3.6z" fill="#ecb94c"/>
<path d="M492 85.2l2.7 2.8 6.1-3.2-2.7-2.9z" fill="#fbbd40"/>
<path d="M429.4 90l2.5 1.9 5.8-3.2-2.5-1.9z" fill="#eeb94b"/>
<path d="M458.3 195.3l4.3 3.1 5.9-2.5-4.4-3.1z" fill="#353ba9"/>
<path d="M548.7 88.7l2.8 3.4 6.4-2.8-2.8-3.5z" fill="#efb94a"/>
<path d="M483.2 85.7l2.6 2.7 6.2-3.2-2.7-2.8z" fill="#fbbc41"/>
<path d="M539.6 88.2l2.7 3.3 6.4-2.8-2.8-3.5z" fill="#f2b949"/>
<path d="M422 195.9l4.4 3.1 5.8-2.5-4.4-3z" fill="#363aa7"/>
<path d="M588.4 95.6l2.8 3.8 6.6-2.6-2.8-3.8z" fill="#d6ba57"/>
<path d="M474.5 86.4l2.6 2.6 6.1-3.3-2.7-2.6z" fill="#fabb42"/>
<path d="M530.5 87.8l2.7 3.3 6.4-2.9-2.8-3.4z" fill="#f4ba47"/>
<path d="M465.8 87.3l2.6 2.4 6.1-3.3-2.7-2.4z" fill="#f8ba44"/>
<path d="M579.1 94.6l2.8 3.6 6.5-2.6-2.8-3.7z" fill="#dbba55"/>
<path d="M521.4 87.6l2.8 3.2 6.3-3-2.8-3.2z" fill="#f6ba46"/>
<path d="M457.2 88.3l2.6 2.3 6-3.3-2.6-2.3z" fill="#f6ba46"/>
<path d="M569.9 93.6l2.8 3.6 6.4-2.6-2.8-3.7z" fill="#e0ba52"/>
<path d="M432.2 196.5l4.3 3.1 5.8-2.4-4.3-3.1z" fill="#363aa7"/>
<path d="M512.5 87.6l2.7 3.1 6.2-3.1-2.7-3.1z" fill="#f7ba45"/>
<path d="M448.7 89.4l2.5 2.2 6-3.3-2.6-2.2z" fill="#f3ba48"/>
<path d="M560.7 92.8l2.7 3.5 6.5-2.7-2.8-3.6z" fill="#e4b950"/>
<path d="M503.5 87.7l2.7 3 6.3-3.1-2.8-3z" fill="#f8ba44"/>
<path d="M440.2 90.7l2.5 2 6-3.3-2.6-2z" fill="#f0b94a"/>
<path d="M551.5 92.1l2.7 3.5 6.5-2.8-2.8-3.5z" fill="#e8b94f"/>
<path d="M494.7 88l2.6 2.8 6.2-3.1-2.7-2.9z" fill="#f8ba44"/>
<path d="M591.2 99.4l2.8 3.8 6.6-2.5-2.8-3.9z" fill="#cdbb5b"/>
<path d="M442.3 197.2l4.4 3 5.8-2.4-4.4-3.1z" fill="#353aa8"/>
<path d="M431.9 91.9l2.4 2 5.9-3.2-2.5-2z" fill="#edb94c"/>
<path d="M485.8 88.4l2.7 2.7 6.2-3.1-2.7-2.8z" fill="#f8ba45"/>
<path d="M542.3 91.5l2.8 3.4 6.4-2.8-2.8-3.4z" fill="#ebb94d"/>
<path d="M477.1 89l2.6 2.6 6.1-3.2-2.6-2.7z" fill="#f7ba45"/>
<path d="M581.9 98.2l2.8 3.8 6.5-2.6-2.8-3.8z" fill="#d2bb59"/>
<path d="M533.2 91.1l2.8 3.3 6.3-2.9-2.7-3.3z" fill="#eeb94b"/>
<path d="M423.6 93.2l2.4 2 5.9-3.3-2.5-1.9z" fill="#e9b94e"/>
<path d="M468.4 89.7l2.6 2.5 6.1-3.2-2.6-2.6z" fill="#f5ba46"/>
<path d="M524.2 90.8l2.7 3.2 6.3-2.9-2.7-3.3z" fill="#f0b94a"/>
<path d="M572.7 97.2l2.7 3.7 6.5-2.7-2.8-3.6z" fill="#d7ba56"/>
<path d="M452.5 197.8l4.3 3 5.8-2.4-4.3-3.1z" fill="#353aa8"/>
<path d="M459.8 90.6l2.5 2.4 6.1-3.3-2.6-2.4z" fill="#f3ba48"/>
<path d="M515.2 90.7l2.7 3.1 6.3-3-2.8-3.2z" fill="#f1b949"/>
<path d="M563.4 96.3l2.8 3.6 6.5-2.7-2.8-3.6z" fill="#dcba54"/>
<path d="M416.2 198.4l4.3 3.1 5.9-2.5-4.4-3.1z" fill="#3639a6"/>
<path d="M451.2 91.6l2.6 2.3 6-3.3-2.6-2.3z" fill="#f1b94a"/>
<path d="M506.2 90.7l2.7 3 6.3-3-2.7-3.1z" fill="#f3b948"/>
<path d="M554.2 95.6l2.8 3.5 6.4-2.8-2.7-3.5z" fill="#e0ba52"/>
<path d="M594 103.2l2.8 3.9 6.5-2.5-2.7-3.9z" fill="#c3bc5f"/>
<path d="M442.7 92.7l2.5 2.2 6-3.3-2.5-2.2z" fill="#eeb94b"/>
<path d="M497.3 90.8l2.7 2.9 6.2-3-2.7-3z" fill="#f3ba48"/>
<path d="M462.6 198.4l4.4 3 5.8-2.5-4.3-3z" fill="#353ba8"/>
<path d="M545.1 94.9l2.7 3.4 6.4-2.7-2.7-3.5z" fill="#e4b951"/>
<path d="M488.5 91.1l2.6 2.8 6.2-3.1-2.6-2.8z" fill="#f3ba48"/>
<path d="M584.7 102l2.8 3.7 6.5-2.5-2.8-3.8z" fill="#c9bc5c"/>
<path d="M434.3 93.9l2.5 2.1 5.9-3.3-2.5-2z" fill="#ebb94d"/>
<path d="M426.4 199l4.3 3.1 5.8-2.5-4.3-3.1z" fill="#363aa6"/>
<path d="M536 94.4l2.7 3.3 6.4-2.8-2.8-3.4z" fill="#e7b94f"/>
<path d="M479.7 91.6l2.6 2.7 6.2-3.2-2.7-2.7z" fill="#f3b948"/>
<path d="M575.4 100.9l2.8 3.6 6.5-2.5-2.8-3.8z" fill="#cebb5a"/>
<path d="M426 95.2l2.4 2 5.9-3.3-2.4-2z" fill="#e8b94f"/>
<path d="M526.9 94l2.7 3.3 6.4-2.9-2.8-3.3z" fill="#e9b94e"/>
<path d="M628.1 195.3l4.3 3 5.9-2.6-4.4-3z" fill="#3046be"/>
<path d="M471 92.2l2.6 2.6 6.1-3.2-2.6-2.6z" fill="#f2b949"/>
<path d="M566.2 99.9l2.7 3.6 6.5-2.6-2.7-3.7z" fill="#d4bb58"/>
<path d="M517.9 93.8l2.7 3.1 6.3-2.9-2.7-3.2z" fill="#ebb94d"/>
<path d="M436.5 199.6l4.4 3.1 5.8-2.5-4.4-3z" fill="#363aa6"/>
<path d="M462.3 93l2.6 2.4 6.1-3.2-2.6-2.5z" fill="#f0b94a"/>
<path d="M417.8 96.4l2.4 2 5.8-3.2-2.4-2z" fill="#e5b950"/>
<path d="M596.8 107.1l2.7 3.9 6.6-2.4-2.8-4z" fill="#b8bd63"/>
<path d="M508.9 93.7l2.7 3 6.3-2.9-2.7-3.1z" fill="#edb94c"/>
<path d="M557 99.1l2.7 3.5 6.5-2.7-2.8-3.6z" fill="#d8ba56"/>
<path d="M453.8 93.9l2.5 2.3 6-3.2-2.5-2.4z" fill="#eeb94b"/>
<path d="M500 93.7l2.6 3 6.3-3-2.7-3z" fill="#eeb94b"/>
<path d="M547.8 98.3l2.7 3.5 6.5-2.7-2.8-3.5z" fill="#dcba54"/>
<path d="M587.5 105.7l2.7 3.9 6.6-2.5-2.8-3.9z" fill="#bfbc60"/>
<path d="M445.2 94.9l2.5 2.2 6.1-3.2-2.6-2.3z" fill="#ecb94d"/>
<path d="M446.7 200.2l4.3 3.1 5.8-2.5-4.3-3z" fill="#363aa7"/>
<path d="M491.1 93.9l2.6 2.9 6.3-3.1-2.7-2.9z" fill="#eeb94b"/>
<path d="M538.7 97.7l2.7 3.4 6.4-2.8-2.7-3.4z" fill="#dfba53"/>
<path d="M578.2 104.5l2.7 3.8 6.6-2.6-2.8-3.7z" fill="#c5bc5e"/>
<path d="M436.8 96l2.5 2.2 5.9-3.3-2.5-2.2z" fill="#e9b94e"/>
<path d="M482.3 94.3l2.6 2.7 6.2-3.1-2.6-2.8z" fill="#eeb94b"/>
<path d="M529.6 97.3l2.7 3.2 6.4-2.8-2.7-3.3z" fill="#e2b951"/>
<path d="M568.9 103.5l2.7 3.6 6.6-2.6-2.8-3.6z" fill="#cbbb5c"/>
<path d="M428.4 97.2l2.5 2.1 5.9-3.3-2.5-2.1z" fill="#e6b950"/>
<path d="M473.6 94.8l2.5 2.6 6.2-3.1-2.6-2.7z" fill="#eeb94c"/>
<path d="M599.5 111l2.7 4 6.6-2.4-2.7-4z" fill="#acbe68"/>
<path d="M456.8 200.8l4.4 3.1 5.8-2.5-4.4-3z" fill="#363aa7"/>
<path d="M520.6 96.9l2.6 3.2 6.4-2.8-2.7-3.3z" fill="#e5b950"/>
<path d="M464.9 95.4l2.5 2.5 6.2-3.1-2.6-2.6z" fill="#ecb94c"/>
<path d="M559.7 102.6l2.7 3.5 6.5-2.6-2.7-3.6z" fill="#d0bb5a"/>
<path d="M511.6 96.7l2.6 3.1 6.4-2.9-2.7-3.1z" fill="#e7b94f"/>
<path d="M420.5 201.5l4.4 3.1 5.8-2.5-4.3-3.1z" fill="#3639a5"/>
<path d="M420.2 98.4l2.3 2 5.9-3.2-2.4-2z" fill="#e3b951"/>
<path d="M590.2 109.6l2.7 3.8 6.6-2.4-2.7-3.9z" fill="#b4bd65"/>
<path d="M456.3 96.2l2.5 2.4 6.1-3.2-2.6-2.4z" fill="#ebb94d"/>
<path d="M550.5 101.8l2.7 3.4 6.5-2.6-2.7-3.5z" fill="#d4bb58"/>
<path d="M502.6 96.7l2.7 3 6.3-3-2.7-3z" fill="#e8b94f"/>
<path d="M622.3 197.8l4.3 3 5.8-2.5-4.3-3z" fill="#3145bc"/>
<path d="M447.7 97.1l2.5 2.3 6.1-3.2-2.5-2.3z" fill="#e9b94e"/>
<path d="M580.9 108.3l2.7 3.7 6.6-2.4-2.7-3.9z" fill="#bbbd62"/>
<path d="M541.4 101.1l2.7 3.3 6.4-2.6-2.7-3.5z" fill="#d8ba56"/>
<path d="M412 99.5l2.3 2.1 5.9-3.2-2.4-2z" fill="#e1ba52"/>
<path d="M493.7 96.8l2.7 2.9 6.2-3-2.6-3z" fill="#e9b94e"/>
<path d="M430.7 202.1l4.3 3.1 5.9-2.5-4.4-3.1z" fill="#3639a5"/>
<path d="M439.3 98.2l2.4 2.2 6-3.3-2.5-2.2z" fill="#e6b94f"/>
<path d="M602.2 115l2.7 4.1 6.7-2.3-2.8-4.2z" fill="#a0be6d"/>
<path d="M532.3 100.5l2.7 3.3 6.4-2.7-2.7-3.4z" fill="#dbba55"/>
<path d="M484.9 97l2.6 2.8 6.2-3-2.6-2.9z" fill="#e9b94e"/>
<path d="M571.6 107.1l2.7 3.7 6.6-2.5-2.7-3.8z" fill="#c1bc5f"/>
<path d="M632.4 198.3l4.4 2.9 5.8-2.5-4.3-3z" fill="#3046be"/>
<path d="M476.1 97.4l2.6 2.7 6.2-3.1-2.6-2.7z" fill="#e9b94e"/>
<path d="M523.2 100.1l2.7 3.2 6.4-2.8-2.7-3.2z" fill="#deba53"/>
<path d="M430.9 99.3l2.4 2.1 6-3.2-2.5-2.2z" fill="#e4b951"/>
<path d="M562.4 106.1l2.7 3.6 6.5-2.6-2.7-3.6z" fill="#c7bc5d"/>
<path d="M592.9 113.4l2.7 4 6.6-2.4-2.7-4z" fill="#a9be69"/>
<path d="M440.9 202.7l4.3 3.1 5.8-2.5-4.3-3.1z" fill="#3639a5"/>
<path d="M467.4 97.9l2.6 2.6 6.1-3.1-2.5-2.6z" fill="#e9b94e"/>
<path d="M514.2 99.8l2.7 3.1 6.3-2.8-2.6-3.2z" fill="#e0ba52"/>
<path d="M553.2 105.2l2.7 3.5 6.5-2.6-2.7-3.5z" fill="#ccbb5b"/>
<path d="M422.5 100.4l2.4 2.1 6-3.2-2.5-2.1z" fill="#e1b952"/>
<path d="M458.8 98.6l2.5 2.5 6.1-3.2-2.5-2.5z" fill="#e7b94f"/>
<path d="M505.3 99.7l2.6 3 6.3-2.9-2.6-3.1z" fill="#e2b951"/>
<path d="M583.6 112l2.7 3.9 6.6-2.5-2.7-3.8z" fill="#b1bd66"/>
<path d="M544.1 104.4l2.6 3.4 6.5-2.6-2.7-3.4z" fill="#d0bb59"/>
<path d="M604.9 119.1l2.7 4.3 6.6-2.3-2.6-4.3z" fill="#92bf72"/>
<path d="M496.4 99.7l2.6 2.9 6.3-2.9-2.7-3z" fill="#e3b951"/>
<path d="M450.2 99.4l2.5 2.4 6.1-3.2-2.5-2.4z" fill="#e6b950"/>
<path d="M451 203.3l4.4 3.1 5.8-2.5-4.4-3.1z" fill="#3639a5"/>
<path d="M414.3 101.6l2.3 2 5.9-3.2-2.3-2z" fill="#dfba53"/>
<path d="M574.3 110.8l2.7 3.7 6.6-2.5-2.7-3.7z" fill="#b8bd63"/>
<path d="M535 103.8l2.6 3.3 6.5-2.7-2.7-3.3z" fill="#d4bb58"/>
<path d="M487.5 99.8l2.6 2.8 6.3-2.9-2.7-2.9z" fill="#e4b950"/>
<path d="M441.7 100.4l2.5 2.2 6-3.2-2.5-2.3z" fill="#e4b951"/>
<path d="M595.6 117.4l2.7 4.1 6.6-2.4-2.7-4.1z" fill="#9cbf6e"/>
<path d="M565.1 109.7l2.7 3.6 6.5-2.5-2.7-3.7z" fill="#bebc61"/>
<path d="M525.9 103.3l2.6 3.2 6.5-2.7-2.7-3.3z" fill="#d7ba57"/>
<path d="M478.7 100.1l2.6 2.7 6.2-3-2.6-2.8z" fill="#e5b950"/>
<path d="M406.1 102.6l2.3 2.1 5.9-3.1-2.3-2.1z" fill="#ddba54"/>
<path d="M616.5 200.4l4.3 3 5.8-2.6-4.3-3z" fill="#3244bb"/>
<path d="M433.3 101.4l2.4 2.2 6-3.2-2.4-2.2z" fill="#e1b952"/>
<path d="M461.2 203.9l4.3 3.1 5.8-2.5-4.3-3.1z" fill="#363aa6"/>
<path d="M516.9 102.9l2.6 3.2 6.4-2.8-2.7-3.2z" fill="#daba55"/>
<path d="M555.9 108.7l2.7 3.5 6.5-2.5-2.7-3.6z" fill="#c3bc5f"/>
<path d="M470 100.5l2.5 2.6 6.2-3-2.6-2.7z" fill="#e4b950"/>
<path d="M586.3 115.9l2.7 3.9 6.6-2.4-2.7-4z" fill="#a5be6b"/>
<path d="M607.6 123.4l2.6 4.3 6.7-2.2-2.7-4.4z" fill="#82bf79"/>
<path d="M424.9 204.6l4.3 3.1 5.8-2.5-4.3-3.1z" fill="#3638a4"/>
<path d="M424.9 102.5l2.4 2.1 6-3.2-2.4-2.1z" fill="#dfba53"/>
<path d="M507.9 102.7l2.6 3 6.4-2.8-2.7-3.1z" fill="#dcba54"/>
<path d="M461.3 101.1l2.5 2.5 6.2-3.1-2.6-2.6z" fill="#e4b951"/>
<path d="M546.7 107.8l2.7 3.5 6.5-2.6-2.7-3.5z" fill="#c8bc5d"/>
<path d="M577 114.5l2.7 3.8 6.6-2.4-2.7-3.9z" fill="#adbe68"/>
<path d="M626.6 200.8l4.4 3 5.8-2.6-4.4-2.9z" fill="#3145bc"/>
<path d="M499 102.6l2.5 2.9 6.4-2.8-2.6-3z" fill="#deba54"/>
<path d="M598.3 121.5l2.6 4.1 6.7-2.2-2.7-4.3z" fill="#8ebf74"/>
<path d="M452.7 101.8l2.5 2.4 6.1-3.1-2.5-2.5z" fill="#e2b951"/>
<path d="M537.6 107.1l2.7 3.4 6.4-2.7-2.6-3.4z" fill="#ccbb5b"/>
<path d="M416.6 103.6l2.4 2.1 5.9-3.2-2.4-2.1z" fill="#ddba54"/>
<path d="M435 205.2l4.4 3.1 5.8-2.5-4.3-3.1z" fill="#3638a4"/>
<path d="M490.1 102.6l2.5 2.9 6.4-2.9-2.6-2.9z" fill="#dfba53"/>
<path d="M567.8 113.3l2.6 3.6 6.6-2.4-2.7-3.7z" fill="#b4bd65"/>
<path d="M444.2 102.6l2.4 2.3 6.1-3.1-2.5-2.4z" fill="#e1ba52"/>
<path d="M610.2 127.7l2.7 4.5 6.7-2.2-2.7-4.5z" fill="#70bf81"/>
<path d="M528.5 106.5l2.7 3.3 6.4-2.7-2.6-3.3z" fill="#d0bb5a"/>
<path d="M589 119.8l2.6 4 6.7-2.3-2.7-4.1z" fill="#99bf70"/>
<path d="M481.3 102.8l2.5 2.8 6.3-3-2.6-2.8z" fill="#e0ba53"/>
<path d="M408.4 104.7l2.3 2.1 5.9-3.2-2.3-2z" fill="#daba55"/>
<path d="M558.6 112.2l2.6 3.6 6.6-2.5-2.7-3.6z" fill="#babd62"/>
<path d="M519.5 106.1l2.6 3.1 6.4-2.7-2.6-3.2z" fill="#d3bb58"/>
<path d="M435.7 103.6l2.4 2.2 6.1-3.2-2.5-2.2z" fill="#dfba53"/>
<path d="M394.5 116.3l2.2 2.1 5.9-3-2.3-2.2z" fill="#aebe67"/>
<path d="M445.2 205.8l4.3 3.1 5.9-2.5-4.4-3.1z" fill="#3639a4"/>
<path d="M472.5 103.1l2.5 2.7 6.3-3-2.6-2.7z" fill="#e0ba53"/>
<path d="M549.4 111.3l2.6 3.4 6.6-2.5-2.7-3.5z" fill="#bfbc60"/>
<path d="M510.5 105.7l2.6 3.1 6.4-2.7-2.6-3.2z" fill="#d5ba57"/>
<path d="M579.7 118.3l2.6 3.8 6.7-2.3-2.7-3.9z" fill="#a2be6c"/>
<path d="M600.9 125.6l2.6 4.3 6.7-2.2-2.6-4.3z" fill="#7fbf7a"/>
<path d="M427.3 104.6l2.4 2.2 6-3.2-2.4-2.2z" fill="#dcba54"/>
<path d="M463.8 103.6l2.5 2.6 6.2-3.1-2.5-2.6z" fill="#dfba53"/>
<path d="M400.3 105.7l2.3 2.1 5.8-3.1-2.3-2.1z" fill="#d9ba56"/>
<path d="M612.9 132.2l2.6 4.7 6.7-2.1-2.6-4.8z" fill="#5cbe8a"/>
<path d="M501.5 105.5l2.6 3 6.4-2.8-2.6-3z" fill="#d8ba56"/>
<path d="M540.3 110.5l2.6 3.3 6.5-2.5-2.7-3.5z" fill="#c4bc5e"/>
<path d="M610.7 203l4.3 3 5.8-2.6-4.3-3z" fill="#3243b9"/>
<path d="M570.4 116.9l2.7 3.8 6.6-2.4-2.7-3.8z" fill="#aabe69"/>
<path d="M455.2 104.2l2.4 2.5 6.2-3.1-2.5-2.5z" fill="#dfba53"/>
<path d="M455.4 206.4l4.3 3.1 5.8-2.5-4.3-3.1z" fill="#3639a4"/>
<path d="M419 105.7l2.3 2.1 6-3.2-2.4-2.1z" fill="#daba55"/>
<path d="M591.6 123.8l2.6 4.1 6.7-2.3-2.6-4.1z" fill="#8bbf75"/>
<path d="M492.6 105.5l2.6 2.9 6.3-2.9-2.5-2.9z" fill="#d9ba56"/>
<path d="M531.2 109.8l2.6 3.3 6.5-2.6-2.7-3.4z" fill="#c8bc5d"/>
<path d="M446.6 104.9l2.4 2.4 6.2-3.1-2.5-2.4z" fill="#ddba54"/>
<path d="M561.2 115.8l2.7 3.6 6.5-2.5-2.6-3.6z" fill="#b0bd66"/>
<path d="M603.5 129.9l2.7 4.5 6.7-2.2-2.7-4.5z" fill="#6dbf82"/>
<path d="M483.8 105.6l2.5 2.8 6.3-2.9-2.5-2.9z" fill="#daba55"/>
<path d="M633.2 183.7l2.4 6.8 6.9-1.3-2.5-6.9z" fill="#0b74dd"/>
<path d="M635.6 190.5l1.2 2.7 5.8-3.7-.1-.3z" fill="#0268e1"/>
<path d="M615.5 136.9l2.6 4.8 6.7-2-2.6-4.9z" fill="#47bb95"/>
<path d="M522.1 109.2l2.6 3.2 6.5-2.6-2.7-3.3z" fill="#ccbb5b"/>
<path d="M410.7 106.8l2.3 2.1 6-3.2-2.4-2.1z" fill="#d8ba56"/>
<path d="M396.7 118.4l2.2 2.2 5.9-3.1-2.2-2.1z" fill="#abbe69"/>
<path d="M582.3 122.1l2.7 4 6.6-2.3-2.6-4z" fill="#95bf71"/>
<path d="M620.8 203.4l4.4 3 5.8-2.6-4.4-3z" fill="#3244ba"/>
<path d="M438.1 105.8l2.4 2.3 6.1-3.2-2.4-2.3z" fill="#dcba54"/>
<path d="M465.5 207l4.3 3.1 5.9-2.5-4.4-3.1z" fill="#3639a5"/>
<path d="M552 114.7l2.7 3.6 6.5-2.5-2.6-3.6z" fill="#b6bd64"/>
<path d="M475 105.8l2.5 2.7 6.3-2.9-2.5-2.8z" fill="#dbba55"/>
<path d="M513.1 108.8l2.6 3.1 6.4-2.7-2.6-3.1z" fill="#cfbb5a"/>
<path d="M429.2 207.7l4.4 3.1 5.8-2.5-4.4-3.1z" fill="#3638a2"/>
<path d="M429.7 106.8l2.3 2.2 6.1-3.2-2.4-2.2z" fill="#daba55"/>
<path d="M594.2 127.9l2.7 4.2 6.6-2.2-2.6-4.3z" fill="#7bbf7c"/>
<path d="M466.3 106.2l2.5 2.6 6.2-3-2.5-2.7z" fill="#dbba55"/>
<path d="M573.1 120.7l2.6 3.8 6.6-2.4-2.6-3.8z" fill="#9ebe6d"/>
<path d="M402.6 107.8l2.2 2.1 5.9-3.1-2.3-2.1z" fill="#d6ba57"/>
<path d="M542.9 113.8l2.6 3.5 6.5-2.6-2.6-3.4z" fill="#bcbd62"/>
<path d="M504.1 108.5l2.6 3.1 6.4-2.8-2.6-3.1z" fill="#d1bb59"/>
<path d="M618.1 141.7l2.5 5.1 6.8-1.9-2.6-5.2z" fill="#32b8a1"/>
<path d="M606.2 134.4l2.6 4.6 6.7-2.1-2.6-4.7z" fill="#59bd8c"/>
<path d="M457.6 106.7l2.5 2.5 6.2-3-2.5-2.6z" fill="#dbba55"/>
<path d="M533.8 113.1l2.6 3.3 6.5-2.6-2.6-3.3z" fill="#c0bc60"/>
<path d="M421.3 107.8l2.3 2.1 6.1-3.1-2.4-2.2z" fill="#d8ba56"/>
<path d="M495.2 108.4l2.6 2.9 6.3-2.8-2.6-3z" fill="#d3bb58"/>
<path d="M563.9 119.4l2.6 3.7 6.6-2.4-2.7-3.8z" fill="#a6be6a"/>
<path d="M439.4 208.3l4.3 3.1 5.8-2.5-4.3-3.1z" fill="#3638a3"/>
<path d="M585 126.1l2.6 4.1 6.6-2.3-2.6-4.1z" fill="#87bf77"/>
<path d="M449 107.3l2.5 2.4 6.1-3-2.4-2.5z" fill="#daba55"/>
<path d="M394.5 108.8l2.2 2.1 5.9-3.1-2.3-2.1z" fill="#d5ba57"/>
<path d="M620.6 146.8l2.6 5.3 6.8-1.8-2.6-5.4z" fill="#20b4ad"/>
<path d="M524.7 112.4l2.6 3.3 6.5-2.6-2.6-3.3z" fill="#c4bc5e"/>
<path d="M486.3 108.4l2.6 2.8 6.3-2.8-2.6-2.9z" fill="#d5ba57"/>
<path d="M398.9 120.6l2.2 2.1 6-3.2-2.3-2z" fill="#a7be6a"/>
<path d="M413 108.9l2.3 2.1 6-3.2-2.3-2.1z" fill="#d5ba57"/>
<path d="M554.7 118.3l2.6 3.5 6.6-2.4-2.7-3.6z" fill="#adbe68"/>
<path d="M596.9 132.1l2.6 4.4 6.7-2.1-2.7-4.5z" fill="#69be84"/>
<path d="M608.8 139l2.5 4.8 6.8-2.1-2.6-4.8z" fill="#44bb97"/>
<path d="M440.5 108.1l2.4 2.3 6.1-3.1-2.4-2.4z" fill="#d8ba56"/>
<path d="M477.5 108.5l2.5 2.7 6.3-2.8-2.5-2.8z" fill="#d6ba57"/>
<path d="M515.7 111.9l2.6 3.2 6.4-2.7-2.6-3.2z" fill="#c8bc5d"/>
<path d="M575.7 124.5l2.6 3.9 6.7-2.3-2.7-4z" fill="#92bf72"/>
<path d="M626.4 185.2l2.4 6.6 6.8-1.3-2.4-6.8z" fill="#0c74dd"/>
<path d="M623.2 152.1l2.5 5.6 6.8-1.8-2.5-5.6z" fill="#10afb8"/>
<path d="M449.5 208.9l4.4 3.1 5.8-2.5-4.3-3.1z" fill="#3638a3"/>
<path d="M628.8 191.8l2.2 5.1 5.8-3.7-1.2-2.7z" fill="#0269e1"/>
<path d="M545.5 117.3l2.6 3.4 6.6-2.4-2.7-3.6z" fill="#b3bd65"/>
<path d="M404.8 109.9l2.3 2.1 5.9-3.1-2.3-2.1z" fill="#d3bb58"/>
<path d="M468.8 108.8l2.5 2.6 6.2-2.9-2.5-2.7z" fill="#d6ba57"/>
<path d="M432 109l2.4 2.2 6.1-3.1-2.4-2.3z" fill="#d7ba57"/>
<path d="M506.7 111.6l2.6 3 6.4-2.7-2.6-3.1z" fill="#cbbb5c"/>
<path d="M625.7 157.7l2.5 5.9 6.8-1.7-2.5-6z" fill="#06a9c3"/>
<path d="M587.6 130.2l2.6 4.2 6.7-2.3-2.7-4.2z" fill="#78bf7d"/>
<path d="M566.5 123.1l2.6 3.8 6.6-2.4-2.6-3.8z" fill="#9bbf6f"/>
<path d="M536.4 116.4l2.6 3.4 6.5-2.5-2.6-3.5z" fill="#b8bd63"/>
<path d="M611.3 143.8l2.6 5 6.7-2-2.5-5.1z" fill="#31b8a2"/>
<path d="M460.1 109.2l2.4 2.5 6.3-2.9-2.5-2.6z" fill="#d6ba57"/>
<path d="M497.8 111.3l2.5 3 6.4-2.7-2.6-3.1z" fill="#cdbb5b"/>
<path d="M599.5 136.5l2.5 4.6 6.8-2.1-2.6-4.6z" fill="#56bd8d"/>
<path d="M628.2 163.6l2.5 6.1 6.8-1.6-2.5-6.2z" fill="#06a1cd"/>
<path d="M423.6 109.9l2.4 2.2 6-3.1-2.3-2.2z" fill="#d5ba57"/>
<path d="M615 206l4.3 3 5.9-2.6-4.4-3z" fill="#3243b8"/>
<path d="M459.7 209.5l4.3 3.1 5.8-2.5-4.3-3.1z" fill="#3638a3"/>
<path d="M633.2 176.2l2.4 6.8 6.9-1.3-2.5-7z" fill="#1486d4"/>
<path d="M630.7 169.7l2.5 6.5 6.8-1.5-2.5-6.6z" fill="#0b94d2"/>
<path d="M635.6 183l1.2 2.7 5.8-3.7-.1-.3z" fill="#117ad9"/>
<path d="M527.3 115.7l2.6 3.3 6.5-2.6-2.6-3.3z" fill="#bcbd61"/>
<path d="M396.7 110.9l2.2 2.1 5.9-3.1-2.2-2.1z" fill="#d2bb59"/>
<path d="M557.3 121.8l2.6 3.7 6.6-2.4-2.6-3.7z" fill="#a2be6c"/>
<path d="M451.5 109.7l2.4 2.5 6.2-3-2.5-2.5z" fill="#d6ba57"/>
<path d="M488.9 111.2l2.5 2.9 6.4-2.8-2.6-2.9z" fill="#cfbb5a"/>
<path d="M578.3 128.4l2.6 4 6.7-2.2-2.6-4.1z" fill="#84bf78"/>
<path d="M401.1 122.7l2.3 2 5.9-3.1-2.2-2.1z" fill="#a4be6b"/>
<path d="M415.3 111l2.3 2.1 6-3.2-2.3-2.1z" fill="#d3bb58"/>
<path d="M613.9 148.8l2.5 5.2 6.8-1.9-2.6-5.3z" fill="#1fb3ae"/>
<path d="M518.3 115.1l2.5 3.2 6.5-2.6-2.6-3.3z" fill="#c0bc60"/>
<path d="M480 111.2l2.5 2.8 6.4-2.8-2.6-2.8z" fill="#d0bb59"/>
<path d="M442.9 110.4l2.4 2.4 6.2-3.1-2.5-2.4z" fill="#d5ba57"/>
<path d="M548.1 120.7l2.6 3.6 6.6-2.5-2.6-3.5z" fill="#a9be69"/>
<path d="M590.2 134.4l2.6 4.3 6.7-2.2-2.6-4.4z" fill="#66be85"/>
<path d="M469.8 210.1l4.4 3.1 5.8-2.5-4.3-3.1z" fill="#3639a4"/>
<path d="M602 141.1l2.6 4.7 6.7-2-2.5-4.8z" fill="#42bb98"/>
<path d="M569.1 126.9l2.6 3.8 6.6-2.3-2.6-3.9z" fill="#8ebf74"/>
<path d="M509.3 114.6l2.5 3.1 6.5-2.6-2.6-3.2z" fill="#c4bc5f"/>
<path d="M471.3 111.4l2.4 2.7 6.3-2.9-2.5-2.7z" fill="#d1bb59"/>
<path d="M407.1 112l2.2 2.1 6-3.1-2.3-2.1z" fill="#d1bb59"/>
<path d="M616.4 154l2.5 5.5 6.8-1.8-2.5-5.6z" fill="#0faeb9"/>
<path d="M433.6 210.8l4.3 3.1 5.8-2.5-4.3-3.1z" fill="#3637a1"/>
<path d="M434.4 111.2l2.4 2.3 6.1-3.1-2.4-2.3z" fill="#d3bb58"/>
<path d="M619.6 186.6l2.4 6.6 6.8-1.4-2.4-6.6z" fill="#0d75dc"/>
<path d="M539 119.8l2.6 3.4 6.5-2.5-2.6-3.4z" fill="#afbe67"/>
<path d="M622 193.2l2.4 5.5 5.1-.9 1.5-.9-2.2-5.1z" fill="#026ae1"/>
<path d="M500.3 114.3l2.5 3 6.5-2.7-2.6-3z" fill="#c7bc5d"/>
<path d="M462.5 111.7l2.5 2.6 6.3-2.9-2.5-2.6z" fill="#d2bb59"/>
<path d="M580.9 132.4l2.6 4.2 6.7-2.2-2.6-4.2z" fill="#74bf7f"/>
<path d="M559.9 125.5l2.6 3.7 6.6-2.3-2.6-3.8z" fill="#97bf70"/>
<path d="M618.9 159.5l2.5 5.8 6.8-1.7-2.5-5.9z" fill="#06a8c3"/>
<path d="M426 112.1l2.3 2.2 6.1-3.1-2.4-2.2z" fill="#d2bb59"/>
<path d="M529.9 119l2.6 3.3 6.5-2.5-2.6-3.4z" fill="#b4bd65"/>
<path d="M604.6 145.8l2.5 4.9 6.8-1.9-2.6-5z" fill="#2fb7a3"/>
<path d="M398.9 113l2.2 2.1 6-3.1-2.3-2.1z" fill="#cfbb5a"/>
<path d="M592.8 138.7l2.5 4.5 6.7-2.1-2.5-4.6z" fill="#53bd8f"/>
<path d="M491.4 114.1l2.5 2.9 6.4-2.7-2.5-3z" fill="#c9bc5c"/>
<path d="M621.4 165.3l2.5 6 6.8-1.6-2.5-6.1z" fill="#06a1cd"/>
<path d="M453.9 112.2l2.4 2.5 6.2-3-2.4-2.5z" fill="#d2bb59"/>
<path d="M443.7 211.4l4.4 3.1 5.8-2.5-4.4-3.1z" fill="#3637a2"/>
<path d="M403.4 124.7l2.2 2.1 6-3.1-2.3-2.1z" fill="#a1be6c"/>
<path d="M623.9 171.3l2.5 6.3 6.8-1.4-2.5-6.5z" fill="#0b95d2"/>
<path d="M550.7 124.3l2.6 3.6 6.6-2.4-2.6-3.7z" fill="#9fbe6d"/>
<path d="M520.8 118.3l2.6 3.2 6.5-2.5-2.6-3.3z" fill="#b9bd63"/>
<path d="M626.4 177.6l2.4 6.7 6.8-1.3-2.4-6.8z" fill="#1486d3"/>
<path d="M417.6 113.1l2.3 2.1 6.1-3.1-2.4-2.2z" fill="#d0bb5a"/>
<path d="M624.4 198.7l.8 1.7 4.3-2.6z" fill="#0f5cdd"/>
<path d="M571.7 130.7l2.6 4 6.6-2.3-2.6-4z" fill="#80bf7a"/>
<path d="M628.8 184.3l2.2 5 5.8-3.6-1.2-2.7z" fill="#127bd9"/>
<path d="M482.5 114l2.5 2.8 6.4-2.7-2.5-2.9z" fill="#cbbb5c"/>
<path d="M445.3 112.8l2.4 2.3 6.2-2.9-2.4-2.5z" fill="#d1bb59"/>
<path d="M607.1 150.7l2.6 5.2 6.7-1.9-2.5-5.2z" fill="#1db3ae"/>
<path d="M511.8 117.7l2.5 3.2 6.5-2.6-2.5-3.2z" fill="#bdbd61"/>
<path d="M541.6 123.2l2.5 3.5 6.6-2.4-2.6-3.6z" fill="#a6be6b"/>
<path d="M609.2 208.5l4.3 3 5.8-2.5-4.3-3z" fill="#3342b6"/>
<path d="M583.5 136.6l2.6 4.2 6.7-2.1-2.6-4.3z" fill="#62be87"/>
<path d="M473.7 114.1l2.5 2.7 6.3-2.8-2.5-2.8z" fill="#ccbb5b"/>
<path d="M453.9 212l4.3 3.1 5.8-2.5-4.3-3.1z" fill="#3638a2"/>
<path d="M409.3 114.1l2.3 2.1 6-3.1-2.3-2.1z" fill="#cebb5a"/>
<path d="M595.3 143.2l2.6 4.6 6.7-2-2.6-4.7z" fill="#3fba99"/>
<path d="M436.8 113.5l2.3 2.3 6.2-3-2.4-2.4z" fill="#d0bb59"/>
<path d="M562.5 129.2l2.5 3.8 6.7-2.3-2.6-3.8z" fill="#8bbf75"/>
<path d="M502.8 117.3l2.5 3 6.5-2.6-2.5-3.1z" fill="#c0bc60"/>
<path d="M609.7 155.9l2.5 5.4 6.7-1.8-2.5-5.5z" fill="#0faeb9"/>
<path d="M532.5 122.3l2.5 3.4 6.6-2.5-2.6-3.4z" fill="#abbe68"/>
<path d="M465 114.3l2.4 2.6 6.3-2.8-2.4-2.7z" fill="#cdbb5b"/>
<path d="M428.3 114.3l2.3 2.2 6.2-3-2.4-2.3z" fill="#cfbb5a"/>
<path d="M401.1 115.1l2.3 2.1 5.9-3.1-2.2-2.1z" fill="#ccbb5b"/>
<path d="M574.3 134.7l2.5 4.1 6.7-2.2-2.6-4.2z" fill="#71bf80"/>
<path d="M493.9 117l2.5 3 6.4-2.7-2.5-3z" fill="#c3bc5f"/>
<path d="M553.3 127.9l2.5 3.6 6.7-2.3-2.6-3.7z" fill="#94bf72"/>
<path d="M615.2 194.5l2.4 5.4 6.8-1.2-2.4-5.5z" fill="#036be1"/>
<path d="M464 212.6l4.4 3.1 5.8-2.5-4.4-3.1z" fill="#3638a2"/>
<path d="M612.2 161.3l2.4 5.6 6.8-1.6-2.5-5.8z" fill="#06a8c4"/>
<path d="M456.3 114.7l2.4 2.5 6.3-2.9-2.5-2.6z" fill="#cdbb5b"/>
<path d="M405.6 126.8l2.2 2.1 6-3.1-2.2-2.1z" fill="#9ebe6e"/>
<path d="M523.4 121.5l2.5 3.3 6.6-2.5-2.6-3.3z" fill="#b0bd66"/>
<path d="M597.9 147.8l2.5 4.9 6.7-2-2.5-4.9z" fill="#2db7a4"/>
<path d="M586.1 140.8l2.5 4.5 6.7-2.1-2.5-4.5z" fill="#50bc90"/>
<path d="M419.9 115.2l2.3 2.2 6.1-3.1-2.3-2.2z" fill="#cdbb5b"/>
<path d="M617.6 199.9l1.7 4 5.9-3.5-.8-1.7z" fill="#0c5ede"/>
<path d="M485 116.8l2.5 2.9 6.4-2.7-2.5-2.9z" fill="#c5bc5e"/>
<path d="M614.6 166.9l2.5 6 6.8-1.6-2.5-6z" fill="#06a1cd"/>
<path d="M447.7 115.1l2.4 2.5 6.2-2.9-2.4-2.5z" fill="#cdbb5b"/>
<path d="M544.1 126.7l2.6 3.5 6.6-2.3-2.6-3.6z" fill="#9bbf6f"/>
<path d="M514.3 120.9l2.6 3.1 6.5-2.5-2.6-3.2z" fill="#b5bd64"/>
<path d="M565 133l2.6 3.9 6.7-2.2-2.6-4z" fill="#7dbf7b"/>
<path d="M617.1 172.9l2.5 6.2 6.8-1.5-2.5-6.3z" fill="#0b95d2"/>
<path d="M619.6 179.1l2.4 6.5 6.8-1.3-2.4-6.7z" fill="#1487d3"/>
<path d="M476.2 116.8l2.5 2.8 6.3-2.8-2.5-2.8z" fill="#c7bc5d"/>
<path d="M622 185.6l2.4 5.6 5.1-1 1.5-.9-2.2-5z" fill="#127cd8"/>
<path d="M600.4 152.7l2.5 5.1 6.8-1.9-2.6-5.2z" fill="#1cb3af"/>
<path d="M411.6 116.2l2.2 2.1 6.1-3.1-2.3-2.1z" fill="#cbbb5c"/>
<path d="M439.1 115.8l2.4 2.3 6.2-3-2.4-2.3z" fill="#ccbb5b"/>
<path d="M505.3 120.3l2.6 3.1 6.4-2.5-2.5-3.2z" fill="#b9bd63"/>
<path d="M576.8 138.8l2.6 4.2 6.7-2.2-2.6-4.2z" fill="#5fbe88"/>
<path d="M535 125.7l2.5 3.4 6.6-2.4-2.5-3.5z" fill="#a2be6c"/>
<path d="M437.9 213.9l4.3 3.1 5.9-2.5-4.4-3.1z" fill="#3637a0"/>
<path d="M588.6 145.3l2.5 4.6 6.8-2.1-2.6-4.6z" fill="#3dba9b"/>
<path d="M467.4 116.9l2.5 2.7 6.3-2.8-2.5-2.7z" fill="#c8bc5d"/>
<path d="M555.8 131.5l2.6 3.8 6.6-2.3-2.5-3.8z" fill="#87bf77"/>
<path d="M430.6 116.5l2.3 2.3 6.2-3-2.3-2.3z" fill="#cbbb5b"/>
<path d="M496.4 120l2.5 3 6.4-2.7-2.5-3z" fill="#bcbd62"/>
<path d="M602.9 157.8l2.5 5.3 6.8-1.8-2.5-5.4z" fill="#0eaeba"/>
<path d="M403.4 117.2l2.2 2.1 6-3.1-2.3-2.1z" fill="#c9bb5c"/>
<path d="M525.9 124.8l2.5 3.3 6.6-2.4-2.5-3.4z" fill="#a8be6a"/>
<path d="M458.7 117.2l2.4 2.6 6.3-2.9-2.4-2.6z" fill="#c9bc5d"/>
<path d="M407.8 128.9l2.2 2.1 6.1-3.1-2.3-2.1z" fill="#9bbf6f"/>
<path d="M624.4 191.2l.8 1.7 4.3-2.7z" fill="#0b73dd"/>
<path d="M567.6 136.9l2.5 4.1 6.7-2.2-2.5-4.1z" fill="#6dbf82"/>
<path d="M603.4 211.1l4.3 3 5.8-2.6-4.3-3z" fill="#3341b4"/>
<path d="M546.7 130.2l2.5 3.7 6.6-2.4-2.5-3.6z" fill="#90bf73"/>
<path d="M487.5 119.7l2.5 2.9 6.4-2.6-2.5-3z" fill="#bfbc61"/>
<path d="M448.1 214.5l4.3 3.1 5.8-2.5-4.3-3.1z" fill="#3637a1"/>
<path d="M422.2 117.4l2.3 2.1 6.1-3-2.3-2.2z" fill="#cabb5c"/>
<path d="M605.4 163.1l2.4 5.5 6.8-1.7-2.4-5.6z" fill="#06a8c4"/>
<path d="M591.1 149.9l2.5 4.7 6.8-1.9-2.5-4.9z" fill="#2bb6a5"/>
<path d="M516.9 124l2.5 3.3 6.5-2.5-2.5-3.3z" fill="#adbe68"/>
<path d="M579.4 143l2.5 4.3 6.7-2-2.5-4.5z" fill="#4dbc92"/>
<path d="M608.3 195.8l2.4 5.3 6.9-1.2-2.4-5.4z" fill="#046ce0"/>
<path d="M450.1 117.6l2.3 2.5 6.3-2.9-2.4-2.5z" fill="#c9bc5c"/>
<path d="M478.7 119.6l2.4 2.8 6.4-2.7-2.5-2.9z" fill="#c1bc60"/>
<path d="M607.8 168.6l2.5 5.8 6.8-1.5-2.5-6z" fill="#06a1cd"/>
<path d="M537.5 129.1l2.6 3.5 6.6-2.4-2.6-3.5z" fill="#98bf70"/>
<path d="M413.8 118.3l2.3 2.1 6.1-3-2.3-2.2z" fill="#c8bc5d"/>
<path d="M558.4 135.3l2.5 3.9 6.7-2.3-2.6-3.9z" fill="#79bf7d"/>
<path d="M507.9 123.4l2.5 3.2 6.5-2.6-2.6-3.1z" fill="#b1bd66"/>
<path d="M441.5 118.1l2.3 2.4 6.3-2.9-2.4-2.5z" fill="#c8bc5d"/>
<path d="M610.7 201.1l2.4 5.3 2.8-.5 3.4-2-1.7-4z" fill="#095fdf"/>
<path d="M610.3 174.4l2.4 6.1 6.9-1.4-2.5-6.2z" fill="#0b96d1"/>
<path d="M458.2 215.1l4.4 3.1 5.8-2.5-4.4-3.1z" fill="#3637a1"/>
<path d="M593.6 154.6l2.5 5 6.8-1.8-2.5-5.1z" fill="#1bb2b0"/>
<path d="M612.7 180.5l2.5 6.4 6.8-1.3-2.4-6.5z" fill="#1388d3"/>
<path d="M469.9 119.6l2.4 2.7 6.4-2.7-2.5-2.8z" fill="#c2bc5f"/>
<path d="M570.1 141l2.5 4.1 6.8-2.1-2.6-4.2z" fill="#5cbe8a"/>
<path d="M528.4 128.1l2.6 3.4 6.5-2.4-2.5-3.4z" fill="#9ebe6d"/>
<path d="M498.9 123l2.5 3 6.5-2.6-2.6-3.1z" fill="#b5bd64"/>
<path d="M615.2 186.9l2.4 5.5 6.8-1.2-2.4-5.6z" fill="#137dd8"/>
<path d="M581.9 147.3l2.5 4.6 6.7-2-2.5-4.6z" fill="#3bb99c"/>
<path d="M432.9 118.8l2.4 2.2 6.2-2.9-2.4-2.3z" fill="#c8bc5d"/>
<path d="M405.6 119.3l2.2 2.1 6-3.1-2.2-2.1z" fill="#c6bc5d"/>
<path d="M549.2 133.9l2.5 3.7 6.7-2.3-2.6-3.8z" fill="#84bf78"/>
<path d="M461.1 119.8l2.4 2.6 6.4-2.8-2.5-2.7z" fill="#c4bc5f"/>
<path d="M410 131l2.2 2 6.1-2.9-2.2-2.2z" fill="#97bf70"/>
<path d="M617.6 192.4l1.7 4 5.9-3.5-.8-1.7z" fill="#0c74dd"/>
<path d="M596.1 159.6l2.5 5.2 6.8-1.7-2.5-5.3z" fill="#0eaeba"/>
<path d="M490 122.6l2.4 3 6.5-2.6-2.5-3z" fill="#b8bd63"/>
<path d="M519.4 127.3l2.5 3.3 6.5-2.5-2.5-3.3z" fill="#a4be6b"/>
<path d="M468.4 215.7l4.3 3.1 5.8-2.5-4.3-3.1z" fill="#3637a1"/>
<path d="M613.1 206.4l.4 .9 2.4-1.4z" fill="#284dcb"/>
<path d="M424.5 119.5l2.3 2.2 6.1-2.9-2.3-2.3z" fill="#c7bc5d"/>
<path d="M560.9 139.2l2.5 4 6.7-2.2-2.5-4.1z" fill="#6abe84"/>
<path d="M452.4 120.1l2.4 2.5 6.3-2.8-2.4-2.6z" fill="#c4bc5e"/>
<path d="M540.1 132.6l2.5 3.6 6.6-2.3-2.5-3.7z" fill="#8cbf75"/>
<path d="M481.1 122.4l2.5 2.9 6.4-2.7-2.5-2.9z" fill="#bbbd62"/>
<path d="M584.4 151.9l2.5 4.7 6.7-2-2.5-4.7z" fill="#2ab6a6"/>
<path d="M598.6 164.8l2.5 5.5 6.7-1.7-2.4-5.5z" fill="#06a8c4"/>
<path d="M572.6 145.1l2.6 4.3 6.7-2.1-2.5-4.3z" fill="#4abc93"/>
<path d="M510.4 126.6l2.5 3.2 6.5-2.5-2.5-3.3z" fill="#a9be69"/>
<path d="M416.1 120.4l2.2 2.1 6.2-3-2.3-2.1z" fill="#c5bc5e"/>
<path d="M443.8 120.5l2.4 2.4 6.2-2.8-2.3-2.5z" fill="#c4bc5e"/>
<path d="M531 131.5l2.5 3.5 6.6-2.4-2.6-3.5z" fill="#94bf72"/>
<path d="M472.3 122.3l2.4 2.8 6.4-2.7-2.4-2.8z" fill="#bdbd61"/>
<path d="M601.1 170.3l2.4 5.7 6.8-1.6-2.5-5.8z" fill="#06a1cd"/>
<path d="M551.7 137.6l2.6 3.8 6.6-2.2-2.5-3.9z" fill="#76bf7e"/>
<path d="M501.4 126l2.5 3.1 6.5-2.5-2.5-3.2z" fill="#adbe67"/>
<path d="M597.5 213.7l4.4 3 5.8-2.6-4.3-3z" fill="#3440b2"/>
<path d="M442.2 217l4.4 3.1 5.8-2.5-4.3-3.1z" fill="#36369f"/>
<path d="M603.9 202.4l2.3 5.2 6.9-1.2-2.4-5.3z" fill="#0661e0"/>
<path d="M603.5 176l2.4 6 6.8-1.5-2.4-6.1z" fill="#0a96d1"/>
<path d="M586.9 156.6l2.5 4.9 6.7-1.9-2.5-5z" fill="#1ab2b1"/>
<path d="M435.3 121l2.3 2.4 6.2-2.9-2.3-2.4z" fill="#c4bc5e"/>
<path d="M407.8 121.4l2.2 2 6.1-3-2.3-2.1z" fill="#c4bc5f"/>
<path d="M563.4 143.2l2.5 4.1 6.7-2.2-2.5-4.1z" fill="#59bd8c"/>
<path d="M605.9 182l2.4 6.3 6.9-1.4-2.5-6.4z" fill="#1388d3"/>
<path d="M463.5 122.4l2.4 2.6 6.4-2.7-2.4-2.7z" fill="#bebc61"/>
<path d="M412.2 133l2.2 2.2 6.2-3-2.3-2.1z" fill="#94bf72"/>
<path d="M521.9 130.6l2.5 3.3 6.6-2.4-2.6-3.4z" fill="#9bbf6f"/>
<path d="M575.2 149.4l2.4 4.5 6.8-2-2.5-4.6z" fill="#39b99d"/>
<path d="M492.4 125.6l2.5 3 6.5-2.6-2.5-3z" fill="#b1bd66"/>
<path d="M606.2 207.6l1.5 3.1 5.8-3.4-.4-.9z" fill="#2450cf"/>
<path d="M542.6 136.2l2.5 3.7 6.6-2.3-2.5-3.7z" fill="#80bf7a"/>
<path d="M608.3 188.3l2.4 5.3 6.9-1.2-2.4-5.5z" fill="#137ed7"/>
<path d="M426.8 121.7l2.3 2.3 6.2-3-2.4-2.2z" fill="#c3bc5f"/>
<path d="M454.8 122.6l2.4 2.5 6.3-2.7-2.4-2.6z" fill="#bfbc60"/>
<path d="M589.4 161.5l2.4 5.1 6.8-1.8-2.5-5.2z" fill="#0dadbb"/>
<path d="M512.9 129.8l2.4 3.2 6.6-2.4-2.5-3.3z" fill="#a0be6d"/>
<path d="M452.4 217.6l4.3 3.1 5.9-2.5-4.4-3.1z" fill="#36369f"/>
<path d="M483.6 125.3l2.4 2.8 6.4-2.5-2.4-3z" fill="#b4bd65"/>
<path d="M554.3 141.4l2.5 3.9 6.6-2.1-2.5-4z" fill="#66be85"/>
<path d="M610.7 193.6l2.4 5.3 2.8-.5 3.4-2-1.7-4z" fill="#0d75dc"/>
<path d="M533.5 135l2.5 3.5 6.6-2.3-2.5-3.6z" fill="#89bf76"/>
<path d="M418.3 122.5l2.3 2.2 6.2-3-2.3-2.2z" fill="#c2bc5f"/>
<path d="M446.2 122.9l2.3 2.5 6.3-2.8-2.4-2.5z" fill="#c0bc60"/>
<path d="M577.6 153.9l2.5 4.6 6.8-1.9-2.5-4.7z" fill="#28b6a7"/>
<path d="M565.9 147.3l2.5 4.2 6.8-2.1-2.6-4.3z" fill="#47bb95"/>
<path d="M474.7 125.1l2.4 2.8 6.5-2.6-2.5-2.9z" fill="#b7bd64"/>
<path d="M503.9 129.1l2.4 3.1 6.6-2.4-2.5-3.2z" fill="#a5be6b"/>
<path d="M591.8 166.6l2.5 5.4 6.8-1.7-2.5-5.5z" fill="#06a8c4"/>
<path d="M462.6 218.2l4.3 3.1 5.8-2.5-4.3-3.1z" fill="#3637a0"/>
<path d="M524.4 133.9l2.5 3.4 6.6-2.3-2.5-3.5z" fill="#90bf73"/>
<path d="M545.1 139.9l2.5 3.7 6.7-2.2-2.6-3.8z" fill="#72bf80"/>
<path d="M437.6 123.4l2.3 2.3 6.3-2.8-2.4-2.4z" fill="#c0bc60"/>
<path d="M410 123.4l2.2 2.1 6.1-3-2.2-2.1z" fill="#c1bc60"/>
<path d="M594.3 172l2.4 5.6 6.8-1.6-2.4-5.7z" fill="#06a1cd"/>
<path d="M465.9 125l2.4 2.7 6.4-2.6-2.4-2.8z" fill="#b9bd63"/>
<path d="M494.9 128.6l2.4 3 6.6-2.5-2.5-3.1z" fill="#aabe69"/>
<path d="M414.4 135.2l2.2 2.1 6.2-2.9-2.2-2.2z" fill="#90bf73"/>
<path d="M613.1 198.9l.4 .9 2.4-1.4z" fill="#046ce0"/>
<path d="M580.1 158.5l2.5 4.9 6.8-1.9-2.5-4.9z" fill="#19b2b1"/>
<path d="M556.8 145.3l2.4 4.1 6.7-2.1-2.5-4.1z" fill="#56bd8d"/>
<path d="M596.7 177.6l2.4 5.8 6.8-1.4-2.4-6z" fill="#0a96d1"/>
<path d="M597 203.6l2.4 5.1 6.8-1.1-2.3-5.2z" fill="#0363e1"/>
<path d="M429.1 124l2.2 2.2 6.3-2.8-2.3-2.4z" fill="#bfbc60"/>
<path d="M515.3 133l2.5 3.3 6.6-2.4-2.5-3.3z" fill="#97bf70"/>
<path d="M568.4 151.5l2.5 4.4 6.7-2-2.4-4.5z" fill="#36b99f"/>
<path d="M457.2 125.1l2.4 2.6 6.3-2.7-2.4-2.6z" fill="#babd62"/>
<path d="M599.1 183.4l2.4 6.2 6.8-1.3-2.4-6.3z" fill="#1389d3"/>
<path d="M486 128.1l2.4 3 6.5-2.5-2.5-3z" fill="#adbe68"/>
<path d="M536 138.5l2.5 3.6 6.6-2.2-2.5-3.7z" fill="#7cbf7b"/>
<path d="M472.7 218.8l4.3 3.1 5.9-2.6-4.4-3z" fill="#3637a0"/>
<path d="M591.7 216.2l4.4 3.1 5.8-2.6-4.4-3z" fill="#343fb0"/>
<path d="M601.5 189.6l2.4 5.2 6.8-1.2-2.4-5.3z" fill="#137fd7"/>
<path d="M582.6 163.4l2.4 5 6.8-1.8-2.4-5.1z" fill="#0dadbb"/>
<path d="M420.6 124.7l2.2 2.2 6.3-2.9-2.3-2.3z" fill="#bfbc61"/>
<path d="M506.3 132.2l2.5 3.2 6.5-2.4-2.4-3.2z" fill="#9dbf6e"/>
<path d="M448.5 125.4l2.3 2.5 6.4-2.8-2.4-2.5z" fill="#bbbd62"/>
<path d="M477.1 127.9l2.4 2.8 6.5-2.6-2.4-2.8z" fill="#b0bd66"/>
<path d="M547.6 143.6l2.5 3.9 6.7-2.2-2.5-3.9z" fill="#63be87"/>
<path d="M599.4 208.7l2.3 5.1 .9-.2 5.1-2.9-1.5-3.1z" fill="#2152d3"/>
<path d="M526.9 137.3l2.4 3.5 6.7-2.3-2.5-3.5z" fill="#85bf78"/>
<path d="M603.9 194.8l2.3 5.2 6.9-1.1-2.4-5.3z" fill="#0e76dc"/>
<path d="M570.9 155.9l2.5 4.6 6.7-2-2.5-4.6z" fill="#27b5a8"/>
<path d="M559.2 149.4l2.5 4.2 6.7-2.1-2.5-4.2z" fill="#45bb96"/>
<path d="M439.9 125.7l2.3 2.4 6.3-2.7-2.3-2.5z" fill="#bcbd62"/>
<path d="M497.3 131.6l2.5 3.1 6.5-2.5-2.4-3.1z" fill="#a2be6c"/>
<path d="M412.2 125.5l2.2 2.1 6.2-2.9-2.3-2.2z" fill="#bdbc61"/>
<path d="M585 168.4l2.5 5.3 6.8-1.7-2.5-5.4z" fill="#06a8c4"/>
<path d="M468.3 127.7l2.4 2.8 6.4-2.6-2.4-2.8z" fill="#b3bd65"/>
<path d="M416.6 137.3l2.3 2.2 6.2-2.9-2.3-2.2z" fill="#8cbf75"/>
<path d="M606.2 200l1.5 3.2 5.8-3.4-.4-.9z" fill="#056de0"/>
<path d="M446.6 220.1l4.3 3.1 5.8-2.5-4.3-3.1z" fill="#36369e"/>
<path d="M517.8 136.3l2.5 3.4 6.6-2.4-2.5-3.4z" fill="#8dbf75"/>
<path d="M538.5 142.1l2.4 3.8 6.7-2.3-2.5-3.7z" fill="#6ebf81"/>
<path d="M587.5 173.7l2.4 5.4 6.8-1.5-2.4-5.6z" fill="#06a1cd"/>
<path d="M431.3 126.2l2.3 2.4 6.3-2.9-2.3-2.3z" fill="#bcbd62"/>
<path d="M488.4 131.1l2.4 3 6.5-2.5-2.4-3z" fill="#a6be6a"/>
<path d="M459.6 127.7l2.3 2.7 6.4-2.7-2.4-2.7z" fill="#b5bd65"/>
<path d="M573.4 160.5l2.4 4.7 6.8-1.8-2.5-4.9z" fill="#18b1b2"/>
<path d="M601.7 213.8l.2 .3 .7-.5z" fill="#3342b7"/>
<path d="M550.1 147.5l2.4 4 6.7-2.1-2.4-4.1z" fill="#52bd8f"/>
<path d="M508.8 135.4l2.4 3.3 6.6-2.4-2.5-3.3z" fill="#93bf72"/>
<path d="M589.9 179.1l2.4 5.8 6.8-1.5-2.4-5.8z" fill="#0a97d1"/>
<path d="M561.7 153.6l2.5 4.3 6.7-2-2.5-4.4z" fill="#34b8a0"/>
<path d="M529.3 140.8l2.5 3.6 6.7-2.3-2.5-3.6z" fill="#79bf7d"/>
<path d="M479.5 130.7l2.4 2.9 6.5-2.5-2.4-3z" fill="#a9be69"/>
<path d="M422.8 126.9l2.3 2.2 6.2-2.9-2.2-2.2z" fill="#bbbd62"/>
<path d="M450.8 127.9l2.4 2.5 6.4-2.7-2.4-2.6z" fill="#b6bd64"/>
<path d="M590.2 204.8l2.4 5 6.8-1.1-2.4-5.1z" fill="#0364e1"/>
<path d="M456.7 220.7l4.4 3.1 5.8-2.5-4.3-3.1z" fill="#36369e"/>
<path d="M592.3 184.9l2.4 6 6.8-1.3-2.4-6.2z" fill="#138ad3"/>
<path d="M575.8 165.2l2.5 5 6.7-1.8-2.4-5z" fill="#0cadbc"/>
<path d="M499.8 134.7l2.4 3.1 6.6-2.4-2.5-3.2z" fill="#99bf70"/>
<path d="M594.7 190.9l2.3 5.2 6.9-1.3-2.4-5.2z" fill="#137fd6"/>
<path d="M540.9 145.9l2.5 3.8 6.7-2.2-2.5-3.9z" fill="#5fbe88"/>
<path d="M470.7 130.5l2.4 2.8 6.4-2.6-2.4-2.8z" fill="#acbe68"/>
<path d="M442.2 128.1l2.3 2.5 6.3-2.7-2.3-2.5z" fill="#b7bd64"/>
<path d="M592.6 209.8l2.3 5 6.8-1-2.3-5.1z" fill="#1c55d6"/>
<path d="M414.4 127.6l2.2 2.2 6.2-2.9-2.2-2.2z" fill="#babd62"/>
<path d="M520.3 139.7l2.4 3.4 6.6-2.3-2.4-3.5z" fill="#81bf79"/>
<path d="M418.9 139.5l2.2 2.2 6.2-2.8-2.2-2.3z" fill="#87bf77"/>
<path d="M564.2 157.9l2.4 4.5 6.8-1.9-2.5-4.6z" fill="#25b5a9"/>
<path d="M552.5 151.5l2.5 4.1 6.7-2-2.5-4.2z" fill="#42bb98"/>
<path d="M466.9 221.3l4.3 3.1 5.8-2.5-4.3-3.1z" fill="#36369f"/>
<path d="M594.9 214.8l1.2 2.5 5.8-3.2-.2-.3z" fill="#3145bc"/>
<path d="M597 196.1l2.4 5.1 6.8-1.2-2.3-5.2z" fill="#0f77db"/>
<path d="M490.8 134.1l2.5 3 6.5-2.4-2.5-3.1z" fill="#9ebe6e"/>
<path d="M578.3 170.2l2.4 5.1 6.8-1.6-2.5-5.3z" fill="#06a8c5"/>
<path d="M585.9 218.8l4.3 3 5.9-2.5-4.4-3.1z" fill="#353eae"/>
<path d="M461.9 130.4l2.4 2.7 6.4-2.6-2.4-2.8z" fill="#afbe67"/>
<path d="M433.6 128.6l2.3 2.3 6.3-2.8-2.3-2.4z" fill="#b7bd64"/>
<path d="M511.2 138.7l2.5 3.3 6.6-2.3-2.5-3.4z" fill="#89bf76"/>
<path d="M531.8 144.4l2.5 3.7 6.6-2.2-2.4-3.8z" fill="#6bbe83"/>
<path d="M481.9 133.6l2.4 3 6.5-2.5-2.4-3z" fill="#a2be6c"/>
<path d="M580.7 175.3l2.4 5.4 6.8-1.6-2.4-5.4z" fill="#06a1cc"/>
<path d="M453.2 130.4l2.3 2.6 6.4-2.6-2.3-2.7z" fill="#b1bd66"/>
<path d="M566.6 162.4l2.5 4.7 6.7-1.9-2.4-4.7z" fill="#17b1b3"/>
<path d="M425.1 129.1l2.2 2.3 6.3-2.8-2.3-2.4z" fill="#b7bd64"/>
<path d="M543.4 149.7l2.4 3.9 6.7-2.1-2.4-4z" fill="#4fbc90"/>
<path d="M599.4 201.2l2.3 5 .9-.1 5.1-2.9-1.5-3.2z" fill="#066fdf"/>
<path d="M477 221.9l4.4 3 5.8-2.5-4.3-3.1z" fill="#36369f"/>
<path d="M555 155.6l2.4 4.3 6.8-2-2.5-4.3z" fill="#32b8a1"/>
<path d="M502.2 137.8l2.4 3.3 6.6-2.4-2.4-3.3z" fill="#90bf73"/>
<path d="M522.7 143.1l2.5 3.6 6.6-2.3-2.5-3.6z" fill="#75bf7f"/>
<path d="M583.1 180.7l2.4 5.6 6.8-1.4-2.4-5.8z" fill="#0a97d1"/>
<path d="M473.1 133.3l2.4 2.8 6.4-2.5-2.4-2.9z" fill="#a6be6b"/>
<path d="M444.5 130.6l2.3 2.5 6.4-2.7-2.4-2.5z" fill="#b2bd66"/>
<path d="M416.6 129.8l2.3 2.1 6.2-2.8-2.3-2.2z" fill="#b7bd64"/>
<path d="M585.5 186.3l2.4 5.9 6.8-1.3-2.4-6z" fill="#128ad3"/>
<path d="M421.1 141.7l2.2 2.2 6.3-2.7-2.3-2.3z" fill="#82bf79"/>
<path d="M569.1 167.1l2.4 4.8 6.8-1.7-2.5-5z" fill="#0cadbc"/>
<path d="M493.3 137.1l2.4 3.2 6.5-2.5-2.4-3.1z" fill="#95bf71"/>
<path d="M534.3 148.1l2.4 3.8 6.7-2.2-2.5-3.8z" fill="#5cbe8a"/>
<path d="M513.7 142l2.4 3.4 6.6-2.3-2.4-3.4z" fill="#7ebf7b"/>
<path d="M464.3 133.1l2.3 2.7 6.5-2.5-2.4-2.8z" fill="#a9be69"/>
<path d="M587.9 192.2l2.3 5.1 6.8-1.2-2.3-5.2z" fill="#1480d6"/>
<path d="M435.9 130.9l2.3 2.4 6.3-2.7-2.3-2.5z" fill="#b3bd65"/>
<path d="M545.8 153.6l2.5 4.1 6.7-2.1-2.5-4.1z" fill="#40ba99"/>
<path d="M557.4 159.9l2.5 4.4 6.7-1.9-2.4-4.5z" fill="#24b5aa"/>
<path d="M601.7 206.2l.2 .3 .7-.4z" fill="#0265e1"/>
<path d="M585.7 211l2.3 4.9 6.9-1.1-2.3-5z" fill="#1757d9"/>
<path d="M450.9 223.2l4.4 3.1 5.8-2.5-4.4-3.1z" fill="#36359d"/>
<path d="M484.3 136.6l2.4 3 6.6-2.5-2.5-3z" fill="#9abf6f"/>
<path d="M571.5 171.9l2.4 5.1 6.8-1.7-2.4-5.1z" fill="#06a8c5"/>
<path d="M455.5 133l2.3 2.7 6.5-2.6-2.4-2.7z" fill="#abbe68"/>
<path d="M590.2 197.3l2.4 5 6.8-1.1-2.4-5.1z" fill="#0f78db"/>
<path d="M525.2 146.7l2.4 3.6 6.7-2.2-2.5-3.7z" fill="#67be85"/>
<path d="M504.6 141.1l2.5 3.3 6.6-2.4-2.5-3.3z" fill="#85bf78"/>
<path d="M427.3 131.4l2.3 2.3 6.3-2.8-2.3-2.3z" fill="#b3bd65"/>
<path d="M588 215.9l2.2 4.7 5.9-3.3-1.2-2.5z" fill="#2f47c0"/>
<path d="M475.5 136.1l2.3 3 6.5-2.5-2.4-3z" fill="#9ebe6d"/>
<path d="M573.9 177l2.4 5.3 6.8-1.6-2.4-5.4z" fill="#06a1cc"/>
<path d="M559.9 164.3l2.4 4.6 6.8-1.8-2.5-4.7z" fill="#16b1b4"/>
<path d="M536.7 151.9l2.4 3.9 6.7-2.2-2.4-3.9z" fill="#4cbc92"/>
<path d="M461.1 223.8l4.3 3.1 5.8-2.5-4.3-3.1z" fill="#36359d"/>
<path d="M446.8 133.1l2.3 2.6 6.4-2.7-2.3-2.6z" fill="#adbe68"/>
<path d="M592.6 202.3l2.3 5 6.8-1.1-2.3-5z" fill="#0770df"/>
<path d="M548.3 157.7l2.4 4.2 6.7-2-2.4-4.3z" fill="#30b8a2"/>
<path d="M580.1 221.4l4.3 3 5.8-2.6-4.3-3z" fill="#353dac"/>
<path d="M418.9 131.9l2.2 2.2 6.2-2.7-2.2-2.3z" fill="#b3bd65"/>
<path d="M495.7 140.3l2.4 3.1 6.5-2.3-2.4-3.3z" fill="#8cbf75"/>
<path d="M423.3 143.9l2.2 2.3 6.3-2.7-2.2-2.3z" fill="#7dbf7b"/>
<path d="M516.1 145.4l2.4 3.5 6.7-2.2-2.5-3.6z" fill="#71bf80"/>
<path d="M576.3 182.3l2.4 5.5 6.8-1.5-2.4-5.6z" fill="#0998d1"/>
<path d="M594.9 207.3l1.2 2.5 5.8-3.3-.2-.3z" fill="#0266e1"/>
<path d="M466.6 135.8l2.4 2.9 6.5-2.6-2.4-2.8z" fill="#a2be6c"/>
<path d="M438.2 133.3l2.2 2.5 6.4-2.7-2.3-2.5z" fill="#aebe67"/>
<path d="M578.7 187.8l2.3 5.7 6.9-1.3-2.4-5.9z" fill="#128bd2"/>
<path d="M562.3 168.9l2.4 4.8 6.8-1.8-2.4-4.8z" fill="#0badbc"/>
<path d="M527.6 150.3l2.4 3.7 6.7-2.1-2.4-3.8z" fill="#59bd8c"/>
<path d="M486.7 139.6l2.4 3.1 6.6-2.4-2.4-3.2z" fill="#92bf73"/>
<path d="M471.2 224.4l4.4 3.1 5.8-2.6-4.4-3z" fill="#36369e"/>
<path d="M507.1 144.4l2.4 3.3 6.6-2.3-2.4-3.4z" fill="#7abf7c"/>
<path d="M457.8 135.7l2.4 2.7 6.4-2.6-2.3-2.7z" fill="#a5be6b"/>
<path d="M539.1 155.8l2.5 4 6.7-2.1-2.5-4.1z" fill="#3dba9b"/>
<path d="M550.7 161.9l2.4 4.4 6.8-2-2.5-4.4z" fill="#22b4ab"/>
<path d="M581 193.5l2.4 5 6.8-1.2-2.3-5.1z" fill="#1481d6"/>
<path d="M429.6 133.7l2.2 2.3 6.4-2.7-2.3-2.4z" fill="#afbe67"/>
<path d="M477.8 139.1l2.4 2.9 6.5-2.4-2.4-3z" fill="#97bf71"/>
<path d="M578.9 212.1l2.3 4.9 6.8-1.1-2.3-4.9z" fill="#125adc"/>
<path d="M564.7 173.7l2.4 5 6.8-1.7-2.4-5.1z" fill="#06a7c5"/>
<path d="M518.5 148.9l2.4 3.6 6.7-2.2-2.4-3.6z" fill="#64be86"/>
<path d="M498.1 143.4l2.4 3.3 6.6-2.3-2.5-3.3z" fill="#82bf79"/>
<path d="M449.1 135.7l2.3 2.6 6.4-2.6-2.3-2.7z" fill="#a7be6a"/>
<path d="M583.4 198.5l2.3 5 6.9-1.2-2.4-5z" fill="#1079da"/>
<path d="M425.5 146.2l2.2 2.4 6.4-2.7-2.3-2.4z" fill="#77bf7d"/>
<path d="M421.1 134.1l2.2 2.3 6.3-2.7-2.3-2.3z" fill="#afbe67"/>
<path d="M581.2 217l2.3 4.8 6.1-.9 .6-.3-2.2-4.7z" fill="#2c49c5"/>
<path d="M530 154l2.4 3.9 6.7-2.1-2.4-3.9z" fill="#4abc94"/>
<path d="M469 138.7l2.3 2.8 6.5-2.4-2.3-3z" fill="#9bbf6f"/>
<path d="M553.1 166.3l2.4 4.5 6.8-1.9-2.4-4.6z" fill="#15b1b4"/>
<path d="M567.1 178.7l2.4 5.1 6.8-1.5-2.4-5.3z" fill="#06a1cc"/>
<path d="M541.6 159.8l2.4 4.1 6.7-2-2.4-4.2z" fill="#2fb7a3"/>
<path d="M440.4 135.8l2.3 2.5 6.4-2.6-2.3-2.6z" fill="#a9be69"/>
<path d="M489.1 142.7l2.4 3.1 6.6-2.4-2.4-3.1z" fill="#88bf76"/>
<path d="M509.5 147.7l2.4 3.5 6.6-2.3-2.4-3.5z" fill="#6ebf82"/>
<path d="M585.7 203.5l2.3 4.9 6.9-1.1-2.3-5z" fill="#0971de"/>
<path d="M569.5 183.8l2.3 5.4 6.9-1.4-2.4-5.5z" fill="#0998d1"/>
<path d="M460.2 138.4l2.3 2.8 6.5-2.5-2.4-2.9z" fill="#9ebe6e"/>
<path d="M431.8 136l2.3 2.4 6.3-2.6-2.2-2.5z" fill="#aabe69"/>
<path d="M520.9 152.5l2.4 3.7 6.7-2.2-2.4-3.7z" fill="#55bd8d"/>
<path d="M555.5 170.8l2.4 4.7 6.8-1.8-2.4-4.8z" fill="#0bacbd"/>
<path d="M588 208.4l2.2 4.6 5.9-3.2-1.2-2.5z" fill="#0268e1"/>
<path d="M480.2 142l2.4 3.1 6.5-2.4-2.4-3.1z" fill="#8ebf74"/>
<path d="M583.5 221.8l.9 1.9 5.2-2.8z" fill="#353cab"/>
<path d="M455.3 226.3l4.3 3.1 5.8-2.5-4.3-3.1z" fill="#36359c"/>
<path d="M571.8 189.2l2.4 5.6 6.8-1.3-2.3-5.7z" fill="#118cd2"/>
<path d="M500.5 146.7l2.4 3.3 6.6-2.3-2.4-3.3z" fill="#76bf7e"/>
<path d="M574.3 224l4.3 3 5.8-2.6-4.3-3z" fill="#353caa"/>
<path d="M532.4 157.9l2.4 3.9 6.8-2-2.5-4z" fill="#3bb99c"/>
<path d="M544 163.9l2.4 4.3 6.7-1.9-2.4-4.4z" fill="#21b4ac"/>
<path d="M451.4 138.3l2.3 2.6 6.5-2.5-2.4-2.7z" fill="#a1be6c"/>
<path d="M427.7 148.6l2.2 2.4 6.4-2.6-2.2-2.5z" fill="#71bf80"/>
<path d="M574.2 194.8l2.3 4.9 6.9-1.2-2.4-5z" fill="#1482d5"/>
<path d="M423.3 136.4l2.2 2.3 6.3-2.7-2.2-2.3z" fill="#abbe69"/>
<path d="M471.3 141.5l2.4 2.9 6.5-2.4-2.4-2.9z" fill="#93bf72"/>
<path d="M557.9 175.5l2.4 4.8 6.8-1.6-2.4-5z" fill="#06a7c5"/>
<path d="M511.9 151.2l2.4 3.5 6.6-2.2-2.4-3.6z" fill="#60be88"/>
<path d="M491.5 145.8l2.4 3.2 6.6-2.3-2.4-3.3z" fill="#7ebf7b"/>
<path d="M465.4 226.9l4.4 3.1 5.8-2.5-4.4-3.1z" fill="#36359c"/>
<path d="M442.7 138.3l2.3 2.5 6.4-2.5-2.3-2.6z" fill="#a3be6c"/>
<path d="M576.5 199.7l2.4 4.9 6.8-1.1-2.3-5z" fill="#117ad9"/>
<path d="M523.3 156.2l2.4 3.8 6.7-2.1-2.4-3.9z" fill="#47bb95"/>
<path d="M546.4 168.2l2.4 4.4 6.7-1.8-2.4-4.5z" fill="#14b0b5"/>
<path d="M462.5 141.2l2.3 2.8 6.5-2.5-2.3-2.8z" fill="#97bf70"/>
<path d="M560.3 180.3l2.4 5.1 6.8-1.6-2.4-5.1z" fill="#06a1cc"/>
<path d="M534.8 161.8l2.4 4.1 6.8-2-2.4-4.1z" fill="#2db7a5"/>
<path d="M482.6 145.1l2.3 3 6.6-2.3-2.4-3.1z" fill="#85bf78"/>
<path d="M502.9 150l2.3 3.4 6.7-2.2-2.4-3.5z" fill="#6abe83"/>
<path d="M574.3 218l2.3 4.8 6.9-1-2.3-4.8z" fill="#294cc9"/>
<path d="M434.1 138.4l2.2 2.5 6.4-2.6-2.3-2.5z" fill="#a5be6b"/>
<path d="M475.6 227.5l4.3 3.1 5.8-2.6-4.3-3.1z" fill="#36359d"/>
<path d="M578.9 204.6l2.3 4.9 6.8-1.1-2.3-4.9z" fill="#0a72de"/>
<path d="M562.7 185.4l2.3 5.2 6.8-1.4-2.3-5.4z" fill="#0998d1"/>
<path d="M453.7 140.9l2.3 2.7 6.5-2.4-2.3-2.8z" fill="#9abf6f"/>
<path d="M514.3 154.7l2.4 3.6 6.6-2.1-2.4-3.7z" fill="#52bd8f"/>
<path d="M576.6 222.8l2 4.1 5.8-3.2-.9-1.9z" fill="#343fb0"/>
<path d="M429.9 151l2.2 2.4 6.5-2.5-2.3-2.5z" fill="#6bbe83"/>
<path d="M548.8 172.6l2.3 4.6 6.8-1.7-2.4-4.7z" fill="#0aacbd"/>
<path d="M473.7 144.4l2.3 3 6.6-2.3-2.4-3.1z" fill="#8abf76"/>
<path d="M425.5 138.7l2.2 2.3 6.4-2.6-2.3-2.4z" fill="#a6be6a"/>
<path d="M493.9 149l2.3 3.3 6.7-2.3-2.4-3.3z" fill="#73bf7f"/>
<path d="M581.2 209.5l2.3 4.8 6.1-.9 .6-.4-2.2-4.6z" fill="#036ae1"/>
<path d="M565 190.6l2.4 5.5 6.8-1.3-2.4-5.6z" fill="#118dd2"/>
<path d="M525.7 160l2.4 3.9 6.7-2.1-2.4-3.9z" fill="#38b99d"/>
<path d="M537.2 165.9l2.4 4.2 6.8-1.9-2.4-4.3z" fill="#20b4ad"/>
<path d="M445 140.8l2.3 2.6 6.4-2.5-2.3-2.6z" fill="#9dbe6e"/>
<path d="M464.8 144l2.3 2.9 6.6-2.5-2.4-2.9z" fill="#8fbf74"/>
<path d="M505.2 153.4l2.4 3.5 6.7-2.2-2.4-3.5z" fill="#5dbe8a"/>
<path d="M567.4 196.1l2.3 4.9 6.8-1.3-2.3-4.9z" fill="#1483d5"/>
<path d="M551.1 177.2l2.4 4.8 6.8-1.7-2.4-4.8z" fill="#06a7c5"/>
<path d="M484.9 148.1l2.4 3.2 6.6-2.3-2.4-3.2z" fill="#7abf7c"/>
<path d="M436.3 140.9l2.3 2.5 6.4-2.6-2.3-2.5z" fill="#9fbe6d"/>
<path d="M516.7 158.3l2.3 3.8 6.7-2.1-2.4-3.8z" fill="#44bb97"/>
<path d="M583.5 214.3l.9 1.9 5.2-2.8z" fill="#0a5fdf"/>
<path d="M539.6 170.1l2.4 4.4 6.8-1.9-2.4-4.4z" fill="#14b0b6"/>
<path d="M456 143.6l2.3 2.8 6.5-2.4-2.3-2.8z" fill="#93bf72"/>
<path d="M528.1 163.9l2.4 4 6.7-2-2.4-4.1z" fill="#2bb6a6"/>
<path d="M569.7 201l2.3 4.8 6.9-1.2-2.4-4.9z" fill="#117bd9"/>
<path d="M553.5 182l2.4 4.9 6.8-1.5-2.4-5.1z" fill="#06a1cc"/>
<path d="M496.2 152.3l2.4 3.4 6.6-2.3-2.3-3.4z" fill="#66be85"/>
<path d="M476 147.4l2.3 3.1 6.6-2.4-2.3-3z" fill="#81bf79"/>
<path d="M432.1 153.4l2.3 2.6 6.4-2.5-2.2-2.6z" fill="#63be86"/>
<path d="M427.7 141l2.2 2.5 6.4-2.6-2.2-2.5z" fill="#a1be6c"/>
<path d="M459.6 229.4l4.3 3.1 5.9-2.5-4.4-3.1z" fill="#36349b"/>
<path d="M567.5 219.1l2.3 4.7 6.8-1-2.3-4.8z" fill="#254fce"/>
<path d="M447.3 143.4l2.2 2.7 6.5-2.5-2.3-2.7z" fill="#97bf71"/>
<path d="M507.6 156.9l2.4 3.6 6.7-2.2-2.4-3.6z" fill="#4fbc91"/>
<path d="M555.9 186.9l2.3 5.2 6.8-1.5-2.3-5.2z" fill="#0999d1"/>
<path d="M572 205.8l2.3 4.7 6.9-1-2.3-4.9z" fill="#0b74dd"/>
<path d="M542 174.5l2.4 4.5 6.7-1.8-2.3-4.6z" fill="#0aacbe"/>
<path d="M467.1 146.9l2.3 2.9 6.6-2.4-2.3-3z" fill="#87bf77"/>
<path d="M487.3 151.3l2.3 3.3 6.6-2.3-2.3-3.3z" fill="#6fbf81"/>
<path d="M519 162.1l2.4 3.8 6.7-2-2.4-3.9z" fill="#36b99f"/>
<path d="M530.5 167.9l2.4 4.1 6.7-1.9-2.4-4.2z" fill="#1eb3ae"/>
<path d="M569.8 223.8l2.3 4.6 4.7-.6 1.8-.9-2-4.1z" fill="#3341b5"/>
<path d="M558.2 192.1l2.3 5.3 6.9-1.3-2.4-5.5z" fill="#118ed2"/>
<path d="M469.8 230l4.3 3.1 5.8-2.5-4.3-3.1z" fill="#36349b"/>
<path d="M438.6 143.4l2.2 2.5 6.5-2.5-2.3-2.6z" fill="#99bf6f"/>
<path d="M574.3 210.5l2.3 4.8 6.9-1-2.3-4.8z" fill="#036be0"/>
<path d="M498.6 155.7l2.3 3.4 6.7-2.2-2.4-3.5z" fill="#59bd8b"/>
<path d="M458.3 146.4l2.3 2.9 6.5-2.4-2.3-2.9z" fill="#8bbf75"/>
<path d="M544.4 179l2.3 4.7 6.8-1.7-2.4-4.8z" fill="#06a7c5"/>
<path d="M478.3 150.5l2.4 3.1 6.6-2.3-2.4-3.2z" fill="#77bf7e"/>
<path d="M560.5 197.4l2.4 4.8 6.8-1.2-2.3-4.9z" fill="#1484d4"/>
<path d="M434.4 156l2.2 2.6 6.5-2.5-2.3-2.6z" fill="#5cbe8a"/>
<path d="M510 160.5l2.3 3.7 6.7-2.1-2.3-3.8z" fill="#41ba98"/>
<path d="M576.6 215.3l2 4 5.8-3.1-.9-1.9z" fill="#0661e0"/>
<path d="M429.9 143.5l2.2 2.4 6.5-2.5-2.3-2.5z" fill="#9cbf6f"/>
<path d="M532.9 172l2.3 4.3 6.8-1.8-2.4-4.4z" fill="#13b0b6"/>
<path d="M521.4 165.9l2.4 4 6.7-2-2.4-4z" fill="#29b6a7"/>
<path d="M572.1 228.4l.7 1.5 4-2.1z" fill="#36359d"/>
<path d="M479.9 230.6l4.4 3.1 5.8-2.6-4.4-3.1z" fill="#36359c"/>
<path d="M449.5 146.1l2.3 2.8 6.5-2.5-2.3-2.8z" fill="#8fbf73"/>
<path d="M489.6 154.6l2.3 3.3 6.7-2.2-2.4-3.4z" fill="#63be87"/>
<path d="M546.7 183.7l2.4 4.8 6.8-1.6-2.4-4.9z" fill="#06a1cc"/>
<path d="M469.4 149.8l2.3 3 6.6-2.3-2.3-3.1z" fill="#7dbf7b"/>
<path d="M562.9 202.2l2.3 4.7 6.8-1.1-2.3-4.8z" fill="#127cd8"/>
<path d="M562.6 229.1l4.4 3 5.8-2.5-4.3-3.1z" fill="#363aa6"/>
<path d="M500.9 159.1l2.4 3.5 6.7-2.1-2.4-3.6z" fill="#4cbc92"/>
<path d="M440.8 145.9l2.3 2.7 6.4-2.5-2.2-2.7z" fill="#93bf72"/>
<path d="M549.1 188.5l2.3 5 6.8-1.4-2.3-5.2z" fill="#0899d1"/>
<path d="M535.2 176.3l2.4 4.4 6.8-1.7-2.4-4.5z" fill="#0aacbe"/>
<path d="M460.6 149.3l2.3 2.9 6.5-2.4-2.3-2.9z" fill="#83bf79"/>
<path d="M480.7 153.6l2.3 3.2 6.6-2.2-2.3-3.3z" fill="#6bbf83"/>
<path d="M565.2 206.9l2.3 4.7 6.8-1.1-2.3-4.7z" fill="#0d75dc"/>
<path d="M512.3 164.2l2.4 3.8 6.7-2.1-2.4-3.8z" fill="#34b8a0"/>
<path d="M523.8 169.9l2.3 4.1 6.8-2-2.4-4.1z" fill="#1db3af"/>
<path d="M436.6 158.6l2.2 2.6 6.5-2.4-2.2-2.7z" fill="#54bd8e"/>
<path d="M551.4 193.5l2.3 5.2 6.8-1.3-2.3-5.3z" fill="#108ed2"/>
<path d="M562.9 224.8l2.3 4.6 6.9-1-2.3-4.6z" fill="#3244ba"/>
<path d="M432.1 145.9l2.3 2.5 6.4-2.5-2.2-2.5z" fill="#96bf71"/>
<path d="M491.9 157.9l2.4 3.4 6.6-2.2-2.3-3.4z" fill="#56bd8d"/>
<path d="M451.8 148.9l2.3 2.8 6.5-2.4-2.3-2.9z" fill="#88bf77"/>
<path d="M471.7 152.8l2.4 3.1 6.6-2.3-2.4-3.1z" fill="#73bf7f"/>
<path d="M537.6 180.7l2.3 4.6 6.8-1.6-2.3-4.7z" fill="#06a7c6"/>
<path d="M567.5 211.6l2.3 4.7 6.8-1-2.3-4.8z" fill="#046de0"/>
<path d="M503.3 162.6l2.3 3.7 6.7-2.1-2.3-3.7z" fill="#3fba9a"/>
<path d="M553.7 198.7l2.3 4.7 6.9-1.2-2.4-4.8z" fill="#1485d4"/>
<path d="M565.2 229.4l1.8 3.5 5.8-3-.7-1.5z" fill="#3638a2"/>
<path d="M526.1 174l2.4 4.2 6.7-1.9-2.3-4.3z" fill="#12afb7"/>
<path d="M514.7 168l2.3 3.9 6.8-2-2.4-4z" fill="#28b6a8"/>
<path d="M463.9 232.5l4.4 3.1 5.8-2.5-4.3-3.1z" fill="#36339a"/>
<path d="M483 156.8l2.3 3.3 6.6-2.2-2.3-3.3z" fill="#5fbe88"/>
<path d="M443.1 148.6l2.2 2.7 6.5-2.4-2.3-2.8z" fill="#8cbf75"/>
<path d="M569.8 216.3l2.3 4.6 4.7-.6 1.8-1-2-4z" fill="#0364e1"/>
<path d="M462.9 152.2l2.3 3 6.5-2.4-2.3-3z" fill="#79bf7d"/>
<path d="M539.9 185.3l2.4 4.8 6.8-1.6-2.4-4.8z" fill="#06a1cc"/>
<path d="M438.8 161.2l2.2 2.7 6.5-2.3-2.2-2.8z" fill="#4bbc93"/>
<path d="M556 203.4l2.3 4.6 6.9-1.1-2.3-4.7z" fill="#137dd8"/>
<path d="M494.3 161.3l2.3 3.5 6.7-2.2-2.4-3.5z" fill="#49bc94"/>
<path d="M434.4 148.4l2.2 2.6 6.5-2.4-2.3-2.7z" fill="#8fbf74"/>
<path d="M528.5 178.2l2.3 4.3 6.8-1.8-2.4-4.4z" fill="#09abbe"/>
<path d="M474.1 155.9l2.3 3.2 6.6-2.3-2.3-3.2z" fill="#68be84"/>
<path d="M542.3 190.1l2.3 4.9 6.8-1.5-2.3-5z" fill="#0899d1"/>
<path d="M474.1 233.1l4.3 3.1 5.9-2.5-4.4-3.1z" fill="#36349a"/>
<path d="M454.1 151.7l2.2 2.8 6.6-2.3-2.3-2.9z" fill="#7fbf7a"/>
<path d="M505.6 166.3l2.4 3.7 6.7-2-2.4-3.8z" fill="#32b8a1"/>
<path d="M517 171.9l2.4 4 6.7-1.9-2.3-4.1z" fill="#1cb3b0"/>
<path d="M558.3 208l2.3 4.7 6.9-1.1-2.3-4.7z" fill="#0e76dc"/>
<path d="M572.1 220.9l.7 1.5 4-2.1z" fill="#1b55d7"/>
<path d="M556.8 231.7l4.4 3 5.8-2.6-4.4-3z" fill="#3639a4"/>
<path d="M485.3 160.1l2.3 3.4 6.7-2.2-2.4-3.4z" fill="#53bd8f"/>
<path d="M544.6 195l2.3 5 6.8-1.3-2.3-5.2z" fill="#108fd2"/>
<path d="M445.3 151.3l2.2 2.7 6.6-2.3-2.3-2.8z" fill="#84bf78"/>
<path d="M465.2 155.2l2.3 3 6.6-2.3-2.4-3.1z" fill="#6fbf81"/>
<path d="M530.8 182.5l2.3 4.5 6.8-1.7-2.3-4.6z" fill="#06a7c6"/>
<path d="M556.1 225.8l2.2 4.5 6.9-.9-2.3-4.6z" fill="#2f46bf"/>
<path d="M484.3 233.7l4.3 3 5.8-2.5-4.3-3.1z" fill="#36349b"/>
<path d="M496.6 164.8l2.3 3.6 6.7-2.1-2.3-3.7z" fill="#3cba9b"/>
<path d="M560.6 212.7l2.3 4.6 6.9-1-2.3-4.7z" fill="#066edf"/>
<path d="M441 163.9l2.2 2.8 6.6-2.3-2.3-2.8z" fill="#43bb97"/>
<path d="M519.4 175.9l2.3 4.1 6.8-1.8-2.4-4.2z" fill="#11afb7"/>
<path d="M508 170l2.3 3.8 6.7-1.9-2.3-3.9z" fill="#26b5a9"/>
<path d="M546.9 200l2.3 4.6 6.8-1.2-2.3-4.7z" fill="#1486d4"/>
<path d="M476.4 159.1l2.3 3.2 6.6-2.2-2.3-3.3z" fill="#5cbe8a"/>
<path d="M436.6 151l2.2 2.7 6.5-2.4-2.2-2.7z" fill="#88bf77"/>
<path d="M456.3 154.5l2.3 3 6.6-2.3-2.3-3z" fill="#76bf7e"/>
<path d="M558.3 230.3l2.3 4.5 3.7-.5 2.7-1.4-1.8-3.5z" fill="#353aa8"/>
<path d="M533.1 187l2.4 4.6 6.8-1.5-2.4-4.8z" fill="#06a1cc"/>
<path d="M562.9 217.3l2.3 4.5 6.9-.9-2.3-4.6z" fill="#0266e1"/>
<path d="M487.6 163.5l2.3 3.4 6.7-2.1-2.3-3.5z" fill="#46bb96"/>
<path d="M549.2 204.6l2.3 4.6 6.8-1.2-2.3-4.6z" fill="#137ed7"/>
<path d="M521.7 180l2.3 4.3 6.8-1.8-2.3-4.3z" fill="#09abbf"/>
<path d="M467.5 158.2l2.2 3.1 6.7-2.2-2.3-3.2z" fill="#64be86"/>
<path d="M498.9 168.4l2.3 3.6 6.8-2-2.4-3.7z" fill="#30b7a3"/>
<path d="M447.5 154l2.3 2.9 6.5-2.4-2.2-2.8z" fill="#7bbf7c"/>
<path d="M535.5 191.6l2.3 4.8 6.8-1.4-2.3-4.9z" fill="#089ad0"/>
<path d="M510.3 173.8l2.3 4 6.8-1.9-2.4-4z" fill="#1bb2b1"/>
<path d="M565.2 221.8l1.8 3.6 5.8-3-.7-1.5z" fill="#1459db"/>
<path d="M443.2 166.7l2.2 2.9 6.6-2.3-2.2-2.9z" fill="#3ab99c"/>
<path d="M551.5 209.2l2.3 4.5 6.8-1-2.3-4.7z" fill="#0f77db"/>
<path d="M478.7 162.3l2.2 3.3 6.7-2.1-2.3-3.4z" fill="#50bc90"/>
<path d="M560.6 234.8l.6 1.1 3.1-1.6z" fill="#362f91"/>
<path d="M537.8 196.4l2.3 4.9 6.8-1.3-2.3-5z" fill="#0f90d2"/>
<path d="M458.6 157.5l2.2 3 6.7-2.3-2.3-3z" fill="#6bbf83"/>
<path d="M438.8 153.7l2.2 2.7 6.5-2.4-2.2-2.7z" fill="#80bf7a"/>
<path d="M524 184.3l2.3 4.3 6.8-1.6-2.3-4.5z" fill="#06a7c6"/>
<path d="M468.3 235.6l4.3 3.1 5.8-2.5-4.3-3.1z" fill="#363398"/>
<path d="M489.9 166.9l2.3 3.5 6.7-2-2.3-3.6z" fill="#3ab99d"/>
<path d="M549.2 226.8l2.3 4.4 6.8-.9-2.2-4.5z" fill="#2d49c4"/>
<path d="M512.6 177.8l2.3 4 6.8-1.8-2.3-4.1z" fill="#10afb8"/>
<path d="M501.2 172l2.4 3.8 6.7-2-2.3-3.8z" fill="#24b5aa"/>
<path d="M551 234.2l4.4 3.1 5.8-2.6-4.4-3z" fill="#3638a2"/>
<path d="M553.8 213.7l2.3 4.6 6.8-1-2.3-4.6z" fill="#0770df"/>
<path d="M469.7 161.3l2.3 3.2 6.7-2.2-2.3-3.2z" fill="#58bd8c"/>
<path d="M540.1 201.3l2.3 4.5 6.8-1.2-2.3-4.6z" fill="#1487d3"/>
<path d="M449.8 156.9l2.2 2.9 6.6-2.3-2.3-3z" fill="#72bf80"/>
<path d="M526.3 188.6l2.3 4.6 6.9-1.6-2.4-4.6z" fill="#06a1cc"/>
<path d="M445.4 169.6l2.2 3 6.6-2.3-2.2-3z" fill="#32b8a1"/>
<path d="M478.4 236.2l4.4 3.1 5.8-2.6-4.3-3z" fill="#363399"/>
<path d="M480.9 165.6l2.3 3.4 6.7-2.1-2.3-3.4z" fill="#43bb97"/>
<path d="M551.5 231.2l2.2 4.4 6.9-.8-2.3-4.5z" fill="#353dad"/>
<path d="M556.1 218.3l2.2 4.5 6.9-1-2.3-4.5z" fill="#0268e1"/>
<path d="M514.9 181.8l2.3 4.2 6.8-1.7-2.3-4.3z" fill="#09abbf"/>
<path d="M460.8 160.5l2.3 3.1 6.6-2.3-2.2-3.1z" fill="#61be88"/>
<path d="M492.2 170.4l2.3 3.7 6.7-2.1-2.3-3.6z" fill="#2eb7a4"/>
<path d="M542.4 205.8l2.3 4.5 6.8-1.1-2.3-4.6z" fill="#137fd7"/>
<path d="M441 156.4l2.2 2.8 6.6-2.3-2.3-2.9z" fill="#78bf7d"/>
<path d="M503.6 175.8l2.3 3.9 6.7-1.9-2.3-4z" fill="#19b2b1"/>
<path d="M528.6 193.2l2.4 4.6 6.8-1.4-2.3-4.8z" fill="#089ad0"/>
<path d="M553.7 235.6l1.7 3.2 5.8-2.9-.6-1.1z" fill="#363297"/>
<path d="M472 164.5l2.3 3.3 6.6-2.2-2.2-3.3z" fill="#4cbc92"/>
<path d="M558.3 222.8l2.3 4.5 3.7-.5 2.7-1.4-1.8-3.6z" fill="#0d5dde"/>
<path d="M452 159.8l2.2 3 6.6-2.3-2.2-3z" fill="#68be84"/>
<path d="M544.7 210.3l2.2 4.5 6.9-1.1-2.3-4.5z" fill="#1078da"/>
<path d="M517.2 186l2.3 4.3 6.8-1.7-2.3-4.3z" fill="#06a7c6"/>
<path d="M531 197.8l2.2 4.8 6.9-1.3-2.3-4.9z" fill="#0e91d2"/>
<path d="M483.2 169l2.3 3.5 6.7-2.1-2.3-3.5z" fill="#37b99e"/>
<path d="M447.6 172.6l2.3 3 6.6-2.3-2.3-3z" fill="#2ab6a6"/>
<path d="M494.5 174.1l2.3 3.7 6.8-2-2.4-3.8z" fill="#23b4ab"/>
<path d="M505.9 179.7l2.3 4 6.7-1.9-2.3-4z" fill="#10afb9"/>
<path d="M463.1 163.6l2.3 3.1 6.6-2.2-2.3-3.2z" fill="#55bd8e"/>
<path d="M546.9 214.8l2.3 4.5 6.9-1-2.3-4.6z" fill="#0971de"/>
<path d="M443.2 159.2l2.2 2.9 6.6-2.3-2.2-2.9z" fill="#6ebf81"/>
<path d="M533.2 202.6l2.3 4.4 6.9-1.2-2.3-4.5z" fill="#1388d3"/>
<path d="M519.5 190.3l2.3 4.4 6.8-1.5-2.3-4.6z" fill="#06a1cc"/>
<path d="M474.3 167.8l2.3 3.4 6.6-2.2-2.3-3.4z" fill="#41ba99"/>
<path d="M560.6 227.3l.6 1.1 3.1-1.6z" fill="#274dcb"/>
<path d="M545.2 236.8l4.3 3.1 5.9-2.6-4.4-3.1z" fill="#3637a0"/>
<path d="M485.5 172.5l2.3 3.6 6.7-2-2.3-3.7z" fill="#2cb7a5"/>
<path d="M508.2 183.7l2.3 4 6.7-1.7-2.3-4.2z" fill="#09abbf"/>
<path d="M454.2 162.8l2.3 3 6.6-2.2-2.3-3.1z" fill="#5dbe8a"/>
<path d="M544.6 232.1l2.3 4.4 6.8-.9-2.2-4.4z" fill="#3440b3"/>
<path d="M496.8 177.8l2.3 3.8 6.8-1.9-2.3-3.9z" fill="#18b1b2"/>
<path d="M449.9 175.6l2.2 3.1 6.6-2.2-2.2-3.2z" fill="#22b4ac"/>
<path d="M549.2 219.3l2.3 4.4 6.8-.9-2.2-4.5z" fill="#026ae1"/>
<path d="M535.5 207l2.3 4.5 6.9-1.2-2.3-4.5z" fill="#1480d6"/>
<path d="M521.8 194.7l2.3 4.5 6.9-1.4-2.4-4.6z" fill="#089bd0"/>
<path d="M472.6 238.7l4.4 3.1 5.8-2.5-4.4-3.1z" fill="#363297"/>
<path d="M465.4 166.7l2.2 3.3 6.7-2.2-2.3-3.3z" fill="#49bc94"/>
<path d="M445.4 162.1l2.2 2.9 6.6-2.2-2.2-3z" fill="#64be86"/>
<path d="M546.9 236.5l2.2 4.3 2.7-.3 3.6-1.7-1.7-3.2z" fill="#36359d"/>
<path d="M476.6 171.2l2.2 3.4 6.7-2.1-2.3-3.5z" fill="#35b89f"/>
<path d="M551.5 223.7l2.2 4.4 6.9-.8-2.3-4.5z" fill="#0860df"/>
<path d="M510.5 187.7l2.3 4.2 6.7-1.6-2.3-4.3z" fill="#06a7c6"/>
<path d="M537.8 211.5l2.3 4.4 6.8-1.1-2.2-4.5z" fill="#1079da"/>
<path d="M524.1 199.2l2.3 4.7 6.8-1.3-2.2-4.8z" fill="#0e92d2"/>
<path d="M487.8 176.1l2.3 3.6 6.7-1.9-2.3-3.7z" fill="#21b4ac"/>
<path d="M499.1 181.6l2.3 3.9 6.8-1.8-2.3-4z" fill="#0faeb9"/>
<path d="M482.8 239.3l4.3 3.1 5.8-2.6-4.3-3.1z" fill="#363398"/>
<path d="M456.5 165.8l2.2 3.1 6.7-2.2-2.3-3.1z" fill="#52bd8f"/>
<path d="M452.1 178.7l2.2 3.1 6.7-2.1-2.3-3.2z" fill="#1ab2b1"/>
<path d="M553.7 228.1l1.7 3.2 5.8-2.9-.6-1.1z" fill="#2251d1"/>
<path d="M526.4 203.9l2.3 4.4 6.8-1.3-2.3-4.4z" fill="#1389d3"/>
<path d="M512.8 191.9l2.2 4.3 6.8-1.5-2.3-4.4z" fill="#06a2cc"/>
<path d="M467.6 170l2.3 3.3 6.7-2.1-2.3-3.4z" fill="#3eba9a"/>
<path d="M540.1 215.9l2.3 4.3 6.8-.9-2.3-4.5z" fill="#0a73dd"/>
<path d="M478.8 174.6l2.3 3.5 6.7-2-2.3-3.6z" fill="#2ab6a6"/>
<path d="M549.1 240.8l.4 .8 2.3-1.1z" fill="#352b88"/>
<path d="M447.6 165l2.3 3 6.6-2.2-2.3-3z" fill="#59bd8b"/>
<path d="M501.4 185.5l2.3 4 6.8-1.8-2.3-4z" fill="#08abc0"/>
<path d="M490.1 179.7l2.3 3.8 6.7-1.9-2.3-3.8z" fill="#17b1b3"/>
<path d="M537.8 233.1l2.2 4.3 6.9-.9-2.3-4.4z" fill="#3243b8"/>
<path d="M542.4 220.2l2.2 4.4 6.9-.9-2.3-4.4z" fill="#036ce0"/>
<path d="M528.7 208.3l2.3 4.3 6.8-1.1-2.3-4.5z" fill="#1481d5"/>
<path d="M515 196.2l2.3 4.5 6.8-1.5-2.3-4.5z" fill="#079bd0"/>
<path d="M458.7 168.9l2.3 3.2 6.6-2.1-2.2-3.3z" fill="#46bb95"/>
<path d="M454.3 181.8l2.2 3.2 6.7-2.1-2.2-3.2z" fill="#13b0b6"/>
<path d="M539.4 239.4l4.3 3 5.8-2.5-4.3-3.1z" fill="#36369e"/>
<path d="M469.9 173.3l2.2 3.4 6.7-2.1-2.2-3.4z" fill="#33b8a1"/>
<path d="M503.7 189.5l2.3 4.1 6.8-1.7-2.3-4.2z" fill="#06a7c6"/>
<path d="M481.1 178.1l2.2 3.6 6.8-2-2.3-3.6z" fill="#20b4ad"/>
<path d="M540 237.4l2.2 4.2 6.9-.8-2.2-4.3z" fill="#3638a3"/>
<path d="M492.4 183.5l2.2 3.8 6.8-1.8-2.3-3.9z" fill="#0eaeba"/>
<path d="M517.3 200.7l2.3 4.5 6.8-1.3-2.3-4.7z" fill="#0d92d2"/>
<path d="M544.6 224.6l2.3 4.4 6.8-.9-2.2-4.4z" fill="#0363e1"/>
<path d="M531 212.6l2.2 4.3 6.9-1-2.3-4.4z" fill="#117bd9"/>
<path d="M449.9 168l2.2 3.1 6.6-2.2-2.2-3.1z" fill="#4fbc91"/>
<path d="M542.2 241.6l1.5 2.8 5.8-2.8-.4-.8z" fill="#362e8e"/>
<path d="M461 172.1l2.2 3.3 6.7-2.1-2.3-3.3z" fill="#3bba9c"/>
<path d="M456.5 185l2.2 3.3 6.7-2-2.2-3.4z" fill="#0dadbb"/>
<path d="M506 193.6l2.2 4.2 6.8-1.6-2.2-4.3z" fill="#06a2cc"/>
<path d="M519.6 205.2l2.3 4.3 6.8-1.2-2.3-4.4z" fill="#138ad3"/>
<path d="M533.2 216.9l2.3 4.3 6.9-1-2.3-4.3z" fill="#0c74dd"/>
<path d="M546.9 229l2.2 4.3 2.7-.3 3.6-1.7-1.7-3.2z" fill="#1b55d7"/>
<path d="M472.1 176.7l2.3 3.4 6.7-2-2.3-3.5z" fill="#28b6a7"/>
<path d="M494.6 187.3l2.3 3.9 6.8-1.7-2.3-4z" fill="#08abc0"/>
<path d="M477 241.8l4.3 3.1 5.8-2.5-4.3-3.1z" fill="#363296"/>
<path d="M483.3 181.7l2.3 3.7 6.8-1.9-2.3-3.8z" fill="#16b1b4"/>
<path d="M452.1 171.1l2.2 3.2 6.7-2.2-2.3-3.2z" fill="#44bb97"/>
<path d="M508.2 197.8l2.3 4.3 6.8-1.4-2.3-4.5z" fill="#079bd0"/>
<path d="M521.9 209.5l2.2 4.2 6.9-1.1-2.3-4.3z" fill="#1482d5"/>
<path d="M535.5 221.2l2.3 4.3 6.8-.9-2.2-4.4z" fill="#056de0"/>
<path d="M458.7 188.3l2.2 3.4 6.7-2-2.2-3.4z" fill="#08abc0"/>
<path d="M463.2 175.4l2.2 3.3 6.7-2-2.2-3.4z" fill="#31b8a2"/>
<path d="M487.1 242.4l4.4 3.1 5.8-2.6-4.4-3.1z" fill="#363297"/>
<path d="M496.9 191.2l2.3 4 6.8-1.6-2.3-4.1z" fill="#06a7c6"/>
<path d="M474.4 180.1l2.2 3.6 6.7-2-2.2-3.6z" fill="#1eb3ae"/>
<path d="M485.6 185.4l2.3 3.7 6.7-1.8-2.2-3.8z" fill="#0eaeba"/>
<path d="M549.1 233.3l.4 .8 2.3-1.1z" fill="#2e48c1"/>
<path d="M510.5 202.1l2.3 4.4 6.8-1.3-2.3-4.5z" fill="#0c93d2"/>
<path d="M533.1 238.2l2.3 4.2 6.8-.8-2.2-4.2z" fill="#353ba9"/>
<path d="M524.1 213.7l2.3 4.3 6.8-1.1-2.2-4.3z" fill="#127cd8"/>
<path d="M537.8 225.5l2.2 4.3 6.9-.8-2.3-4.4z" fill="#0265e1"/>
<path d="M533.6 241.9l4.3 3.1 5.8-2.6-4.3-3z" fill="#36359c"/>
<path d="M454.3 174.3l2.2 3.2 6.7-2.1-2.2-3.3z" fill="#39b99d"/>
<path d="M499.2 195.2l2.2 4.1 6.8-1.5-2.2-4.2z" fill="#06a2cc"/>
<path d="M460.9 191.7l2.2 3.4 6.8-2-2.3-3.4z" fill="#06a7c5"/>
<path d="M465.4 178.7l2.2 3.4 6.8-2-2.3-3.4z" fill="#27b5a9"/>
<path d="M512.8 206.5l2.2 4.2 6.9-1.2-2.3-4.3z" fill="#128bd3"/>
<path d="M487.9 189.1l2.2 3.9 6.8-1.8-2.3-3.9z" fill="#08aac0"/>
<path d="M476.6 183.7l2.3 3.6 6.7-1.9-2.3-3.7z" fill="#15b1b4"/>
<path d="M526.4 218l2.2 4.2 6.9-1-2.3-4.3z" fill="#0d76dc"/>
<path d="M540 229.8l2.2 4.3 6.9-.8-2.2-4.3z" fill="#135adb"/>
<path d="M535.4 242.4l2.2 4.2 1.9-.2 4.2-2-1.5-2.8z" fill="#363194"/>
<path d="M501.4 199.3l2.3 4.2 6.8-1.4-2.3-4.3z" fill="#079cd0"/>
<path d="M542.2 234.1l1.5 2.8 5.8-2.8-.4-.8z" fill="#2a4bc8"/>
<path d="M456.5 177.5l2.2 3.3 6.7-2.1-2.2-3.3z" fill="#2fb7a3"/>
<path d="M515 210.7l2.3 4.2 6.8-1.2-2.2-4.2z" fill="#1483d4"/>
<path d="M528.6 222.2l2.3 4.3 6.9-1-2.3-4.3z" fill="#066fdf"/>
<path d="M463.1 195.1l2.3 3.5 6.7-1.9-2.2-3.6z" fill="#06a4c9"/>
<path d="M490.1 193l2.3 3.9 6.8-1.7-2.3-4z" fill="#06a6c6"/>
<path d="M467.6 182.1l2.3 3.5 6.7-1.9-2.2-3.6z" fill="#1db3af"/>
<path d="M478.9 187.3l2.2 3.6 6.8-1.8-2.3-3.7z" fill="#0dadbb"/>
<path d="M503.7 203.5l2.2 4.3 6.9-1.3-2.3-4.4z" fill="#0c94d2"/>
<path d="M537.6 246.6l.3 .5 1.6-.7z" fill="#352a87"/>
<path d="M517.3 214.9l2.2 4.1 6.9-1-2.3-4.3z" fill="#137dd8"/>
<path d="M481.3 244.9l4.3 3.1 5.9-2.5-4.4-3.1z" fill="#363195"/>
<path d="M526.3 239.1l2.2 4.1 6.9-.8-2.3-4.2z" fill="#353eaf"/>
<path d="M530.9 226.5l2.2 4.2 6.9-.9-2.2-4.3z" fill="#0267e1"/>
<path d="M492.4 196.9l2.2 4 6.8-1.6-2.2-4.1z" fill="#06a2cc"/>
<path d="M458.7 180.8l2.2 3.3 6.7-2-2.2-3.4z" fill="#25b5aa"/>
<path d="M465.4 198.6l2.2 3.5 6.7-1.8-2.2-3.6z" fill="#06a0cd"/>
<path d="M469.9 185.6l2.2 3.6 6.8-1.9-2.3-3.6z" fill="#14b0b5"/>
<path d="M481.1 190.9l2.2 3.8 6.8-1.7-2.2-3.9z" fill="#08aac1"/>
<path d="M505.9 207.8l2.3 4.1 6.8-1.2-2.2-4.2z" fill="#128cd2"/>
<path d="M527.7 244.5l4.4 3.1 5.8-2.6-4.3-3.1z" fill="#36349a"/>
<path d="M519.5 219l2.3 4.2 6.8-1-2.2-4.2z" fill="#0e77db"/>
<path d="M528.5 243.2l2.2 4.1 6.9-.7-2.2-4.2z" fill="#36349b"/>
<path d="M533.1 230.7l2.3 4.2 6.8-.8-2.2-4.3z" fill="#0c5dde"/>
<path d="M491.5 245.5l4.3 3.1 5.8-2.6-4.3-3.1z" fill="#363296"/>
<path d="M494.6 200.9l2.3 4 6.8-1.4-2.3-4.2z" fill="#079cd0"/>
<path d="M467.6 202.1l2.2 3.6 6.8-1.7-2.3-3.7z" fill="#079bd0"/>
<path d="M460.9 184.1l2.2 3.5 6.8-2-2.3-3.5z" fill="#1cb2b0"/>
<path d="M508.2 211.9l2.2 4.1 6.9-1.1-2.3-4.2z" fill="#1485d4"/>
<path d="M530.7 247.3l1.4 2.5 5.8-2.7-.3-.5z" fill="#352b87"/>
<path d="M483.3 194.7l2.3 3.8 6.8-1.6-2.3-3.9z" fill="#06a6c6"/>
<path d="M472.1 189.2l2.2 3.6 6.8-1.9-2.2-3.6z" fill="#0dadbb"/>
<path d="M521.8 223.2l2.2 4.2 6.9-.9-2.3-4.3z" fill="#0870df"/>
<path d="M535.4 234.9l2.2 4.1 1.9-.2 4.2-1.9-1.5-2.8z" fill="#254fcf"/>
<path d="M496.9 204.9l2.2 4.2 6.8-1.3-2.2-4.3z" fill="#0b95d2"/>
<path d="M510.4 216l2.3 4.1 6.8-1.1-2.2-4.1z" fill="#137ed7"/>
<path d="M485.6 198.5l2.2 3.9 6.8-1.5-2.2-4z" fill="#06a2cb"/>
<path d="M524 227.4l2.3 4.1 6.8-.8-2.2-4.2z" fill="#0269e1"/>
<path d="M469.8 205.7l2.2 3.6 6.8-1.6-2.2-3.7z" fill="#0b95d2"/>
<path d="M463.1 187.6l2.3 3.4 6.7-1.8-2.2-3.6z" fill="#13b0b6"/>
<path d="M474.3 192.8l2.3 3.6 6.7-1.7-2.2-3.8z" fill="#08aac1"/>
<path d="M499.1 209.1l2.3 4 6.8-1.2-2.3-4.1z" fill="#118dd2"/>
<path d="M537.6 239l.3 .6 1.6-.8z" fill="#3243ba"/>
<path d="M512.7 220.1l2.2 4.1 6.9-1-2.3-4.2z" fill="#1078da"/>
<path d="M526.3 231.5l2.2 4.2 6.9-.8-2.3-4.2z" fill="#0761e0"/>
<path d="M521.6 244l2.3 4 6.8-.7-2.2-4.1z" fill="#3637a1"/>
<path d="M487.8 202.4l2.3 4 6.8-1.5-2.3-4z" fill="#079dcf"/>
<path d="M472 209.3l2.2 3.7 6.8-1.5-2.2-3.8z" fill="#108ed2"/>
<path d="M521.9 247.1l4.4 3 5.8-2.5-4.4-3.1z" fill="#363398"/>
<path d="M476.6 196.4l2.2 3.8 6.8-1.7-2.3-3.8z" fill="#06a6c6"/>
<path d="M465.4 191l2.2 3.6 6.7-1.8-2.2-3.6z" fill="#0cadbc"/>
<path d="M501.4 213.1l2.2 4 6.8-1.1-2.2-4.1z" fill="#1486d4"/>
<path d="M485.6 248l4.4 3.1 5.8-2.5-4.3-3.1z" fill="#363194"/>
<path d="M514.9 224.2l2.3 4.1 6.8-.9-2.2-4.2z" fill="#0a72de"/>
<path d="M528.5 235.7l2.2 4.1 6.9-.8-2.2-4.1z" fill="#1e54d5"/>
<path d="M490.1 206.4l2.2 4 6.8-1.3-2.2-4.2z" fill="#0b96d1"/>
<path d="M523.9 248l2.2 4 1.2-.1 4.8-2.1-1.4-2.5z" fill="#362e8e"/>
<path d="M474.2 213l2.2 3.7 6.8-1.4-2.2-3.8z" fill="#1388d3"/>
<path d="M478.8 200.2l2.2 3.7 6.8-1.5-2.2-3.9z" fill="#06a2cb"/>
<path d="M503.6 217.1l2.2 4.1 6.9-1.1-2.3-4.1z" fill="#137fd6"/>
<path d="M467.6 194.6l2.2 3.6 6.8-1.8-2.3-3.6z" fill="#07aac1"/>
<path d="M530.7 239.8l1.4 2.4 5.8-2.6-.3-.6z" fill="#2e47c1"/>
<path d="M517.2 228.3l2.2 4.1 6.9-.9-2.3-4.1z" fill="#036be0"/>
<path d="M492.3 210.4l2.2 3.9 6.9-1.2-2.3-4z" fill="#108ed2"/>
<path d="M476.4 216.7l2.2 3.8 6.9-1.3-2.3-3.9z" fill="#1482d5"/>
<path d="M505.8 221.2l2.3 4 6.8-1-2.2-4.1z" fill="#107ada"/>
<path d="M481 203.9l2.2 3.9 6.9-1.4-2.3-4z" fill="#079dcf"/>
<path d="M519.4 232.4l2.2 4.1 6.9-.8-2.2-4.2z" fill="#0364e1"/>
<path d="M469.8 198.2l2.2 3.6 6.8-1.6-2.2-3.8z" fill="#06a6c7"/>
<path d="M526.1 252l.2 .3 1-.4z" fill="#352a87"/>
<path d="M514.8 244.8l2.2 3.9 6.9-.7-2.3-4z" fill="#353aa7"/>
<path d="M494.5 214.3l2.3 4 6.8-1.2-2.2-4z" fill="#1487d3"/>
<path d="M508.1 225.2l2.2 4 6.9-.9-2.3-4.1z" fill="#0b74dd"/>
<path d="M478.6 220.5l2.3 3.7 6.8-1.2-2.2-3.8z" fill="#127cd8"/>
<path d="M516.1 249.6l4.3 3.1 5.9-2.6-4.4-3z" fill="#363296"/>
<path d="M483.2 207.8l2.3 3.9 6.8-1.3-2.2-4z" fill="#0a97d1"/>
<path d="M521.6 236.5l2.3 4 6.8-.7-2.2-4.1z" fill="#1658da"/>
<path d="M517 248.7l2.2 4 6.9-.7-2.2-4z" fill="#363195"/>
<path d="M472 201.8l2.2 3.7 6.8-1.6-2.2-3.7z" fill="#06a2cb"/>
<path d="M496.8 218.3l2.2 3.9 6.8-1-2.2-4.1z" fill="#1481d6"/>
<path d="M519.2 252.7l1.2 2.2 5.9-2.6-.2-.3z" fill="#352a87"/>
<path d="M510.3 229.2l2.2 4 6.9-.8-2.2-4.1z" fill="#056de0"/>
<path d="M480.9 224.2l2.2 3.8 6.8-1.1-2.2-3.9z" fill="#0e77db"/>
<path d="M485.5 211.7l2.2 3.8 6.8-1.2-2.2-3.9z" fill="#0f8fd2"/>
<path d="M490 251.1l4.3 3.1 5.8-2.5-4.3-3.1z" fill="#363093"/>
<path d="M523.9 240.5l2.2 4 1.2-.1 4.8-2.2-1.4-2.4z" fill="#2b4bc8"/>
<path d="M474.2 205.5l2.2 3.7 6.8-1.4-2.2-3.9z" fill="#079dcf"/>
<path d="M499 222.2l2.2 4 6.9-1-2.3-4z" fill="#117bd9"/>
<path d="M512.5 233.2l2.3 4 6.8-.7-2.2-4.1z" fill="#0266e1"/>
<path d="M483.1 228l2.2 3.9 6.8-1.1-2.2-3.9z" fill="#0971de"/>
<path d="M487.7 215.5l2.2 3.9 6.9-1.1-2.3-4z" fill="#1388d3"/>
<path d="M476.4 209.2l2.2 3.7 6.9-1.2-2.3-3.9z" fill="#0997d1"/>
<path d="M501.2 226.2l2.2 3.9 6.9-.9-2.2-4z" fill="#0d75dc"/>
<path d="M526.1 244.5l.2 .3 1-.4z" fill="#3341b4"/>
<path d="M514.8 237.2l2.2 4 6.9-.7-2.3-4z" fill="#0e5dde"/>
<path d="M510.1 249.5l2.2 3.8 6.9-.6-2.2-4z" fill="#36349b"/>
<path d="M489.9 219.4l2.2 3.9 6.9-1.1-2.2-3.9z" fill="#1482d5"/>
<path d="M485.3 231.9l2.2 3.8 6.9-1-2.3-3.9z" fill="#036ce0"/>
<path d="M510.3 252.2l4.3 3.1 5.8-2.6-4.3-3.1z" fill="#363194"/>
<path d="M503.4 230.1l2.3 4 6.8-.9-2.2-4z" fill="#076fdf"/>
<path d="M478.6 212.9l2.3 3.8 6.8-1.2-2.2-3.8z" fill="#0f90d2"/>
<path d="M517 241.2l2.2 4 6.9-.7-2.2-4z" fill="#2450cf"/>
<path d="M492.1 223.3l2.3 3.9 6.8-1-2.2-4z" fill="#127cd8"/>
<path d="M487.5 235.7l2.2 3.8 6.9-.9-2.2-3.9z" fill="#0364e1"/>
<path d="M512.3 253.3l2.2 3.9 .6-.1 5.3-2.2-1.2-2.2z" fill="#352c8a"/>
<path d="M519.2 245.2l1.2 2.1 5.9-2.5-.2-.3z" fill="#3145bc"/>
<path d="M505.7 234.1l2.2 3.9 6.9-.8-2.3-4z" fill="#0269e1"/>
<path d="M480.9 216.7l2.2 3.8 6.8-1.1-2.2-3.9z" fill="#1389d3"/>
<path d="M494.4 227.2l2.2 3.9 6.8-1-2.2-3.9z" fill="#0e77db"/>
<path d="M489.7 239.5l2.2 3.8 6.9-.8-2.2-3.9z" fill="#115bdc"/>
<path d="M494.3 254.2l4.4 3.1 5.8-2.5-4.4-3.1z" fill="#363092"/>
<path d="M507.9 238l2.2 3.9 6.9-.7-2.2-4z" fill="#0860e0"/>
<path d="M503.2 250.2l2.2 3.8 6.9-.7-2.2-3.8z" fill="#3638a2"/>
<path d="M483.1 220.5l2.2 3.8 6.8-1-2.2-3.9z" fill="#1483d5"/>
<path d="M514.5 257.2l.1 .1 .5-.2z" fill="#352a87"/>
<path d="M496.6 231.1l2.2 3.9 6.9-.9-2.3-4z" fill="#0871de"/>
<path d="M491.9 243.3l2.2 3.8 6.9-.8-2.2-3.8z" fill="#264fcd"/>
<path d="M504.5 254.8l4.3 3.1 5.8-2.6-4.3-3.1z" fill="#363093"/>
<path d="M510.1 241.9l2.2 3.9 6.9-.6-2.2-4z" fill="#1d54d5"/>
<path d="M485.3 224.3l2.2 3.9 6.9-1-2.3-3.9z" fill="#137ed7"/>
<path d="M505.4 254l2.3 3.8 6.8-.6-2.2-3.9z" fill="#362f91"/>
<path d="M498.8 235l2.2 3.8 6.9-.8-2.2-3.9z" fill="#036be1"/>
<path d="M494.1 247.1l2.3 3.8 6.8-.7-2.2-3.9z" fill="#3144bb"/>
<path d="M507.7 257.8l1.1 1.9 5.8-2.4-.1-.1z" fill="#352a87"/>
<path d="M487.5 228.2l2.2 3.8 6.9-.9-2.2-3.9z" fill="#0f78db"/>
<path d="M512.3 245.8l2.2 3.8 .6 0 5.3-2.3-1.2-2.1z" fill="#2d49c3"/>
<path d="M501 238.8l2.2 3.9 6.9-.8-2.2-3.9z" fill="#0363e1"/>
<path d="M496.4 250.9l2.2 3.7 6.8-.6-2.2-3.8z" fill="#353ba9"/>
<path d="M489.7 232l2.2 3.8 6.9-.8-2.2-3.9z" fill="#0a73de"/>
<path d="M503.2 242.7l2.2 3.8 6.9-.7-2.2-3.9z" fill="#1459db"/>
<path d="M514.5 249.6l.1 .2 .5-.2z" fill="#343fb1"/>
<path d="M498.6 254.6l2.2 3.7 6.9-.5-2.3-3.8z" fill="#363398"/>
<path d="M498.7 257.3l4.3 3.1 5.8-2.5-4.3-3.1z" fill="#362f91"/>
<path d="M491.9 235.8l2.2 3.8 6.9-.8-2.2-3.8z" fill="#046de0"/>
<path d="M505.4 246.5l2.3 3.7 6.8-.6-2.2-3.8z" fill="#284dcb"/>
<path d="M500.8 258.3l2.2 3.7 0 0 5.8-2.3-1.1-1.9z" fill="#352b88"/>
<path d="M494.1 239.6l2.3 3.8 6.8-.7-2.2-3.9z" fill="#0266e1"/>
<path d="M507.7 250.2l1.1 2 5.8-2.4-.1-.2z" fill="#3243b9"/>
<path d="M496.4 243.4l2.2 3.7 6.8-.6-2.2-3.8z" fill="#0c5ede"/>
<path d="M498.6 247.1l2.2 3.7 6.9-.6-2.3-3.7z" fill="#2152d2"/>
<path d="M500.8 250.8l2.2 3.7 0 0 5.8-2.3-1.1-2z" fill="#2e48c1"/>
</g>
<line x1="394.5" y1="217.2" x2="394.5" y2="60.5" stroke="#262626" stroke-width="0.8"/>
<line x1="394.5" y1="217.2" x2="503" y2="291" stroke="#262626" stroke-width="0.8"/>
<line x1="503" y1="291" x2="642.6" y2="235.5" stroke="#262626" stroke-width="0.8"/>
<line x1="394.5" y1="217.2" x2="391.69" y2="215.29" stroke="#262626" stroke-width="0.8"/>
<text x="388.49" y="217.89" font-size="11.6" text-anchor="end">40</text>
<line x1="394.5" y1="185.86" x2="391.69" y2="183.95" stroke="#262626" stroke-width="0.8"/>
<text x="388.49" y="186.55" font-size="11.6" text-anchor="end">60</text>
<line x1="394.5" y1="154.52" x2="391.69" y2="152.61" stroke="#262626" stroke-width="0.8"/>
<text x="388.49" y="155.21" font-size="11.6" text-anchor="end">80</text>
<line x1="394.5" y1="123.18" x2="391.69" y2="121.27" stroke="#262626" stroke-width="0.8"/>
<text x="388.49" y="123.87" font-size="11.6" text-anchor="end">100</text>
<line x1="394.5" y1="91.84" x2="391.69" y2="89.93" stroke="#262626" stroke-width="0.8"/>
<text x="388.49" y="92.53" font-size="11.6" text-anchor="end">120</text>
<line x1="394.5" y1="60.5" x2="391.69" y2="58.59" stroke="#262626" stroke-width="0.8"/>
<text x="388.49" y="61.19" font-size="11.6" text-anchor="end">140</text>
<line x1="394.5" y1="217.2" x2="391.34" y2="218.46" stroke="#262626" stroke-width="0.8"/>
<text x="387.54" y="232.56" font-size="11.6" text-anchor="end">1</text>
<line x1="448.75" y1="254.1" x2="445.59" y2="255.36" stroke="#262626" stroke-width="0.8"/>
<text x="441.79" y="269.46" font-size="11.6" text-anchor="end">0.5</text>
<line x1="503" y1="291" x2="499.84" y2="292.26" stroke="#262626" stroke-width="0.8"/>
<text x="496.04" y="306.36" font-size="11.6" text-anchor="end">0</text>
<line x1="503" y1="291" x2="505.81" y2="292.91" stroke="#262626" stroke-width="0.8"/>
<text x="509.21" y="305.51" font-size="11.6" text-anchor="start">0.2</text>
<line x1="549.53" y1="272.5" x2="552.34" y2="274.41" stroke="#262626" stroke-width="0.8"/>
<text x="555.34" y="287.01" font-size="11.6" text-anchor="start">0.4</text>
<line x1="596.07" y1="254" x2="598.88" y2="255.91" stroke="#262626" stroke-width="0.8"/>
<text x="601.48" y="268.81" font-size="11.6" text-anchor="start">0.6</text>
<line x1="642.6" y1="235.5" x2="645.41" y2="237.41" stroke="#262626" stroke-width="0.8"/>
<text x="648.81" y="250.61" font-size="11.6" text-anchor="start">0</text>
<text transform="translate(363.5,140.5) rotate(-90)" font-size="13.6" text-anchor="middle">Profit</text>
<text x="436" y="304" font-size="13.6" text-anchor="middle">λ</text>
<text x="577" y="307.8" font-size="13.6" text-anchor="middle" font-style="italic">k</text>
<line x1="379.9" y1="201.4" x2="421.93" y2="142" stroke="#111" stroke-width="0.85"/>
<polygon points="425.4,137.1 423.32,144.2 422.28,141.51 419.4,141.43" fill="#111"/>
<text x="347" y="211.1" font-size="8.2" text-anchor="start">π</text>
<text x="351.9" y="207.1" font-size="6.3" text-anchor="start" font-style="italic">RF</text>
<text x="351.9" y="214.6" font-size="6.3" text-anchor="start" font-style="italic">M</text>
<text x="361.3" y="211.1" font-size="8.2" text-anchor="start">(F=5)</text>
<line x1="405.7" y1="243.1" x2="429.74" y2="159.37" stroke="#111" stroke-width="0.85"/>
<polygon points="431.4,153.6 431.77,160.99 429.91,158.79 427.16,159.67" fill="#111"/>
<text x="389.7" y="253.9" font-size="8.2" text-anchor="start">π</text>
<text x="394.6" y="250" font-size="6.3" text-anchor="start" font-style="italic">RF</text>
<text x="394.6" y="257.4" font-size="6.3" text-anchor="start" font-style="italic">M</text>
<text x="404" y="253.9" font-size="8.2" text-anchor="start">(F=10)</text>
<rect x="554.3" y="0.3" width="66.4" height="60.8" fill="#fff" stroke="#262626" stroke-width="0.7"/>
<rect x="556.1" y="3.1" width="11.5" height="15.7" fill="#3a38aa" stroke="#1a1a1a" stroke-width="0.6"/>
<text x="571.4" y="14.3" font-size="10.1" text-anchor="start">π</text>
<text x="578.1" y="8.9" font-size="7.6" text-anchor="start" font-style="italic">RI</text>
<text x="578.1" y="19.3" font-size="7.6" text-anchor="start" font-style="italic">R</text>
<rect x="556.1" y="23.1" width="11.5" height="15.6" fill="#96c473" stroke="#1a1a1a" stroke-width="0.6"/>
<text x="571.4" y="34.3" font-size="10.1" text-anchor="start">π</text>
<text x="577.9" y="28.6" font-size="7.6" text-anchor="start" font-style="italic">RF</text>
<text x="578.1" y="38.9" font-size="7.6" text-anchor="start" font-style="italic">M</text>
<text x="590" y="34.3" font-size="10.1" text-anchor="start">(F=5)</text>
<rect x="556.1" y="43.1" width="11.5" height="15.3" fill="#54be8c" stroke="#1a1a1a" stroke-width="0.6"/>
<text x="571.4" y="53.3" font-size="10.1" text-anchor="start">π</text>
<text x="577.9" y="48.6" font-size="7.6" text-anchor="start" font-style="italic">RF</text>
<text x="578.1" y="58.6" font-size="7.6" text-anchor="start" font-style="italic">M</text>
<text x="590.4" y="53.3" font-size="10.1" text-anchor="start">(F=10)</text>
<defs><linearGradient id="cbR" x1="0" y1="0" x2="0" y2="1"><stop offset="0" stop-color="#f9fb0e"/><stop offset="0.02" stop-color="#f6f313"/><stop offset="0.03" stop-color="#f5eb18"/><stop offset="0.05" stop-color="#f5e41d"/><stop offset="0.06" stop-color="#f5de21"/><stop offset="0.08" stop-color="#f7d826"/><stop offset="0.1" stop-color="#fad32a"/><stop offset="0.11" stop-color="#fcce2e"/><stop offset="0.13" stop-color="#fec832"/><stop offset="0.14" stop-color="#ffc337"/><stop offset="0.16" stop-color="#fdbe3d"/><stop offset="0.17" stop-color="#f8bb44"/><stop offset="0.19" stop-color="#f1b94a"/><stop offset="0.21" stop-color="#e9b94e"/><stop offset="0.22" stop-color="#e1b952"/><stop offset="0.24" stop-color="#d9ba56"/><stop offset="0.25" stop-color="#d1bb59"/><stop offset="0.27" stop-color="#c8bc5d"/><stop offset="0.29" stop-color="#c0bc60"/><stop offset="0.3" stop-color="#b7bd64"/><stop offset="0.32" stop-color="#aebe67"/><stop offset="0.33" stop-color="#a5be6b"/><stop offset="0.35" stop-color="#9cbf6f"/><stop offset="0.37" stop-color="#92bf73"/><stop offset="0.38" stop-color="#87bf77"/><stop offset="0.4" stop-color="#7cbf7b"/><stop offset="0.41" stop-color="#71bf80"/><stop offset="0.43" stop-color="#65be86"/><stop offset="0.44" stop-color="#59bd8c"/><stop offset="0.46" stop-color="#4dbc92"/><stop offset="0.48" stop-color="#42bb98"/><stop offset="0.49" stop-color="#38b99e"/><stop offset="0.51" stop-color="#2eb7a4"/><stop offset="0.52" stop-color="#25b5a9"/><stop offset="0.54" stop-color="#1db3af"/><stop offset="0.56" stop-color="#15b1b4"/><stop offset="0.57" stop-color="#0faeb9"/><stop offset="0.59" stop-color="#0aacbe"/><stop offset="0.6" stop-color="#07a9c2"/><stop offset="0.62" stop-color="#06a7c6"/><stop offset="0.63" stop-color="#06a4ca"/><stop offset="0.65" stop-color="#06a0cd"/><stop offset="0.67" stop-color="#079ccf"/><stop offset="0.68" stop-color="#0998d1"/><stop offset="0.7" stop-color="#0c93d2"/><stop offset="0.71" stop-color="#108ed2"/><stop offset="0.73" stop-color="#1389d3"/><stop offset="0.75" stop-color="#1485d4"/><stop offset="0.76" stop-color="#1481d6"/><stop offset="0.78" stop-color="#127dd8"/><stop offset="0.79" stop-color="#1079da"/><stop offset="0.81" stop-color="#0d75dc"/><stop offset="0.83" stop-color="#0871de"/><stop offset="0.84" stop-color="#046de0"/><stop offset="0.86" stop-color="#0268e1"/><stop offset="0.87" stop-color="#0363e1"/><stop offset="0.89" stop-color="#0f5cdd"/><stop offset="0.9" stop-color="#2053d4"/><stop offset="0.92" stop-color="#2c4ac7"/><stop offset="0.94" stop-color="#3243ba"/><stop offset="0.95" stop-color="#353dad"/><stop offset="0.97" stop-color="#3637a0"/><stop offset="0.98" stop-color="#363093"/><stop offset="1" stop-color="#352a87"/></linearGradient></defs>
<rect x="655.5" y="6.3" width="9.7" height="284" fill="url(#cbR)" stroke="#262626" stroke-width="0.7"/>
<line x1="662.4" y1="285.21" x2="665.2" y2="285.21" stroke="#262626" stroke-width="0.7"/>
<text x="669.2" y="288.81" font-size="10.9" text-anchor="start">60</text>
<line x1="662.4" y1="242.75" x2="665.2" y2="242.75" stroke="#262626" stroke-width="0.7"/>
<text x="669.2" y="246.35" font-size="10.9" text-anchor="start">70</text>
<line x1="662.4" y1="200.3" x2="665.2" y2="200.3" stroke="#262626" stroke-width="0.7"/>
<text x="669.2" y="203.9" font-size="10.9" text-anchor="start">80</text>
<line x1="662.4" y1="157.85" x2="665.2" y2="157.85" stroke="#262626" stroke-width="0.7"/>
<text x="669.2" y="161.45" font-size="10.9" text-anchor="start">90</text>
<line x1="662.4" y1="115.4" x2="665.2" y2="115.4" stroke="#262626" stroke-width="0.7"/>
<text x="669.2" y="119" font-size="10.9" text-anchor="start">100</text>
<line x1="662.4" y1="72.95" x2="665.2" y2="72.95" stroke="#262626" stroke-width="0.7"/>
<text x="669.2" y="76.55" font-size="10.9" text-anchor="start">110</text>
<line x1="662.4" y1="30.5" x2="665.2" y2="30.5" stroke="#262626" stroke-width="0.7"/>
<text x="669.2" y="34.1" font-size="10.9" text-anchor="start">120</text>
</g>
</svg>
</body></html>
